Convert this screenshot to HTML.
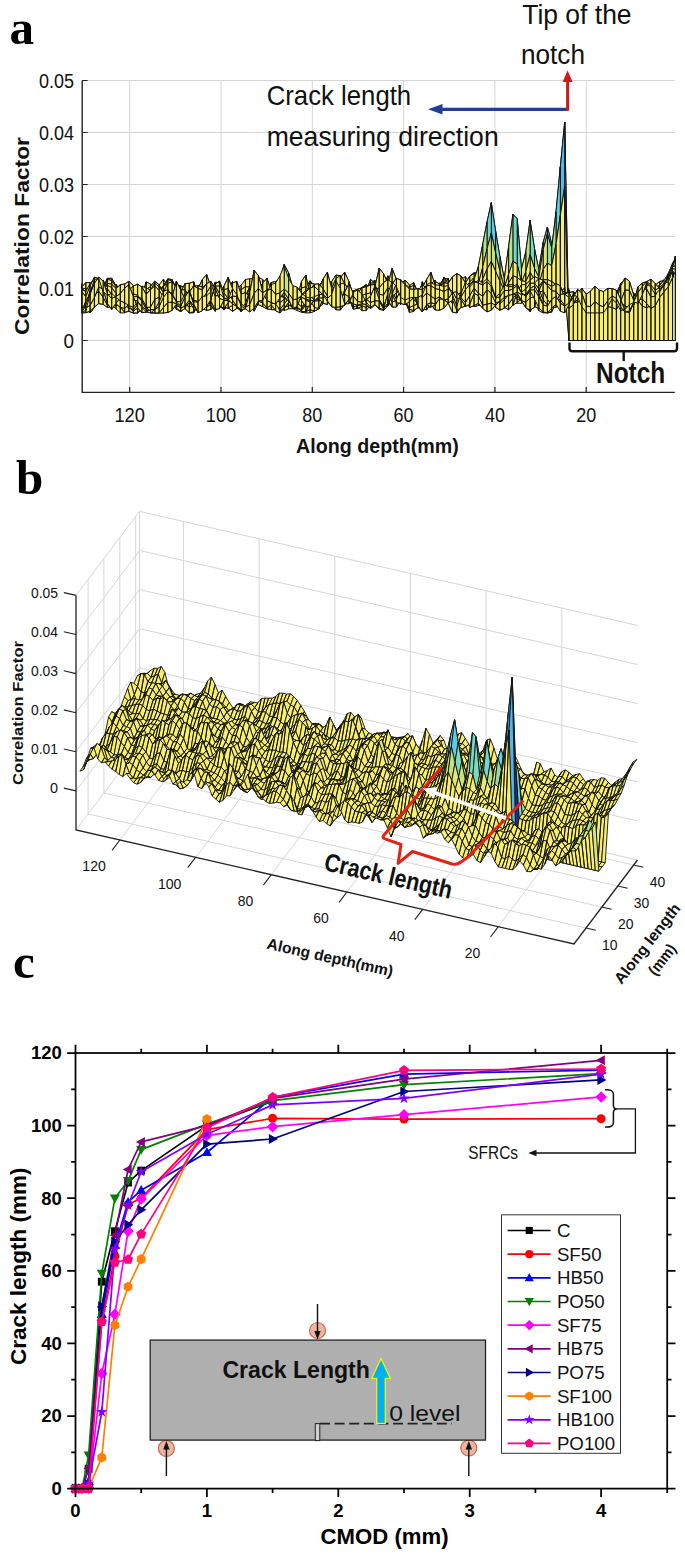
<!DOCTYPE html>
<html><head><meta charset="utf-8"><title>Figure</title>
<style>html,body{margin:0;padding:0;background:#fff}svg{display:block}text{font-family:"Liberation Sans",sans-serif}text.ser{font-family:"Liberation Serif",serif}</style>
</head><body>
<svg width="685" height="1555" viewBox="0 0 685 1555">
<rect width="685" height="1555" fill="#fff"/>
<path d="M586.2,80.5V392.4M494.9,80.5V392.4M403.6,80.5V392.4M312.3,80.5V392.4M221.0,80.5V392.4M129.7,80.5V392.4M82.2,80.5H674.8M82.2,132.5H674.8M82.2,184.5H674.8M82.2,236.5H674.8M82.2,288.5H674.8M82.2,340.5H674.8" stroke="#d4d4d4" stroke-width="1" fill="none"/>
<g stroke="#111" stroke-width="1" stroke-linejoin="round">
<path fill="#b3e286" d="M675.3,258.8l-2.8,5.6 0-1.4 2.8-4.1z"/>
<path fill="#c2e57f" d="M672.5,264.4l-4.3,9.4 0,1.1 4.3-11.9z"/>
<path fill="#e6eb71" d="M668.2,273.8l-4.3,7.5 0,3.9 4.3-10.3z"/>
<path fill="#f6ee6c" d="M663.9,281.3l-4.3,8.2 0-0.8 4.3-3.5zM659.6,289.5l-4.4,3.6 0-2.3 4.4-2.1zM655.2,293.1l-4.3,1.4 0,0.9 4.3-4.6zM650.9,294.5l-4.3,4.3 0,2.3 4.3-5.7zM646.6,298.8l-4.3,0.2 0-0.6 4.3,2.7zM642.3,299l-4.3-1.7 0-3.6 4.3,4.7zM638,297.3l-4.3,2.7 0-5.8 4.3-0.5zM633.7,300l-4.3,2.5 0-3.7 4.3-4.6zM629.4,302.5l-4.4-5.7 0,1.8 4.4,0.2zM625,296.8l-4.3-0.2 0,3.8 4.3-1.8zM620.7,296.6l-4.3,5.5 0,4.6 4.3-6.3zM616.4,302.1l-4.3-2.7 0,1.8 4.3,5.5zM612.1,299.4l-4.3-4.1 0-0.2 4.3,6.1zM607.8,295.3l-4.3-0.1 0,2.3 4.3-2.4zM603.5,295.2l-4.3,3.8 0,0.9 4.3-2.4zM599.2,299l-4.3,3.5 0-5.6 4.3,3zM594.9,302.5l-4.4-4.5 0-3.3 4.4,2.2zM590.5,298l-4.3,0.6 0-0.5 4.3-3.4zM586.2,298.6l-4.3,8.7 0-0.2 4.3-9zM581.9,307.3l-4.3,0.3 0-3 4.3,2.5zM577.6,307.6l-4.3-4.7 0-6.4 4.3,8.1zM573.3,302.9l-4.3-1.4 0-0.7 4.3-4.3zM569,301.5l-4.3,0.1 0,2.3 4.3-3.1zM564.7,301.6l-4.4,1.8 0-9.4 4.4,9.9zM560.3,303.4l-4.3,0.9 0-11.3 4.3,1zM556,304.3l-4.3,6.9 0,1 4.3-19.2zM551.7,311.2l-4.3,1.7 0,0 4.3-0.7zM547.4,312.9l-4.3-1.8 0,1.8 4.3,0zM543.1,311.1l-4.3-5 0,4.6 4.3,2.2zM538.8,306.1l-4.3-12.2 0,6.6 4.3,10.2zM534.5,293.9l-4.4-10.8 0,8.6 4.4,8.8zM530.1,283.1l-4.3,4.7 0,10.5 4.3-6.6zM525.8,287.8l-4.3,10.4 0,5.2 4.3-5.1zM521.5,298.2l-4.3,4.3 0,0.7 4.3,0.2zM517.2,302.5l-4.3,2.7 0-1.6 4.3-0.4zM512.9,305.2l-4.3,0.4 0-4.7 4.3,2.7zM508.6,305.6l-4.3-5.1 0-13.2 4.3,13.6zM504.3,300.5l-4.4-7.8 0-16.5 4.4,11.1zM499.9,292.7l-4.3-2.6 0-11.5 4.3-2.4zM495.6,290.1l-4.3,4.6 0-1.6 4.3-14.5zM491.3,294.7l-4.3,7.2 0-3.5 4.3-5.3zM487,301.9l-4.3,2.2 0-6.5 4.3,0.8zM482.7,304.1l-4.3-6.4 0-1.8 4.3,1.7zM478.4,297.7l-4.3-9.8 0,2.1 4.3,5.9zM474.1,287.9l-4.4-3.7 0-1.1 4.4,6.9zM469.7,284.2l-4.3,1.5 0-9.1 4.3,6.5zM465.4,285.7l-4.3,7.6 0-13.8 4.3-2.9zM461.1,293.3l-4.3,5.5 0-1.3 4.3-18zM456.8,298.8l-4.3,3.9 0,4.1 4.3-9.3zM452.5,302.7l-4.3-1.7 0,3 4.3,2.8zM448.2,301l-4.3-13.3 0,4.3 4.3,12zM443.9,287.7l-4.4,0 0-0.7 4.4,5zM439.5,287.7l-4.3,13.7 0-7.9 4.3-6.5zM435.2,301.4l-4.3,5.5 0-8 4.3-5.4zM430.9,306.9l-4.3,0.6 0-18.4 4.3,9.8zM426.6,307.5l-4.3,2.6 0-28.5 4.3,7.5zM422.3,310.1l-4.3-2.6 0-8.7 4.3-17.2zM418,307.5l-4.3-7.8 0,11.7 4.3-12.6zM413.7,299.7l-4.3,0 0,12.7 4.3-1zM409.4,299.7l-4.4-3 0,3.8 4.4,11.9zM405,296.7l-4.3-4.2 0,1.6 4.3,6.4zM400.7,292.5l-4.3,3.8 0,2.7 4.3-4.9zM396.4,296.3l-4.3-0.2 0,5.1 4.3-2.2zM392.1,296.1l-4.3,0.8 0,9.2 4.3-4.9zM387.8,296.9l-4.3,0.1 0,13.5 4.3-4.4zM383.5,297l-4.3-3.8 0,16.1 4.3,1.2zM379.2,293.2l-4.4,0.8 0,10 4.4,5.3zM374.8,294l-4.3,1.6 0,9.3 4.3-0.9zM370.5,295.6l-4.3,1.4 0,13.6 4.3-5.7zM366.2,297l-4.3,3.1 0,10.6 4.3-0.1zM361.9,300.1l-4.3,6.2 0,0.1 4.3,4.3zM357.6,306.3l-4.3,0.6 0-1.8 4.3,1.3zM353.3,306.9l-4.3-12.3 0,6.7 4.3,3.8z"/>
<path fill="#f0ed6e" d="M349,294.6l-4.4-17.4 0,11.6 4.4,12.5z"/>
<path fill="#f6ee6c" d="M344.6,277.2l-4.3,4.6 0,4.2 4.3,2.8zM340.3,281.8l-4.3,8.7 0-2.7 4.3-1.8zM336,290.5l-4.3,3 0-10 4.3,4.3zM331.7,293.5l-4.3,2.2 0-9.6 4.3-2.6zM327.4,295.7l-4.3,7.9 0-7 4.3-10.5zM323.1,303.6l-4.3,3.7 0-2.6 4.3-8.1zM318.8,307.3l-4.4-9.2 0,13.3 4.4-6.7zM314.4,298.1l-4.3-8.6 0,23.4 4.3-1.5zM310.1,289.5l-4.3,11.8 0,11.6 4.3,0zM305.8,301.3l-4.3,5 0,6 4.3,0.6zM301.5,306.3l-4.3-4.2 0,8.5 4.3,1.7zM297.2,302.1l-4.3,1.5 0,5.1 4.3,1.9zM292.9,303.6l-4.3,2.3 0,3 4.3-0.2zM288.6,305.9l-4.4,1.2 0,3.6 4.4-1.8zM284.2,307.1l-4.3-3 0,0.5 4.3,6.1zM279.9,304.1l-4.3-3.9 0-4 4.3,8.4zM275.6,300.2l-4.3-6.3 0-4.5 4.3,6.8zM271.3,293.9l-4.3-7.1 0-2.8 4.3,5.4zM267,286.8l-4.3-1.2 0-6.2 4.3,4.6zM262.7,285.6l-4.3-4 0-4.3 4.3,2.1zM258.4,281.6l-4.3,2.1 0-4.9 4.3-1.5zM254.1,283.7l-4.4,3.3 0-8.3 4.4,0.1zM249.7,287l-4.3-0.2 0-7.3 4.3-0.8zM245.4,286.8l-4.3,2.8 0-4.4 4.3-5.7zM241.1,289.6l-4.3,2.1 0-3.3 4.3-3.2zM236.8,291.7l-4.3,4.5 0-6.4 4.3-1.4zM232.5,296.2l-4.3,7.5 0-13.2 4.3-0.7zM228.2,303.7l-4.3,0.7 0-12.1 4.3-1.8zM223.9,304.4l-4.4-4.6 0-0.8 4.4-6.7zM219.5,299.8l-4.3-3.5 0,3.3 4.3-0.6zM215.2,296.3l-4.3,1 0,2.6 4.3-0.3zM210.9,297.3l-4.3,4.5 0,7.1 4.3-9zM206.6,301.8l-4.3-1.5 0,5.7 4.3,2.9zM202.3,300.3l-4.3,0.8 0,4.1 4.3,0.8zM198,301.1l-4.3,10.7 0,1.1 4.3-7.7zM193.7,311.8l-4.4,1.1 0,0 4.4,0zM189.3,312.9l-4.3-4.3 0-1.3 4.3,5.6zM185,308.6l-4.3-4.1 0-4.1 4.3,6.9zM180.7,304.5l-4.3-2.3 0-9.3 4.3,7.5zM176.4,302.2l-4.3-0.4 0-4 4.3-4.9zM172.1,301.8l-4.3-1.4 0-12.6 4.3,10zM167.8,300.4l-4.3-4.7 0-16.7 4.3,8.8zM163.5,295.7l-4.4-0.8 0-9.8 4.4-6.1zM159.1,294.9l-4.3,5.4 0-4.4 4.3-10.8zM154.8,300.3l-4.3,2.9 0,0.2 4.3-7.5zM150.5,303.2l-4.3-0.5 0,3.3 4.3-2.6zM146.2,302.7l-4.3,5 0,1.7 4.3-3.4zM141.9,307.7l-4.3,5.2 0,0 4.3-3.5zM137.6,312.9l-4.3,0 0,0 4.3,0zM133.3,312.9l-4.4-1.6 0-1.5 4.4,3.1zM128.9,311.3l-4.3,1 0,0.6 4.3-3.1zM124.6,312.3l-4.3-5.5 0,6.1 4.3,0zM120.3,306.8l-4.3-10.2 0,12.4 4.3,3.9zM116,296.6l-4.3,2.6 0,5.8 4.3,4zM111.7,299.2l-4.3-3.8 0-8.3 4.3,17.9zM107.4,295.4l-4.3-10.6 0-4.8 4.3,7.1zM103.1,284.8l-4.4,3.2 0-4.4 4.4-3.6zM98.7,288l-4.3,3.1 0-6.5 4.3-1zM94.4,291.1l-4.3-4.2 0,1.7 4.3-4zM90.1,286.9l-4.3,2 0,5.2 4.3-5.5zM85.8,288.9l-4.3,4.2 0,1.1 4.3-0.1z"/>
<path fill="#b3e286" d="M675.3,260.4l-2.8,8.5 0-4.5 2.8-5.6z"/>
<path fill="#c7e67d" d="M672.5,268.9l-4.3,9.4 0-4.5 4.3-9.4z"/>
<path fill="#e6eb71" d="M668.2,278.3l-4.3,2.9 0,0.1 4.3-7.5z"/>
<path fill="#f6ee6c" d="M663.9,281.2l-4.3,3.2 0,5.1 4.3-8.2zM659.6,284.4l-4.4,3.9 0,4.8 4.4-3.6zM655.2,288.3l-4.3,10.1 0-3.9 4.3-1.4zM650.9,298.4l-4.3,9.1 0-8.7 4.3-4.3zM646.6,307.5l-4.3-2.6 0-5.9 4.3-0.2zM642.3,304.9l-4.3-4.6 0-3 4.3,1.7zM638,300.3l-4.3,2.8 0-3.1 4.3-2.7zM633.7,303.1l-4.3,4.3 0-4.9 4.3-2.5zM629.4,307.4l-4.4-6 0-4.6 4.4,5.7zM625,301.4l-4.3-2 0-2.8 4.3,0.2zM620.7,299.4l-4.3,4.4 0-1.7 4.3-5.5zM616.4,303.8l-4.3-2.3 0-2.1 4.3,2.7zM612.1,301.5l-4.3-4.7 0-1.5 4.3,4.1zM607.8,296.8l-4.3-2.2 0,0.6 4.3,0.1zM603.5,294.6l-4.3,2.9 0,1.5 4.3-3.8zM599.2,297.5l-4.3,4 0,1 4.3-3.5zM594.9,301.5l-4.4-2.8 0-0.7 4.4,4.5zM590.5,298.7l-4.3,1.8 0-1.9 4.3-0.6zM586.2,300.5l-4.3,5.5 0,1.3 4.3-8.7zM581.9,306l-4.3,0.1 0,1.5 4.3-0.3zM577.6,306.1l-4.3,0.9 0-4.1 4.3,4.7zM573.3,307l-4.3-1.9 0-3.6 4.3,1.4zM569,305.1l-4.3-7.3 0,3.8 4.3-0.1zM564.7,297.8l-4.4,5.7 0-0.1 4.4-1.8zM560.3,303.5l-4.3,3.7 0-2.9 4.3-0.9zM556,307.2l-4.3-0.3 0,4.3 4.3-6.9zM551.7,306.9l-4.3,3.4 0,2.6 4.3-1.7zM547.4,310.3l-4.3-2.5 0,3.3 4.3,1.8zM543.1,307.8l-4.3-4 0,2.3 4.3,5zM538.8,303.8l-4.3-2.9 0-7 4.3,12.2zM534.5,300.9l-4.4-8.8 0-9 4.4,10.8zM530.1,292.1l-4.3-1.8 0-2.5 4.3-4.7zM525.8,290.3l-4.3,6.7 0,1.2 4.3-10.4zM521.5,297l-4.3-0.6 0,6.1 4.3-4.3zM517.2,296.4l-4.3-1.7 0,10.5 4.3-2.7zM512.9,294.7l-4.3,2.7 0,8.2 4.3-0.4zM508.6,297.4l-4.3-0.5 0,3.6 4.3,5.1zM504.3,296.9l-4.4-2.9 0-1.3 4.4,7.8zM499.9,294l-4.3-5.5 0,1.6 4.3,2.6zM495.6,288.5l-4.3-0.1 0,6.3 4.3-4.6zM491.3,288.4l-4.3,6.3 0,7.2 4.3-7.2zM487,294.7l-4.3,0.8 0,8.6 4.3-2.2zM482.7,295.5l-4.3-6.1 0,8.3 4.3,6.4zM478.4,289.4l-4.3-4.3 0,2.8 4.3,9.8zM474.1,285.1l-4.4-1 0,0.1 4.4,3.7zM469.7,284.1l-4.3,2.7 0-1.1 4.3-1.5zM465.4,286.8l-4.3,4 0,2.5 4.3-7.6zM461.1,290.8l-4.3-1.5 0,9.5 4.3-5.5zM456.8,289.3l-4.3,1.1 0,12.3 4.3-3.9zM452.5,290.4l-4.3-3.2 0,13.8 4.3,1.7zM448.2,287.2l-4.3-6.8 0,7.3 4.3,13.3zM443.9,280.4l-4.4,5.9 0,1.4 4.4,0zM439.5,286.3l-4.3,11.1 0,4 4.3-13.7zM435.2,297.4l-4.3,4.5 0,5 4.3-5.5zM430.9,301.9l-4.3,1 0,4.6 4.3-0.6zM426.6,302.9l-4.3-5.1 0,12.3 4.3-2.6zM422.3,297.8l-4.3-5.1 0,14.8 4.3,2.6zM418,292.7l-4.3-9.9 0,16.9 4.3,7.8zM413.7,282.8l-4.3,2.8 0,14.1 4.3,0zM409.4,285.6l-4.4,6 0,5.1 4.4,3zM405,291.6l-4.3-2.9 0,3.8 4.3,4.2zM400.7,288.7l-4.3,2.8 0,4.8 4.3-3.8zM396.4,291.5l-4.3,1.8 0,2.8 4.3,0.2zM392.1,293.3l-4.3,0.3 0,3.3 4.3-0.8zM387.8,293.6l-4.3-1.7 0,5.1 4.3-0.1zM383.5,291.9l-4.3-5.4 0,6.7 4.3,3.8zM379.2,286.5l-4.4,4.2 0,3.3 4.4-0.8zM374.8,290.7l-4.3,4.5 0,0.4 4.3-1.6zM370.5,295.2l-4.3-0.4 0,2.2 4.3-1.4zM366.2,294.8l-4.3,5 0,0.3 4.3-3.1zM361.9,299.8l-4.3,8.5 0-2 4.3-6.2zM357.6,308.3l-4.3,0.8 0-2.2 4.3-0.6zM353.3,309.1l-4.3-10.8 0-3.7 4.3,12.3zM349,298.3l-4.4-6.9 0-14.2 4.4,17.4zM344.6,291.4l-4.3-1.3 0-8.3 4.3-4.6zM340.3,290.1l-4.3-3.3 0,3.7 4.3-8.7zM336,286.8l-4.3,0 0,6.7 4.3-3zM331.7,286.8l-4.3,3 0,5.9 4.3-2.2zM327.4,289.8l-4.3,7.9 0,5.9 4.3-7.9zM323.1,297.7l-4.3,11.2 0-1.6 4.3-3.7zM318.8,308.9l-4.4,2.2 0-13 4.4,9.2zM314.4,311.1l-4.3-1.5 0-20.1 4.3,8.6zM310.1,309.6l-4.3,1.8 0-10.1 4.3-11.8zM305.8,311.4l-4.3-3.8 0-1.3 4.3-5zM301.5,307.6l-4.3-8.7 0,3.2 4.3,4.2zM297.2,298.9l-4.3-1.3 0,6 4.3-1.5zM292.9,297.6l-4.3-4.5 0,12.8 4.3-2.3zM288.6,293.1l-4.4-4.8 0,18.8 4.4-1.2zM284.2,288.3l-4.3,2.8 0,13 4.3,3zM279.9,291.1l-4.3,3.8 0,5.3 4.3,3.9zM275.6,294.9l-4.3,0.2 0-1.2 4.3,6.3zM271.3,295.1l-4.3,1 0-9.3 4.3,7.1zM267,296.1l-4.3-5.2 0-5.3 4.3,1.2z"/>
<path fill="#efed6e" d="M262.7,290.9l-4.3-14 0,4.7 4.3,4z"/>
<path fill="#f6ee6c" d="M258.4,276.9l-4.3,3.1 0,3.7 4.3-2.1zM254.1,280l-4.4,11.2 0-4.2 4.4-3.3zM249.7,291.2l-4.3,8.5 0-12.9 4.3,0.2zM245.4,299.7l-4.3,0.7 0-10.8 4.3-2.8zM241.1,300.4l-4.3-4.5 0-4.2 4.3-2.1zM236.8,295.9l-4.3,0.6 0-0.3 4.3-4.5zM232.5,296.5l-4.3,8.8 0-1.6 4.3-7.5zM228.2,305.3l-4.3,3 0-3.9 4.3-0.7zM223.9,308.3l-4.4-9 0,0.5 4.4,4.6zM219.5,299.3l-4.3-7.2 0,4.2 4.3,3.5zM215.2,292.1l-4.3,4.3 0,0.9 4.3-1zM210.9,296.4l-4.3,5.6 0-0.2 4.3-4.5zM206.6,302l-4.3,1.3 0-3 4.3,1.5zM202.3,303.3l-4.3-2 0-0.2 4.3-0.8zM198,301.3l-4.3,2.5 0,8 4.3-10.7zM193.7,303.8l-4.4,3.8 0,5.3 4.4-1.1zM189.3,307.6l-4.3-4.8 0,5.8 4.3,4.3zM185,302.8l-4.3-3.6 0,5.3 4.3,4.1zM180.7,299.2l-4.3,1.9 0,1.1 4.3,2.3zM176.4,301.1l-4.3-2.2 0,2.9 4.3,0.4zM172.1,298.9l-4.3-0.9 0,2.4 4.3,1.4zM167.8,298l-4.3-1.2 0-1.1 4.3,4.7zM163.5,296.8l-4.4-1.9 0,0 4.4,0.8zM159.1,294.9l-4.3,1.7 0,3.7 4.3-5.4zM154.8,296.6l-4.3-1.2 0,7.8 4.3-2.9zM150.5,295.4l-4.3-1.5 0,8.8 4.3,0.5zM146.2,293.9l-4.3,2.9 0,10.9 4.3-5zM141.9,296.8l-4.3,5.4 0,10.7 4.3-5.2zM137.6,302.2l-4.3,5.6 0,5.1 4.3,0zM133.3,307.8l-4.4,0.7 0,2.8 4.4,1.6zM128.9,308.5l-4.3-4.9 0,8.7 4.3-1zM124.6,303.6l-4.3-11.1 0,14.3 4.3,5.5zM120.3,292.5l-4.3-8.4 0,12.5 4.3,10.2zM116,284.1l-4.3,5.4 0,9.7 4.3-2.6zM111.7,289.5l-4.3,8.7 0-2.8 4.3,3.8zM107.4,298.2l-4.3-4.7 0-8.7 4.3,10.6zM103.1,293.5l-4.4-1.1 0-4.4 4.4-3.2zM98.7,292.4l-4.3-1.2 0-0.1 4.3-3.1zM94.4,291.2l-4.3-8.6 0,4.3 4.3,4.2zM90.1,282.6l-4.3,0.1 0,6.2 4.3-2zM85.8,282.7l-4.3,4.6 0,5.8 4.3-4.2z"/>
<path fill="#b9e383" d="M675.3,263.2l-2.8,7.8 0-2.1 2.8-8.5z"/>
<path fill="#d7e876" d="M672.5,271l-4.3,8 0-0.7 4.3-9.4z"/>
<path fill="#f3ee6d" d="M668.2,279l-4.3,1.7 0,0.5 4.3-2.9z"/>
<path fill="#f6ee6c" d="M663.9,280.7l-4.3,0.8 0,2.9 4.3-3.2zM659.6,281.5l-4.4,3.8 0,3 4.4-3.9zM655.2,285.3l-4.3,10.6 0,2.5 4.3-10.1zM650.9,295.9l-4.3,11.1 0,0.5 4.3-9.1zM646.6,307l-4.3-1.2 0-0.9 4.3,2.6zM642.3,305.8l-4.3-7 0,1.5 4.3,4.6zM638,298.8l-4.3-2 0,6.3 4.3-2.8zM633.7,296.8l-4.3,4.4 0,6.2 4.3-4.3zM629.4,301.2l-4.4,3.1 0-2.9 4.4,6zM625,304.3l-4.3-2.5 0-2.4 4.3,2zM620.7,301.8l-4.3-1.2 0,3.2 4.3-4.4zM616.4,300.6l-4.3,0.9 0,0 4.3,2.3zM612.1,301.5l-4.3-1.4 0-3.3 4.3,4.7zM607.8,300.1l-4.3-3.2 0-2.3 4.3,2.2zM603.5,296.9l-4.3-1.6 0,2.2 4.3-2.9zM599.2,295.3l-4.3-0.6 0,6.8 4.3-4zM594.9,294.7l-4.4,1.8 0,2.2 4.4,2.8zM590.5,296.5l-4.3,5.5 0-1.5 4.3-1.8zM586.2,302l-4.3,1 0,3 4.3-5.5zM581.9,303l-4.3-2.2 0,5.3 4.3-0.1zM577.6,300.8l-4.3,0.3 0,5.9 4.3-0.9zM573.3,301.1l-4.3-3.7 0,7.7 4.3,1.9zM569,297.4l-4.3-6.8 0,7.2 4.3,7.3zM564.7,290.6l-4.4,5 0,7.9 4.4-5.7zM560.3,295.6l-4.3,2.8 0,8.8 4.3-3.7zM556,298.4l-4.3-5.5 0,14 4.3,0.3zM551.7,292.9l-4.3,3.9 0,13.5 4.3-3.4zM547.4,296.8l-4.3,0.2 0,10.8 4.3,2.5zM543.1,297l-4.3-0.4 0,7.2 4.3,4zM538.8,296.6l-4.3,8.9 0-4.6 4.3,2.9zM534.5,305.5l-4.4,0 0-13.4 4.4,8.8zM530.1,305.5l-4.3-5.9 0-9.3 4.3,1.8zM525.8,299.6l-4.3,1.1 0-3.7 4.3-6.7zM521.5,300.7l-4.3-2.1 0-2.2 4.3,0.6zM517.2,298.6l-4.3-5.3 0,1.4 4.3,1.7zM512.9,293.3l-4.3-3.2 0,7.3 4.3-2.7zM508.6,290.1l-4.3-5 0,11.8 4.3,0.5zM504.3,285.1l-4.4-2.2 0,11.1 4.4,2.9zM499.9,282.9l-4.3,0.6 0,5 4.3,5.5zM495.6,283.5l-4.3,3.4 0,1.5 4.3,0.1zM491.3,286.9l-4.3,2.5 0,5.3 4.3-6.3zM487,289.4l-4.3-3.7 0,9.8 4.3-0.8zM482.7,285.7l-4.3-1.4 0,5.1 4.3,6.1zM478.4,284.3l-4.3,4.8 0-4 4.3,4.3zM474.1,289.1l-4.4,2.3 0-7.3 4.4,1zM469.7,291.4l-4.3-1.9 0-2.7 4.3-2.7zM465.4,289.5l-4.3,1.9 0-0.6 4.3-4zM461.1,291.4l-4.3,2 0-4.1 4.3,1.5zM456.8,293.4l-4.3-1.4 0-1.6 4.3-1.1zM452.5,292l-4.3-8.5 0,3.7 4.3,3.2zM448.2,283.5l-4.3-3.8 0,0.7 4.3,6.8zM443.9,279.7l-4.4,9.7 0-3.1 4.4-5.9zM439.5,289.4l-4.3,7.6 0,0.4 4.3-11.1zM435.2,297l-4.3,5.3 0-0.4 4.3-4.5zM430.9,302.3l-4.3,7.7 0-7.1 4.3-1zM426.6,310l-4.3-1.6 0-10.6 4.3,5.1zM422.3,308.4l-4.3-10.3 0-5.4 4.3,5.1zM418,298.1l-4.3-11.7 0-3.6 4.3,9.9zM413.7,286.4l-4.3,1 0-1.8 4.3-2.8zM409.4,287.4l-4.4,7.2 0-3 4.4-6zM405,294.6l-4.3,0.4 0-6.3 4.3,2.9zM400.7,295l-4.3-1.8 0-1.7 4.3-2.8zM396.4,293.2l-4.3-8.4 0,8.5 4.3-1.8z"/>
<path fill="#ecec6f" d="M392.1,284.8l-4.3-8.9 0,17.7 4.3-0.3z"/>
<path fill="#f6ee6c" d="M387.8,275.9l-4.3,10.2 0,5.8 4.3,1.7zM383.5,286.1l-4.3,1 0-0.6 4.3,5.4zM379.2,287.1l-4.4-3.7 0,7.3 4.4-4.2zM374.8,283.4l-4.3,2.6 0,9.2 4.3-4.5zM370.5,286l-4.3,6 0,2.8 4.3,0.4zM366.2,292l-4.3,1.8 0,6 4.3-5zM361.9,293.8l-4.3,2.4 0,12.1 4.3-8.5zM357.6,296.2l-4.3-0.4 0,13.3 4.3-0.8zM353.3,295.8l-4.3-14 0,16.5 4.3,10.8z"/>
<path fill="#e1ea73" d="M349,281.8l-4.4-9.6 0,19.2 4.4,6.9z"/>
<path fill="#f2ed6d" d="M344.6,272.2l-4.3,5.6 0,12.3 4.3,1.3z"/>
<path fill="#efed6e" d="M340.3,277.8l-4.3-1.1 0,10.1 4.3,3.3z"/>
<path fill="#f6ee6c" d="M336,276.7l-4.3,8.1 0,2 4.3,0zM331.7,284.8l-4.3,7.4 0-2.4 4.3-3zM327.4,292.2l-4.3,6.5 0-1 4.3-7.9zM323.1,298.7l-4.3,9.8 0,0.4 4.3-11.2zM318.8,308.5l-4.4-1.1 0,3.7 4.4-2.2zM314.4,307.4l-4.3-7.2 0,9.4 4.3,1.5zM310.1,300.2l-4.3-2.3 0,13.5 4.3-1.8zM305.8,297.9l-4.3-5.4 0,15.1 4.3,3.8zM301.5,292.5l-4.3,3.7 0,2.7 4.3,8.7zM297.2,296.2l-4.3,3.7 0-2.3 4.3,1.3zM292.9,299.9l-4.3-12.5 0,5.7 4.3,4.5zM288.6,287.4l-4.4-7.9 0,8.8 4.4,4.8zM284.2,279.5l-4.3,3.1 0,8.5 4.3-2.8zM279.9,282.6l-4.3,2 0,10.3 4.3-3.8zM275.6,284.6l-4.3,3.3 0,7.2 4.3-0.2zM271.3,287.9l-4.3,8.9 0-0.7 4.3-1zM267,296.8l-4.3,3.2 0-9.1 4.3,5.2zM262.7,300l-4.3-1.8 0-21.3 4.3,14zM258.4,298.2l-4.3-4.5 0-13.7 4.3-3.1zM254.1,293.7l-4.4,0.2 0-2.7 4.4-11.2zM249.7,293.9l-4.3,8.5 0-2.7 4.3-8.5zM245.4,302.4l-4.3,2.7 0-4.7 4.3-0.7zM241.1,305.1l-4.3-1.8 0-7.4 4.3,4.5zM236.8,303.3l-4.3-0.9 0-5.9 4.3-0.6zM232.5,302.4l-4.3,3.5 0-0.6 4.3-8.8zM228.2,305.9l-4.3,3.8 0-1.4 4.3-3zM223.9,309.7l-4.4-3.9 0-6.5 4.4,9zM219.5,305.8l-4.3-4.4 0-9.3 4.3,7.2zM215.2,301.4l-4.3,3.9 0-8.9 4.3-4.3zM210.9,305.3l-4.3,2.9 0-6.2 4.3-5.6zM206.6,308.2l-4.3,0.4 0-5.3 4.3-1.3zM202.3,308.6l-4.3-1.9 0-5.4 4.3,2zM198,306.7l-4.3-5.5 0,2.6 4.3-2.5zM193.7,301.2l-4.4-5.7 0,12.1 4.4-3.8zM189.3,295.5l-4.3-5.6 0,12.9 4.3,4.8zM185,289.9l-4.3-1.9 0,11.2 4.3,3.6zM180.7,288l-4.3,1.5 0,11.6 4.3-1.9zM176.4,289.5l-4.3-1.8 0,11.2 4.3,2.2zM172.1,287.7l-4.3-0.6 0,10.9 4.3,0.9zM167.8,287.1l-4.3,2.3 0,7.4 4.3,1.2zM163.5,289.4l-4.4,3.6 0,1.9 4.4,1.9zM159.1,293l-4.3,2.6 0,1 4.3-1.7zM154.8,295.6l-4.3-1.5 0,1.3 4.3,1.2zM150.5,294.1l-4.3-2.5 0,2.3 4.3,1.5zM146.2,291.6l-4.3-0.9 0,6.1 4.3-2.9zM141.9,290.7l-4.3,2.1 0,9.4 4.3-5.4zM137.6,292.8l-4.3,6.2 0,8.8 4.3-5.6zM133.3,299l-4.4,2.7 0,6.8 4.4-0.7zM128.9,301.7l-4.3-3.4 0,5.3 4.3,4.9zM124.6,298.3l-4.3-5.3 0-0.5 4.3,11.1zM120.3,293l-4.3-6.8 0-2.1 4.3,8.4zM116,286.2l-4.3-2.2 0,5.5 4.3-5.4zM111.7,284l-4.3,8.3 0,5.9 4.3-8.7zM107.4,292.3l-4.3,7.6 0-6.4 4.3,4.7zM103.1,299.9l-4.4-1.8 0-5.7 4.4,1.1zM98.7,298.1l-4.3,2.2 0-9.1 4.3,1.2zM94.4,300.3l-4.3,0.6 0-18.3 4.3,8.6zM90.1,300.9l-4.3-6.6 0-11.6 4.3-0.1zM85.8,294.3l-4.3-3.1 0-3.9 4.3-4.6z"/>
<path fill="#c3e57f" d="M675.3,270.9l-2.8,6.1 0-6 2.8-7.8z"/>
<path fill="#dde974" d="M672.5,277l-4.3,7.2 0-5.2 4.3-8z"/>
<path fill="#f6ee6c" d="M668.2,284.2l-4.3,4 0-7.5 4.3-1.7zM663.9,288.2l-4.3,4.1 0-10.8 4.3-0.8zM659.6,292.3l-4.4,1.3 0-8.3 4.4-3.8zM655.2,293.6l-4.3,2.3 0,0 4.3-10.6zM650.9,295.9l-4.3,10.1 0,1 4.3-11.1zM646.6,306l-4.3,5.4 0-5.6 4.3,1.2zM642.3,311.4l-4.3-4.7 0-7.9 4.3,7zM638,306.7l-4.3-8.4 0-1.5 4.3,2zM633.7,298.3l-4.3-1.1 0,4 4.3-4.4zM629.4,297.2l-4.4,5.9 0,1.2 4.4-3.1zM625,303.1l-4.3-1.7 0,0.4 4.3,2.5zM620.7,301.4l-4.3-5.2 0,4.4 4.3,1.2zM616.4,296.2l-4.3,2.9 0,2.4 4.3-0.9zM612.1,299.1l-4.3,3.9 0-2.9 4.3,1.4zM607.8,303l-4.3-3.5 0-2.6 4.3,3.2zM603.5,299.5l-4.3-4.7 0,0.5 4.3,1.6zM599.2,294.8l-4.3-0.8 0,0.7 4.3,0.6zM594.9,294l-4.4,4.4 0-1.9 4.4-1.8zM590.5,298.4l-4.3,7.7 0-4.1 4.3-5.5zM586.2,306.1l-4.3-1.4 0-1.7 4.3-1zM581.9,304.7l-4.3-3.5 0-0.4 4.3,2.2zM577.6,301.2l-4.3-1.3 0,1.2 4.3-0.3zM573.3,299.9l-4.3-10 0,7.5 4.3,3.7zM569,289.9l-4.3-6.1 0,6.8 4.3,6.8zM564.7,283.8l-4.4,3.5 0,8.3 4.4-5zM560.3,287.3l-4.3-0.1 0,11.2 4.3-2.8zM556,287.2l-4.3-6.4 0,12.1 4.3,5.5zM551.7,280.8l-4.3-0.6 0,16.6 4.3-3.9zM547.4,280.2l-4.3,2.4 0,14.4 4.3-0.2zM543.1,282.6l-4.3,1.1 0,12.9 4.3,0.4zM538.8,283.7l-4.3,8.6 0,13.2 4.3-8.9zM534.5,292.3l-4.4,6 0,7.2 4.4,0zM530.1,298.3l-4.3-3.6 0,4.9 4.3,5.9zM525.8,294.7l-4.3-0.7 0,6.7 4.3-1.1zM521.5,294l-4.3-1 0,5.6 4.3,2.1zM517.2,293l-4.3-1.7 0,2 4.3,5.3zM512.9,291.3l-4.3-6.5 0,5.3 4.3,3.2z"/>
<path fill="#edec6f" d="M508.6,284.8l-4.3-8.5 0,8.8 4.3,5z"/>
<path fill="#eeed6e" d="M504.3,276.3l-4.4,0.3 0,6.3 4.4,2.2z"/>
<path fill="#f6ee6c" d="M499.9,276.6l-4.3,6.2 0,0.7 4.3-0.6zM495.6,282.8l-4.3,3.7 0,0.4 4.3-3.4zM491.3,286.5l-4.3-0.2 0,3.1 4.3-2.5zM487,286.3l-4.3-7.2 0,6.6 4.3,3.7z"/>
<path fill="#efed6e" d="M482.7,279.1l-4.3-2.2 0,7.4 4.3,1.4z"/>
<path fill="#f6ee6c" d="M478.4,276.9l-4.3,7 0,5.2 4.3-4.8zM474.1,283.9l-4.4,4 0,3.5 4.4-2.3zM469.7,287.9l-4.3-4.3 0,5.9 4.3,1.9zM465.4,283.6l-4.3,0.3 0,7.5 4.3-1.9zM461.1,283.9l-4.3,0.8 0,8.7 4.3-2zM456.8,284.7l-4.3-1.8 0,9.1 4.3,1.4zM452.5,282.9l-4.3-3.5 0,4.1 4.3,8.5z"/>
<path fill="#f3ed6d" d="M448.2,279.4l-4.3-1.3 0,1.6 4.3,3.8z"/>
<path fill="#f6ee6c" d="M443.9,278.1l-4.4,7.2 0,4.1 4.4-9.7zM439.5,285.3l-4.3,5 0,6.7 4.3-7.6zM435.2,290.3l-4.3-0.4 0,12.4 4.3-5.3zM430.9,289.9l-4.3,7.7 0,12.4 4.3-7.7zM426.6,297.6l-4.3,5.4 0,5.4 4.3,1.6zM422.3,303l-4.3-4.1 0-0.8 4.3,10.3zM418,298.9l-4.3-8.8 0-3.7 4.3,11.7zM413.7,290.1l-4.3-4.4 0,1.7 4.3-1zM409.4,285.7l-4.4,5 0,3.9 4.4-7.2zM405,290.7l-4.3,9.8 0-5.5 4.3-0.4zM400.7,300.5l-4.3-1.4 0-5.9 4.3,1.8zM396.4,299.1l-4.3-6.1 0-8.2 4.3,8.4zM392.1,293l-4.3-0.5 0-16.6 4.3,8.9zM387.8,292.5l-4.3,0.7 0-7.1 4.3-10.2zM383.5,293.2l-4.3-5 0-1.1 4.3-1zM379.2,288.2l-4.4-6.1 0,1.3 4.4,3.7zM374.8,282.1l-4.3,3.3 0,0.6 4.3-2.6zM370.5,285.4l-4.3,5.3 0,1.3 4.3-6zM366.2,290.7l-4.3-2.6 0,5.7 4.3-1.8zM361.9,288.1l-4.3,2.4 0,5.7 4.3-2.4zM357.6,290.5l-4.3,2.3 0,3 4.3,0.4zM353.3,292.8l-4.3-0.9 0-10.1 4.3,14zM349,291.9l-4.4,2.6 0-22.3 4.4,9.6zM344.6,294.5l-4.3,1.4 0-18.1 4.3-5.6zM340.3,295.9l-4.3,2.6 0-21.8 4.3,1.1zM336,298.5l-4.3,0.5 0-14.2 4.3-8.1zM331.7,299l-4.3-2.8 0-4 4.3-7.4zM327.4,296.2l-4.3,1.3 0,1.2 4.3-6.5zM323.1,297.5l-4.3,3.2 0,7.8 4.3-9.8zM318.8,300.7l-4.4,0.2 0,6.5 4.4,1.1zM314.4,300.9l-4.3,2.2 0-2.9 4.3,7.2zM310.1,303.1l-4.3,8.4 0-13.6 4.3,2.3zM305.8,311.5l-4.3,0.1 0-19.1 4.3,5.4zM301.5,311.6l-4.3-10.3 0-5.1 4.3-3.7zM297.2,301.3l-4.3-11.4 0,10 4.3-3.7zM292.9,289.9l-4.3-4.4 0,1.9 4.3,12.5zM288.6,285.5l-4.4-2.8 0-3.2 4.4,7.9zM284.2,282.7l-4.3,7.2 0-7.3 4.3-3.1zM279.9,289.9l-4.3,6 0-11.3 4.3-2zM275.6,295.9l-4.3,3.9 0-11.9 4.3-3.3zM271.3,299.8l-4.3,5.4 0-8.4 4.3-8.9zM267,305.2l-4.3-1.2 0-4 4.3-3.2zM262.7,304l-4.3-2.4 0-3.4 4.3,1.8zM258.4,301.6l-4.3-1.4 0-6.5 4.3,4.5zM254.1,300.2l-4.4-0.9 0-5.4 4.4-0.2zM249.7,299.3l-4.3,4.3 0-1.2 4.3-8.5zM245.4,303.6l-4.3,2.7 0-1.2 4.3-2.7zM241.1,306.3l-4.3-0.5 0-2.5 4.3,1.8zM236.8,305.8l-4.3-2.4 0-1 4.3,0.9zM232.5,303.4l-4.3-0.5 0,3 4.3-3.5zM228.2,302.9l-4.3,1.4 0,5.4 4.3-3.8zM223.9,304.3l-4.4,0.1 0,1.4 4.4,3.9zM219.5,304.4l-4.3,1.1 0-4.1 4.3,4.4zM215.2,305.5l-4.3,3.9 0-4.1 4.3-3.9zM210.9,309.4l-4.3,1 0-2.2 4.3-2.9zM206.6,310.4l-4.3-2.1 0,0.3 4.3-0.4zM202.3,308.3l-4.3-0.6 0-1 4.3,1.9zM198,307.7l-4.3-5.3 0-1.2 4.3,5.5zM193.7,302.4l-4.4-9 0,2.1 4.4,5.7zM189.3,293.4l-4.3-2.7 0-0.8 4.3,5.6zM185,290.7l-4.3,2 0-4.7 4.3,1.9zM180.7,292.7l-4.3-3.5 0,0.3 4.3-1.5zM176.4,289.2l-4.3-9.6 0,8.1 4.3,1.8z"/>
<path fill="#f5ee6c" d="M172.1,279.6l-4.3-0.7 0,8.2 4.3,0.6z"/>
<path fill="#f6ee6c" d="M167.8,278.9l-4.3,6.9 0,3.6 4.3-2.3zM163.5,285.8l-4.4,7.2 0,0 4.4-3.6zM159.1,293l-4.3,7.9 0-5.3 4.3-2.6zM154.8,300.9l-4.3,1.6 0-8.4 4.3,1.5zM150.5,302.5l-4.3-7.9 0-3 4.3,2.5zM146.2,294.6l-4.3-4.1 0,0.2 4.3,0.9zM141.9,290.5l-4.3,1 0,1.3 4.3-2.1zM137.6,291.5l-4.3,3.8 0,3.7 4.3-6.2zM133.3,295.3l-4.4,4.3 0,2.1 4.4-2.7zM128.9,299.6l-4.3-2.3 0,1 4.3,3.4zM124.6,297.3l-4.3-4.2 0-0.1 4.3,5.3zM120.3,293.1l-4.3-7 0,0.1 4.3,6.8z"/>
<path fill="#f3ed6d" d="M116,286.1l-4.3-7.8 0,5.7 4.3,2.2z"/>
<path fill="#f4ee6d" d="M111.7,278.3l-4.3,0.1 0,13.9 4.3-8.3z"/>
<path fill="#f6ee6c" d="M107.4,278.4l-4.3,9.6 0,11.9 4.3-7.6zM103.1,288l-4.4,8.3 0,1.8 4.4,1.8zM98.7,296.3l-4.3,11.2 0-7.2 4.3-2.2zM94.4,307.5l-4.3,5.4 0-12 4.3-0.6zM90.1,312.9l-4.3-13.1 0-5.5 4.3,6.6zM85.8,299.8l-4.3-15.9 0,7.3 4.3,3.1z"/>
<path fill="#dde974" d="M675.3,276.2l-2.8,3.1 0-2.3 2.8-6.1z"/>
<path fill="#efed6e" d="M672.5,279.3l-4.3,3.5 0,1.4 4.3-7.2z"/>
<path fill="#f6ee6c" d="M668.2,282.8l-4.3,4.2 0,1.2 4.3-4zM663.9,287l-4.3,7.5 0-2.2 4.3-4.1zM659.6,294.5l-4.4,2.8 0-3.7 4.4-1.3zM655.2,297.3l-4.3-0.2 0-1.2 4.3-2.3zM650.9,297.1l-4.3,12 0-3.1 4.3-10.1zM646.6,309.1l-4.3,6.7 0-4.4 4.3-5.4zM642.3,315.8l-4.3-4.5 0-4.6 4.3,4.7zM638,311.3l-4.3-9.7 0-3.3 4.3,8.4zM633.7,301.6l-4.3-3.9 0-0.5 4.3,1.1zM629.4,297.7l-4.4,2.5 0,2.9 4.4-5.9zM625,300.2l-4.3,0.7 0,0.5 4.3,1.7zM620.7,300.9l-4.3-2.8 0-1.9 4.3,5.2zM616.4,298.1l-4.3-0.5 0,1.5 4.3-2.9zM612.1,297.6l-4.3-0.5 0,5.9 4.3-3.9zM607.8,297.1l-4.3-1.3 0,3.7 4.3,3.5zM603.5,295.8l-4.3,1.1 0-2.1 4.3,4.7zM599.2,296.9l-4.3,3 0-5.9 4.3,0.8zM594.9,299.9l-4.4,3 0-4.5 4.4-4.4zM590.5,302.9l-4.3,5.3 0-2.1 4.3-7.7zM586.2,308.2l-4.3-0.5 0-3 4.3,1.4zM581.9,307.7l-4.3-3.2 0-3.3 4.3,3.5zM577.6,304.5l-4.3,0.4 0-5 4.3,1.3zM573.3,304.9l-4.3-11.8 0-3.2 4.3,10zM569,293.1l-4.3-9.5 0,0.2 4.3,6.1zM564.7,283.6l-4.4,2.5 0,1.2 4.4-3.5zM560.3,286.1l-4.3,0.5 0,0.6 4.3,0.1zM556,286.6l-4.3-6.3 0,0.5 4.3,6.4z"/>
<path fill="#f4ee6d" d="M551.7,280.3l-4.3-1.7 0,1.6 4.3,0.6z"/>
<path fill="#f6ee6c" d="M547.4,278.6l-4.3,3.5 0,0.5 4.3-2.4zM543.1,282.1l-4.3,3.2 0-1.6 4.3-1.1zM538.8,285.3l-4.3,2.9 0,4.1 4.3-8.6zM534.5,288.2l-4.4,0.7 0,9.4 4.4-6zM530.1,288.9l-4.3,0.7 0,5.1 4.3,3.6zM525.8,289.6l-4.3,0.5 0,3.9 4.3,0.7zM521.5,290.1l-4.3-7.1 0,10 4.3,1zM517.2,283l-4.3-2.7 0,11 4.3,1.7z"/>
<path fill="#f3ed6d" d="M512.9,280.3l-4.3-2.1 0,6.6 4.3,6.5z"/>
<path fill="#e7eb71" d="M508.6,278.2l-4.3-4 0,2.1 4.3,8.5z"/>
<path fill="#f0ed6e" d="M504.3,274.2l-4.4,3.1 0-0.7 4.4-0.3z"/>
<path fill="#f6ee6c" d="M499.9,277.3l-4.3,14.7 0-9.2 4.3-6.2zM495.6,292l-4.3,2.9 0-8.4 4.3-3.7zM491.3,294.9l-4.3-5.4 0-3.2 4.3,0.2z"/>
<path fill="#efed6e" d="M487,289.5l-4.3-12.5 0,2.1 4.3,7.2z"/>
<path fill="#e4eb72" d="M482.7,277l-4.3-3.7 0,3.6 4.3,2.2z"/>
<path fill="#eaec70" d="M478.4,273.3l-4.3,1.8 0,8.8 4.3-7z"/>
<path fill="#f6ee6c" d="M474.1,275.1l-4.4,5.3 0,7.5 4.4-4zM469.7,280.4l-4.3,3.6 0-0.4 4.3,4.3zM465.4,284l-4.3-1.6 0,1.5 4.3-0.3zM461.1,282.4l-4.3-2.9 0,5.2 4.3-0.8zM456.8,279.5l-4.3,2.1 0,1.3 4.3,1.8zM452.5,281.6l-4.3,3.4 0-5.6 4.3,3.5zM448.2,285l-4.3-0.3 0-6.6 4.3,1.3zM443.9,284.7l-4.4,5.7 0-5.1 4.4-7.2zM439.5,290.4l-4.3,2.5 0-2.6 4.3-5zM435.2,292.9l-4.3-6.1 0,3.1 4.3,0.4zM430.9,286.8l-4.3,2.4 0,8.4 4.3-7.7zM426.6,289.2l-4.3,11.2 0,2.6 4.3-5.4zM422.3,300.4l-4.3,4.3 0-5.8 4.3,4.1zM418,304.7l-4.3-2.6 0-12 4.3,8.8zM413.7,302.1l-4.3-8.6 0-7.8 4.3,4.4zM409.4,293.5l-4.4,0 0-2.8 4.4-5zM405,293.5l-4.3,10.9 0-3.9 4.3-9.8zM400.7,304.4l-4.3-4.1 0-1.2 4.3,1.4zM396.4,300.3l-4.3-9.6 0,2.3 4.3,6.1zM392.1,290.7l-4.3-0.5 0,2.3 4.3,0.5zM387.8,290.2l-4.3-1.4 0,4.4 4.3-0.7zM383.5,288.8l-4.3-4.5 0,3.9 4.3,5zM379.2,284.3l-4.4-3.7 0,1.5 4.4,6.1zM374.8,280.6l-4.3,2 0,2.8 4.3-3.3zM370.5,282.6l-4.3,4.3 0,3.8 4.3-5.3zM366.2,286.9l-4.3,6.7 0-5.5 4.3,2.6zM361.9,293.6l-4.3,7.4 0-10.5 4.3-2.4zM357.6,301l-4.3-4.7 0-3.5 4.3-2.3zM353.3,296.3l-4.3-1.8 0-2.6 4.3,0.9zM349,294.5l-4.4,5.3 0-5.3 4.4-2.6zM344.6,299.8l-4.3,3.4 0-7.3 4.3-1.4zM340.3,303.2l-4.3,3.7 0-8.4 4.3-2.6zM336,306.9l-4.3-1.7 0-6.2 4.3-0.5zM331.7,305.2l-4.3-5.9 0-3.1 4.3,2.8zM327.4,299.3l-4.3,1 0-2.8 4.3-1.3zM323.1,300.3l-4.3,0.4 0,0 4.3-3.2zM318.8,300.7l-4.4-10.8 0,11 4.4-0.2zM314.4,289.9l-4.3-0.8 0,14 4.3-2.2zM310.1,289.1l-4.3,15.5 0,6.9 4.3-8.4zM305.8,304.6l-4.3,5.8 0,1.2 4.3-0.1zM301.5,310.4l-4.3-2.3 0-6.8 4.3,10.3zM297.2,308.1l-4.3,0.2 0-18.4 4.3,11.4zM292.9,308.3l-4.3-4.7 0-18.1 4.3,4.4zM288.6,303.6l-4.4-11.3 0-9.6 4.4,2.8zM284.2,292.3l-4.3,4.3 0-6.7 4.3-7.2zM279.9,296.6l-4.3,6.6 0-7.3 4.3-6zM275.6,303.2l-4.3-2.6 0-0.8 4.3-3.9zM271.3,300.6l-4.3,1.1 0,3.5 4.3-5.4zM267,301.7l-4.3-2.9 0,5.2 4.3,1.2zM262.7,298.8l-4.3-6.6 0,9.4 4.3,2.4zM258.4,292.2l-4.3,3.3 0,4.7 4.3,1.4zM254.1,295.5l-4.4,6.1 0-2.3 4.4,0.9zM249.7,301.6l-4.3,4.4 0-2.4 4.3-4.3zM245.4,306l-4.3,3 0-2.7 4.3-2.7zM241.1,309l-4.3-4.1 0,0.9 4.3,0.5zM236.8,304.9l-4.3-10.1 0,8.6 4.3,2.4zM232.5,294.8l-4.3-0.9 0,9 4.3,0.5zM228.2,293.9l-4.3,3.5 0,6.9 4.3-1.4zM223.9,297.4l-4.4,3.5 0,3.5 4.4-0.1zM219.5,300.9l-4.3,0.6 0,4 4.3-1.1zM215.2,301.5l-4.3,1.5 0,6.4 4.3-3.9zM210.9,303l-4.3,3.2 0,4.2 4.3-1zM206.6,306.2l-4.3-1.3 0,3.4 4.3,2.1zM202.3,304.9l-4.3-0.9 0,3.7 4.3,0.6zM198,304l-4.3-2.7 0,1.1 4.3,5.3zM193.7,301.3l-4.4-1 0-6.9 4.4,9zM189.3,300.3l-4.3,0.4 0-10 4.3,2.7zM185,300.7l-4.3-1.7 0-6.3 4.3-2zM180.7,299l-4.3-5.7 0-4.1 4.3,3.5zM176.4,293.3l-4.3-12.1 0-1.6 4.3,9.6zM172.1,281.2l-4.3-1.7 0-0.6 4.3,0.7zM167.8,279.5l-4.3,9.3 0-3 4.3-6.9zM163.5,288.8l-4.4,7.7 0-3.5 4.4-7.2zM159.1,296.5l-4.3,7.1 0-2.7 4.3-7.9zM154.8,303.6l-4.3,4.1 0-5.2 4.3-1.6zM150.5,307.7l-4.3-5.4 0-7.7 4.3,7.9zM146.2,302.3l-4.3-7.4 0-4.4 4.3,4.1zM141.9,294.9l-4.3-5 0,1.6 4.3-1zM137.6,289.9l-4.3,1.9 0,3.5 4.3-3.8zM133.3,291.8l-4.4,8.6 0-0.8 4.4-4.3zM128.9,300.4l-4.3-5.5 0,2.4 4.3,2.3zM124.6,294.9l-4.3-7.6 0,5.8 4.3,4.2zM120.3,287.3l-4.3-0.5 0-0.7 4.3,7zM116,286.8l-4.3-6.2 0-2.3 4.3,7.8zM111.7,280.6l-4.3-1.2 0-1 4.3-0.1zM107.4,279.4l-4.3,11 0-2.4 4.3-9.6zM103.1,290.4l-4.4,9.8 0-3.9 4.4-8.3zM98.7,300.2l-4.3,6.3 0,1 4.3-11.2zM94.4,306.5l-4.3,4.6 0,1.8 4.3-5.4zM90.1,311.1l-4.3-9.2 0-2.1 4.3,13.1zM85.8,301.9l-4.3-15.2 0-2.8 4.3,15.9z"/>
<path fill="#edec6f" d="M675.3,278.2l-2.8,2.8 0-1.7 2.8-3.1z"/>
<path fill="#f6ee6c" d="M672.5,281l-4.3,1.2 0,0.6 4.3-3.5zM668.2,282.2l-4.3,1.3 0,3.5 4.3-4.2zM663.9,283.5l-4.3,6.5 0,4.5 4.3-7.5zM659.6,290l-4.4,6.9 0,0.4 4.4-2.8zM655.2,296.9l-4.3,1.8 0-1.6 4.3,0.2zM650.9,298.7l-4.3,6.8 0,3.6 4.3-12zM646.6,305.5l-4.3,5.3 0,5 4.3-6.7zM642.3,310.8l-4.3-7.7 0,8.2 4.3,4.5zM638,303.1l-4.3-6.9 0,5.4 4.3,9.7zM633.7,296.2l-4.3,0.1 0,1.4 4.3,3.9zM629.4,296.3l-4.4,0 0,3.9 4.4-2.5zM625,296.3l-4.3,0.8 0,3.8 4.3-0.7zM620.7,297.1l-4.3,2.4 0-1.4 4.3,2.8zM616.4,299.5l-4.3-4.1 0,2.2 4.3,0.5zM612.1,295.4l-4.3-3.5 0,5.2 4.3,0.5zM607.8,291.9l-4.3,0.9 0,3 4.3,1.3zM603.5,292.8l-4.3,5.7 0-1.6 4.3-1.1zM599.2,298.5l-4.3,5.1 0-3.7 4.3-3zM594.9,303.6l-4.4,1.2 0-1.9 4.4-3zM590.5,304.8l-4.3,4.1 0-0.7 4.3-5.3zM586.2,308.9l-4.3,2.4 0-3.6 4.3,0.5zM581.9,311.3l-4.3,0.4 0-7.2 4.3,3.2zM577.6,311.7l-4.3,0.3 0-7.1 4.3-0.4zM573.3,312l-4.3-7.3 0-11.6 4.3,11.8zM569,304.7l-4.3-11.8 0-9.3 4.3,9.5zM564.7,292.9l-4.4,0.4 0-7.2 4.4-2.5zM560.3,293.3l-4.3-0.7 0-6 4.3-0.5zM556,292.6l-4.3-8.3 0-4 4.3,6.3zM551.7,284.3l-4.3-0.3 0-5.4 4.3,1.7zM547.4,284l-4.3,9.3 0-11.2 4.3-3.5zM543.1,293.3l-4.3,9.2 0-17.2 4.3-3.2zM538.8,302.5l-4.3-1.4 0-12.9 4.3-2.9zM534.5,301.1l-4.4-9.4 0-2.8 4.4-0.7zM530.1,291.7l-4.3,0.9 0-3 4.3-0.7zM525.8,292.6l-4.3,0.9 0-3.4 4.3-0.5zM521.5,293.5l-4.3-11.9 0,1.4 4.3,7.1z"/>
<path fill="#efed6e" d="M517.2,281.6l-4.3-4.9 0,3.6 4.3,2.7z"/>
<path fill="#eeec6f" d="M512.9,276.7l-4.3-0.3 0,1.8 4.3,2.1z"/>
<path fill="#efed6e" d="M508.6,276.4l-4.3,0.4 0-2.6 4.3,4z"/>
<path fill="#f6ee6c" d="M504.3,276.8l-4.4,7.2 0-6.7 4.4-3.1zM499.9,284l-4.3,12.9 0-4.9 4.3-14.7zM495.6,296.9l-4.3,1.7 0-3.7 4.3-2.9zM491.3,298.6l-4.3-6 0-3.1 4.3,5.4zM487,292.6l-4.3-13 0-2.6 4.3,12.5z"/>
<path fill="#e4eb72" d="M482.7,279.6l-4.3-6.2 0-0.1 4.3,3.7z"/>
<path fill="#e3ea72" d="M478.4,273.4l-4.3-0.6 0,2.3 4.3-1.8z"/>
<path fill="#edec6f" d="M474.1,272.8l-4.4,3.5 0,4.1 4.4-5.3z"/>
<path fill="#f6ee6c" d="M469.7,276.3l-4.3,9.3 0-1.6 4.3-3.6zM465.4,285.6l-4.3-1.5 0-1.7 4.3,1.6zM461.1,284.1l-4.3-2.3 0-2.3 4.3,2.9zM456.8,281.8l-4.3,5.1 0-5.3 4.3-2.1zM452.5,286.9l-4.3,4.8 0-6.7 4.3-3.4zM448.2,291.7l-4.3-1.4 0-5.6 4.3,0.3zM443.9,290.3l-4.4,0.2 0-0.1 4.4-5.7zM439.5,290.5l-4.3,3.1 0-0.7 4.3-2.5zM435.2,293.6l-4.3-2.5 0-4.3 4.3,6.1zM430.9,291.1l-4.3-1.1 0-0.8 4.3-2.4zM426.6,290l-4.3,5.4 0,5 4.3-11.2zM422.3,295.4l-4.3,5 0,4.3 4.3-4.3zM418,300.4l-4.3,6 0-4.3 4.3,2.6zM413.7,306.4l-4.3-1.3 0-11.6 4.3,8.6zM409.4,305.1l-4.4-3 0-8.6 4.4,0zM405,302.1l-4.3,0.3 0,2 4.3-10.9zM400.7,302.4l-4.3-16.5 0,14.4 4.3,4.1z"/>
<path fill="#dce974" d="M396.4,285.9l-4.3-15.3 0,20.1 4.3,9.6z"/>
<path fill="#f6ee6c" d="M392.1,270.6l-4.3,15.5 0,4.1 4.3,0.5zM387.8,286.1l-4.3,11.7 0-9 4.3,1.4zM383.5,297.8l-4.3-3.5 0-10 4.3,4.5zM379.2,294.3l-4.4-11.1 0-2.6 4.4,3.7zM374.8,283.2l-4.3-1.5 0,0.9 4.3-2zM370.5,281.7l-4.3,11 0-5.8 4.3-4.3zM366.2,292.7l-4.3,13.4 0-12.5 4.3-6.7zM361.9,306.1l-4.3,2.5 0-7.6 4.3-7.4zM357.6,308.6l-4.3-8.3 0-4 4.3,4.7zM353.3,300.3l-4.3-4.6 0-1.2 4.3,1.8zM349,295.7l-4.4,5.7 0-1.6 4.4-5.3zM344.6,301.4l-4.3,3.9 0-2.1 4.3-3.4zM340.3,305.3l-4.3-1 0,2.6 4.3-3.7zM336,304.3l-4.3-3.9 0,4.8 4.3,1.7zM331.7,300.4l-4.3-2.2 0,1.1 4.3,5.9zM327.4,298.2l-4.3,2.4 0-0.3 4.3-1zM323.1,300.6l-4.3-1.9 0,2 4.3-0.4zM318.8,298.7l-4.4-13.2 0,4.4 4.4,10.8zM314.4,285.5l-4.3-4.6 0,8.2 4.3,0.8zM310.1,280.9l-4.3,6.4 0,17.3 4.3-15.5zM305.8,287.3l-4.3-0.1 0,23.2 4.3-5.8zM301.5,287.2l-4.3,4.8 0,16.1 4.3,2.3zM297.2,292l-4.3,11.5 0,4.8 4.3-0.2zM292.9,303.5l-4.3,2.4 0-2.3 4.3,4.7zM288.6,305.9l-4.4-10.7 0-2.9 4.4,11.3zM284.2,295.2l-4.3-1.5 0,2.9 4.3-4.3zM279.9,293.7l-4.3,0.5 0,9 4.3-6.6zM275.6,294.2l-4.3-4.2 0,10.6 4.3,2.6zM271.3,290l-4.3,6.7 0,5 4.3-1.1zM267,296.7l-4.3,3.5 0-1.4 4.3,2.9zM262.7,300.2l-4.3-2.5 0-5.5 4.3,6.6zM258.4,297.7l-4.3,6.6 0-8.8 4.3-3.3zM254.1,304.3l-4.4,3.6 0-6.3 4.4-6.1zM249.7,307.9l-4.3,0.2 0-2.1 4.3-4.4zM245.4,308.1l-4.3,2.9 0-2 4.3-3zM241.1,311l-4.3-3.5 0-2.6 4.3,4.1zM236.8,307.5l-4.3-14.4 0,1.7 4.3,10.1zM232.5,293.1l-4.3-7.1 0,7.9 4.3,0.9zM228.2,286l-4.3,3 0,8.4 4.3-3.5zM223.9,289l-4.4,7.5 0,4.4 4.4-3.5zM219.5,296.5l-4.3-0.9 0,5.9 4.3-0.6zM215.2,295.6l-4.3-3.5 0,10.9 4.3-1.5zM210.9,292.1l-4.3,4.1 0,10 4.3-3.2zM206.6,296.2l-4.3,2.6 0,6.1 4.3,1.3zM202.3,298.8l-4.3,1.3 0,3.9 4.3,0.9zM198,300.1l-4.3-0.8 0,2 4.3,2.7zM193.7,299.3l-4.4-0.3 0,1.3 4.4,1zM189.3,299l-4.3-4.3 0,6 4.3-0.4zM185,294.7l-4.3-8.8 0,13.1 4.3,1.7zM180.7,285.9l-4.3-1 0,8.4 4.3,5.7zM176.4,284.9l-4.3,0.4 0-4.1 4.3,12.1zM172.1,285.3l-4.3-1.6 0-4.2 4.3,1.7zM167.8,283.7l-4.3,2.2 0,2.9 4.3-9.3zM163.5,285.9l-4.4,6.4 0,4.2 4.4-7.7zM159.1,292.3l-4.3,3.5 0,7.8 4.3-7.1zM154.8,295.8l-4.3,0.2 0,11.7 4.3-4.1zM150.5,296l-4.3,1.2 0,5.1 4.3,5.4zM146.2,297.2l-4.3-1.8 0-0.5 4.3,7.4zM141.9,295.4l-4.3-4.8 0-0.7 4.3,5zM137.6,290.6l-4.3-5.3 0,6.5 4.3-1.9zM133.3,285.3l-4.4-3.9 0,19 4.4-8.6zM128.9,281.4l-4.3,2.6 0,10.9 4.3,5.5zM124.6,284l-4.3,0.7 0,2.6 4.3,7.6zM120.3,284.7l-4.3,3.8 0-1.7 4.3,0.5zM116,288.5l-4.3-4.2 0-3.7 4.3,6.2zM111.7,284.3l-4.3-1 0-3.9 4.3,1.2zM107.4,283.3l-4.3,6.5 0,0.6 4.3-11zM103.1,289.8l-4.4,2.8 0,7.6 4.4-9.8zM98.7,292.6l-4.3-1.1 0,15 4.3-6.3zM94.4,291.5l-4.3,2.1 0,17.5 4.3-4.6zM90.1,293.6l-4.3,2.7 0,5.6 4.3,9.2zM85.8,296.3l-4.3-3.8 0-5.8 4.3,15.2z"/>
<path fill="#f3ed6d" d="M675.3,280.2l-2.8,5.6 0-4.8 2.8-2.8z"/>
<path fill="#f6ee6c" d="M672.5,285.8l-4.3,3.2 0-6.8 4.3-1.2zM668.2,289l-4.3,2 0-7.5 4.3-1.3zM663.9,291l-4.3,4.9 0-5.9 4.3-6.5zM659.6,295.9l-4.4,6.2 0-5.2 4.4-6.9zM655.2,302.1l-4.3,2.2 0-5.6 4.3-1.8zM650.9,304.3l-4.3,0.5 0,0.7 4.3-6.8zM646.6,304.8l-4.3,1.3 0,4.7 4.3-5.3zM642.3,306.1l-4.3-3.5 0,0.5 4.3,7.7zM638,302.6l-4.3-3.5 0-2.9 4.3,6.9zM633.7,299.1l-4.3,4 0-6.8 4.3-0.1zM629.4,303.1l-4.4,4.2 0-11 4.4,0zM625,307.3l-4.3,0.8 0-11 4.3-0.8zM620.7,308.1l-4.3,0 0-8.6 4.3-2.4zM616.4,308.1l-4.3-8.4 0-4.3 4.3,4.1zM612.1,299.7l-4.3-5.1 0-2.7 4.3,3.5zM607.8,294.6l-4.3,2.9 0-4.7 4.3-0.9zM603.5,297.5l-4.3,5.9 0-4.9 4.3-5.7zM599.2,303.4l-4.3,2.1 0-1.9 4.3-5.1zM594.9,305.5l-4.4,2 0-2.7 4.4-1.2zM590.5,307.5l-4.3,4.5 0-3.1 4.3-4.1zM586.2,312l-4.3,2.5 0-3.2 4.3-2.4zM581.9,314.5l-4.3,1 0-3.8 4.3-0.4zM577.6,315.5l-4.3-0.6 0-2.9 4.3-0.3zM573.3,314.9l-4.3-2.4 0-7.8 4.3,7.3zM569,312.5l-4.3-7.5 0-12.1 4.3,11.8zM564.7,305l-4.4-5.9 0-5.8 4.4-0.4zM560.3,299.1l-4.3-4.9 0-1.6 4.3,0.7zM556,294.2l-4.3-6.5 0-3.4 4.3,8.3zM551.7,287.7l-4.3,3.8 0-7.5 4.3,0.3zM547.4,291.5l-4.3,11.3 0-9.5 4.3-9.3zM543.1,302.8l-4.3,5.6 0-5.9 4.3-9.2zM538.8,308.4l-4.3-1.9 0-5.4 4.3,1.4zM534.5,306.5l-4.4-7.3 0-7.5 4.4,9.4zM530.1,299.2l-4.3-3.1 0-3.5 4.3-0.9zM525.8,296.1l-4.3-2.5 0-0.1 4.3-0.9zM521.5,293.6l-4.3-8.8 0-3.2 4.3,11.9z"/>
<path fill="#f4ee6d" d="M517.2,284.8l-4.3-6.4 0-1.7 4.3,4.9z"/>
<path fill="#f3ed6d" d="M512.9,278.4l-4.3-0.3 0-1.7 4.3,0.3z"/>
<path fill="#f6ee6c" d="M508.6,278.1l-4.3,6.2 0-7.5 4.3-0.4zM504.3,284.3l-4.4,6.9 0-7.2 4.4-7.2zM499.9,291.2l-4.3-0.4 0,6.1 4.3-12.9zM495.6,290.8l-4.3-3.2 0,11 4.3-1.7zM491.3,287.6l-4.3-2.4 0,7.4 4.3,6zM487,285.2l-4.3-4.6 0-1 4.3,13z"/>
<path fill="#e9ec70" d="M482.7,280.6l-4.3-5.8 0-1.4 4.3,6.2z"/>
<path fill="#e5eb71" d="M478.4,274.8l-4.3-1.3 0-0.7 4.3,0.6z"/>
<path fill="#edec6f" d="M474.1,273.5l-4.4,2.8 0,0 4.4-3.5z"/>
<path fill="#f6ee6c" d="M469.7,276.3l-4.3,6.9 0,2.4 4.3-9.3zM465.4,283.2l-4.3,1.2 0-0.3 4.3,1.5zM461.1,284.4l-4.3,1.3 0-3.9 4.3,2.3zM456.8,285.7l-4.3,3.8 0-2.6 4.3-5.1zM452.5,289.5l-4.3,0.3 0,1.9 4.3-4.8zM448.2,289.8l-4.3-1.5 0,2 4.3,1.4zM443.9,288.3l-4.4-0.4 0,2.6 4.4-0.2zM439.5,287.9l-4.3-2.7 0,8.4 4.3-3.1z"/>
<path fill="#e1ea72" d="M435.2,285.2l-4.3-12.7 0,18.6 4.3,2.5z"/>
<path fill="#f6ee6c" d="M430.9,272.5l-4.3,7 0,10.5 4.3,1.1zM426.6,279.5l-4.3,8.4 0,7.5 4.3-5.4zM422.3,287.9l-4.3,2.3 0,10.2 4.3-5zM418,290.2l-4.3,11.3 0,4.9 4.3-6zM413.7,301.5l-4.3,3.9 0-0.3 4.3,1.3zM409.4,305.4l-4.4-4 0,0.7 4.4,3zM405,301.4l-4.3-6.4 0,7.4 4.3-0.3zM400.7,295l-4.3-15.4 0,6.3 4.3,16.5z"/>
<path fill="#d5e876" d="M396.4,279.6l-4.3-11.1 0,2.1 4.3,15.3z"/>
<path fill="#f6ee6c" d="M392.1,268.5l-4.3,16.3 0,1.3 4.3-15.5zM387.8,284.8l-4.3,14.3 0-1.3 4.3-11.7zM383.5,299.1l-4.3-1.1 0-3.7 4.3,3.5zM379.2,298l-4.4-14.7 0-0.1 4.4,11.1zM374.8,283.3l-4.3-3.9 0,2.3 4.3,1.5zM370.5,279.4l-4.3,12.2 0,1.1 4.3-11zM366.2,291.6l-4.3,9.5 0,5 4.3-13.4zM361.9,301.1l-4.3,1.3 0,6.2 4.3-2.5zM357.6,302.4l-4.3-0.9 0-1.2 4.3,8.3zM353.3,301.5l-4.3-7 0,1.2 4.3,4.6zM349,294.5l-4.4,3.3 0,3.6 4.4-5.7zM344.6,297.8l-4.3,8.2 0-0.7 4.3-3.9zM340.3,306l-4.3-6.6 0,4.9 4.3,1zM336,299.4l-4.3-10.7 0,11.7 4.3,3.9zM331.7,288.7l-4.3,2.6 0,6.9 4.3,2.2zM327.4,291.3l-4.3,2 0,7.3 4.3-2.4zM323.1,293.3l-4.3-5.3 0,10.7 4.3,1.9zM318.8,288l-4.4-3.8 0,1.3 4.4,13.2zM314.4,284.2l-4.3-1.2 0-2.1 4.3,4.6zM310.1,283l-4.3,7.5 0-3.2 4.3-6.4zM305.8,290.5l-4.3,6.1 0-9.4 4.3,0.1zM301.5,296.6l-4.3-5.2 0,0.6 4.3-4.8zM297.2,291.4l-4.3,0.2 0,11.9 4.3-11.5zM292.9,291.6l-4.3-1 0,15.3 4.3-2.4zM288.6,290.6l-4.4-2.7 0,7.3 4.4,10.7zM284.2,287.9l-4.3,0.2 0,5.6 4.3,1.5zM279.9,288.1l-4.3-4.2 0,10.3 4.3-0.5zM275.6,283.9l-4.3-0.3 0,6.4 4.3,4.2zM271.3,283.6l-4.3,12.3 0,0.8 4.3-6.7zM267,295.9l-4.3,9 0-4.7 4.3-3.5zM262.7,304.9l-4.3-2.2 0-5 4.3,2.5zM258.4,302.7l-4.3-6.8 0,8.4 4.3-6.6zM254.1,295.9l-4.4-9.3 0,21.3 4.4-3.6zM249.7,286.6l-4.3,10.1 0,11.4 4.3-0.2zM245.4,296.7l-4.3,9.5 0,4.8 4.3-2.9zM241.1,306.2l-4.3,2.5 0-1.2 4.3,3.5zM236.8,308.7l-4.3-5.8 0-9.8 4.3,14.4zM232.5,302.9l-4.3-12.4 0-4.5 4.3,7.1zM228.2,290.5l-4.3-2 0,0.5 4.3-3zM223.9,288.5l-4.4,7 0,1 4.4-7.5zM219.5,295.5l-4.3-1.4 0,1.5 4.3,0.9zM215.2,294.1l-4.3-6.1 0,4.1 4.3,3.5zM210.9,288l-4.3,6.2 0,2 4.3-4.1zM206.6,294.2l-4.3,7.8 0-3.2 4.3-2.6zM202.3,302l-4.3-1.5 0-0.4 4.3-1.3zM198,300.5l-4.3-5.2 0,4 4.3,0.8zM193.7,295.3l-4.4-3.5 0,7.2 4.4,0.3zM189.3,291.8l-4.3-3.9 0,6.8 4.3,4.3zM185,287.9l-4.3-2 0,0 4.3,8.8zM180.7,285.9l-4.3,3.5 0-4.5 4.3,1zM176.4,289.4l-4.3,3.3 0-7.4 4.3-0.4zM172.1,292.7l-4.3,0.4 0-9.4 4.3,1.6zM167.8,293.1l-4.3-4.7 0-2.5 4.3-2.2zM163.5,288.4l-4.4-0.8 0,4.7 4.4-6.4zM159.1,287.6l-4.3,0.9 0,7.3 4.3-3.5zM154.8,288.5l-4.3-3.6 0,11.1 4.3-0.2zM150.5,284.9l-4.3,3.7 0,8.6 4.3-1.2zM146.2,288.6l-4.3,7.1 0-0.3 4.3,1.8zM141.9,295.7l-4.3,1.8 0-6.9 4.3,4.8zM137.6,297.5l-4.3-0.8 0-11.4 4.3,5.3zM133.3,296.7l-4.4-0.4 0-14.9 4.4,3.9zM128.9,296.3l-4.3-1.3 0-11 4.3-2.6zM124.6,295l-4.3-1.7 0-8.6 4.3-0.7zM120.3,293.3l-4.3,3.5 0-8.3 4.3-3.8zM116,296.8l-4.3-0.7 0-11.8 4.3,4.2zM111.7,296.1l-4.3-4.3 0-8.5 4.3,1zM107.4,291.8l-4.3-0.8 0-1.2 4.3-6.5zM103.1,291l-4.4,1.7 0-0.1 4.4-2.8zM98.7,292.7l-4.3,2.4 0-3.6 4.3,1.1zM94.4,295.1l-4.3,2.2 0-3.7 4.3-2.1zM90.1,297.3l-4.3,2.6 0-3.6 4.3-2.7zM85.8,299.9l-4.3-1.6 0-5.8 4.3,3.8z"/>
<path fill="#f6ee6c" d="M675.3,279l-2.8,7.1 0-0.3 2.8-5.6zM672.5,286.1l-4.3,5.6 0-2.7 4.3-3.2zM668.2,291.7l-4.3,0.9 0-1.6 4.3-2zM663.9,292.6l-4.3,3.7 0-0.4 4.3-4.9zM659.6,296.3l-4.4,6 0-0.2 4.4-6.2zM655.2,302.3l-4.3,2.5 0-0.5 4.3-2.2zM650.9,304.8l-4.3,1.6 0-1.6 4.3-0.5zM646.6,306.4l-4.3-1.6 0,1.3 4.3-1.3zM642.3,304.8l-4.3-0.9 0-1.3 4.3,3.5zM638,303.9l-4.3,2.1 0-6.9 4.3,3.5zM633.7,306l-4.3,1.6 0-4.5 4.3-4zM629.4,307.6l-4.4,4.3 0-4.6 4.4-4.2zM625,311.9l-4.3,3.1 0-6.9 4.3-0.8zM620.7,315l-4.3-1.7 0-5.2 4.3,0zM616.4,313.3l-4.3-7 0-6.6 4.3,8.4zM612.1,306.3l-4.3-5 0-6.7 4.3,5.1zM607.8,301.3l-4.3-0.2 0-3.6 4.3-2.9zM603.5,301.1l-4.3,2.9 0-0.6 4.3-5.9zM599.2,304l-4.3,2.6 0-1.1 4.3-2.1zM594.9,306.6l-4.4,1.3 0-0.4 4.4-2zM590.5,307.9l-4.3,2.9 0,1.2 4.3-4.5zM586.2,310.8l-4.3,2.8 0,0.9 4.3-2.5zM581.9,313.6l-4.3,1.9 0,0 4.3-1zM577.6,315.5l-4.3-0.6 0,0 4.3,0.6zM573.3,314.9l-4.3-1.1 0-1.3 4.3,2.4z"/>
<path fill="#b8e383" d="M569,313.8l-4.3-53.5 0,44.7 4.3,7.5z"/>
<path fill="#f6ee6c" d="M564.7,260.3l-4.4,2 0,36.8 4.4,5.9zM560.3,262.3l-4.3,1.8 0,30.1 4.3,4.9zM556,264.1l-4.3-0.4 0,24 4.3,6.5zM551.7,263.7l-4.3-7 0,34.8 4.3-3.8zM547.4,256.7l-4.3,6.4 0,39.7 4.3-11.3zM543.1,263.1l-4.3,16.2 0,29.1 4.3-5.6zM538.8,279.3l-4.3-12.7 0,39.9 4.3,1.9zM534.5,266.6l-4.4-16.5 0,49.1 4.4,7.3zM530.1,250.1l-4.3,18.5 0,27.5 4.3,3.1zM525.8,268.6l-4.3,10.3 0,14.7 4.3,2.5zM521.5,278.9l-4.3-30.2 0,36.1 4.3,8.8z"/>
<path fill="#f4ee6d" d="M517.2,248.7l-4.3-2.6 0,32.3 4.3,6.4z"/>
<path fill="#f3ed6d" d="M512.9,246.1l-4.3,19.4 0,12.6 4.3,0.3z"/>
<path fill="#f6ee6c" d="M508.6,265.5l-4.3,19.4 0-0.6 4.3-6.2zM504.3,284.9l-4.4-13.4 0,19.7 4.4-6.9zM499.9,271.5l-4.3-15.3 0,34.6 4.3,0.4zM495.6,256.2l-4.3-15.2 0,46.6 4.3,3.2zM491.3,241l-4.3,9.8 0,34.4 4.3,2.4zM487,250.8l-4.3,13.3 0,16.5 4.3,4.6z"/>
<path fill="#e9ec70" d="M482.7,264.1l-4.3,13.3 0-2.6 4.3,5.8z"/>
<path fill="#e5eb71" d="M478.4,277.4l-4.3,0.1 0-4 4.3,1.3z"/>
<path fill="#edec6f" d="M474.1,277.5l-4.4,4.6 0-5.8 4.4-2.8z"/>
<path fill="#f6ee6c" d="M469.7,282.1l-4.3,6.2 0-5.1 4.3-6.9zM465.4,288.3l-4.3,2.1 0-6 4.3-1.2zM461.1,290.4l-4.3,5.4 0-10.1 4.3-1.3zM456.8,295.8l-4.3,3.2 0-9.5 4.3-3.8zM452.5,299l-4.3-5.9 0-3.3 4.3-0.3zM448.2,293.1l-4.3-1.5 0-3.3 4.3,1.5zM443.9,291.6l-4.4,6 0-9.7 4.4,0.4zM439.5,297.6l-4.3,5.5 0-17.9 4.3,2.7zM435.2,303.1l-4.3-4.6 0-26 4.3,12.7zM430.9,298.5l-4.3-6 0-13 4.3-7zM426.6,292.5l-4.3-2.4 0-2.2 4.3-8.4zM422.3,290.1l-4.3,3.7 0-3.6 4.3-2.3zM418,293.8l-4.3,8.1 0-0.4 4.3-11.3zM413.7,301.9l-4.3-3.4 0,6.9 4.3-3.9zM409.4,298.5l-4.4-5.1 0,8 4.4,4zM405,293.4l-4.3,0.9 0,0.7 4.3,6.4zM400.7,294.3l-4.3,0.7 0-15.4 4.3,15.4zM396.4,295l-4.3,1.1 0-27.6 4.3,11.1zM392.1,296.1l-4.3,1.8 0-13.1 4.3-16.3zM387.8,297.9l-4.3,0.4 0,0.8 4.3-14.3zM383.5,298.3l-4.3,0.6 0-0.9 4.3,1.1zM379.2,298.9l-4.4-6.5 0-9.1 4.4,14.7zM374.8,292.4l-4.3-4.5 0-8.5 4.3,3.9zM370.5,287.9l-4.3,10.2 0-6.5 4.3-12.2zM366.2,298.1l-4.3,5 0-2 4.3-9.5zM361.9,303.1l-4.3,2.4 0-3.1 4.3-1.3zM357.6,305.5l-4.3,1.5 0-5.5 4.3,0.9zM353.3,307l-4.3-9.4 0-3.1 4.3,7zM349,297.6l-4.4,0.3 0-0.1 4.4-3.3zM344.6,297.9l-4.3,9.4 0-1.3 4.3-8.2zM340.3,307.3l-4.3-4.8 0-3.1 4.3,6.6zM336,302.5l-4.3-11.9 0-1.9 4.3,10.7zM331.7,290.6l-4.3-2.5 0,3.2 4.3-2.6zM327.4,288.1l-4.3-1.6 0,6.8 4.3-2zM323.1,286.5l-4.3,0.2 0,1.3 4.3,5.3zM318.8,286.7l-4.4,5 0-7.5 4.4,3.8zM314.4,291.7l-4.3,0.3 0-9 4.3,1.2zM310.1,292l-4.3,6.2 0-7.7 4.3-7.5zM305.8,298.2l-4.3,5.4 0-7 4.3-6.1zM301.5,303.6l-4.3-6.4 0-5.8 4.3,5.2zM297.2,297.2l-4.3-9 0,3.4 4.3-0.2z"/>
<path fill="#e3ea72" d="M292.9,288.2l-4.3-15.3 0,17.7 4.3,1z"/>
<path fill="#c7e67d" d="M288.6,272.9l-4.4-8.3 0,23.3 4.4,2.7z"/>
<path fill="#f6ee6c" d="M284.2,264.6l-4.3,14.6 0,8.9 4.3-0.2zM279.9,279.2l-4.3,2.3 0,2.4 4.3,4.2zM275.6,281.5l-4.3,1 0,1.1 4.3,0.3zM271.3,282.5l-4.3,10.2 0,3.2 4.3-12.3zM267,292.7l-4.3,10 0,2.2 4.3-9zM262.7,302.7l-4.3-1.6 0,1.6 4.3,2.2zM258.4,301.1l-4.3-3.7 0-1.5 4.3,6.8zM254.1,297.4l-4.4,4.1 0-14.9 4.4,9.3zM249.7,301.5l-4.3,3.3 0-8.1 4.3-10.1zM245.4,304.8l-4.3-0.9 0,2.3 4.3-9.5zM241.1,303.9l-4.3,3.9 0,0.9 4.3-2.5zM236.8,307.8l-4.3,2 0-6.9 4.3,5.8zM232.5,309.8l-4.3-7.6 0-11.7 4.3,12.4zM228.2,302.2l-4.3-5.9 0-7.8 4.3,2zM223.9,296.3l-4.4,2.1 0-2.9 4.4-7zM219.5,298.4l-4.3-4.9 0,0.6 4.3,1.4zM215.2,293.5l-4.3-7.2 0,1.7 4.3,6.1zM210.9,286.3l-4.3,8.3 0-0.4 4.3-6.2zM206.6,294.6l-4.3,11.5 0-4.1 4.3-7.8zM202.3,306.1l-4.3-2.1 0-3.5 4.3,1.5zM198,304l-4.3-5.6 0-3.1 4.3,5.2zM193.7,298.4l-4.4-5.7 0-0.9 4.4,3.5zM189.3,292.7l-4.3-3.5 0-1.3 4.3,3.9zM185,289.2l-4.3,8.3 0-11.6 4.3,2zM180.7,297.5l-4.3,5.5 0-13.6 4.3-3.5zM176.4,303l-4.3-2.9 0-7.4 4.3-3.3zM172.1,300.1l-4.3,3.1 0-10.1 4.3-0.4zM167.8,303.2l-4.3-2.6 0-12.2 4.3,4.7zM163.5,300.6l-4.4-9.7 0-3.3 4.4,0.8zM159.1,290.9l-4.3-2.5 0,0.1 4.3-0.9zM154.8,288.4l-4.3-4.2 0,0.7 4.3,3.6zM150.5,284.2l-4.3-2.3 0,6.7 4.3-3.7zM146.2,281.9l-4.3,14.7 0-0.9 4.3-7.1zM141.9,296.6l-4.3,8 0-7.1 4.3-1.8zM137.6,304.6l-4.3-2.8 0-5.1 4.3,0.8zM133.3,301.8l-4.4-2.5 0-3 4.4,0.4zM128.9,299.3l-4.3,1.3 0-5.6 4.3,1.3zM124.6,300.6l-4.3,0.5 0-7.8 4.3,1.7zM120.3,301.1l-4.3,3.7 0-8 4.3-3.5zM116,304.8l-4.3-2 0-6.7 4.3,0.7zM111.7,302.8l-4.3-6.4 0-4.6 4.3,4.3zM107.4,296.4l-4.3,1.9 0-7.3 4.3,0.8zM103.1,298.3l-4.4,0.9 0-6.5 4.4-1.7zM98.7,299.2l-4.3-2.4 0-1.7 4.3-2.4zM94.4,296.8l-4.3,3.5 0-3 4.3-2.2zM90.1,300.3l-4.3,2.9 0-3.3 4.3-2.6zM85.8,303.2l-4.3-1.8 0-3.1 4.3,1.6z"/>
<path fill="#f6ee6c" d="M675.3,280.8l-2.8,5.8 0-0.5 2.8-7.1zM672.5,286.6l-4.3,2 0,3.1 4.3-5.6zM668.2,288.6l-4.3-5.2 0,9.2 4.3-0.9zM663.9,283.4l-4.3,4.6 0,8.3 4.3-3.7zM659.6,288l-4.4,12.3 0,2 4.4-6zM655.2,300.3l-4.3,2.2 0,2.3 4.3-2.5zM650.9,302.5l-4.3,1 0,2.9 4.3-1.6zM646.6,303.5l-4.3,0.7 0,0.6 4.3,1.6zM642.3,304.2l-4.3,2.4 0-2.7 4.3,0.9zM638,306.6l-4.3,5.4 0-6 4.3-2.1zM633.7,312l-4.3-1.8 0-2.6 4.3-1.6zM629.4,310.2l-4.4,0.2 0,1.5 4.4-4.3zM625,310.4l-4.3,3.4 0,1.2 4.3-3.1zM620.7,313.8l-4.3-1.1 0,0.6 4.3,1.7zM616.4,312.7l-4.3-3.1 0-3.3 4.3,7zM612.1,309.6l-4.3-5 0-3.3 4.3,5zM607.8,304.6l-4.3-5.2 0,1.7 4.3,0.2zM603.5,299.4l-4.3-0.1 0,4.7 4.3-2.9zM599.2,299.3l-4.3,4.3 0,3 4.3-2.6zM594.9,303.6l-4.4,3.9 0,0.4 4.4-1.3zM590.5,307.5l-4.3,1.6 0,1.7 4.3-2.9zM586.2,309.1l-4.3,4.7 0-0.2 4.3-2.8zM581.9,313.8l-4.3,1.7 0,0 4.3-1.9zM577.6,315.5l-4.3-0.6 0,0 4.3,0.6zM573.3,314.9l-4.3-0.6 0-0.5 4.3,1.1z"/>
<path fill="#70dacb" d="M569,314.3l-4.3-76.3 0,22.3 4.3,53.5z"/>
<path fill="#bfe480" d="M564.7,238l-4.4,3.3 0,21 4.4-2z"/>
<path fill="#c6e57d" d="M560.3,241.3l-4.3,3 0,19.8 4.3-1.8z"/>
<path fill="#c4e57e" d="M556,244.3l-4.3-0.7 0,20.1 4.3,0.4z"/>
<path fill="#ace189" d="M551.7,243.6l-4.3-16.5 0,29.6 4.3,7z"/>
<path fill="#c2e57f" d="M547.4,227.1l-4.3,15.6 0,20.4 4.3-6.4z"/>
<path fill="#f6ee6c" d="M543.1,242.7l-4.3,27.1 0,9.5 4.3-16.2z"/>
<path fill="#cfe779" d="M538.8,269.8l-4.3-21.3 0,18.1 4.3,12.7z"/>
<path fill="#96de9d" d="M534.5,248.5l-4.4-28.1 0,29.7 4.4,16.5z"/>
<path fill="#d5e876" d="M530.1,220.4l-4.3,31.4 0,16.8 4.3-18.5z"/>
<path fill="#f5ee6c" d="M525.8,251.8l-4.3,17.3 0,9.8 4.3-10.3z"/>
<path fill="#92dea2" d="M521.5,269.1l-4.3-50.3 0,29.9 4.3,30.2z"/>
<path fill="#8addac" d="M517.2,218.8l-4.3-4.4 0,31.7 4.3,2.6z"/>
<path fill="#cbe67b" d="M512.9,214.4l-4.3,32.3 0,18.8 4.3-19.4z"/>
<path fill="#f6ee6c" d="M508.6,246.7l-4.3,32.3 0,5.9 4.3-19.4z"/>
<path fill="#deea73" d="M504.3,279l-4.4-22.4 0,14.9 4.4,13.4z"/>
<path fill="#aae18a" d="M499.9,256.6l-4.3-25.4 0,25 4.3,15.3z"/>
<path fill="#7adbc0" d="M495.6,231.2l-4.3-28.5 0,38.3 4.3,15.2z"/>
<path fill="#99df9b" d="M491.3,202.7l-4.3,19.5 0,28.6 4.3-9.8z"/>
<path fill="#c6e57d" d="M487,222.2l-4.3,22.2 0,19.7 4.3-13.3z"/>
<path fill="#f1ed6e" d="M482.7,244.4l-4.3,22.2 0,10.8 4.3-13.3zM478.4,266.6l-4.3,12.7 0-1.8 4.3-0.1z"/>
<path fill="#f6ee6c" d="M474.1,279.3l-4.4,6.2 0-3.4 4.4-4.6zM469.7,285.5l-4.3,6.1 0-3.3 4.3-6.2zM465.4,291.6l-4.3,3.6 0-4.8 4.3-2.1zM461.1,295.2l-4.3,7.8 0-7.2 4.3-5.4zM456.8,303l-4.3-1.8 0-2.2 4.3-3.2zM452.5,301.2l-4.3-16.1 0,8 4.3,5.9z"/>
<path fill="#f0ed6e" d="M448.2,285.1l-4.3-7.8 0,14.3 4.3,1.5z"/>
<path fill="#f6ee6c" d="M443.9,277.3l-4.4,14.3 0,6 4.4-6zM439.5,291.6l-4.3,7.1 0,4.4 4.3-5.5zM435.2,298.7l-4.3-3.4 0,3.2 4.3,4.6zM430.9,295.3l-4.3-7.4 0,4.6 4.3,6zM426.6,287.9l-4.3-2.9 0,5.1 4.3,2.4zM422.3,285l-4.3,5.8 0,3 4.3-3.7zM418,290.8l-4.3,5 0,6.1 4.3-8.1zM413.7,295.8l-4.3-6.2 0,8.9 4.3,3.4zM409.4,289.6l-4.4-2.9 0,6.7 4.4,5.1zM405,286.7l-4.3,10 0-2.4 4.3-0.9zM400.7,296.7l-4.3,4 0-5.7 4.3-0.7zM396.4,300.7l-4.3-5.2 0,0.6 4.3-1.1zM392.1,295.5l-4.3,3.4 0-1 4.3-1.8zM387.8,298.9l-4.3,2.4 0-3 4.3-0.4zM383.5,301.3l-4.3-0.6 0-1.8 4.3-0.6zM379.2,300.7l-4.4,1.4 0-9.7 4.4,6.5zM374.8,302.1l-4.3,2.4 0-16.6 4.3,4.5zM370.5,304.5l-4.3,3 0-9.4 4.3-10.2zM366.2,307.5l-4.3-1.8 0-2.6 4.3-5zM361.9,305.7l-4.3-1.2 0,1 4.3-2.4zM357.6,304.5l-4.3-1.8 0,4.3 4.3-1.5zM353.3,302.7l-4.3-7.4 0,2.3 4.3,9.4zM349,295.3l-4.4-1.1 0,3.7 4.4-0.3zM344.6,294.2l-4.3,0.3 0,12.8 4.3-9.4zM340.3,294.5l-4.3-1 0,9 4.3,4.8zM336,293.5l-4.3,3.5 0-6.4 4.3,11.9zM331.7,297l-4.3,0.5 0-9.4 4.3,2.5zM327.4,297.5l-4.3-6.6 0-4.4 4.3,1.6zM323.1,290.9l-4.3-0.1 0-4.1 4.3-0.2zM318.8,290.8l-4.4,5.4 0-4.5 4.4-5zM314.4,296.2l-4.3-2.5 0-1.7 4.3-0.3zM310.1,293.7l-4.3,6.3 0-1.8 4.3-6.2zM305.8,300l-4.3,9.7 0-6.1 4.3-5.4zM301.5,309.7l-4.3-2.2 0-10.3 4.3,6.4zM297.2,307.5l-4.3-5.3 0-14 4.3,9zM292.9,302.2l-4.3-3.8 0-25.5 4.3,15.3zM288.6,298.4l-4.4-0.4 0-33.4 4.4,8.3zM284.2,298l-4.3,1.1 0-19.9 4.3-14.6zM279.9,299.1l-4.3-1.1 0-16.5 4.3-2.3zM275.6,298l-4.3,0.6 0-16.1 4.3-1zM271.3,298.6l-4.3,1.1 0-7 4.3-10.2zM267,299.7l-4.3,2.7 0,0.3 4.3-10zM262.7,302.4l-4.3-3.1 0,1.8 4.3,1.6zM258.4,299.3l-4.3-10.5 0,8.6 4.3,3.7zM254.1,288.8l-4.4-0.4 0,13.1 4.4-4.1zM249.7,288.4l-4.3,9.4 0,7 4.3-3.3zM245.4,297.8l-4.3,5.8 0,0.3 4.3,0.9zM241.1,303.6l-4.3,4.7 0-0.5 4.3-3.9zM236.8,308.3l-4.3,3 0-1.5 4.3-2zM232.5,311.3l-4.3-3.6 0-5.5 4.3,7.6zM228.2,307.7l-4.3-3.4 0-8 4.3,5.9zM223.9,304.3l-4.4,1.7 0-7.6 4.4-2.1zM219.5,306l-4.3-4.4 0-8.1 4.3,4.9zM215.2,301.6l-4.3-4.9 0-10.4 4.3,7.2zM210.9,296.7l-4.3,6.4 0-8.5 4.3-8.3zM206.6,303.1l-4.3,2.9 0,0.1 4.3-11.5zM202.3,306l-4.3-10.8 0,8.8 4.3,2.1zM198,295.2l-4.3-13.4 0,16.6 4.3,5.6zM193.7,281.8l-4.4,1.5 0,9.4 4.4,5.7zM189.3,283.3l-4.3,0.3 0,5.6 4.3,3.5zM185,283.6l-4.3,8.6 0,5.3 4.3-8.3zM180.7,292.2l-4.3,6.2 0,4.6 4.3-5.5zM176.4,298.4l-4.3-6.7 0,8.4 4.3,2.9zM172.1,291.7l-4.3-1.4 0,12.9 4.3-3.1zM167.8,290.3l-4.3,2.5 0,7.8 4.3,2.6zM163.5,292.8l-4.4-8 0,6.1 4.4,9.7zM159.1,284.8l-4.3-3.6 0,7.2 4.3,2.5zM154.8,281.2l-4.3,5.2 0-2.2 4.3,4.2zM150.5,286.4l-4.3,3.5 0-8 4.3,2.3zM146.2,289.9l-4.3,2.8 0,3.9 4.3-14.7zM141.9,292.7l-4.3,5.8 0,6.1 4.3-8zM137.6,298.5l-4.3,2.3 0,1 4.3,2.8zM133.3,300.8l-4.4-0.3 0-1.2 4.4,2.5zM128.9,300.5l-4.3,0.2 0-0.1 4.3-1.3zM124.6,300.7l-4.3,3 0-2.6 4.3-0.5zM120.3,303.7l-4.3,2 0-0.9 4.3-3.7zM116,305.7l-4.3-6.8 0,3.9 4.3,2zM111.7,298.9l-4.3-1.7 0-0.8 4.3,6.4zM107.4,297.2l-4.3,5 0-3.9 4.3-1.9zM103.1,302.2l-4.4-6.6 0,3.6 4.4-0.9zM98.7,295.6l-4.3-9.1 0,10.3 4.3,2.4zM94.4,286.5l-4.3,2.7 0,11.1 4.3-3.5zM90.1,289.2l-4.3,7.6 0,6.4 4.3-2.9zM85.8,296.8l-4.3,1.3 0,3.3 4.3,1.8z"/>
<path fill="#f6ee6c" d="M675.3,340.5l-2.8,0 0-53.9 2.8-5.8zM672.5,340.5l-4.3,0 0-51.9 4.3-2zM668.2,340.5l-4.3,0 0-57.1 4.3,5.2zM663.9,340.5l-4.3,0 0-52.5 4.3-4.6zM659.6,340.5l-4.4,0 0-40.2 4.4-12.3zM655.2,340.5l-4.3,0 0-38 4.3-2.2zM650.9,340.5l-4.3,0 0-37 4.3-1zM646.6,340.5l-4.3,0 0-36.3 4.3-0.7zM642.3,340.5l-4.3,0 0-33.9 4.3-2.4zM638,340.5l-4.3,0 0-28.5 4.3-5.4zM633.7,340.5l-4.3,0 0-30.3 4.3,1.8zM629.4,340.5l-4.4,0 0-30.1 4.4-0.2zM625,340.5l-4.3,0 0-26.7 4.3-3.4zM620.7,340.5l-4.3,0 0-27.8 4.3,1.1zM616.4,340.5l-4.3,0 0-30.9 4.3,3.1zM612.1,340.5l-4.3,0 0-35.9 4.3,5zM607.8,340.5l-4.3,0 0-41.1 4.3,5.2zM603.5,340.5l-4.3,0 0-41.2 4.3,0.1zM599.2,340.5l-4.3,0 0-36.9 4.3-4.3zM594.9,340.5l-4.4,0 0-33 4.4-3.9zM590.5,340.5l-4.3,0 0-31.4 4.3-1.6zM586.2,340.5l-4.3,0 0-26.7 4.3-4.7zM581.9,340.5l-4.3,0 0-25 4.3-1.7zM577.6,340.5l-4.3,0 0-25.6 4.3,0.6zM573.3,340.5l-4.3,0 0-26.2 4.3,0.6z"/>
<path fill="#1e308c" d="M569,340.5l-4.3-218.4 0,115.9 4.3,76.3z"/>
<path fill="#7bdbbe" d="M564.7,122.1l-4.4,44.9 0,74.3 4.4-3.3z"/>
<path fill="#84dcb3" d="M560.3,167l-4.3,44.9 0,32.4 4.3-3z"/>
<path fill="#82dcb6" d="M556,211.9l-4.3,36 0-4.3 4.3,0.7z"/>
<path fill="#5fd6df" d="M551.7,247.9l-4.3-14 0-6.8 4.3,16.5z"/>
<path fill="#8addac" d="M547.4,233.9l-4.3,15.9 0-7.1 4.3-15.6z"/>
<path fill="#e5eb71" d="M543.1,249.8l-4.3,27.7 0-7.7 4.3-27.1z"/>
<path fill="#b3e286" d="M538.8,277.5l-4.3-8.9 0-20.1 4.3,21.3z"/>
<path fill="#6fdacc" d="M534.5,268.6l-4.4-13.9 0-34.3 4.4,28.1z"/>
<path fill="#bee481" d="M530.1,254.7l-4.3,17 0-19.9 4.3-31.4z"/>
<path fill="#ecec6f" d="M525.8,271.7l-4.3,10.9 0-13.5 4.3-17.3z"/>
<path fill="#7bdbbe" d="M521.5,282.6l-4.3-18.4 0-45.4 4.3,50.3z"/>
<path fill="#70dacb" d="M517.2,264.2l-4.3-3 0-46.8 4.3,4.4z"/>
<path fill="#bae383" d="M512.9,261.2l-4.3,13.3 0-27.8 4.3-32.3z"/>
<path fill="#f6ee6c" d="M508.6,274.5l-4.3,13.3 0-8.8 4.3-32.3z"/>
<path fill="#c5e57d" d="M504.3,287.8l-4.4-16.5 0-14.7 4.4,22.4z"/>
<path fill="#7edbbb" d="M499.9,271.3l-4.3-18.1 0-22 4.3,25.4z"/>
<path fill="#58cde7" d="M495.6,253.2l-4.3-20.3 0-30.2 4.3,28.5z"/>
<path fill="#69d9d4" d="M491.3,232.9l-4.3,16.1 0-26.8 4.3-19.5z"/>
<path fill="#a9e18a" d="M487,249l-4.3,18.3 0-22.9 4.3-22.2z"/>
<path fill="#eaec70" d="M482.7,267.3l-4.3,16.4 0-17.1 4.3-22.2z"/>
<path fill="#f6ee6c" d="M478.4,283.7l-4.3,3.9 0-8.3 4.3-12.7zM474.1,287.6l-4.4,4 0-6.1 4.4-6.2zM469.7,291.6l-4.3,2.2 0-2.2 4.3-6.1zM465.4,293.8l-4.3,3 0-1.6 4.3-3.6zM461.1,296.8l-4.3,6 0,0.2 4.3-7.8zM456.8,302.8l-4.3-3.8 0,2.2 4.3,1.8zM452.5,299l-4.3-1.7 0-12.2 4.3,16.1zM448.2,297.3l-4.3,8.3 0-28.3 4.3,7.8zM443.9,305.6l-4.4-8.3 0-5.7 4.4-14.3zM439.5,297.3l-4.3-16.8 0,18.2 4.3-7.1zM435.2,280.5l-4.3,3.2 0,11.6 4.3,3.4zM430.9,283.7l-4.3,2.3 0,1.9 4.3,7.4zM426.6,286l-4.3,3.9 0-4.9 4.3,2.9zM422.3,289.9l-4.3,6.3 0-5.4 4.3-5.8zM418,296.2l-4.3,3.5 0-3.9 4.3-5zM413.7,299.7l-4.3-2.7 0-7.4 4.3,6.2zM409.4,297l-4.4-4.8 0-5.5 4.4,2.9zM405,292.2l-4.3,8.3 0-3.8 4.3-10zM400.7,300.5l-4.3,4.1 0-3.9 4.3-4zM396.4,304.6l-4.3-11.1 0,2 4.3,5.2zM392.1,293.5l-4.3-1.4 0,6.8 4.3-3.4zM387.8,292.1l-4.3,3.4 0,5.8 4.3-2.4zM383.5,295.5l-4.3-3.8 0,9 4.3,0.6zM379.2,291.7l-4.4,0.2 0,10.2 4.4-1.4zM374.8,291.9l-4.3-0.1 0,12.7 4.3-2.4zM370.5,291.8l-4.3-7.2 0,22.9 4.3-3zM366.2,284.6l-4.3,3.3 0,17.8 4.3,1.8zM361.9,287.9l-4.3,1.4 0,15.2 4.3,1.2zM357.6,289.3l-4.3,1.5 0,11.9 4.3,1.8zM353.3,290.8l-4.3,0.6 0,3.9 4.3,7.4zM349,291.4l-4.4-2.3 0,5.1 4.4,1.1zM344.6,289.1l-4.3-8.3 0,13.7 4.3-0.3zM340.3,280.8l-4.3,0 0,12.7 4.3,1zM336,280.8l-4.3,12.7 0,3.5 4.3-3.5zM331.7,293.5l-4.3,11 0-7 4.3-0.5zM327.4,304.5l-4.3-1.3 0-12.3 4.3,6.6zM323.1,303.2l-4.3-4.3 0-8.1 4.3,0.1zM318.8,298.9l-4.4,1.6 0-4.3 4.4-5.4zM314.4,300.5l-4.3-0.1 0-6.7 4.3,2.5zM310.1,300.4l-4.3,2.4 0-2.8 4.3-6.3zM305.8,302.8l-4.3,3.9 0,3 4.3-9.7zM301.5,306.7l-4.3-3.7 0,4.5 4.3,2.2zM297.2,303l-4.3-3.6 0,2.8 4.3,5.3zM292.9,299.4l-4.3-0.6 0-0.4 4.3,3.8zM288.6,298.8l-4.4-0.8 0,0 4.4,0.4zM284.2,298l-4.3,2.4 0-1.3 4.3-1.1zM279.9,300.4l-4.3,5.5 0-7.9 4.3,1.1zM275.6,305.9l-4.3,3 0-10.3 4.3-0.6zM271.3,308.9l-4.3-1.9 0-7.3 4.3-1.1zM267,307l-4.3-3.5 0-1.1 4.3-2.7zM262.7,303.5l-4.3-6.8 0,2.6 4.3,3.1zM258.4,296.7l-4.3-7.5 0-0.4 4.3,10.5zM254.1,289.2l-4.4,3.2 0-4 4.4,0.4zM249.7,292.4l-4.3,7.9 0-2.5 4.3-9.4zM245.4,300.3l-4.3,2.3 0,1 4.3-5.8zM241.1,302.6l-4.3-0.1 0,5.8 4.3-4.7zM236.8,302.5l-4.3,2.7 0,6.1 4.3-3zM232.5,305.2l-4.3,2.9 0-0.4 4.3,3.6zM228.2,308.1l-4.3-0.6 0-3.2 4.3,3.4zM223.9,307.5l-4.4-1.8 0,0.3 4.4-1.7zM219.5,305.7l-4.3-0.9 0-3.2 4.3,4.4zM215.2,304.8l-4.3-0.2 0-7.9 4.3,4.9zM210.9,304.6l-4.3,2.1 0-3.6 4.3-6.4zM206.6,306.7l-4.3,1.9 0-2.6 4.3-2.9zM202.3,308.6l-4.3-0.7 0-12.7 4.3,10.8zM198,307.9l-4.3-2.3 0-23.8 4.3,13.4zM193.7,305.6l-4.4-8.7 0-13.6 4.4-1.5zM189.3,296.9l-4.3-7.3 0-6 4.3-0.3zM185,289.6l-4.3,0.7 0,1.9 4.3-8.6zM180.7,290.3l-4.3-2.8 0,10.9 4.3-6.2zM176.4,287.5l-4.3-5.4 0,9.6 4.3,6.7zM172.1,282.1l-4.3,1 0,7.2 4.3,1.4zM167.8,283.1l-4.3,9.3 0,0.4 4.3-2.5zM163.5,292.4l-4.4-5.3 0-2.3 4.4,8zM159.1,287.1l-4.3-4.1 0-1.8 4.3,3.6zM154.8,283l-4.3,7.1 0-3.7 4.3-5.2zM150.5,290.1l-4.3-2.1 0,1.9 4.3-3.5zM146.2,288l-4.3-1.9 0,6.6 4.3-2.8zM141.9,286.1l-4.3,9.2 0,3.2 4.3-5.8zM137.6,295.3l-4.3,6.7 0-1.2 4.3-2.3zM133.3,302l-4.4-1.2 0-0.3 4.4,0.3zM128.9,300.8l-4.3-4 0,3.9 4.3-0.2zM124.6,296.8l-4.3,2.9 0,4 4.3-3zM120.3,299.7l-4.3,0.7 0,5.3 4.3-2zM116,300.4l-4.3-8.6 0,7.1 4.3,6.8zM111.7,291.8l-4.3,3.6 0,1.8 4.3,1.7zM107.4,295.4l-4.3,1.1 0,5.7 4.3-5zM103.1,296.5l-4.4-13.8 0,12.9 4.4,6.6z"/>
<path fill="#f5ee6c" d="M98.7,282.7l-4.3-3.9 0,7.7 4.3,9.1z"/>
<path fill="#f6ee6c" d="M94.4,278.8l-4.3,5 0,5.4 4.3-2.7zM90.1,283.8l-4.3,7.4 0,5.6 4.3-7.6zM85.8,291.2l-4.3-1.2 0,8.1 4.3-1.3z"/>
<path fill="#f6ee6c" d="M675.3,340.5l-2.8,0 0,0 2.8,0zM672.5,340.5l-4.3,0 0,0 4.3,0zM668.2,340.5l-4.3,0 0,0 4.3,0zM663.9,340.5l-4.3,0 0,0 4.3,0zM659.6,340.5l-4.4,0 0,0 4.4,0zM655.2,340.5l-4.3,0 0,0 4.3,0zM650.9,340.5l-4.3,0 0,0 4.3,0zM646.6,340.5l-4.3,0 0,0 4.3,0zM642.3,340.5l-4.3,0 0,0 4.3,0zM638,340.5l-4.3,0 0,0 4.3,0zM633.7,340.5l-4.3,0 0,0 4.3,0zM629.4,340.5l-4.4,0 0,0 4.4,0zM625,340.5l-4.3,0 0,0 4.3,0zM620.7,340.5l-4.3,0 0,0 4.3,0zM616.4,340.5l-4.3,0 0,0 4.3,0zM612.1,340.5l-4.3,0 0,0 4.3,0zM607.8,340.5l-4.3,0 0,0 4.3,0zM603.5,340.5l-4.3,0 0,0 4.3,0zM599.2,340.5l-4.3,0 0,0 4.3,0zM594.9,340.5l-4.4,0 0,0 4.4,0zM590.5,340.5l-4.3,0 0,0 4.3,0zM586.2,340.5l-4.3,0 0,0 4.3,0zM581.9,340.5l-4.3,0 0,0 4.3,0zM577.6,340.5l-4.3,0 0,0 4.3,0zM573.3,340.5l-4.3,0 0,0 4.3,0z"/>
<path fill="#50b6ec" d="M569,340.5l-4.3-153.9 0-64.5 4.3,218.4z"/>
<path fill="#51baec" d="M564.7,186.6l-4.4,28.9 0-48.5 4.4-44.9z"/>
<path fill="#5dd5e1" d="M560.3,215.5l-4.3,28.9 0-32.5 4.3-44.9z"/>
<path fill="#ace189" d="M556,244.4l-4.3,21.3 0-17.8 4.3-36z"/>
<path fill="#91dea3" d="M551.7,265.7l-4.3-2.6 0-29.2 4.3,14z"/>
<path fill="#d9e875" d="M547.4,263.1l-4.3,6.5 0-19.8 4.3-15.9z"/>
<path fill="#f6ee6c" d="M543.1,269.6l-4.3,15.2 0-7.3 4.3-27.7zM538.8,284.8l-4.3-4.9 0-11.3 4.3,8.9z"/>
<path fill="#e1ea72" d="M534.5,279.9l-4.4-7.5 0-17.7 4.4,13.9z"/>
<path fill="#f6ee6c" d="M530.1,272.4l-4.3,9.2 0-9.9 4.3-17zM525.8,281.6l-4.3-0.8 0,1.8 4.3-10.9z"/>
<path fill="#f1ed6e" d="M521.5,280.8l-4.3-3.3 0-13.3 4.3,18.4z"/>
<path fill="#ecec6f" d="M517.2,277.5l-4.3-1.7 0-14.6 4.3,3z"/>
<path fill="#f6ee6c" d="M512.9,275.8l-4.3,7.3 0-8.6 4.3-13.3zM508.6,283.1l-4.3,7.4 0-2.7 4.3-13.3zM504.3,290.5l-4.4-9.1 0-10.1 4.4,16.5z"/>
<path fill="#deea73" d="M499.9,281.4l-4.3-10 0-18.2 4.3,18.1z"/>
<path fill="#bde481" d="M495.6,271.4l-4.3-9.9 0-28.6 4.3,20.3z"/>
<path fill="#d7e876" d="M491.3,261.5l-4.3,7.6 0-20.1 4.3-16.1z"/>
<path fill="#f6ee6c" d="M487,269.1l-4.3,10.1 0-11.9 4.3-18.3zM482.7,279.2l-4.3,9 0-4.5 4.3-16.4zM478.4,288.2l-4.3,2.3 0-2.9 4.3-3.9zM474.1,290.5l-4.4,1.7 0-0.6 4.4-4zM469.7,292.2l-4.3-0.4 0,2 4.3-2.2zM465.4,291.8l-4.3,6.2 0-1.2 4.3-3zM461.1,298l-4.3,8.1 0-3.3 4.3-6zM456.8,306.1l-4.3-1.5 0-5.6 4.3,3.8zM452.5,304.6l-4.3-1.9 0-5.4 4.3,1.7zM448.2,302.7l-4.3,5.5 0-2.6 4.3-8.3zM443.9,308.2l-4.4,2 0-12.9 4.4,8.3zM439.5,310.2l-4.3-0.3 0-29.4 4.3,16.8zM435.2,309.9l-4.3-5.4 0-20.8 4.3-3.2zM430.9,304.5l-4.3-6.4 0-12.1 4.3-2.3zM426.6,298.1l-4.3,3.7 0-11.9 4.3-3.9zM422.3,301.8l-4.3,5.8 0-11.4 4.3-6.3zM418,307.6l-4.3,2.9 0-10.8 4.3-3.5zM413.7,310.5l-4.3-1.4 0-12.1 4.3,2.7zM409.4,309.1l-4.4-7.3 0-9.6 4.4,4.8zM405,301.8l-4.3-2.6 0,1.3 4.3-8.3zM400.7,299.2l-4.3,7.8 0-2.4 4.3-4.1zM396.4,307l-4.3,0 0-13.5 4.3,11.1zM392.1,307l-4.3-6.9 0-8 4.3,1.4zM387.8,300.1l-4.3-4.7 0,0.1 4.3-3.4zM383.5,295.4l-4.3-5.8 0,2.1 4.3,3.8zM379.2,289.6l-4.4-6.6 0,8.9 4.4-0.2zM374.8,283l-4.3,0.2 0,8.6 4.3,0.1zM370.5,283.2l-4.3,16 0-14.6 4.3,7.2zM366.2,299.2l-4.3,1 0-12.3 4.3-3.3zM361.9,300.2l-4.3-7.1 0-3.8 4.3-1.4zM357.6,293.1l-4.3,4.3 0-6.6 4.3-1.5zM353.3,297.4l-4.3,4.8 0-10.8 4.3-0.6zM349,302.2l-4.4-5.2 0-7.9 4.4,2.3zM344.6,297l-4.3-15.9 0-0.3 4.3,8.3z"/>
<path fill="#f2ed6d" d="M340.3,281.1l-4.3-3.4 0,3.1 4.3,0z"/>
<path fill="#f6ee6c" d="M336,277.7l-4.3,7.4 0,8.4 4.3-12.7zM331.7,285.1l-4.3,8.2 0,11.2 4.3-11zM327.4,293.3l-4.3,4.5 0,5.4 4.3,1.3zM323.1,297.8l-4.3,0.1 0,1 4.3,4.3zM318.8,297.9l-4.4,1 0,1.6 4.4-1.6zM314.4,298.9l-4.3,7.1 0-5.6 4.3,0.1zM310.1,306l-4.3,0.6 0-3.8 4.3-2.4zM305.8,306.6l-4.3-6.1 0,6.2 4.3-3.9zM301.5,300.5l-4.3-5.6 0,8.1 4.3,3.7zM297.2,294.9l-4.3-3.4 0,7.9 4.3,3.6zM292.9,291.5l-4.3,1.8 0,5.5 4.3,0.6zM288.6,293.3l-4.4,8.4 0-3.7 4.4,0.8zM284.2,301.7l-4.3,6.8 0-8.1 4.3-2.4zM279.9,308.5l-4.3,1.3 0-3.9 4.3-5.5zM275.6,309.8l-4.3-0.2 0-0.7 4.3-3zM271.3,309.6l-4.3-0.7 0-1.9 4.3,1.9zM267,308.9l-4.3-2.3 0-3.1 4.3,3.5zM262.7,306.6l-4.3-1.9 0-8 4.3,6.8zM258.4,304.7l-4.3,1.8 0-17.3 4.3,7.5zM254.1,306.5l-4.4,2.7 0-16.8 4.4-3.2zM249.7,309.2l-4.3-2.6 0-6.3 4.3-7.9zM245.4,306.6l-4.3-8.8 0,4.8 4.3-2.3zM241.1,297.8l-4.3-11.4 0,16.1 4.3,0.1zM236.8,286.4l-4.3-0.3 0,19.1 4.3-2.7zM232.5,286.1l-4.3,16.5 0,5.5 4.3-2.9zM228.2,302.6l-4.3,6 0-1.1 4.3,0.6zM223.9,308.6l-4.4-3.3 0,0.4 4.4,1.8zM219.5,305.3l-4.3,2.7 0-3.2 4.3,0.9zM215.2,308l-4.3-2.2 0-1.2 4.3,0.2zM210.9,305.8l-4.3-7.7 0,8.6 4.3-2.1zM206.6,298.1l-4.3,6.7 0,3.8 4.3-1.9zM202.3,304.8l-4.3,6.7 0-3.6 4.3,0.7zM198,311.5l-4.3-3 0-2.9 4.3,2.3zM193.7,308.5l-4.4-7.2 0-4.4 4.4,8.7zM189.3,301.3l-4.3,2.8 0-14.5 4.3,7.3zM185,304.1l-4.3,6.6 0-20.4 4.3-0.7zM180.7,310.7l-4.3-1.5 0-21.7 4.3,2.8zM176.4,309.2l-4.3-12.4 0-14.7 4.3,5.4zM172.1,296.8l-4.3-4.1 0-9.6 4.3-1zM167.8,292.7l-4.3,6.4 0-6.7 4.3-9.3zM163.5,299.1l-4.4-4.1 0-7.9 4.4,5.3zM159.1,295l-4.3,0.5 0-12.5 4.3,4.1zM154.8,295.5l-4.3,9 0-14.4 4.3-7.1zM150.5,304.5l-4.3-0.7 0-15.8 4.3,2.1zM146.2,303.8l-4.3-1.4 0-16.3 4.3,1.9zM141.9,302.4l-4.3,5.6 0-12.7 4.3-9.2zM137.6,308l-4.3,3 0-9 4.3-6.7zM133.3,311l-4.4-3.8 0-6.4 4.4,1.2zM128.9,307.2l-4.3-9.2 0-1.2 4.3,4zM124.6,298l-4.3,3.3 0-1.6 4.3-2.9zM120.3,301.3l-4.3,1.1 0-2 4.3-0.7zM116,302.4l-4.3-12.6 0,2 4.3,8.6zM111.7,289.8l-4.3,1 0,4.6 4.3-3.6zM107.4,290.8l-4.3-1.5 0,7.2 4.3-1.1z"/>
<path fill="#f4ee6d" d="M103.1,289.3l-4.4-10.7 0,4.1 4.4,13.8z"/>
<path fill="#f0ed6e" d="M98.7,278.6l-4.3-1.3 0,1.5 4.3,3.9z"/>
<path fill="#f6ee6c" d="M94.4,277.3l-4.3,8.7 0-2.2 4.3-5zM90.1,286l-4.3,10.9 0-5.7 4.3-7.4zM85.8,296.9l-4.3-5.7 0-1.2 4.3,1.2z"/>
<path fill="#f6ee6c" d="M675.3,340.5l-2.8,0 0,0 2.8,0zM672.5,340.5l-4.3,0 0,0 4.3,0zM668.2,340.5l-4.3,0 0,0 4.3,0zM663.9,340.5l-4.3,0 0,0 4.3,0zM659.6,340.5l-4.4,0 0,0 4.4,0zM655.2,340.5l-4.3,0 0,0 4.3,0zM650.9,340.5l-4.3,0 0,0 4.3,0zM646.6,340.5l-4.3,0 0,0 4.3,0zM642.3,340.5l-4.3,0 0,0 4.3,0zM638,340.5l-4.3,0 0,0 4.3,0zM633.7,340.5l-4.3,0 0,0 4.3,0zM629.4,340.5l-4.4,0 0,0 4.4,0zM625,340.5l-4.3,0 0,0 4.3,0zM620.7,340.5l-4.3,0 0,0 4.3,0zM616.4,340.5l-4.3,0 0,0 4.3,0zM612.1,340.5l-4.3,0 0,0 4.3,0zM607.8,340.5l-4.3,0 0,0 4.3,0zM603.5,340.5l-4.3,0 0,0 4.3,0zM599.2,340.5l-4.3,0 0,0 4.3,0zM594.9,340.5l-4.4,0 0,0 4.4,0zM590.5,340.5l-4.3,0 0,0 4.3,0zM586.2,340.5l-4.3,0 0,0 4.3,0zM581.9,340.5l-4.3,0 0,0 4.3,0zM577.6,340.5l-4.3,0 0,0 4.3,0zM573.3,340.5l-4.3,0 0,0 4.3,0zM569,340.5l-4.3-53 0-100.9 4.3,153.9zM564.7,287.5l-4.4,5.8 0-77.8 4.4-28.9zM560.3,293.3l-4.3-3.9 0-45 4.3-28.9zM556,289.4l-4.3-7.2 0-16.5 4.3-21.3zM551.7,282.2l-4.3,0.1 0-19.2 4.3,2.6zM547.4,282.3l-4.3,1.9 0-14.6 4.3-6.5z"/>
<path fill="#f5ee6c" d="M543.1,284.2l-4.3-5.3 0,5.9 4.3-15.2z"/>
<path fill="#eeec6f" d="M538.8,278.9l-4.3-2.5 0,3.5 4.3,4.9z"/>
<path fill="#f6ee6c" d="M534.5,276.4l-4.4,4 0-8 4.4,7.5zM530.1,280.4l-4.3,4.2 0-3 4.3-9.2zM525.8,284.6l-4.3,0 0-3.8 4.3,0.8zM521.5,284.6l-4.3,7.3 0-14.4 4.3,3.3zM517.2,291.9l-4.3,13.2 0-29.3 4.3,1.7zM512.9,305.1l-4.3,4.6 0-26.6 4.3-7.3zM508.6,309.7l-4.3-2.6 0-16.6 4.3-7.4zM504.3,307.1l-4.4-2.8 0-22.9 4.4,9.1zM499.9,304.3l-4.3-1.7 0-31.2 4.3,10zM495.6,302.6l-4.3-11.7 0-29.4 4.3,9.9zM491.3,290.9l-4.3-6.3 0-15.5 4.3-7.6zM487,284.6l-4.3,6.5 0-11.9 4.3-10.1zM482.7,291.1l-4.3,3.7 0-6.6 4.3-9zM478.4,294.8l-4.3,0.4 0-4.7 4.3-2.3zM474.1,295.2l-4.4,0.4 0-3.4 4.4-1.7zM469.7,295.6l-4.3,1.3 0-5.1 4.3,0.4zM465.4,296.9l-4.3,8.8 0-7.7 4.3-6.2zM461.1,305.7l-4.3,7.2 0-6.8 4.3-8.1zM456.8,312.9l-4.3-0.8 0-7.5 4.3,1.5zM452.5,312.1l-4.3-8.9 0-0.5 4.3,1.9zM448.2,303.2l-4.3-12.8 0,17.8 4.3-5.5zM443.9,290.4l-4.4-7.5 0,27.3 4.4-2zM439.5,282.9l-4.3,14.3 0,12.7 4.3,0.3zM435.2,297.2l-4.3,6.9 0,0.4 4.3,5.4zM430.9,304.1l-4.3-2.3 0-3.7 4.3,6.4zM426.6,301.8l-4.3,0.5 0-0.5 4.3-3.7zM422.3,302.3l-4.3,1.3 0,4 4.3-5.8zM418,303.6l-4.3,1.9 0,5 4.3-2.9zM413.7,305.5l-4.3,1.9 0,1.7 4.3,1.4zM409.4,307.4l-4.4-6.1 0,0.5 4.4,7.3zM405,301.3l-4.3-8.3 0,6.2 4.3,2.6zM400.7,293l-4.3,7 0,7 4.3-7.8zM396.4,300l-4.3,2.3 0,4.7 4.3,0zM392.1,302.3l-4.3-7.7 0,5.5 4.3,6.9zM387.8,294.6l-4.3-4.6 0,5.4 4.3,4.7zM383.5,290l-4.3-0.4 0,0 4.3,5.8zM379.2,289.6l-4.4,3.1 0-9.7 4.4,6.6zM374.8,292.7l-4.3,1.5 0-11 4.3-0.2zM370.5,294.2l-4.3,3.6 0,1.4 4.3-16zM366.2,297.8l-4.3,2.7 0-0.3 4.3-1zM361.9,300.5l-4.3-2.6 0-4.8 4.3,7.1zM357.6,297.9l-4.3,2 0-2.5 4.3-4.3zM353.3,299.9l-4.3,0.8 0,1.5 4.3-4.8zM349,300.7l-4.4-12.8 0,9.1 4.4,5.2z"/>
<path fill="#ebec6f" d="M344.6,287.9l-4.3-12.2 0,5.4 4.3,15.9z"/>
<path fill="#eaec70" d="M340.3,275.7l-4.3-0.6 0,2.6 4.3,3.4z"/>
<path fill="#f6ee6c" d="M336,275.1l-4.3,6.4 0,3.6 4.3-7.4zM331.7,281.5l-4.3,2.8 0,9 4.3-8.2zM327.4,284.3l-4.3-0.3 0,13.8 4.3-4.5zM323.1,284l-4.3,1.5 0,12.4 4.3-0.1zM318.8,285.5l-4.4,5.9 0,7.5 4.4-1zM314.4,291.4l-4.3,10.5 0,4.1 4.3-7.1zM310.1,301.9l-4.3-1.9 0,6.6 4.3-0.6zM305.8,300l-4.3-4.8 0,5.3 4.3,6.1zM301.5,295.2l-4.3,3 0-3.3 4.3,5.6zM297.2,298.2l-4.3-0.1 0-6.6 4.3,3.4zM292.9,298.1l-4.3,0.9 0-5.7 4.3-1.8zM288.6,299l-4.4,8.9 0-6.2 4.4-8.4zM284.2,307.9l-4.3,5 0-4.4 4.3-6.8zM279.9,312.9l-4.3-2.3 0-0.8 4.3-1.3zM275.6,310.6l-4.3-5.8 0,4.8 4.3,0.2zM271.3,304.8l-4.3-7.9 0,12 4.3,0.7zM267,296.9l-4.3-5.8 0,15.5 4.3,2.3zM262.7,291.1l-4.3,7.2 0,6.4 4.3,1.9zM258.4,298.3l-4.3,9 0-0.8 4.3-1.8zM254.1,307.3l-4.4-1.7 0,3.6 4.4-2.7zM249.7,305.6l-4.3-6.8 0,7.8 4.3,2.6zM245.4,298.8l-4.3-3.6 0,2.6 4.3,8.8zM241.1,295.2l-4.3-9.5 0,0.7 4.3,11.4zM236.8,285.7l-4.3-4.1 0,4.5 4.3,0.3zM232.5,281.6l-4.3,7.7 0,13.3 4.3-16.5zM228.2,289.3l-4.3,4.3 0,15 4.3-6zM223.9,293.6l-4.4,10.1 0,1.6 4.4,3.3zM219.5,303.7l-4.3,7.5 0-3.2 4.3-2.7zM215.2,311.2l-4.3-6.5 0,1.1 4.3,2.2zM210.9,304.7l-4.3-16.7 0,10.1 4.3,7.7zM206.6,288l-4.3-1.3 0,18.1 4.3-6.7zM202.3,286.7l-4.3,4.2 0,20.6 4.3-6.7zM198,290.9l-4.3,1.6 0,16 4.3,3zM193.7,292.5l-4.4,1.8 0,7 4.4,7.2zM189.3,294.3l-4.3,12.1 0-2.3 4.3-2.8zM185,306.4l-4.3,5.3 0-1 4.3-6.6zM180.7,311.7l-4.3-2.9 0,0.4 4.3,1.5zM176.4,308.8l-4.3-7.9 0-4.1 4.3,12.4zM172.1,300.9l-4.3-3.9 0-4.3 4.3,4.1zM167.8,297l-4.3,0.9 0,1.2 4.3-6.4zM163.5,297.9l-4.4-3.4 0,0.5 4.4,4.1zM159.1,294.5l-4.3-2.4 0,3.4 4.3-0.5zM154.8,292.1l-4.3,4.2 0,8.2 4.3-9zM150.5,296.3l-4.3,4.9 0,2.6 4.3,0.7zM146.2,301.2l-4.3,0.4 0,0.8 4.3,1.4zM141.9,301.6l-4.3,2.4 0,4 4.3-5.6zM137.6,304l-4.3,5.9 0,1.1 4.3-3zM133.3,309.9l-4.4-3 0,0.3 4.4,3.8zM128.9,306.9l-4.3-10.1 0,1.2 4.3,9.2zM124.6,296.8l-4.3,6.5 0-2 4.3-3.3zM120.3,303.3l-4.3,2.3 0-3.2 4.3-1.1zM116,305.6l-4.3-11.9 0-3.9 4.3,12.6zM111.7,293.7l-4.3-1.7 0-1.2 4.3-1zM107.4,292l-4.3-0.3 0-2.4 4.3,1.5zM103.1,291.7l-4.4-8.2 0-4.9 4.4,10.7zM98.7,283.5l-4.3-2.5 0-3.7 4.3,1.3zM94.4,281l-4.3,11.6 0-6.6 4.3-8.7zM90.1,292.6l-4.3,15.1 0-10.8 4.3-10.9zM85.8,307.7l-4.3-0.9 0-15.6 4.3,5.7z"/>
<path fill="#d9e875" d="M675.3,269.6l-2.8,9 0,61.9 2.8,0z"/>
<path fill="#f4ee6d" d="M672.5,278.6l-4.3,2 0,59.9 4.3,0z"/>
<path fill="#f6ee6c" d="M668.2,280.6l-4.3,6.4 0,53.5 4.3,0zM663.9,287l-4.3,9.4 0,44.1 4.3,0zM659.6,296.4l-4.4,5.5 0,38.6 4.4,0zM655.2,301.9l-4.3,3.8 0,34.8 4.3,0zM650.9,305.7l-4.3,1.8 0,33 4.3,0zM646.6,307.5l-4.3-1.3 0,34.3 4.3,0zM642.3,306.2l-4.3-6 0,40.3 4.3,0zM638,300.2l-4.3-6.8 0,47.1 4.3,0zM633.7,293.4l-4.3-5.6 0,52.7 4.3,0zM629.4,287.8l-4.4-5 0,57.7 4.4,0zM625,282.8l-4.3,1.1 0,56.6 4.3,0zM620.7,283.9l-4.3,9.7 0,46.9 4.3,0zM616.4,293.6l-4.3,5.7 0,41.2 4.3,0zM612.1,299.3l-4.3-3.4 0,44.6 4.3,0zM607.8,295.9l-4.3,3.4 0,41.2 4.3,0zM603.5,299.3l-4.3,7.9 0,33.3 4.3,0zM599.2,307.2l-4.3-0.6 0,33.9 4.3,0zM594.9,306.6l-4.4-3.3 0,37.2 4.4,0zM590.5,303.3l-4.3-0.4 0,37.6 4.3,0zM586.2,302.9l-4.3-3.7 0,41.3 4.3,0zM581.9,299.2l-4.3-4.9 0,46.2 4.3,0zM577.6,294.3l-4.3-2.6 0,48.8 4.3,0zM573.3,291.7l-4.3,1 0,47.8 4.3,0zM569,292.7l-4.3,0.5 0-5.7 4.3,53zM564.7,293.2l-4.4-5.5 0,5.6 4.4-5.8zM560.3,287.7l-4.3-3.2 0,4.9 4.3,3.9zM556,284.5l-4.3-2.8 0,0.5 4.3,7.2zM551.7,281.7l-4.3-2.2 0,2.8 4.3-0.1zM547.4,279.5l-4.3,0.5 0,4.2 4.3-1.9z"/>
<path fill="#f5ee6c" d="M543.1,280l-4.3-1.2 0,0.1 4.3,5.3z"/>
<path fill="#f6ee6c" d="M538.8,278.8l-4.3,4.3 0-6.7 4.3,2.5zM534.5,283.1l-4.4,12.7 0-15.4 4.4-4zM530.1,295.8l-4.3,1.4 0-12.6 4.3-4.2zM525.8,297.2l-4.3-4.4 0-8.2 4.3,0zM521.5,292.8l-4.3,0.8 0-1.7 4.3-7.3zM517.2,293.6l-4.3,4.3 0,7.2 4.3-13.2zM512.9,297.9l-4.3,6.1 0,5.7 4.3-4.6zM508.6,304l-4.3,4.1 0-1 4.3,2.6zM504.3,308.1l-4.4,2.1 0-5.9 4.4,2.8zM499.9,310.2l-4.3-2.9 0-4.7 4.3,1.7zM495.6,307.3l-4.3-11.4 0-5 4.3,11.7zM491.3,295.9l-4.3-1 0-10.3 4.3,6.3zM487,294.9l-4.3,7.4 0-11.2 4.3-6.5zM482.7,302.3l-4.3-3.3 0-4.2 4.3-3.7zM478.4,299l-4.3-3 0-0.8 4.3-0.4zM474.1,296l-4.4,7.1 0-7.5 4.4-0.4zM469.7,303.1l-4.3,2.9 0-9.1 4.3-1.3zM465.4,306l-4.3,1.6 0-1.9 4.3-8.8zM461.1,307.6l-4.3,2.8 0,2.5 4.3-7.2zM456.8,310.4l-4.3-11.6 0,13.3 4.3,0.8z"/>
<path fill="#f3ed6d" d="M452.5,298.8l-4.3-20.6 0,25 4.3,8.9z"/>
<path fill="#f6ee6c" d="M448.2,278.2l-4.3,7.1 0,5.1 4.3,12.8zM443.9,285.3l-4.4,11.7 0-14.1 4.4,7.5zM439.5,297l-4.3,8.2 0-8 4.3-14.3zM435.2,305.2l-4.3,1.8 0-2.9 4.3-6.9zM430.9,307l-4.3-2.7 0-2.5 4.3,2.3zM426.6,304.3l-4.3-1.1 0-0.9 4.3-0.5zM422.3,303.2l-4.3-2.2 0,2.6 4.3-1.3zM418,301l-4.3-3.3 0,7.8 4.3-1.9zM413.7,297.7l-4.3,4 0,5.7 4.3-1.9zM409.4,301.7l-4.4,3 0-3.4 4.4,6.1zM405,304.7l-4.3-1.4 0-10.3 4.3,8.3zM400.7,303.3l-4.3-0.7 0-2.6 4.3-7zM396.4,302.6l-4.3-8.2 0,7.9 4.3-2.3zM392.1,294.4l-4.3-10.9 0,11.1 4.3,7.7z"/>
<path fill="#e5eb71" d="M387.8,283.5l-4.3-9.8 0,16.3 4.3,4.6z"/>
<path fill="#d4e877" d="M383.5,273.7l-4.3-5.4 0,21.3 4.3,0.4z"/>
<path fill="#f6ee6c" d="M379.2,268.3l-4.4,19.1 0,5.3 4.4-3.1zM374.8,287.4l-4.3,7.1 0-0.3 4.3-1.5zM370.5,294.5l-4.3-2.3 0,5.6 4.3-3.6zM366.2,292.2l-4.3,7.5 0,0.8 4.3-2.7zM361.9,299.7l-4.3,4.6 0-6.4 4.3,2.6zM357.6,304.3l-4.3-1.2 0-3.2 4.3-2zM353.3,303.1l-4.3-3.7 0,1.3 4.3-0.8zM349,299.4l-4.4-15.5 0,4 4.4,12.8z"/>
<path fill="#ebec6f" d="M344.6,283.9l-4.3-8.2 0,0 4.3,12.2z"/>
<path fill="#f4ee6d" d="M340.3,275.7l-4.3,2.9 0-3.5 4.3,0.6z"/>
<path fill="#f6ee6c" d="M336,278.6l-4.3,9.9 0-7 4.3-6.4zM331.7,288.5l-4.3,2.6 0-6.8 4.3-2.8zM327.4,291.1l-4.3-4 0-3.1 4.3,0.3zM323.1,287.1l-4.3,0.1 0-1.7 4.3-1.5zM318.8,287.2l-4.4,10.9 0-6.7 4.4-5.9zM314.4,298.1l-4.3-2.2 0,6 4.3-10.5z"/>
<path fill="#eaec70" d="M310.1,295.9l-4.3-20.7 0,24.8 4.3,1.9z"/>
<path fill="#f6ee6c" d="M305.8,275.2l-4.3,6.2 0,13.8 4.3,4.8zM301.5,281.4l-4.3,17 0-0.2 4.3-3zM297.2,298.4l-4.3,4.7 0-5 4.3,0.1zM292.9,303.1l-4.3-0.8 0-3.3 4.3-0.9zM288.6,302.3l-4.4,5.9 0-0.3 4.4-8.9zM284.2,308.2l-4.3,2.7 0,2 4.3-5zM279.9,310.9l-4.3-11.1 0,10.8 4.3,2.3zM275.6,299.8l-4.3-13.4 0,18.4 4.3,5.8zM271.3,286.4l-4.3,0.9 0,9.6 4.3,7.9zM267,287.3l-4.3-2.3 0,6.1 4.3,5.8zM262.7,285l-4.3,10.4 0,2.9 4.3-7.2zM258.4,295.4l-4.3,9.8 0,2.1 4.3-9zM254.1,305.2l-4.4-8.5 0,8.9 4.4,1.7zM249.7,296.7l-4.3-4 0,6.1 4.3,6.8zM245.4,292.7l-4.3,1.5 0,1 4.3,3.6zM241.1,294.2l-4.3-12.7 0,4.2 4.3,9.5zM236.8,281.5l-4.3,1.5 0-1.4 4.3,4.1zM232.5,283l-4.3,9.3 0-3 4.3-7.7zM228.2,292.3l-4.3,7.8 0-6.5 4.3-4.3zM223.9,300.1l-4.4,8.5 0-4.9 4.4-10.1zM219.5,308.6l-4.3,0.9 0,1.7 4.3-7.5zM215.2,309.5l-4.3-8.5 0,3.7 4.3,6.5zM210.9,301l-4.3-11.1 0-1.9 4.3,16.7zM206.6,289.9l-4.3-1.1 0-2.1 4.3,1.3zM202.3,288.8l-4.3,6.2 0-4.1 4.3-4.2zM198,295l-4.3-1.3 0-1.2 4.3-1.6zM193.7,293.7l-4.4,2.9 0-2.3 4.4-1.8zM189.3,296.6l-4.3,11.9 0-2.1 4.3-12.1zM185,308.5l-4.3,2.8 0,0.4 4.3-5.3zM180.7,311.3l-4.3-3.1 0,0.6 4.3,2.9zM176.4,308.2l-4.3-5.2 0-2.1 4.3,7.9zM172.1,303l-4.3-1.7 0-4.3 4.3,3.9zM167.8,301.3l-4.3,1.8 0-5.2 4.3-0.9zM163.5,303.1l-4.4-3.9 0-4.7 4.4,3.4zM159.1,299.2l-4.3-9.2 0,2.1 4.3,2.4zM154.8,290l-4.3-0.6 0,6.9 4.3-4.2zM150.5,289.4l-4.3,4.6 0,7.2 4.3-4.9zM146.2,294l-4.3-6 0,13.6 4.3-0.4zM141.9,288l-4.3-0.1 0,16.1 4.3-2.4zM137.6,287.9l-4.3,10.6 0,11.4 4.3-5.9zM133.3,298.5l-4.4,0.1 0,8.3 4.4,3zM128.9,298.6l-4.3-2.3 0,0.5 4.3,10.1zM124.6,296.3l-4.3,4.6 0,2.4 4.3-6.5zM120.3,300.9l-4.3-2.1 0,6.8 4.3-2.3zM116,298.8l-4.3-6.7 0,1.6 4.3,11.9zM111.7,292.1l-4.3,0.1 0-0.2 4.3,1.7zM107.4,292.2l-4.3,1.7 0-2.2 4.3,0.3zM103.1,293.9l-4.4-5.3 0-5.1 4.4,8.2zM98.7,288.6l-4.3-4.3 0-3.3 4.3,2.5zM94.4,284.3l-4.3,6.8 0,1.5 4.3-11.6zM90.1,291.1l-4.3,14.1 0,2.5 4.3-15.1zM85.8,305.2l-4.3,7.7 0-6.1 4.3,0.9z"/>
<path fill="#cee77a" d="M675.3,266.5l-2.8,11.1 0,1 2.8-9z"/>
<path fill="#f1ed6d" d="M672.5,277.6l-4.3,9.3 0-6.3 4.3-2z"/>
<path fill="#f6ee6c" d="M668.2,286.9l-4.3,4.8 0-4.7 4.3-6.4zM663.9,291.7l-4.3,5.7 0-1 4.3-9.4zM659.6,297.4l-4.4,8.4 0-3.9 4.4-5.5zM655.2,305.8l-4.3,2.5 0-2.6 4.3-3.8zM650.9,308.3l-4.3-4.9 0,4.1 4.3-1.8zM646.6,303.4l-4.3-4.5 0,7.3 4.3,1.3zM642.3,298.9l-4.3,1.3 0,0 4.3,6zM638,300.2l-4.3-0.6 0-6.2 4.3,6.8zM633.7,299.6l-4.3-11.7 0-0.1 4.3,5.6zM629.4,287.9l-4.4-7.2 0,2.1 4.4,5zM625,280.7l-4.3,2.7 0,0.5 4.3-1.1zM620.7,283.4l-4.3,12.6 0-2.4 4.3-9.7zM616.4,296l-4.3,7.7 0-4.4 4.3-5.7zM612.1,303.7l-4.3-4.5 0-3.3 4.3,3.4zM607.8,299.2l-4.3,2.9 0-2.8 4.3-3.4zM603.5,302.1l-4.3,6.5 0-1.4 4.3-7.9zM599.2,308.6l-4.3-3.8 0,1.8 4.3,0.6zM594.9,304.8l-4.4-7.8 0,6.3 4.4,3.3zM590.5,297l-4.3-3.2 0,9.1 4.3,0.4zM586.2,293.8l-4.3-2.9 0,8.3 4.3,3.7zM581.9,290.9l-4.3,0 0,3.4 4.3,4.9zM577.6,290.9l-4.3,3.7 0-2.9 4.3,2.6zM573.3,294.6l-4.3,6 0-7.9 4.3-1zM569,300.6l-4.3-2.1 0-5.3 4.3-0.5zM564.7,298.5l-4.4-12.6 0,1.8 4.4,5.5zM560.3,285.9l-4.3-2.4 0,1 4.3,3.2zM556,283.5l-4.3,3.3 0-5.1 4.3,2.8zM551.7,286.8l-4.3-3.2 0-4.1 4.3,2.2zM547.4,283.6l-4.3-2.7 0-0.9 4.3-0.5zM543.1,280.9l-4.3,5.6 0-7.7 4.3,1.2zM538.8,286.5l-4.3,17.6 0-21 4.3-4.3zM534.5,304.1l-4.4,7.5 0-15.8 4.4-12.7zM530.1,311.6l-4.3-4.4 0-10 4.3-1.4zM525.8,307.2l-4.3-8.3 0-6.1 4.3,4.4zM521.5,298.9l-4.3-3.9 0-1.4 4.3-0.8zM517.2,295l-4.3-2.1 0,5 4.3-4.3zM512.9,292.9l-4.3,0.9 0,10.2 4.3-6.1zM508.6,293.8l-4.3,5.9 0,8.4 4.3-4.1zM504.3,299.7l-4.4,3.8 0,6.7 4.4-2.1zM499.9,303.5l-4.3-5.7 0,9.5 4.3,2.9zM495.6,297.8l-4.3-7.1 0,5.2 4.3,11.4zM491.3,290.7l-4.3,5.3 0-1.1 4.3,1zM487,296l-4.3,7.3 0-1 4.3-7.4zM482.7,303.3l-4.3-2.3 0-2 4.3,3.3zM478.4,301l-4.3-2 0-3 4.3,3zM474.1,299l-4.4,2.7 0,1.4 4.4-7.1zM469.7,301.7l-4.3-6.5 0,10.8 4.3-2.9zM465.4,295.2l-4.3-8 0,20.4 4.3-1.6zM461.1,287.2l-4.3,3.7 0,19.5 4.3-2.8zM456.8,290.9l-4.3,4.3 0,3.6 4.3,11.6zM452.5,295.2l-4.3-2.2 0-14.8 4.3,20.6zM448.2,293l-4.3-3.2 0-4.5 4.3-7.1zM443.9,289.8l-4.4-5.8 0,13 4.4-11.7zM439.5,284l-4.3-2.5 0,23.7 4.3-8.2zM435.2,281.5l-4.3,14.4 0,11.1 4.3-1.8zM430.9,295.9l-4.3,4.8 0,3.6 4.3,2.7zM426.6,300.7l-4.3-0.9 0,3.4 4.3,1.1zM422.3,299.8l-4.3,1.8 0-0.6 4.3,2.2zM418,301.6l-4.3-3.4 0-0.5 4.3,3.3zM413.7,298.2l-4.3-4.8 0,8.3 4.3-4zM409.4,293.4l-4.4,1 0,10.3 4.4-3zM405,294.4l-4.3,0.5 0,8.4 4.3,1.4zM400.7,294.9l-4.3-6.2 0,13.9 4.3,0.7zM396.4,288.7l-4.3-5.8 0,11.5 4.3,8.2zM392.1,282.9l-4.3-3.4 0,4 4.3,10.9zM387.8,279.5l-4.3,3.2 0-9 4.3,9.8zM383.5,282.7l-4.3,5.1 0-19.5 4.3,5.4zM379.2,287.8l-4.4,2.3 0-2.7 4.4-19.1zM374.8,290.1l-4.3,0.1 0,4.3 4.3-7.1zM370.5,290.2l-4.3-4.6 0,6.6 4.3,2.3zM366.2,285.6l-4.3,1.8 0,12.3 4.3-7.5zM361.9,287.4l-4.3,9.2 0,7.7 4.3-4.6zM357.6,296.6l-4.3,0.2 0,6.3 4.3,1.2zM353.3,296.8l-4.3-6.1 0,8.7 4.3,3.7zM349,290.7l-4.4-7.1 0,0.3 4.4,15.5zM344.6,283.6l-4.3,0 0-7.9 4.3,8.2zM340.3,283.6l-4.3,4.9 0-9.9 4.3-2.9zM336,288.5l-4.3-1.8 0,1.8 4.3-9.9zM331.7,286.7l-4.3-3 0,7.4 4.3-2.6zM327.4,283.7l-4.3-1.5 0,4.9 4.3,4zM323.1,282.2l-4.3,2.9 0,2.1 4.3-0.1zM318.8,285.1l-4.4,11.6 0,1.4 4.4-10.9zM314.4,296.7l-4.3-1 0,0.2 4.3,2.2zM310.1,295.7l-4.3-6.2 0-14.3 4.3,20.7zM305.8,289.5l-4.3-0.8 0-7.3 4.3-6.2zM301.5,288.7l-4.3,4.7 0,5 4.3-17zM297.2,293.4l-4.3,3.5 0,6.2 4.3-4.7zM292.9,296.9l-4.3,1.1 0,4.3 4.3,0.8zM288.6,298l-4.4,6 0,4.2 4.4-5.9zM284.2,304l-4.3,5.6 0,1.3 4.3-2.7zM279.9,309.6l-4.3-5.7 0-4.1 4.3,11.1zM275.6,303.9l-4.3-12.5 0-5 4.3,13.4z"/>
<path fill="#f4ee6d" d="M271.3,291.4l-4.3-12.9 0,8.8 4.3-0.9z"/>
<path fill="#f6ee6c" d="M267,278.5l-4.3,4.5 0,2 4.3,2.3zM262.7,283l-4.3,19.8 0-7.4 4.3-10.4zM258.4,302.8l-4.3,8.3 0-5.9 4.3-9.8zM254.1,311.1l-4.4-7.1 0-7.3 4.4,8.5zM249.7,304l-4.3,1.7 0-13 4.3,4zM245.4,305.7l-4.3,5.9 0-17.4 4.3-1.5zM241.1,311.6l-4.3-6.6 0-23.5 4.3,12.7zM236.8,305l-4.3-16.4 0-5.6 4.3-1.5z"/>
<path fill="#f1ed6e" d="M232.5,288.6l-4.3-11.2 0,14.9 4.3-9.3z"/>
<path fill="#f6ee6c" d="M228.2,277.4l-4.3,8.9 0,13.8 4.3-7.8zM223.9,286.3l-4.4,9.2 0,13.1 4.4-8.5zM219.5,295.5l-4.3,0.3 0,13.7 4.3-0.9zM215.2,295.8l-4.3-9 0,14.2 4.3,8.5z"/>
<path fill="#e8eb70" d="M210.9,286.8l-4.3-12.2 0,15.3 4.3,11.1z"/>
<path fill="#f6ee6c" d="M206.6,274.6l-4.3,5.1 0,9.1 4.3,1.1zM202.3,279.7l-4.3,8.8 0,6.5 4.3-6.2zM198,288.5l-4.3,3.4 0,1.8 4.3,1.3zM193.7,291.9l-4.4,2.3 0,2.4 4.4-2.9zM189.3,294.2l-4.3,7.9 0,6.4 4.3-11.9zM185,302.1l-4.3,5.4 0,3.8 4.3-2.8zM180.7,307.5l-4.3-3.8 0,4.5 4.3,3.1zM176.4,303.7l-4.3-7.7 0,7 4.3,5.2zM172.1,296l-4.3,0.4 0,4.9 4.3,1.7zM167.8,296.4l-4.3,0.4 0,6.3 4.3-1.8zM163.5,296.8l-4.4-6.3 0,8.7 4.4,3.9zM159.1,290.5l-4.3-4.5 0,4 4.3,9.2zM154.8,286l-4.3,3.7 0-0.3 4.3,0.6zM150.5,289.7l-4.3,4.7 0-0.4 4.3-4.6zM146.2,294.4l-4.3-7.3 0,0.9 4.3,6zM141.9,287.1l-4.3-2.9 0,3.7 4.3,0.1zM137.6,284.2l-4.3,1.9 0,12.4 4.3-10.6zM133.3,286.1l-4.4,4.4 0,8.1 4.4-0.1zM128.9,290.5l-4.3,11.2 0-5.4 4.3,2.3zM124.6,301.7l-4.3,0.8 0-1.6 4.3-4.6zM120.3,302.5l-4.3-8.9 0,5.2 4.3,2.1zM116,293.6l-4.3-6 0,4.5 4.3,6.7zM111.7,287.6l-4.3-2.1 0,6.7 4.3-0.1zM107.4,285.5l-4.3,3 0,5.4 4.3-1.7zM103.1,288.5l-4.4,4.3 0-4.2 4.4,5.3zM98.7,292.8l-4.3,1.1 0-9.6 4.3,4.3zM94.4,293.9l-4.3,0.1 0-2.9 4.3-6.8zM90.1,294l-4.3,7.2 0,4 4.3-14.1zM85.8,301.2l-4.3,11.7 0,0 4.3-7.7z"/>
<path fill="#a9e18a" d="M675.3,256l-2.8,13.9 0,7.7 2.8-11.1z"/>
<path fill="#dae975" d="M672.5,269.9l-4.3,12.1 0,4.9 4.3-9.3z"/>
<path fill="#f6ee6c" d="M668.2,282l-4.3,0.2 0,9.5 4.3-4.8zM663.9,282.2l-4.3,2.5 0,12.7 4.3-5.7zM659.6,284.7l-4.4,11.5 0,9.6 4.4-8.4zM655.2,296.2l-4.3,0.6 0,11.5 4.3-2.5zM650.9,296.8l-4.3-8.1 0,14.7 4.3,4.9zM646.6,288.7l-4.3,1.4 0,8.8 4.3,4.5zM642.3,290.1l-4.3,7.7 0,2.4 4.3-1.3zM638,297.8l-4.3-2.7 0,4.5 4.3,0.6zM633.7,295.1l-4.3-13.9 0,6.7 4.3,11.7z"/>
<path fill="#f3ed6d" d="M629.4,281.2l-4.4-3.2 0,2.7 4.4,7.2z"/>
<path fill="#f6ee6c" d="M625,278l-4.3,7.8 0-2.4 4.3-2.7zM620.7,285.8l-4.3,15.3 0-5.1 4.3-12.6zM616.4,301.1l-4.3,5.2 0-2.6 4.3-7.7zM612.1,306.3l-4.3-2.5 0-4.6 4.3,4.5zM607.8,303.8l-4.3,0.8 0-2.5 4.3-2.9zM603.5,304.6l-4.3-1.4 0,5.4 4.3-6.5zM599.2,303.2l-4.3-2.7 0,4.3 4.3,3.8zM594.9,300.5l-4.4,2.8 0-6.3 4.4,7.8zM590.5,303.3l-4.3-2.4 0-7.1 4.3,3.2zM586.2,300.9l-4.3-7 0-3 4.3,2.9zM581.9,293.9l-4.3,2.4 0-5.4 4.3,0zM577.6,296.3l-4.3,2.4 0-4.1 4.3-3.7zM573.3,298.7l-4.3-1.8 0,3.7 4.3-6zM569,296.9l-4.3,1.9 0-0.3 4.3,2.1zM564.7,298.8l-4.4-1.7 0-11.2 4.4,12.6zM560.3,297.1l-4.3-5.7 0-7.9 4.3,2.4zM556,291.4l-4.3-0.6 0-4 4.3-3.3zM551.7,290.8l-4.3-5.1 0-2.1 4.3,3.2zM547.4,285.7l-4.3-4.7 0-0.1 4.3,2.7zM543.1,281l-4.3,10.4 0-4.9 4.3-5.6zM538.8,291.4l-4.3,15.9 0-3.2 4.3-17.6zM534.5,307.3l-4.4,2.8 0,1.5 4.4-7.5zM530.1,310.1l-4.3-2.3 0-0.6 4.3,4.4zM525.8,307.8l-4.3-7 0-1.9 4.3,8.3zM521.5,300.8l-4.3-5.3 0-0.5 4.3,3.9zM517.2,295.5l-4.3-1.9 0-0.7 4.3,2.1zM512.9,293.6l-4.3-3.2 0,3.4 4.3-0.9zM508.6,290.4l-4.3,3.7 0,5.6 4.3-5.9zM504.3,294.1l-4.4,3.1 0,6.3 4.4-3.8zM499.9,297.2l-4.3-1 0,1.6 4.3,5.7zM495.6,296.2l-4.3,3.6 0-9.1 4.3,7.1zM491.3,299.8l-4.3,4 0-7.8 4.3-5.3zM487,303.8l-4.3,0.9 0-1.4 4.3-7.3zM482.7,304.7l-4.3,0.7 0-4.4 4.3,2.3zM478.4,305.4l-4.3,1.1 0-7.5 4.3,2zM474.1,306.5l-4.4-6.6 0,1.8 4.4-2.7zM469.7,299.9l-4.3-16.9 0,12.2 4.3,6.5z"/>
<path fill="#ecec6f" d="M465.4,283l-4.3-7 0,11.2 4.3,8z"/>
<path fill="#e5eb71" d="M461.1,276l-4.3-2.3 0,17.2 4.3-3.7z"/>
<path fill="#eeed6e" d="M456.8,273.7l-4.3,3 0,18.5 4.3-4.3z"/>
<path fill="#f6ee6c" d="M452.5,276.7l-4.3,6.7 0,9.6 4.3,2.2zM448.2,283.4l-4.3-0.7 0,7.1 4.3,3.2zM443.9,282.7l-4.4,4.9 0-3.6 4.4,5.8zM439.5,287.6l-4.3,9.8 0-15.9 4.3,2.5zM435.2,297.4l-4.3,1.8 0-3.3 4.3-14.4zM430.9,299.2l-4.3-0.8 0,2.3 4.3-4.8zM426.6,298.4l-4.3,3.3 0-1.9 4.3,0.9zM422.3,301.7l-4.3,1.2 0-1.3 4.3-1.8zM418,302.9l-4.3-3.5 0-1.2 4.3,3.4zM413.7,299.4l-4.3-10.8 0,4.8 4.3,4.8zM409.4,288.6l-4.4-6.8 0,12.6 4.4-1zM405,281.8l-4.3,8.1 0,5 4.3-0.5zM400.7,289.9l-4.3,9 0-10.2 4.3,6.2zM396.4,298.9l-4.3-7.2 0-8.8 4.3,5.8zM392.1,291.7l-4.3-3.9 0-8.3 4.3,3.4zM387.8,287.8l-4.3,7.5 0-12.6 4.3-3.2zM383.5,295.3l-4.3-1.2 0-6.3 4.3-5.1zM379.2,294.1l-4.4-9.4 0,5.4 4.4-2.3zM374.8,284.7l-4.3,0.2 0,5.3 4.3-0.1zM370.5,284.9l-4.3,1.9 0-1.2 4.3,4.6zM366.2,286.8l-4.3,1 0-0.4 4.3-1.8zM361.9,287.8l-4.3,5.7 0,3.1 4.3-9.2zM357.6,293.5l-4.3,1.4 0,1.9 4.3-0.2zM353.3,294.9l-4.3-4.9 0,0.7 4.3,6.1zM349,290l-4.4,0.1 0-6.5 4.4,7.1zM344.6,290.1l-4.3,12 0-18.5 4.3,0zM340.3,302.1l-4.3,1.9 0-15.5 4.3-4.9zM336,304l-4.3-13.4 0-3.9 4.3,1.8zM331.7,290.6l-4.3-9.6 0,2.7 4.3,3zM327.4,281l-4.3-1.5 0,2.7 4.3,1.5zM323.1,279.5l-4.3,8.3 0-2.7 4.3-2.9zM318.8,287.8l-4.4,12.8 0-3.9 4.4-11.6zM314.4,300.6l-4.3-0.2 0-4.7 4.3,1zM310.1,300.4l-4.3-1.4 0-9.5 4.3,6.2zM305.8,299l-4.3-1.7 0-8.6 4.3,0.8zM301.5,297.3l-4.3-6.5 0,2.6 4.3-4.7zM297.2,290.8l-4.3,2.2 0,3.9 4.3-3.5zM292.9,293l-4.3,4.9 0,0.1 4.3-1.1zM288.6,297.9l-4.4,1.4 0,4.7 4.4-6zM284.2,299.3l-4.3,3.2 0,7.1 4.3-5.6zM279.9,302.5l-4.3-2.9 0,4.3 4.3,5.7zM275.6,299.6l-4.3-4.7 0-3.5 4.3,12.5zM271.3,294.9l-4.3-0.2 0-16.2 4.3,12.9zM267,294.7l-4.3-2.2 0-9.5 4.3-4.5zM262.7,292.5l-4.3,8.4 0,1.9 4.3-19.8zM258.4,300.9l-4.3,7.1 0,3.1 4.3-8.3zM254.1,308l-4.4-4.1 0,0.1 4.4,7.1zM249.7,303.9l-4.3,2.3 0-0.5 4.3-1.7zM245.4,306.2l-4.3,2.4 0,3 4.3-5.9zM241.1,308.6l-4.3-7.4 0,3.8 4.3,6.6zM236.8,301.2l-4.3-3.6 0-9 4.3,16.4zM232.5,297.6l-4.3,1.1 0-21.3 4.3,11.2zM228.2,298.7l-4.3-2.1 0-10.3 4.3-8.9zM223.9,296.6l-4.4-2.8 0,1.7 4.4-9.2zM219.5,293.8l-4.3-4 0,6 4.3-0.3zM215.2,289.8l-4.3-3.7 0,0.7 4.3,9zM210.9,286.1l-4.3-0.8 0-10.7 4.3,12.2zM206.6,285.3l-4.3,1.6 0-7.2 4.3-5.1zM202.3,286.9l-4.3-1.1 0,2.7 4.3-8.8zM198,285.8l-4.3,0.5 0,5.6 4.3-3.4zM193.7,286.3l-4.4,5.8 0,2.1 4.4-2.3zM189.3,292.1l-4.3,9.4 0,0.6 4.3-7.9zM185,301.5l-4.3,5.8 0,0.2 4.3-5.4zM180.7,307.3l-4.3-1.8 0-1.8 4.3,3.8zM176.4,305.5l-4.3-1.7 0-7.8 4.3,7.7zM172.1,303.8l-4.3,4.4 0-11.8 4.3-0.4zM167.8,308.2l-4.3-1.7 0-9.7 4.3-0.4zM163.5,306.5l-4.4-9.3 0-6.7 4.4,6.3zM159.1,297.2l-4.3,2.2 0-13.4 4.3,4.5zM154.8,299.4l-4.3,7.9 0-17.6 4.3-3.7zM150.5,307.3l-4.3,0.1 0-13 4.3-4.7zM146.2,307.4l-4.3-7 0-13.3 4.3,7.3zM141.9,300.4l-4.3-5 0-11.2 4.3,2.9zM137.6,295.4l-4.3-1.4 0-7.9 4.3-1.9zM133.3,294l-4.4,5.4 0-8.9 4.4-4.4zM128.9,299.4l-4.3,8.6 0-6.3 4.3-11.2zM124.6,308l-4.3-1.6 0-3.9 4.3-0.8zM120.3,306.4l-4.3-6.9 0-5.9 4.3,8.9zM116,299.5l-4.3-4.6 0-7.3 4.3,6zM111.7,294.9l-4.3-6.1 0-3.3 4.3,2.1zM107.4,288.8l-4.3,0.7 0-1 4.3-3zM103.1,289.5l-4.4,9.8 0-6.5 4.4-4.3zM98.7,299.3l-4.3,6.1 0-11.5 4.3-1.1zM94.4,305.4l-4.3,0.6 0-12 4.3-0.1zM90.1,306l-4.3,1.3 0-6.1 4.3-7.2zM85.8,307.3l-4.3,5.6 0,0 4.3-11.7z"/>
<path fill="#a9e18a" d="M675.3,259.3l-2.8,7.9 0,2.7 2.8-13.9z"/>
<path fill="#d1e778" d="M672.5,267.2l-4.3,8.3 0,6.5 4.3-12.1z"/>
<path fill="#ebec70" d="M668.2,275.5l-4.3,4.4 0,2.3 4.3-0.2z"/>
<path fill="#f6ee6c" d="M663.9,279.9l-4.3,5.9 0-1.1 4.3-2.5zM659.6,285.8l-4.4,1.5 0,8.9 4.4-11.5zM655.2,287.3l-4.3-3.1 0,12.6 4.3-0.6zM650.9,284.2l-4.3,1.4 0,3.1 4.3,8.1zM646.6,285.6l-4.3,7.3 0-2.8 4.3-1.4zM642.3,292.9l-4.3,9.3 0-4.4 4.3-7.7zM638,302.2l-4.3-1.8 0-5.3 4.3,2.7zM633.7,300.4l-4.3-10.1 0-9.1 4.3,13.9zM629.4,290.3l-4.4-0.2 0-12.1 4.4,3.2zM625,290.1l-4.3,11.4 0-15.7 4.3-7.8zM620.7,301.5l-4.3,7.9 0-8.3 4.3-15.3zM616.4,309.4l-4.3-2.2 0-0.9 4.3-5.2zM612.1,307.2l-4.3-0.5 0-2.9 4.3,2.5zM607.8,306.7l-4.3,1.9 0-4 4.3-0.8zM603.5,308.6l-4.3-5.8 0,0.4 4.3,1.4zM599.2,302.8l-4.3-2.6 0,0.3 4.3,2.7zM594.9,300.2l-4.4,5.4 0-2.3 4.4-2.8zM590.5,305.6l-4.3-1.4 0-3.3 4.3,2.4zM586.2,304.2l-4.3-6.2 0-4.1 4.3,7zM581.9,298l-4.3,4.3 0-6 4.3-2.4zM577.6,302.3l-4.3-0.2 0-3.4 4.3-2.4zM573.3,302.1l-4.3-9.7 0,4.5 4.3,1.8zM569,292.4l-4.3,1.8 0,4.6 4.3-1.9zM564.7,294.2l-4.4,7.7 0-4.8 4.4,1.7zM560.3,301.9l-4.3,2.8 0-13.3 4.3,5.7zM556,304.7l-4.3,0.2 0-14.1 4.3,0.6zM551.7,304.9l-4.3-5.6 0-13.6 4.3,5.1zM547.4,299.3l-4.3-8.5 0-9.8 4.3,4.7zM543.1,290.8l-4.3,2 0-1.4 4.3-10.4zM538.8,292.8l-4.3,4.3 0,10.2 4.3-15.9zM534.5,297.1l-4.4,0.6 0,12.4 4.4-2.8zM530.1,297.7l-4.3,4.6 0,5.5 4.3,2.3zM525.8,302.3l-4.3-1.8 0,0.3 4.3,7zM521.5,300.5l-4.3-7.5 0,2.5 4.3,5.3zM517.2,293l-4.3-4.8 0,5.4 4.3,1.9zM512.9,288.2l-4.3-1.7 0,3.9 4.3,3.2zM508.6,286.5l-4.3,7 0,0.6 4.3-3.7zM504.3,293.5l-4.4,7.4 0-3.7 4.4-3.1zM499.9,300.9l-4.3,3.9 0-8.6 4.3,1zM495.6,304.8l-4.3,5.3 0-10.3 4.3-3.6zM491.3,310.1l-4.3,1.8 0-8.1 4.3-4zM487,311.9l-4.3-3.6 0-3.6 4.3-0.9zM482.7,308.3l-4.3-5.1 0,2.2 4.3-0.7zM478.4,303.2l-4.3,2.3 0,1 4.3-1.1zM474.1,305.5l-4.4,1.9 0-7.5 4.4,6.6zM469.7,307.4l-4.3-8.7 0-15.7 4.3,16.9zM465.4,298.7l-4.3-7.2 0-15.5 4.3,7zM461.1,291.5l-4.3,5.5 0-23.3 4.3,2.3zM456.8,297l-4.3,6.2 0-26.5 4.3-3zM452.5,303.2l-4.3-4.3 0-15.5 4.3-6.7zM448.2,298.9l-4.3-9.4 0-6.8 4.3,0.7zM443.9,289.5l-4.4,3.4 0-5.3 4.4-4.9zM439.5,292.9l-4.3,8.6 0-4.1 4.3-9.8zM435.2,301.5l-4.3-1.5 0-0.8 4.3-1.8zM430.9,300l-4.3,4 0-5.6 4.3,0.8zM426.6,304l-4.3,7.8 0-10.1 4.3-3.3zM422.3,311.8l-4.3-5.1 0-3.8 4.3-1.2zM418,306.7l-4.3-13.5 0,6.2 4.3,3.5zM413.7,293.2l-4.3-8.2 0,3.6 4.3,10.8zM409.4,285l-4.4-5 0,1.8 4.4,6.8zM405,280l-4.3,4.1 0,5.8 4.3-8.1zM400.7,284.1l-4.3,9.3 0,5.5 4.3-9zM396.4,293.4l-4.3-0.7 0-1 4.3,7.2zM392.1,292.7l-4.3,2.4 0-7.3 4.3,3.9zM387.8,295.1l-4.3,11.9 0-11.7 4.3-7.5zM383.5,307l-4.3,0.9 0-13.8 4.3,1.2zM379.2,307.9l-4.4-10.4 0-12.8 4.4,9.4zM374.8,297.5l-4.3-4.6 0-8 4.3-0.2zM370.5,292.9l-4.3,1.1 0-7.2 4.3-1.9zM366.2,294l-4.3,1.4 0-7.6 4.3-1zM361.9,295.4l-4.3,1.6 0-3.5 4.3-5.7zM357.6,297l-4.3-3.5 0,1.4 4.3-1.4zM353.3,293.5l-4.3-9.8 0,6.3 4.3,4.9zM349,283.7l-4.4,8.5 0-2.1 4.4-0.1zM344.6,292.2l-4.3,16.7 0-6.8 4.3-12zM340.3,308.9l-4.3,0.5 0-5.4 4.3-1.9zM336,309.4l-4.3-12.1 0-6.7 4.3,13.4zM331.7,297.3l-4.3-11.9 0-4.4 4.3,9.6zM327.4,285.4l-4.3-0.7 0-5.2 4.3,1.5zM323.1,284.7l-4.3,11.8 0-8.7 4.3-8.3zM318.8,296.5l-4.4,4.5 0-0.4 4.4-12.8zM314.4,301l-4.3-7.9 0,7.3 4.3,0.2zM310.1,293.1l-4.3-0.8 0,6.7 4.3,1.4zM305.8,292.3l-4.3,1.3 0,3.7 4.3,1.7zM301.5,293.6l-4.3-5.5 0,2.7 4.3,6.5zM297.2,288.1l-4.3,3.6 0,1.3 4.3-2.2zM292.9,291.7l-4.3,7.8 0-1.6 4.3-4.9zM288.6,299.5l-4.4-1.7 0,1.5 4.4-1.4zM284.2,297.8l-4.3-2.4 0,7.1 4.3-3.2zM279.9,295.4l-4.3,0 0,4.2 4.3,2.9zM275.6,295.4l-4.3,1.7 0-2.2 4.3,4.7zM271.3,297.1l-4.3,5.7 0-8.1 4.3,0.2zM267,302.8l-4.3,0 0-10.3 4.3,2.2zM262.7,302.8l-4.3-1.7 0-0.2 4.3-8.4zM258.4,301.1l-4.3-0.5 0,7.4 4.3-7.1zM254.1,300.6l-4.4-2.8 0,6.1 4.4,4.1zM249.7,297.8l-4.3,7.1 0,1.3 4.3-2.3zM245.4,304.9l-4.3,4.7 0-1 4.3-2.4zM241.1,309.6l-4.3-4 0-4.4 4.3,7.4zM236.8,305.6l-4.3-3.1 0-4.9 4.3,3.6zM232.5,302.5l-4.3-2 0-1.8 4.3-1.1zM228.2,300.5l-4.3-0.4 0-3.5 4.3,2.1zM223.9,300.1l-4.4-1.7 0-4.6 4.4,2.8zM219.5,298.4l-4.3-10.1 0,1.5 4.3,4zM215.2,288.3l-4.3-6.7 0,4.5 4.3,3.7zM210.9,281.6l-4.3,2 0,1.7 4.3,0.8zM206.6,283.6l-4.3,6.3 0-3 4.3-1.6zM202.3,289.9l-4.3-1.4 0-2.7 4.3,1.1zM198,288.5l-4.3-2.8 0,0.6 4.3-0.5zM193.7,285.7l-4.4,6.9 0-0.5 4.4-5.8zM189.3,292.6l-4.3,6.5 0,2.4 4.3-9.4zM185,299.1l-4.3-8.8 0,17 4.3-5.8zM180.7,290.3l-4.3-9.1 0,24.3 4.3,1.8zM176.4,281.2l-4.3,16.5 0,6.1 4.3,1.7zM172.1,297.7l-4.3,13.3 0-2.8 4.3-4.4zM167.8,311l-4.3,0.7 0-5.2 4.3,1.7zM163.5,311.7l-4.4-5.8 0-8.7 4.4,9.3zM159.1,305.9l-4.3,2.9 0-9.4 4.3-2.2zM154.8,308.8l-4.3,3.5 0-5 4.3-7.9zM150.5,312.3l-4.3-5.4 0,0.5 4.3-0.1zM146.2,306.9l-4.3-8.2 0,1.7 4.3,7zM141.9,298.7l-4.3-1.5 0-1.8 4.3,5zM137.6,297.2l-4.3,2 0-5.2 4.3,1.4zM133.3,299.2l-4.4,5.1 0-4.9 4.4-5.4zM128.9,304.3l-4.3,4.1 0-0.4 4.3-8.6zM124.6,308.4l-4.3-1.1 0-0.9 4.3,1.6zM120.3,307.3l-4.3-3.3 0-4.5 4.3,6.9zM116,304l-4.3,2.3 0-11.4 4.3,4.6zM111.7,306.3l-4.3,1.1 0-18.6 4.3,6.1zM107.4,307.4l-4.3-3.1 0-14.8 4.3-0.7zM103.1,304.3l-4.4-0.7 0-4.3 4.4-9.8zM98.7,303.6l-4.3,3.4 0-1.6 4.3-6.1zM94.4,307l-4.3,4.2 0-5.2 4.3-0.6zM90.1,311.2l-4.3,1.4 0-5.3 4.3-1.3zM85.8,312.6l-4.3,0.3 0,0 4.3-5.6z"/>
<path fill="#b5e385" d="M675.3,265.7l-2.8,1.4 0,0.1 2.8-7.9z"/>
<path fill="#d0e779" d="M672.5,267.1l-4.3,8 0,0.4 4.3-8.3z"/>
<path fill="#eaec70" d="M668.2,275.1l-4.3,10 0-5.2 4.3-4.4z"/>
<path fill="#f6ee6c" d="M663.9,285.1l-4.3,6.4 0-5.7 4.3-5.9zM659.6,291.5l-4.4-6.7 0,2.5 4.4-1.5zM655.2,284.8l-4.3-5.2 0,4.6 4.3,3.1zM650.9,279.6l-4.3,5.5 0,0.5 4.3-1.4zM646.6,285.1l-4.3,3.2 0,4.6 4.3-7.3zM642.3,288.3l-4.3,6.6 0,7.3 4.3-9.3zM638,294.9l-4.3,10 0-4.5 4.3,1.8zM633.7,304.9l-4.3,2.6 0-17.2 4.3,10.1zM629.4,307.5l-4.4-1.5 0-15.9 4.4,0.2zM625,306l-4.3-3 0-1.5 4.3-11.4zM620.7,303l-4.3-0.6 0,7 4.3-7.9zM616.4,302.4l-4.3-3.5 0,8.3 4.3,2.2zM612.1,298.9l-4.3-0.8 0,8.6 4.3,0.5zM607.8,298.1l-4.3,3.5 0,7 4.3-1.9zM603.5,301.6l-4.3-3 0,4.2 4.3,5.8zM599.2,298.6l-4.3-5.4 0,7 4.3,2.6zM594.9,293.2l-4.4,1.8 0,10.6 4.4-5.4zM590.5,295l-4.3,2.1 0,7.1 4.3,1.4zM586.2,297.1l-4.3-2.9 0,3.8 4.3,6.2zM581.9,294.2l-4.3,5.7 0,2.4 4.3-4.3zM577.6,299.9l-4.3,2.9 0-0.7 4.3,0.2zM573.3,302.8l-4.3-5.3 0-5.1 4.3,9.7zM569,297.5l-4.3-3.4 0,0.1 4.3-1.8zM564.7,294.1l-4.4,0.2 0,7.6 4.4-7.7zM560.3,294.3l-4.3,7.5 0,2.9 4.3-2.8zM556,301.8l-4.3,4.2 0-1.1 4.3-0.2zM551.7,306l-4.3-0.8 0-5.9 4.3,5.6zM547.4,305.2l-4.3-5.4 0-9 4.3,8.5zM543.1,299.8l-4.3-10.9 0,3.9 4.3-2zM538.8,288.9l-4.3-5.7 0,13.9 4.3-4.3zM534.5,283.2l-4.4,0.2 0,14.3 4.4-0.6zM530.1,283.4l-4.3,5.8 0,13.1 4.3-4.6zM525.8,289.2l-4.3,2.9 0,8.4 4.3,1.8zM521.5,292.1l-4.3-3.9 0,4.8 4.3,7.5zM517.2,288.2l-4.3-3.7 0,3.7 4.3,4.8zM512.9,284.5l-4.3,0.6 0,1.4 4.3,1.7zM508.6,285.1l-4.3,7.3 0,1.1 4.3-7zM504.3,292.4l-4.4,8.8 0-0.3 4.4-7.4zM499.9,301.2l-4.3,3.8 0-0.2 4.3-3.9zM495.6,305l-4.3-2 0,7.1 4.3-5.3zM491.3,303l-4.3,1.1 0,7.8 4.3-1.8zM487,304.1l-4.3,1 0,3.2 4.3,3.6zM482.7,305.1l-4.3-9.4 0,7.5 4.3,5.1zM478.4,295.7l-4.3-2.6 0,12.4 4.3-2.3zM474.1,293.1l-4.4,11.3 0,3 4.4-1.9zM469.7,304.4l-4.3,1.9 0-7.6 4.3,8.7zM465.4,306.3l-4.3-6.9 0-7.9 4.3,7.2zM461.1,299.4l-4.3-2.2 0-0.2 4.3-5.5zM456.8,297.2l-4.3,3.1 0,2.9 4.3-6.2zM452.5,300.3l-4.3,2.6 0-4 4.3,4.3zM448.2,302.9l-4.3-3.3 0-10.1 4.3,9.4zM443.9,299.6l-4.4-1 0-5.7 4.4-3.4zM439.5,298.6l-4.3,5.4 0-2.5 4.3-8.6zM435.2,304l-4.3-1.4 0-2.6 4.3,1.5zM430.9,302.6l-4.3,2 0-0.6 4.3-4zM426.6,304.6l-4.3,7.3 0-0.1 4.3-7.8zM422.3,311.9l-4.3-6.4 0,1.2 4.3,5.1zM418,305.5l-4.3-16.1 0,3.8 4.3,13.5zM413.7,289.4l-4.3-0.3 0-4.1 4.3,8.2zM409.4,289.1l-4.4-1.2 0-7.9 4.4,5zM405,287.9l-4.3-1.6 0-2.2 4.3-4.1zM400.7,286.3l-4.3,6.8 0,0.3 4.3-9.3zM396.4,293.1l-4.3,2.8 0-3.2 4.3,0.7zM392.1,295.9l-4.3,2.5 0-3.3 4.3-2.4zM387.8,298.4l-4.3,8 0,0.6 4.3-11.9zM383.5,306.4l-4.3-6.7 0,8.2 4.3-0.9zM379.2,299.7l-4.4-13.1 0,10.9 4.4,10.4zM374.8,286.6l-4.3,9.7 0-3.4 4.3,4.6zM370.5,296.3l-4.3,3.6 0-5.9 4.3-1.1zM366.2,299.9l-4.3-2.1 0-2.4 4.3-1.4zM361.9,297.8l-4.3,3.8 0-4.6 4.3-1.6zM357.6,301.6l-4.3,2.4 0-10.5 4.3,3.5zM353.3,304l-4.3-7 0-13.3 4.3,9.8zM349,297l-4.4-2.9 0-1.9 4.4-8.5zM344.6,294.1l-4.3,3.9 0,10.9 4.3-16.7zM340.3,298l-4.3,2.9 0,8.5 4.3-0.5zM336,300.9l-4.3-12.3 0,8.7 4.3,12.1z"/>
<path fill="#e1ea73" d="M331.7,288.6l-4.3-16.2 0,13 4.3,11.9z"/>
<path fill="#f6ee6c" d="M327.4,272.4l-4.3,6.6 0,5.7 4.3,0.7zM323.1,279l-4.3,11.1 0,6.4 4.3-11.8zM318.8,290.1l-4.4,4.9 0,6 4.4-4.5zM314.4,295l-4.3-2.7 0,0.8 4.3,7.9zM310.1,292.3l-4.3-5.6 0,5.6 4.3,0.8zM305.8,286.7l-4.3,1.4 0,5.5 4.3-1.3zM301.5,288.1l-4.3,7.7 0-7.7 4.3,5.5zM297.2,295.8l-4.3,6.1 0-10.2 4.3-3.6zM292.9,301.9l-4.3-0.4 0-2 4.3-7.8zM288.6,301.5l-4.4-5.3 0,1.6 4.4,1.7zM284.2,296.2l-4.3-0.5 0-0.3 4.3,2.4zM279.9,295.7l-4.3,4.5 0-4.8 4.3,0zM275.6,300.2l-4.3,4.4 0-7.5 4.3-1.7zM271.3,304.6l-4.3,3.5 0-5.3 4.3-5.7zM267,308.1l-4.3-5.2 0-0.1 4.3,0zM262.7,302.9l-4.3-10.7 0,8.9 4.3,1.7zM258.4,292.2l-4.3-4.2 0,12.6 4.3,0.5zM254.1,288l-4.4,3.3 0,6.5 4.4,2.8zM249.7,291.3l-4.3,12.3 0,1.3 4.3-7.1zM245.4,303.6l-4.3,5.1 0,0.9 4.3-4.7zM241.1,308.7l-4.3-2.2 0-0.9 4.3,4zM236.8,306.5l-4.3-2.7 0-1.3 4.3,3.1zM232.5,303.8l-4.3-4.2 0,0.9 4.3,2zM228.2,299.6l-4.3-1.8 0,2.3 4.3,0.4zM223.9,297.8l-4.4-4.3 0,4.9 4.4,1.7zM219.5,293.5l-4.3-7.7 0,2.5 4.3,10.1zM215.2,285.8l-4.3,0.3 0-4.5 4.3,6.7zM210.9,286.1l-4.3,6.8 0-9.3 4.3-2zM206.6,292.9l-4.3,6.4 0-9.4 4.3-6.3zM202.3,299.3l-4.3,2.3 0-13.1 4.3,1.4zM198,301.6l-4.3-1.3 0-14.6 4.3,2.8zM193.7,300.3l-4.4,2.5 0-10.2 4.4-6.9zM189.3,302.8l-4.3,4 0-7.7 4.3-6.5zM185,306.8l-4.3-2.8 0-13.7 4.3,8.8zM180.7,304l-4.3,0.1 0-22.9 4.3,9.1zM176.4,304.1l-4.3,6.2 0-12.6 4.3-16.5zM172.1,310.3l-4.3,2.2 0-1.5 4.3-13.3zM167.8,312.5l-4.3,0.4 0-1.2 4.3-0.7zM163.5,312.9l-4.4,0 0-7 4.4,5.8zM159.1,312.9l-4.3,0 0-4.1 4.3-2.9zM154.8,312.9l-4.3,0 0-0.6 4.3-3.5zM150.5,312.9l-4.3-3.7 0-2.3 4.3,5.4zM146.2,309.2l-4.3-8 0-2.5 4.3,8.2zM141.9,301.2l-4.3-4.5 0,0.5 4.3,1.5zM137.6,296.7l-4.3,0 0,2.5 4.3-2zM133.3,296.7l-4.4,5.3 0,2.3 4.4-5.1zM128.9,302l-4.3,1.7 0,4.7 4.3-4.1zM124.6,303.7l-4.3-4.4 0,8 4.3,1.1zM120.3,299.3l-4.3-0.4 0,5.1 4.3,3.3zM116,298.9l-4.3,6 0,1.4 4.3-2.3zM111.7,304.9l-4.3,0.4 0,2.1 4.3-1.1zM107.4,305.3l-4.3-8.2 0,7.2 4.3,3.1zM103.1,297.1l-4.4-6 0,12.5 4.4,0.7zM98.7,291.1l-4.3,4.7 0,11.2 4.3-3.4zM94.4,295.8l-4.3,7.9 0,7.5 4.3-4.2zM90.1,303.7l-4.3,2.4 0,6.5 4.3-1.4zM85.8,306.1l-4.3,0.5 0,6.3 4.3-0.3z"/>
<path fill="#cbe67b" d="M675.3,271.6l-2.8-0.6 0-3.9 2.8-1.4z"/>
<path fill="#d0e779" d="M672.5,271l-4.3,6.8 0-2.7 4.3-8z"/>
<path fill="#eaec70" d="M668.2,277.8l-4.3,8.2 0-0.9 4.3-10z"/>
<path fill="#f6ee6c" d="M663.9,286l-4.3,2.6 0,2.9 4.3-6.4zM659.6,288.6l-4.4-4.9 0,1.1 4.4,6.7zM655.2,283.7l-4.3-4.5 0,0.4 4.3,5.2zM650.9,279.2l-4.3,2.5 0,3.4 4.3-5.5zM646.6,281.7l-4.3,1.5 0,5.1 4.3-3.2zM642.3,283.2l-4.3,3.6 0,8.1 4.3-6.6zM638,286.8l-4.3,16.1 0,2 4.3-10zM633.7,302.9l-4.3,9.7 0-5.1 4.3-2.6zM629.4,312.6l-4.4-1.3 0-5.3 4.4,1.5zM625,311.3l-4.3-11.9 0,3.6 4.3,3zM620.7,299.4l-4.3-9.1 0,12.1 4.3,0.6zM616.4,290.3l-4.3-1.7 0,10.3 4.3,3.5zM612.1,288.6l-4.3-0.2 0,9.7 4.3,0.8zM607.8,288.4l-4.3,3.2 0,10 4.3-3.5zM603.5,291.6l-4.3-1.5 0,8.5 4.3,3zM599.2,290.1l-4.3-3.7 0,6.8 4.3,5.4zM594.9,286.4l-4.4,4.9 0,3.7 4.4-1.8zM590.5,291.3l-4.3,3.1 0,2.7 4.3-2.1zM586.2,294.4l-4.3-6.1 0,5.9 4.3,2.9zM581.9,288.3l-4.3,4.9 0,6.7 4.3-5.7zM577.6,293.2l-4.3,11.7 0-2.1 4.3-2.9zM573.3,304.9l-4.3,3.1 0-10.5 4.3,5.3zM569,308l-4.3-2.4 0-11.5 4.3,3.4zM564.7,305.6l-4.4-5.9 0-5.4 4.4-0.2zM560.3,299.7l-4.3,0.1 0,2 4.3-7.5zM556,299.8l-4.3,4.2 0,2 4.3-4.2zM551.7,304l-4.3,3.4 0-2.2 4.3,0.8zM547.4,307.4l-4.3-1.6 0-6 4.3,5.4zM543.1,305.8l-4.3-12.3 0-4.6 4.3,10.9zM538.8,293.5l-4.3-7.6 0-2.7 4.3,5.7zM534.5,285.9l-4.4,2.7 0-5.2 4.4-0.2zM530.1,288.6l-4.3,6.1 0-5.5 4.3-5.8zM525.8,294.7l-4.3-0.2 0-2.4 4.3-2.9zM521.5,294.5l-4.3-2.4 0-3.9 4.3,3.9zM517.2,292.1l-4.3,2.1 0-9.7 4.3,3.7zM512.9,294.2l-4.3,1.2 0-10.3 4.3-0.6zM508.6,295.4l-4.3,1.7 0-4.7 4.3-7.3zM504.3,297.1l-4.4,4.4 0-0.3 4.4-8.8zM499.9,301.5l-4.3,1.4 0,2.1 4.3-3.8zM495.6,302.9l-4.3-9.5 0,9.6 4.3,2zM491.3,293.4l-4.3-4 0,14.7 4.3-1.1zM487,289.4l-4.3,6.9 0,8.8 4.3-1zM482.7,296.3l-4.3-3.1 0,2.5 4.3,9.4zM478.4,293.2l-4.3-5.2 0,5.1 4.3,2.6zM474.1,288l-4.4,7.6 0,8.8 4.4-11.3zM469.7,295.6l-4.3,6.9 0,3.8 4.3-1.9zM465.4,302.5l-4.3-4.7 0,1.6 4.3,6.9zM461.1,297.8l-4.3-6 0,5.4 4.3,2.2zM456.8,291.8l-4.3,0.8 0,7.7 4.3-3.1zM452.5,292.6l-4.3,6.2 0,4.1 4.3-2.6zM448.2,298.8l-4.3,1.4 0-0.6 4.3,3.3zM443.9,300.2l-4.4-3.5 0,1.9 4.4,1zM439.5,296.7l-4.3,2.4 0,4.9 4.3-5.4zM435.2,299.1l-4.3-3.1 0,6.6 4.3,1.4zM430.9,296l-4.3-3.1 0,11.7 4.3-2zM426.6,292.9l-4.3,4.6 0,14.4 4.3-7.3zM422.3,297.5l-4.3-6.3 0,14.3 4.3,6.4zM418,291.2l-4.3-5.9 0,4.1 4.3,16.1zM413.7,285.3l-4.3,2.5 0,1.3 4.3,0.3zM409.4,287.8l-4.4-3.6 0,3.7 4.4,1.2zM405,284.2l-4.3-4.4 0,6.5 4.3,1.6zM400.7,279.8l-4.3,3.6 0,9.7 4.3-6.8zM396.4,283.4l-4.3,10.8 0,1.7 4.3-2.8zM392.1,294.2l-4.3,11.2 0-7 4.3-2.5zM387.8,305.4l-4.3,2 0-1 4.3-8zM383.5,307.4l-4.3-5 0-2.7 4.3,6.7zM379.2,302.4l-4.4,2.8 0-18.6 4.4,13.1zM374.8,305.2l-4.3,3.3 0-12.2 4.3-9.7zM370.5,308.5l-4.3-3.8 0-4.8 4.3-3.6zM366.2,304.7l-4.3-1.2 0-5.7 4.3,2.1zM361.9,303.5l-4.3,1.7 0-3.6 4.3-3.8zM357.6,305.2l-4.3-1.3 0,0.1 4.3-2.4zM353.3,303.9l-4.3-3.3 0-3.6 4.3,7zM349,300.6l-4.4,3.3 0-9.8 4.4,2.9zM344.6,303.9l-4.3,6.1 0-12 4.3-3.9zM340.3,310l-4.3-0.4 0-8.7 4.3-2.9zM336,309.6l-4.3-5.6 0-15.4 4.3,12.3zM331.7,304l-4.3-7.8 0-23.8 4.3,16.2zM327.4,296.2l-4.3-7.2 0-10 4.3-6.6zM323.1,289l-4.3-5.1 0,6.2 4.3-11.1zM318.8,283.9l-4.4,0.4 0,10.7 4.4-4.9zM314.4,284.3l-4.3,5 0,3 4.3,2.7zM310.1,289.3l-4.3,1.4 0-4 4.3,5.6zM305.8,290.7l-4.3,4 0-6.6 4.3-1.4zM301.5,294.7l-4.3,11.6 0-10.5 4.3-7.7zM297.2,306.3l-4.3,2.3 0-6.7 4.3-6.1zM292.9,308.6l-4.3-9.5 0,2.4 4.3,0.4zM288.6,299.1l-4.4-7 0,4.1 4.4,5.3zM284.2,292.1l-4.3,5.9 0-2.3 4.3,0.5zM279.9,298l-4.3,6 0-3.8 4.3-4.5zM275.6,304l-4.3-1.4 0,2 4.3-4.4zM271.3,302.6l-4.3-2.1 0,7.6 4.3-3.5zM267,300.5l-4.3-8.7 0,11.1 4.3,5.2z"/>
<path fill="#ebec6f" d="M262.7,291.8l-4.3-16.2 0,16.6 4.3,10.7z"/>
<path fill="#dbe974" d="M258.4,275.6l-4.3-5.1 0,17.5 4.3,4.2z"/>
<path fill="#f6ee6c" d="M254.1,270.5l-4.4,22.6 0-1.8 4.4-3.3zM249.7,293.1l-4.3,15.8 0-5.3 4.3-12.3zM245.4,308.9l-4.3,0.7 0-0.9 4.3-5.1zM241.1,309.6l-4.3-3.2 0,0.1 4.3,2.2zM236.8,306.4l-4.3-6.5 0,3.9 4.3,2.7zM232.5,299.9l-4.3-11.3 0,11 4.3,4.2zM228.2,288.6l-4.3,1.2 0,8 4.3,1.8zM223.9,289.8l-4.4-4 0,7.7 4.4,4.3zM219.5,285.8l-4.3,0.2 0-0.2 4.3,7.7zM215.2,286l-4.3,11.7 0-11.6 4.3-0.3zM210.9,297.7l-4.3,8.6 0-13.4 4.3-6.8zM206.6,306.3l-4.3,3.5 0-10.5 4.3-6.4zM202.3,309.8l-4.3,1.3 0-9.5 4.3-2.3zM198,311.1l-4.3-5.3 0-5.5 4.3,1.3zM193.7,305.8l-4.4-5.8 0,2.8 4.4-2.5zM189.3,300l-4.3,5.9 0,0.9 4.3-4zM185,305.9l-4.3,2.2 0-4.1 4.3,2.8zM180.7,308.1l-4.3-4.5 0,0.5 4.3-0.1zM176.4,303.6l-4.3-1.4 0,8.1 4.3-6.2zM172.1,302.2l-4.3,0.1 0,10.2 4.3-2.2zM167.8,302.3l-4.3,5 0,5.6 4.3-0.4zM163.5,307.3l-4.4,5.6 0,0 4.4,0zM159.1,312.9l-4.3,0 0,0 4.3,0zM154.8,312.9l-4.3-0.6 0,0.6 4.3,0zM150.5,312.3l-4.3-2.8 0-0.3 4.3,3.7zM146.2,309.5l-4.3-2.6 0-5.7 4.3,8zM141.9,306.9l-4.3-5.6 0-4.6 4.3,4.5zM137.6,301.3l-4.3-1.6 0-3 4.3,0zM133.3,299.7l-4.4,4.2 0-1.9 4.4-5.3zM128.9,303.9l-4.3-1.6 0,1.4 4.3-1.7zM124.6,302.3l-4.3-4.5 0,1.5 4.3,4.4zM120.3,297.8l-4.3,5.4 0-4.3 4.3,0.4zM116,303.2l-4.3,6.1 0-4.4 4.3-6zM111.7,309.3l-4.3-5.7 0,1.7 4.3-0.4zM107.4,303.6l-4.3-14.6 0,8.1 4.3,8.2zM103.1,289l-4.4-2 0,4.1 4.4,6zM98.7,287l-4.3,10.4 0-1.6 4.3-4.7zM94.4,297.4l-4.3,7.9 0-1.6 4.3-7.9zM90.1,305.3l-4.3,2.5 0-1.7 4.3-2.4zM85.8,307.8l-4.3-0.6 0-0.6 4.3-0.5z"/>
<path fill="#dde974" d="M675.3,273.5l-2.8-2.6 0,0.1 2.8,0.6zM672.5,270.9l-4.3,5.7 0,1.2 4.3-6.8z"/>
<path fill="#eeed6e" d="M668.2,276.6l-4.3,7.3 0,2.1 4.3-8.2z"/>
<path fill="#f6ee6c" d="M663.9,283.9l-4.3,3.7 0,1 4.3-2.6zM659.6,287.6l-4.4,2.6 0-6.5 4.4,4.9zM655.2,290.2l-4.3-5.2 0-5.8 4.3,4.5zM650.9,285l-4.3-3.4 0,0.1 4.3-2.5zM646.6,281.6l-4.3,5.1 0-3.5 4.3-1.5zM642.3,286.7l-4.3,5.8 0-5.7 4.3-3.6zM638,292.5l-4.3,9.6 0,0.8 4.3-16.1zM633.7,302.1l-4.3,8.8 0,1.7 4.3-9.7zM629.4,310.9l-4.4,1.2 0-0.8 4.4,1.3zM625,312.1l-4.3-4.9 0-7.8 4.3,11.9zM620.7,307.2l-4.3-8.6 0-8.3 4.3,9.1zM616.4,298.6l-4.3-2.8 0-7.2 4.3,1.7zM612.1,295.8l-4.3,5 0-12.4 4.3,0.2zM607.8,300.8l-4.3,6.1 0-15.3 4.3-3.2zM603.5,306.9l-4.3-1.7 0-15.1 4.3,1.5zM599.2,305.2l-4.3-3.5 0-15.3 4.3,3.7zM594.9,301.7l-4.4,5 0-15.4 4.4-4.9zM590.5,306.7l-4.3-0.6 0-11.7 4.3-3.1zM586.2,306.1l-4.3-12.7 0-5.1 4.3,6.1zM581.9,293.4l-4.3-4.1 0,3.9 4.3-4.9zM577.6,289.3l-4.3,8.1 0,7.5 4.3-11.7zM573.3,297.4l-4.3,5.7 0,4.9 4.3-3.1zM569,303.1l-4.3,3.1 0-0.6 4.3,2.4zM564.7,306.2l-4.4-2.9 0-3.6 4.4,5.9zM560.3,303.3l-4.3-7 0,3.5 4.3-0.1zM556,296.3l-4.3,3.2 0,4.5 4.3-4.2zM551.7,299.5l-4.3,6.7 0,1.2 4.3-3.4zM547.4,306.2l-4.3-1.2 0,0.8 4.3,1.6zM543.1,305l-4.3-8.3 0-3.2 4.3,12.3zM538.8,296.7l-4.3-6.9 0-3.9 4.3,7.6zM534.5,289.8l-4.4,0.3 0-1.5 4.4-2.7zM530.1,290.1l-4.3,6.5 0-1.9 4.3-6.1zM525.8,296.6l-4.3-3.9 0,1.8 4.3,0.2zM521.5,292.7l-4.3-7.3 0,6.7 4.3,2.4zM517.2,285.4l-4.3,3.5 0,5.3 4.3-2.1zM512.9,288.9l-4.3,1.6 0,4.9 4.3-1.2zM508.6,290.5l-4.3,0 0,6.6 4.3-1.7zM504.3,290.5l-4.4,6.3 0,4.7 4.4-4.4zM499.9,296.8l-4.3,1.2 0,4.9 4.3-1.4zM495.6,298l-4.3-11.5 0,6.9 4.3,9.5zM491.3,286.5l-4.3-5 0,7.9 4.3,4zM487,281.5l-4.3,3.3 0,11.5 4.3-6.9zM482.7,284.8l-4.3-1.8 0,10.2 4.3,3.1zM478.4,283l-4.3-1.8 0,6.8 4.3,5.2zM474.1,281.2l-4.4,3.5 0,10.9 4.4-7.6zM469.7,284.7l-4.3,4.7 0,13.1 4.3-6.9zM465.4,289.4l-4.3,7.3 0,1.1 4.3,4.7zM461.1,296.7l-4.3,2.9 0-7.8 4.3,6zM456.8,299.6l-4.3-8.1 0,1.1 4.3-0.8zM452.5,291.5l-4.3-2.7 0,10 4.3-6.2zM448.2,288.8l-4.3,2.8 0,8.6 4.3-1.4zM443.9,291.6l-4.4-2.2 0,7.3 4.4,3.5zM439.5,289.4l-4.3-0.8 0,10.5 4.3-2.4zM435.2,288.6l-4.3-3 0,10.4 4.3,3.1zM430.9,285.6l-4.3-0.1 0,7.4 4.3,3.1zM426.6,285.5l-4.3,4.5 0,7.5 4.3-4.6zM422.3,290l-4.3-1.3 0,2.5 4.3,6.3zM418,288.7l-4.3,0.7 0-4.1 4.3,5.9zM413.7,289.4l-4.3-0.5 0-1.1 4.3-2.5zM409.4,288.9l-4.4-4.3 0-0.4 4.4,3.6zM405,284.6l-4.3-4.3 0-0.5 4.3,4.4z"/>
<path fill="#f3ed6d" d="M400.7,280.3l-4.3-2.1 0,5.2 4.3-3.6z"/>
<path fill="#f6ee6c" d="M396.4,278.2l-4.3,5.8 0,10.2 4.3-10.8zM392.1,284l-4.3,19.1 0,2.3 4.3-11.2zM387.8,303.1l-4.3,5.8 0-1.5 4.3-2zM383.5,308.9l-4.3-7.8 0,1.3 4.3,5zM379.2,301.1l-4.4-0.2 0,4.3 4.4-2.8zM374.8,300.9l-4.3,1.7 0,5.9 4.3-3.3zM370.5,302.6l-4.3-3.3 0,5.4 4.3,3.8zM366.2,299.3l-4.3,2.9 0,1.3 4.3,1.2zM361.9,302.2l-4.3-0.9 0,3.9 4.3-1.7zM357.6,301.3l-4.3-5.3 0,7.9 4.3,1.3zM353.3,296l-4.3,3.4 0,1.2 4.3,3.3zM349,299.4l-4.4,5.9 0-1.4 4.4-3.3zM344.6,305.3l-4.3,1.3 0,3.4 4.3-6.1zM340.3,306.6l-4.3,0.8 0,2.2 4.3,0.4zM336,307.4l-4.3-0.5 0-2.9 4.3,5.6zM331.7,306.9l-4.3-6.2 0-4.5 4.3,7.8zM327.4,300.7l-4.3-5.6 0-6.1 4.3,7.2zM323.1,295.1l-4.3-4.4 0-6.8 4.3,5.1zM318.8,290.7l-4.4-4.3 0-2.1 4.4-0.4zM314.4,286.4l-4.3,1.8 0,1.1 4.3-5zM310.1,288.2l-4.3,3.9 0-1.4 4.3-1.4zM305.8,292.1l-4.3,3.4 0-0.8 4.3-4zM301.5,295.5l-4.3,3.6 0,7.2 4.3-11.6zM297.2,299.1l-4.3,0.4 0,9.1 4.3-2.3zM292.9,299.5l-4.3-6.5 0,6.1 4.3,9.5zM288.6,293l-4.4-4.1 0,3.2 4.4,7zM284.2,288.9l-4.3,3.9 0,5.2 4.3-5.9zM279.9,292.8l-4.3,1.4 0,9.8 4.3-6zM275.6,294.2l-4.3-5 0,13.4 4.3,1.4zM271.3,289.2l-4.3,0.8 0,10.5 4.3,2.1zM267,290l-4.3,3 0-1.2 4.3,8.7zM262.7,293l-4.3-4.5 0-12.9 4.3,16.2zM258.4,288.5l-4.3,5 0-23 4.3,5.1zM254.1,293.5l-4.4,11.3 0-11.7 4.4-22.6zM249.7,304.8l-4.3,2.8 0,1.3 4.3-15.8zM245.4,307.6l-4.3-4.1 0,6.1 4.3-0.7zM241.1,303.5l-4.3-7 0,9.9 4.3,3.2zM236.8,296.5l-4.3-0.5 0,3.9 4.3,6.5zM232.5,296l-4.3,3 0-10.4 4.3,11.3zM228.2,299l-4.3-6.4 0-2.8 4.3-1.2zM223.9,292.6l-4.4-11.5 0,4.7 4.4,4zM219.5,281.1l-4.3,2.9 0,2 4.3-0.2zM215.2,284l-4.3,15.6 0-1.9 4.3-11.7zM210.9,299.6l-4.3,6.8 0-0.1 4.3-8.6zM206.6,306.4l-4.3,4.3 0-0.9 4.3-3.5zM202.3,310.7l-4.3,2 0-1.6 4.3-1.3zM198,312.7l-4.3-8.9 0,2 4.3,5.3zM193.7,303.8l-4.4-13.7 0,9.9 4.4,5.8zM189.3,290.1l-4.3,6.7 0,9.1 4.3-5.9zM185,296.8l-4.3,9.3 0,2 4.3-2.2zM180.7,306.1l-4.3-4.4 0,1.9 4.3,4.5zM176.4,301.7l-4.3-8.1 0,8.6 4.3,1.4zM172.1,293.6l-4.3-2 0,10.7 4.3-0.1zM167.8,291.6l-4.3,5.4 0,10.3 4.3-5zM163.5,297l-4.4,9.6 0,6.3 4.4-5.6zM159.1,306.6l-4.3,3 0,3.3 4.3,0zM154.8,309.6l-4.3,0 0,2.7 4.3,0.6zM150.5,309.6l-4.3,2.5 0-2.6 4.3,2.8zM146.2,312.1l-4.3,0.5 0-5.7 4.3,2.6zM141.9,312.6l-4.3-4.9 0-6.4 4.3,5.6zM137.6,307.7l-4.3-11.1 0,3.1 4.3,1.6zM133.3,296.6l-4.4-11.9 0,19.2 4.4-4.2zM128.9,284.7l-4.3,3.6 0,14 4.3,1.6zM124.6,288.3l-4.3,5.4 0,4.1 4.3,4.5zM120.3,293.7l-4.3,2.8 0,6.7 4.3-5.4zM116,296.5l-4.3,1.9 0,10.9 4.3-6.1zM111.7,298.4l-4.3-4.5 0,9.7 4.3,5.7zM107.4,293.9l-4.3-12.9 0,8 4.3,14.6z"/>
<path fill="#f0ed6e" d="M103.1,281l-4.4-3.7 0,9.7 4.4,2z"/>
<path fill="#f6ee6c" d="M98.7,277.3l-4.3,5.8 0,14.3 4.3-10.4zM94.4,283.1l-4.3,10.5 0,11.7 4.3-7.9zM90.1,293.6l-4.3,11.7 0,2.5 4.3-2.5zM85.8,305.3l-4.3,7.5 0-5.6 4.3,0.6z"/>
<path fill="#d6e876" d="M675.3,269l-2.8-0.1 0,2 2.8,2.6zM672.5,268.9l-4.3,7.5 0,0.2 4.3-5.7z"/>
<path fill="#eeec6f" d="M668.2,276.4l-4.3,8.2 0-0.7 4.3-7.3z"/>
<path fill="#f6ee6c" d="M663.9,284.6l-4.3,5.2 0-2.2 4.3-3.7zM659.6,289.8l-4.4,4.5 0-4.1 4.4-2.6zM655.2,294.3l-4.3-7 0-2.3 4.3,5.2zM650.9,287.3l-4.3-4.6 0-1.1 4.3,3.4zM646.6,282.7l-4.3,12.2 0-8.2 4.3-5.1zM642.3,294.9l-4.3,8.2 0-10.6 4.3-5.8zM638,303.1l-4.3-0.8 0-0.2 4.3-9.6zM633.7,302.3l-4.3,2.5 0,6.1 4.3-8.8zM629.4,304.8l-4.4,4.6 0,2.7 4.4-1.2zM625,309.4l-4.3,1.2 0-3.4 4.3,4.9zM620.7,310.6l-4.3-7.7 0-4.3 4.3,8.6zM616.4,302.9l-4.3-4.2 0-2.9 4.3,2.8zM612.1,298.7l-4.3,8.1 0-6 4.3-5zM607.8,306.8l-4.3,5.8 0-5.7 4.3-6.1zM603.5,312.6l-4.3,0.3 0-7.7 4.3,1.7zM599.2,312.9l-4.3,0 0-11.2 4.3,3.5zM594.9,312.9l-4.4,0 0-6.2 4.4-5zM590.5,312.9l-4.3,0 0-6.8 4.3,0.6zM586.2,312.9l-4.3-6.2 0-13.3 4.3,12.7zM581.9,306.7l-4.3-9.7 0-7.7 4.3,4.1zM577.6,297l-4.3-2.5 0,2.9 4.3-8.1zM573.3,294.5l-4.3,9.9 0-1.3 4.3-5.7zM569,304.4l-4.3,8.5 0-6.7 4.3-3.1zM564.7,312.9l-4.4-1.7 0-7.9 4.4,2.9zM560.3,311.2l-4.3-7 0-7.9 4.3,7zM556,304.2l-4.3,3.9 0-8.6 4.3-3.2zM551.7,308.1l-4.3,4.8 0-6.7 4.3-6.7zM547.4,312.9l-4.3-1 0-6.9 4.3,1.2zM543.1,311.9l-4.3-4 0-11.2 4.3,8.3zM538.8,307.9l-4.3-8.8 0-9.3 4.3,6.9zM534.5,299.1l-4.4-8.5 0-0.5 4.4-0.3zM530.1,290.6l-4.3,5.6 0,0.4 4.3-6.5zM525.8,296.2l-4.3-3.6 0,0.1 4.3,3.9zM521.5,292.6l-4.3-8.5 0,1.3 4.3,7.3zM517.2,284.1l-4.3,2.6 0,2.2 4.3-3.5zM512.9,286.7l-4.3-0.1 0,3.9 4.3-1.6zM508.6,286.6l-4.3-1.5 0,5.4 4.3,0zM504.3,285.1l-4.4,7.9 0,3.8 4.4-6.3zM499.9,293l-4.3,4.7 0,0.3 4.3-1.2zM495.6,297.7l-4.3-13.7 0,2.5 4.3,11.5z"/>
<path fill="#f5ee6c" d="M491.3,284l-4.3-5.3 0,2.8 4.3,5z"/>
<path fill="#f6ee6c" d="M487,278.7l-4.3,4 0,2.1 4.3-3.3zM482.7,282.7l-4.3-2.1 0,2.4 4.3,1.8zM478.4,280.6l-4.3,2.1 0-1.5 4.3,1.8zM474.1,282.7l-4.4,3.9 0-1.9 4.4-3.5zM469.7,286.6l-4.3-4 0,6.8 4.3-4.7zM465.4,282.6l-4.3,10.7 0,3.4 4.3-7.3zM461.1,293.3l-4.3,12.6 0-6.3 4.3-2.9zM456.8,305.9l-4.3-10.9 0-3.5 4.3,8.1zM452.5,295l-4.3-9.4 0,3.2 4.3,2.7zM448.2,285.6l-4.3,0.8 0,5.2 4.3-2.8zM443.9,286.4l-4.4-1.2 0,4.2 4.4,2.2zM439.5,285.2l-4.3-0.2 0,3.6 4.3,0.8zM435.2,285l-4.3-2.6 0,3.2 4.3,3zM430.9,282.4l-4.3,2.4 0,0.7 4.3,0.1zM426.6,284.8l-4.3,10 0-4.8 4.3-4.5zM422.3,294.8l-4.3,2.8 0-8.9 4.3,1.3zM418,297.6l-4.3-0.2 0-8 4.3-0.7zM413.7,297.4l-4.3,0.5 0-9 4.3,0.5zM409.4,297.9l-4.4,2.3 0-15.6 4.4,4.3zM405,300.2l-4.3-3 0-16.9 4.3,4.3zM400.7,297.2l-4.3-10.6 0-8.4 4.3,2.1zM396.4,286.6l-4.3-4.8 0,2.2 4.3-5.8zM392.1,281.8l-4.3,11.2 0,10.1 4.3-19.1zM387.8,293l-4.3,16.7 0-0.8 4.3-5.8zM383.5,309.7l-4.3-1.7 0-6.9 4.3,7.8zM379.2,308l-4.4-3.5 0-3.6 4.4,0.2zM374.8,304.5l-4.3,2.7 0-4.6 4.3-1.7zM370.5,307.2l-4.3-5.2 0-2.7 4.3,3.3zM366.2,302l-4.3-7.6 0,7.8 4.3-2.9zM361.9,294.4l-4.3-4.7 0,11.6 4.3,0.9zM357.6,289.7l-4.3,2.9 0,3.4 4.3,5.3zM353.3,292.6l-4.3,11.2 0-4.4 4.3-3.4zM349,303.8l-4.4,0 0,1.5 4.4-5.9zM344.6,303.8l-4.3-15.2 0,18 4.3-1.3zM340.3,288.6l-4.3-7.6 0,26.4 4.3-0.8zM336,281l-4.3,13.6 0,12.3 4.3,0.5zM331.7,294.6l-4.3,3.8 0,2.3 4.3,6.2zM327.4,298.4l-4.3-4.2 0,0.9 4.3,5.6zM323.1,294.2l-4.3,0.5 0-4 4.3,4.4zM318.8,294.7l-4.4,2 0-10.3 4.4,4.3zM314.4,296.7l-4.3,1.5 0-10 4.3-1.8zM310.1,298.2l-4.3-1.4 0-4.7 4.3-3.9zM305.8,296.8l-4.3-3.6 0,2.3 4.3-3.4zM301.5,293.2l-4.3-6.1 0,12 4.3-3.6zM297.2,287.1l-4.3-1.3 0,13.7 4.3-0.4z"/>
<path fill="#f4ee6d" d="M292.9,285.8l-4.3-7.4 0,14.6 4.3,6.5z"/>
<path fill="#cbe67b" d="M288.6,278.4l-4.4-12.7 0,23.2 4.4,4.1z"/>
<path fill="#ecec6f" d="M284.2,265.7l-4.3,10.2 0,16.9 4.3-3.9z"/>
<path fill="#f6ee6c" d="M279.9,275.9l-4.3,7.1 0,11.2 4.3-1.4zM275.6,283l-4.3,1.6 0,4.6 4.3,5zM271.3,284.6l-4.3,7.2 0-1.8 4.3-0.8zM267,291.8l-4.3,8.4 0-7.2 4.3-3zM262.7,300.2l-4.3,0.8 0-12.5 4.3,4.5zM258.4,301l-4.3,7.2 0-14.7 4.3-5zM254.1,308.2l-4.4,3.8 0-7.2 4.4-11.3zM249.7,312l-4.3-3.2 0-1.2 4.3-2.8zM245.4,308.8l-4.3-3 0-2.3 4.3,4.1zM241.1,305.8l-4.3-11.1 0,1.8 4.3,7zM236.8,294.7l-4.3-6.1 0,7.4 4.3,0.5zM232.5,288.6l-4.3,10.9 0-0.5 4.3-3zM228.2,299.5l-4.3-1.8 0-5.1 4.3,6.4zM223.9,297.7l-4.4-14.8 0-1.8 4.4,11.5zM219.5,282.9l-4.3-0.8 0,1.9 4.3-2.9zM215.2,282.1l-4.3,9.6 0,7.9 4.3-15.6zM210.9,291.7l-4.3,4.2 0,10.5 4.3-6.8zM206.6,295.9l-4.3,0.5 0,14.3 4.3-4.3zM202.3,296.4l-4.3,5.7 0,10.6 4.3-2zM198,302.1l-4.3-0.2 0,1.9 4.3,8.9zM193.7,301.9l-4.4-9.9 0-1.9 4.4,13.7zM189.3,292l-4.3,1.5 0,3.3 4.3-6.7zM185,293.5l-4.3,8.4 0,4.2 4.3-9.3zM180.7,301.9l-4.3-0.6 0,0.4 4.3,4.4zM176.4,301.3l-4.3-5.9 0-1.8 4.3,8.1zM172.1,295.4l-4.3-6 0,2.2 4.3,2zM167.8,289.4l-4.3,2.2 0,5.4 4.3-5.4zM163.5,291.6l-4.4,10.4 0,4.6 4.4-9.6zM159.1,302l-4.3,7.5 0,0.1 4.3-3zM154.8,309.5l-4.3,3.4 0-3.3 4.3,0zM150.5,312.9l-4.3-0.9 0,0.1 4.3-2.5zM146.2,312l-4.3-4.6 0,5.2 4.3-0.5zM141.9,307.4l-4.3-5.6 0,5.9 4.3,4.9zM137.6,301.8l-4.3,5.4 0-10.6 4.3,11.1zM133.3,307.2l-4.4-1.6 0-20.9 4.4,11.9zM128.9,305.6l-4.3-2.9 0-14.4 4.3-3.6zM124.6,302.7l-4.3-1.9 0-7.1 4.3-5.4zM120.3,300.8l-4.3-3.4 0-0.9 4.3-2.8zM116,297.4l-4.3-4.1 0,5.1 4.3-1.9zM111.7,293.3l-4.3,2.2 0-1.6 4.3,4.5zM107.4,295.5l-4.3-4 0-10.5 4.3,12.9z"/>
<path fill="#f5ee6c" d="M103.1,291.5l-4.4-12.8 0-1.4 4.4,3.7z"/>
<path fill="#f6ee6c" d="M98.7,278.7l-4.3,0.6 0,3.8 4.3-5.8zM94.4,279.3l-4.3,15.5 0-1.2 4.3-10.5zM90.1,294.8l-4.3,15.5 0-5 4.3-11.7zM85.8,310.3l-4.3,2.6 0-0.1 4.3-7.5z"/>
</g>
<path d="M82.2,80.5V392.4H674.8" stroke="#222" stroke-width="1.4" fill="none"/>
<path d="M82.2,80.5h5.5M82.2,132.5h5.5M82.2,184.5h5.5M82.2,236.5h5.5M82.2,288.5h5.5M82.2,340.5h5.5M586.2,392.4v-5.5M494.9,392.4v-5.5M403.6,392.4v-5.5M312.3,392.4v-5.5M221.0,392.4v-5.5M129.7,392.4v-5.5" stroke="#222" stroke-width="1.2" fill="none"/>
<text x="74.0" y="87.7" font-size="20" text-anchor="end" textLength="35.0" lengthAdjust="spacingAndGlyphs" fill="#111" >0.05</text>
<text x="74.0" y="139.7" font-size="20" text-anchor="end" textLength="35.0" lengthAdjust="spacingAndGlyphs" fill="#111" >0.04</text>
<text x="74.0" y="191.7" font-size="20" text-anchor="end" textLength="35.0" lengthAdjust="spacingAndGlyphs" fill="#111" >0.03</text>
<text x="74.0" y="243.7" font-size="20" text-anchor="end" textLength="35.0" lengthAdjust="spacingAndGlyphs" fill="#111" >0.02</text>
<text x="74.0" y="295.7" font-size="20" text-anchor="end" textLength="35.0" lengthAdjust="spacingAndGlyphs" fill="#111" >0.01</text>
<text x="74.0" y="347.7" font-size="20" text-anchor="end" textLength="10.5" lengthAdjust="spacingAndGlyphs" fill="#111" >0</text>
<text x="586.2" y="422.4" font-size="20" text-anchor="middle" textLength="20.0" lengthAdjust="spacingAndGlyphs" fill="#111" >20</text>
<text x="494.9" y="422.4" font-size="20" text-anchor="middle" textLength="20.0" lengthAdjust="spacingAndGlyphs" fill="#111" >40</text>
<text x="403.6" y="422.4" font-size="20" text-anchor="middle" textLength="20.0" lengthAdjust="spacingAndGlyphs" fill="#111" >60</text>
<text x="312.3" y="422.4" font-size="20" text-anchor="middle" textLength="20.0" lengthAdjust="spacingAndGlyphs" fill="#111" >80</text>
<text x="221.0" y="422.4" font-size="20" text-anchor="middle" textLength="30.5" lengthAdjust="spacingAndGlyphs" fill="#111" >100</text>
<text x="129.7" y="422.4" font-size="20" text-anchor="middle" textLength="30.5" lengthAdjust="spacingAndGlyphs" fill="#111" >120</text>
<text x="377.4" y="453.0" font-size="20.4" text-anchor="middle" font-weight="bold" textLength="162.7" lengthAdjust="spacingAndGlyphs" fill="#111" >Along depth(mm)</text>
<text x="28.6" y="236.0" font-size="20.5" text-anchor="middle" font-weight="bold" textLength="198.0" lengthAdjust="spacingAndGlyphs" transform="rotate(-90 28.6 236.0)" fill="#111" >Correlation Factor</text>
<text x="522.2" y="23.8" font-size="27.5" text-anchor="start" textLength="109.4" lengthAdjust="spacingAndGlyphs" fill="#111" >Tip of the</text>
<text x="521.0" y="64.3" font-size="27.5" text-anchor="start" textLength="64.0" lengthAdjust="spacingAndGlyphs" fill="#111" >notch</text>
<text x="266.7" y="105.3" font-size="27.5" text-anchor="start" textLength="144.5" lengthAdjust="spacingAndGlyphs" fill="#111" >Crack length</text>
<text x="266.7" y="145.5" font-size="27.5" text-anchor="start" textLength="232.0" lengthAdjust="spacingAndGlyphs" fill="#111" >measuring direction</text>
<path d="M567.5,109.3H440" stroke="#1f3f95" stroke-width="3.2" fill="none"/>
<polygon points="428,109.3 442.5,104 442.5,114.6" fill="#1f3f95"/>
<path d="M567.6,110.8V80" stroke="#d01818" stroke-width="3" fill="none"/>
<polygon points="567.6,70.5 562.6,82 572.6,82" fill="#d01818"/>
<path d="M569.5,342.5V348.5Q569.5,351.3 572.5,351.3H674Q677,351.3 677,348.5V342.5M623.7,351.3V361" stroke="#111" stroke-width="2.4" fill="none"/>
<text x="596.0" y="382.5" font-size="29.5" text-anchor="start" font-weight="bold" textLength="69.3" lengthAdjust="spacingAndGlyphs" fill="#111" >Notch</text>
<path d="M139.5,746.0L637.5,860.0M139.5,706.9L637.5,820.9M139.5,667.8L637.5,781.8M139.5,628.7L637.5,742.7M139.5,589.6L637.5,703.6M139.5,550.5L637.5,664.5M139.5,511.4L637.5,625.4M561.8,842.7L561.8,608.1M486.1,825.3L486.1,590.7M410.4,808.0L410.4,573.4M334.8,790.7L334.8,556.1M259.1,773.4L259.1,538.8M183.4,756.0L183.4,521.4M139.5,746.0L139.5,511.4M76.0,830.0L139.5,746.0M76.0,790.9L139.5,706.9M76.0,751.8L139.5,667.8M76.0,712.7L139.5,628.7M76.0,673.6L139.5,589.6M76.0,634.5L139.5,550.5M76.0,595.4L139.5,511.4M88.1,814.0L88.1,579.4M103.9,793.0L103.9,558.4M119.8,772.0L119.8,537.4M135.7,751.0L135.7,516.4M498.3,926.7L561.8,842.7M422.6,909.3L486.1,825.3M346.9,892.0L410.4,808.0M271.3,874.7L334.8,790.7M195.6,857.4L259.1,773.4M119.9,840.0L183.4,756.0M88.1,814.0L586.1,928.0M103.9,793.0L601.9,907.0M119.8,772.0L617.8,886.0M135.7,751.0L633.7,865.0" stroke="#d6d6d6" stroke-width="1" fill="none"/>
<g stroke="#111" stroke-width="0.9" stroke-linejoin="round">
<path fill="#f6ee6c" d="M143.8,674l-3.5,2.4 3.1-3.4 3.6,0.7zM147.4,673.3l-3.6,0.7 3.2-0.3 3.6-3.3zM151,677.3l-3.6-4 3.2-2.9 3.6-2.2zM154.6,675.8l-3.6,1.5 3.2-9.1 3.5,0.1zM158.1,674.2l-3.5,1.6 3.1-7.5 3.6-1.9zM161.7,683l-3.6-8.8 3.2-7.8 3.6,6.2z"/>
<path fill="#f6ee6c" d="M165.3,686.7l-3.6-3.7 3.2-10.4 3.6,14.2zM168.9,685.6l-3.6,1.1 3.2,0.1 3.5,3.9zM172.4,694l-3.5-8.4 3.1,5.1 3.6,3.7zM176,699l-3.6-5 3.2,0.4 3.6,0.9zM179.6,699l-3.6,0 3.2-3.7 3.6-1.6zM183.2,701.1l-3.6-2.1 3.2-5.3 3.5,3.2z"/>
<path fill="#f6ee6c" d="M186.7,701.9l-3.5-0.8 3.1-4.2 3.6,0.8zM190.3,698.8l-3.6,3.1 3.2-4.2 3.6-1.8zM193.9,695.9l-3.6,2.9 3.2-2.9 3.6-1.8zM197.5,697.1l-3.6-1.2 3.2-1.8 3.6-1.1zM201.1,695.7l-3.6,1.4 3.2-4.1 3.5-4.8zM204.6,692.5l-3.5,3.2 3.1-7.5 3.6-7.3z"/>
<path fill="#f6ee6c" d="M208.2,693.9l-3.6-1.4 3.2-11.6 3.6-3.8zM211.8,698.2l-3.6-4.3 3.2-16.8 3.6,7.5zM215.4,700.1l-3.6-1.9 3.2-13.6 3.5,8.3zM218.9,701.2l-3.5-1.1 3.1-7.2 3.6-2.8zM222.5,703.8l-3.6-2.6 3.2-11.1 3.6,6.4zM226.1,707.7l-3.6-3.9 3.2-7.3 3.6,6z"/>
<path fill="#f6ee6c" d="M229.7,711.7l-3.6-4 3.2-5.2 3.5,5zM233.2,711.7l-3.5,0 3.1-4.2 3.6,0.9zM236.8,704.5l-3.6,7.2 3.2-3.3 3.6-5.1zM240.4,704.7l-3.6-0.2 3.2-1.2 3.6,1.5zM244,706.7l-3.6-2 3.2,0.1 3.5,3zM247.5,704.1l-3.5,2.6 3.1,1.1 3.6-5.9z"/>
<path fill="#f6ee6c" d="M251.1,704.1l-3.6,0 3.2-2.2 3.6,0.5zM254.7,707.6l-3.6-3.5 3.2-1.7 3.6,0.4zM258.3,711.8l-3.6-4.2 3.2-4.8 3.5-4.2zM261.8,712.1l-3.5-0.3 3.1-13.2 3.6-0.5zM265.4,707.4l-3.6,4.7 3.2-14 3.6,0.2zM269,704.7l-3.6,2.7 3.2-9.1 3.6-0.2z"/>
<path fill="#f6ee6c" d="M272.6,704l-3.6,0.7 3.2-6.6 3.5-1.6zM276.2,702.8l-3.6,1.2 3.1-7.5 3.6-3.4zM279.7,703.7l-3.5-0.9 3.1-9.7 3.6,0.1zM283.3,702l-3.6,1.7 3.2-10.5 3.6,0.9zM286.9,701.3l-3.6,0.7 3.2-7.9 3.6-0.3zM290.5,705.1l-3.6-3.8 3.2-7.5 3.5,2.5z"/>
<path fill="#f6ee6c" d="M294,706.8l-3.5-1.7 3.1-8.8 3.6,4.2zM297.6,713l-3.6-6.2 3.2-6.3 3.6,4.9zM301.2,718.5l-3.6-5.5 3.2-7.6 3.6,5.9zM304.8,722.3l-3.6-3.8 3.2-7.2 3.5,7.2zM308.3,725.3l-3.5-3 3.1-3.8 3.6,5.4zM311.9,725.3l-3.6,0 3.2-1.4 3.6-0.6z"/>
<path fill="#f6ee6c" d="M315.5,724.3l-3.6,1 3.2-2 3.6,0.7zM319.1,724.1l-3.6,0.2 3.2-0.3 3.5,2.3zM322.6,728.1l-3.5-4 3.1,2.2 3.6,2.1zM326.2,725.1l-3.6,3 3.2,0.3 3.6,1.2zM329.8,717l-3.6,8.1 3.2,4.5 3.6,0.9zM333.4,724.3l-3.6-7.3 3.2,13.5 3.5-0.4z"/>
<path fill="#f6ee6c" d="M336.9,732l-3.5-7.7 3.1,5.8 3.6-4.2zM340.5,730.1l-3.6,1.9 3.2-6.1 3.6-5.3zM344.1,725l-3.6,5.1 3.2-9.5 3.6-7.1zM347.7,724.1l-3.6,0.9 3.2-11.5 3.5-1.1zM351.2,722.7l-3.5,1.4 3.1-11.7 3.6,4.1zM354.8,717l-3.6,5.7 3.2-6.2 3.6-0.5z"/>
<path fill="#f6ee6c" d="M358.4,714.3l-3.6,2.7 3.2-1 3.6,2.9z"/>
<path fill="#f0ed6e" d="M362,728.2l-3.6-13.9 3.2,4.6 3.6,10.2z"/>
<path fill="#f6ee6c" d="M365.6,738.3l-3.6-10.1 3.2,0.9 3.5,3.6zM369.1,738.7l-3.5-0.4 3.1-5.6 3.6,1.9zM372.7,734.8l-3.6,3.9 3.2-4.1 3.6,4zM376.3,733.3l-3.6,1.5 3.2,3.8 3.6,0.8zM379.9,733.1l-3.6,0.2 3.2,6.1 3.5-3.5zM383.4,732.7l-3.5,0.4 3.1,2.8 3.6,0.1z"/>
<path fill="#f6ee6c" d="M387,732.9l-3.6-0.2 3.2,3.3 3.6,4.8zM390.6,736.6l-3.6-3.7 3.2,7.9 3.6,1.8zM394.2,737.4l-3.6-0.8 3.2,6 3.5-2.5zM397.7,737.6l-3.5-0.2 3.1,2.7 3.6-2.9zM401.3,738.5l-3.6-0.9 3.2-0.4 3.6-0.9zM404.9,736.5l-3.6,2 3.2-2.2 3.6-2.8z"/>
<path fill="#f6ee6c" d="M408.5,740.5l-3.6-4 3.2-3 3.5,5.6zM412,743.5l-3.5-3 3.1-1.4 3.6,9.8zM415.6,744.4l-3.6-0.9 3.2,5.4 3.6,0.1zM419.2,751l-3.6-6.6 3.2,4.6 3.6-8.7zM422.8,753.8l-3.6-2.8 3.2-10.7 3.5-12.1zM426.3,752.7l-3.5,1.1 3.1-25.6 3.6,6.5z"/>
<path fill="#f6ee6c" d="M429.9,753l-3.6-0.3 3.2-18 3.6,8.1zM433.5,749.7l-3.6,3.3 3.2-10.2 3.6-3.2zM437.1,740.2l-3.6,9.5 3.2-10.1 3.5-4.1zM440.6,741.1l-3.5-0.9 3.1-4.7 3.6,4.6zM444.2,751.8l-3.6-10.7 3.2-1 3.6,9.9zM447.8,754l-3.6-2.2 3.2-1.8 3.6,2.9z"/>
<path fill="#f6ee6c" d="M451.4,751.9l-3.6,2.1 3.2-1.1 3.6-6.2zM455,748.6l-3.6,3.3 3.2-5.2 3.5-12.7zM458.5,743.7l-3.5,4.9 3.1-14.6 3.6-1.4zM462.1,743.3l-3.6,0.4 3.2-11.1 3.6,5.7zM465.7,747l-3.6-3.7 3.2-5 3.6,6zM469.3,755.1l-3.6-8.1 3.2-2.7 3.5,5.3z"/>
<path fill="#f6ee6c" d="M472.8,760.8l-3.5-5.7 3.1-5.5 3.6,2.1zM476.4,760l-3.6,0.8 3.2-9.1 3.6,1.4zM480,755.3l-3.6,4.7 3.2-6.9 3.6-3.2zM483.6,752.7l-3.6,2.6 3.2-5.4 3.5-10zM487.1,755.5l-3.5-2.8 3.1-12.8 3.6-1zM490.7,762.1l-3.6-6.6 3.2-16.6 3.6,9.1z"/>
<path fill="#f6ee6c" d="M494.3,766.8l-3.6-4.7 3.2-14.1 3.6,11.1zM497.9,767.3l-3.6-0.5 3.2-7.7 3.5,2.8zM501.4,766.1l-3.5,1.2 3.1-5.4 3.6,0.5zM505,763.7l-3.6,2.4 3.2-3.7 3.6,1zM508.6,756.7l-3.6,7 3.2-0.3 3.6-3zM512.2,753.9l-3.6,2.8 3.2,3.7 3.5-4.2z"/>
<path fill="#f6ee6c" d="M515.7,762.9l-3.5-9 3.1,2.3 3.6,7.5zM519.3,772.9l-3.6-10 3.2,0.8 3.6,8.5zM522.9,777.5l-3.6-4.6 3.2-0.7 3.6,2.5zM526.5,779.7l-3.6-2.2 3.2-2.8 3.6,0.8zM530.1,779.2l-3.6,0.5 3.2-4.2 3.5,0.2zM533.6,774.9l-3.5,4.3 3.1-3.5 3.6-13.6z"/>
<path fill="#f6ee6c" d="M537.2,775l-3.6-0.1 3.2-12.8 3.6,1.6zM540.8,774.4l-3.6,0.6 3.2-11.3 3.6,8.2zM544.4,775.2l-3.6-0.8 3.2-2.5 3.5-1.5zM547.9,777l-3.5-1.8 3.1-4.8 3.6-2.4zM551.5,781.4l-3.6-4.4 3.2-9 3.6,6.9zM555.1,782l-3.6-0.6 3.2-6.5 3.6,2.7z"/>
<path fill="#f6ee6c" d="M558.7,776.3l-3.6,5.7 3.2-4.4 3.5-5.9zM562.2,776.7l-3.5-0.4 3.1-4.6 3.6-1.8zM565.8,780.9l-3.6-4.2 3.2-6.8 3.6,2.5zM569.4,779.1l-3.6,1.8 3.2-8.5 3.6,3.1zM573,777l-3.6,2.1 3.2-3.6 3.5-1zM576.5,777.9l-3.5-0.9 3.1-2.5 3.6-0.9z"/>
<path fill="#f6ee6c" d="M580.1,781.8l-3.6-3.9 3.2-4.3 3.6,5.3zM583.7,784.6l-3.6-2.8 3.2-2.9 3.6,5zM587.3,781.3l-3.6,3.3 3.2-0.7 3.5-3.9zM590.8,782.3l-3.5-1 3.1-1.3 3.6-0.6zM594.4,787.4l-3.6-5.1 3.2-2.9 3.6,1zM598,786.3l-3.6,1.1 3.2-7 3.6-2.6z"/>
<path fill="#f6ee6c" d="M601.6,785.1l-3.6,1.2 3.2-8.5 3.5,0.4zM605.1,787.2l-3.5-2.1 3.1-6.9 3.6,4.3zM608.7,787.9l-3.6-0.7 3.2-4.7 3.6,2.9zM612.3,785.5l-3.6,2.4 3.2-2.5 3.6-3.5zM615.9,785.2l-3.6,0.3 3.2-3.6 3.6-2.6zM619.5,783.3l-3.6,1.9 3.2-5.9 3.5-0.8z"/>
<path fill="#f6ee6c" d="M623,778l-3.5,5.3 3.1-4.8 3.6-1.8z"/>
<path fill="#e6eb71" d="M626.6,773.2l-3.6,4.8 3.2-1.3 3.6-6.9z"/>
<path fill="#c2e57f" d="M630.2,766.9l-3.6,6.3 3.2-3.4 3.6-8.1z"/>
<path fill="#b3e286" d="M633.8,763.5l-3.6,3.4 3.2-5.2 3.5-2.3z"/>
<path fill="#f6ee6c" d="M140.7,673.6l-3.6,2.6 3.2,0.2 3.5-2.4zM144.2,674.3l-3.5-0.7 3.1,0.4 3.6-0.7zM147.8,681.6l-3.6-7.3 3.2-1 3.6,4zM151.4,683.3l-3.6-1.7 3.2-4.3 3.6-1.5zM155,684.9l-3.6-1.6 3.2-7.5 3.5-1.6zM158.5,689.3l-3.5-4.4 3.1-10.7 3.6,8.8z"/>
<path fill="#f6ee6c" d="M162.1,683.6l-3.6,5.7 3.2-6.3 3.6,3.7zM165.7,680.3l-3.6,3.3 3.2,3.1 3.6-1.1zM169.3,687.5l-3.6-7.2 3.2,5.3 3.5,8.4zM172.8,696.6l-3.5-9.1 3.1,6.5 3.6,5zM176.4,701.1l-3.6-4.5 3.2,2.4 3.6,0zM180,701.4l-3.6-0.3 3.2-2.1 3.6,2.1z"/>
<path fill="#f6ee6c" d="M183.6,698.1l-3.6,3.3 3.2-0.3 3.5,0.8zM187.2,694.8l-3.6,3.3 3.1,3.8 3.6-3.1zM190.7,693.4l-3.5,1.4 3.1,4 3.6-2.9zM194.3,695.4l-3.6-2 3.2,2.5 3.6,1.2zM197.9,697.1l-3.6-1.7 3.2,1.7 3.6-1.4zM201.5,696.6l-3.6,0.5 3.2-1.4 3.5-3.2z"/>
<path fill="#f6ee6c" d="M205,698.9l-3.5-2.3 3.1-4.1 3.6,1.4zM208.6,700.6l-3.6-1.7 3.2-5 3.6,4.3zM212.2,702.1l-3.6-1.5 3.2-2.4 3.6,1.9zM215.8,704.6l-3.6-2.5 3.2-2 3.5,1.1zM219.3,704l-3.5,0.6 3.1-3.4 3.6,2.6zM222.9,707.5l-3.6-3.5 3.2-0.2 3.6,3.9z"/>
<path fill="#f6ee6c" d="M226.5,711.9l-3.6-4.4 3.2,0.2 3.6,4zM230.1,709.9l-3.6,2 3.2-0.2 3.5,0zM233.6,708.8l-3.5,1.1 3.1,1.8 3.6-7.2zM237.2,711.2l-3.6-2.4 3.2-4.3 3.6,0.2zM240.8,711l-3.6,0.2 3.2-6.5 3.6,2zM244.4,707.6l-3.6,3.4 3.2-4.3 3.5-2.6z"/>
<path fill="#f6ee6c" d="M247.9,705.2l-3.5,2.4 3.1-3.5 3.6,0zM251.5,711.4l-3.6-6.2 3.2-1.1 3.6,3.5zM255.1,719l-3.6-7.6 3.2-3.8 3.6,4.2zM258.7,717.6l-3.6,1.4 3.2-7.2 3.5,0.3zM262.2,711.7l-3.5,5.9 3.1-5.5 3.6-4.7zM265.8,712.2l-3.6-0.5 3.2-4.3 3.6-2.7z"/>
<path fill="#f6ee6c" d="M269.4,716.3l-3.6-4.1 3.2-7.5 3.6-0.7zM273,716.7l-3.6-0.4 3.2-12.3 3.6-1.2zM276.6,711l-3.6,5.7 3.2-13.9 3.5,0.9zM280.1,703.5l-3.5,7.5 3.1-7.3 3.6-1.7zM283.7,702l-3.6,1.5 3.2-1.5 3.6-0.7z"/>
<path fill="#efed6e" d="M287.3,713.3l-3.6-11.3 3.2-0.7 3.6,3.8z"/>
<path fill="#f6ee6c" d="M290.9,718l-3.6-4.7 3.2-8.2 3.5,1.7zM294.4,718.1l-3.5-0.1 3.1-11.2 3.6,6.2zM298,718.7l-3.6-0.6 3.2-5.1 3.6,5.5zM301.6,716.7l-3.6,2 3.2-0.2 3.6,3.8zM305.2,715.4l-3.6,1.3 3.2,5.6 3.5,3zM308.7,719.8l-3.5-4.4 3.1,9.9 3.6,0z"/>
<path fill="#f6ee6c" d="M312.3,724l-3.6-4.2 3.2,5.5 3.6-1zM315.9,725.8l-3.6-1.8 3.2,0.3 3.6-0.2zM319.5,733.2l-3.6-7.4 3.2-1.7 3.5,4zM323,736.9l-3.5-3.7 3.1-5.1 3.6-3zM326.6,736.3l-3.6,0.6 3.2-11.8 3.6-8.1zM330.2,738.3l-3.6-2 3.2-19.3 3.6,7.3z"/>
<path fill="#f6ee6c" d="M333.8,737.5l-3.6,0.8 3.2-14 3.5,7.7zM337.3,729.9l-3.5,7.6 3.1-5.5 3.6-1.9zM340.9,724.7l-3.6,5.2 3.2,0.2 3.6-5.1zM344.5,723.3l-3.6,1.4 3.2,0.3 3.6-0.9zM348.1,724.1l-3.6-0.8 3.2,0.8 3.5-1.4zM351.6,727.4l-3.5-3.3 3.1-1.4 3.6-5.7z"/>
<path fill="#f6ee6c" d="M355.2,729.2l-3.6-1.8 3.2-10.4 3.6-2.7zM358.8,735.3l-3.6-6.1 3.2-14.9 3.6,13.9zM362.4,744.2l-3.6-8.9 3.2-7.1 3.6,10.1zM366,744.4l-3.6-0.2 3.2-5.9 3.5,0.4zM369.5,738.8l-3.5,5.6 3.1-5.7 3.6-3.9zM373.1,735.9l-3.6,2.9 3.2-4 3.6-1.5z"/>
<path fill="#f6ee6c" d="M376.7,737l-3.6-1.1 3.2-2.6 3.6-0.2zM380.3,734.4l-3.6,2.6 3.2-3.9 3.5-0.4zM383.8,732l-3.5,2.4 3.1-1.7 3.6,0.2zM387.4,736.9l-3.6-4.9 3.2,0.9 3.6,3.7zM391,739.1l-3.6-2.2 3.2-0.3 3.6,0.8zM394.6,739.7l-3.6-0.6 3.2-1.7 3.5,0.2z"/>
<path fill="#f6ee6c" d="M398.1,739.1l-3.5,0.6 3.1-2.1 3.6,0.9zM401.7,737.8l-3.6,1.3 3.2-0.6 3.6-2zM405.3,740.8l-3.6-3 3.2-1.3 3.6,4zM408.9,737.2l-3.6,3.6 3.2-0.3 3.5,3zM412.4,735.8l-3.5,1.4 3.1,6.3 3.6,0.9zM416,744.1l-3.6-8.3 3.2,8.6 3.6,6.6z"/>
<path fill="#f6ee6c" d="M419.6,748.8l-3.6-4.7 3.2,6.9 3.6,2.8zM423.2,753.4l-3.6-4.6 3.2,5 3.5-1.1zM426.7,753.5l-3.5-0.1 3.1-0.7 3.6,0.3zM430.3,750.9l-3.6,2.6 3.2-0.5 3.6-3.3zM433.9,743.4l-3.6,7.5 3.2-1.2 3.6-9.5zM437.5,739.8l-3.6,3.6 3.2-3.2 3.5,0.9z"/>
<path fill="#f6ee6c" d="M441.1,745.7l-3.6-5.9 3.1,1.3 3.6,10.7zM444.6,748.9l-3.5-3.2 3.1,6.1 3.6,2.2zM448.2,748.9l-3.6,0 3.2,5.1 3.6-2.1zM451.8,750.8l-3.6-1.9 3.2,3 3.6-3.3zM455.4,748.7l-3.6,2.1 3.2-2.2 3.5-4.9zM458.9,747.5l-3.5,1.2 3.1-5 3.6-0.4z"/>
<path fill="#f6ee6c" d="M462.5,749l-3.6-1.5 3.2-4.2 3.6,3.7zM466.1,753.1l-3.6-4.1 3.2-2 3.6,8.1zM469.7,758.5l-3.6-5.4 3.2,2 3.5,5.7zM473.2,758.7l-3.5-0.2 3.1,2.3 3.6-0.8zM476.8,754.8l-3.6,3.9 3.2,1.3 3.6-4.7zM480.4,755.7l-3.6-0.9 3.2,0.5 3.6-2.6z"/>
<path fill="#f6ee6c" d="M484,760.6l-3.6-4.9 3.2-3 3.5,2.8zM487.5,763.7l-3.5-3.1 3.1-5.1 3.6,6.6zM491.1,764.8l-3.6-1.1 3.2-1.6 3.6,4.7zM494.7,763.6l-3.6,1.2 3.2,2 3.6,0.5zM498.3,765.7l-3.6-2.1 3.2,3.7 3.5-1.2zM501.8,767l-3.5-1.3 3.1,0.4 3.6-2.4z"/>
<path fill="#f6ee6c" d="M505.4,762.7l-3.6,4.3 3.2-3.3 3.6-7zM509,764.9l-3.6-2.2 3.2-6 3.6-2.8zM512.6,772.4l-3.6-7.5 3.2-11 3.5,9zM516.1,775.4l-3.5-3 3.1-9.5 3.6,10zM519.7,779.2l-3.6-3.8 3.2-2.5 3.6,4.6zM523.3,781.9l-3.6-2.7 3.2-1.7 3.6,2.2z"/>
<path fill="#f6ee6c" d="M526.9,780.2l-3.6,1.7 3.2-2.2 3.6-0.5zM530.5,781.2l-3.6-1 3.2-1 3.5-4.3zM534,779.2l-3.5,2 3.1-6.3 3.6,0.1zM537.6,775.8l-3.6,3.4 3.2-4.2 3.6-0.6zM541.2,782.1l-3.6-6.3 3.2-1.4 3.6,0.8zM544.8,784.4l-3.6-2.3 3.2-6.9 3.5,1.8z"/>
<path fill="#f6ee6c" d="M548.3,784.5l-3.5-0.1 3.1-7.4 3.6,4.4zM551.9,785.2l-3.6-0.7 3.2-3.1 3.6,0.6zM555.5,781.9l-3.6,3.3 3.2-3.2 3.6-5.7zM559.1,781.4l-3.6,0.5 3.2-5.6 3.5,0.4zM562.6,784.3l-3.5-2.9 3.1-4.7 3.6,4.2zM566.2,782.1l-3.6,2.2 3.2-3.4 3.6-1.8z"/>
<path fill="#f6ee6c" d="M569.8,780.8l-3.6,1.3 3.2-3 3.6-2.1zM573.4,783.2l-3.6-2.4 3.2-3.8 3.5,0.9zM576.9,787.6l-3.5-4.4 3.1-5.3 3.6,3.9zM580.5,790.1l-3.6-2.5 3.2-5.8 3.6,2.8zM584.1,787.6l-3.6,2.5 3.2-5.5 3.6-3.3zM587.7,789.9l-3.6-2.3 3.2-6.3 3.5,1z"/>
<path fill="#f6ee6c" d="M591.2,795.2l-3.5-5.3 3.1-7.6 3.6,5.1zM594.8,792.9l-3.6,2.3 3.2-7.8 3.6-1.1zM598.4,791.6l-3.6,1.3 3.2-6.6 3.6-1.2zM602,795.9l-3.6-4.3 3.2-6.5 3.5,2.1zM605.5,798.6l-3.5-2.7 3.1-8.7 3.6,0.7zM609.1,792.6l-3.6,6 3.2-10.7 3.6-2.4z"/>
<path fill="#f6ee6c" d="M612.7,785.9l-3.6,6.7 3.2-7.1 3.6-0.3zM616.3,783.7l-3.6,2.2 3.2-0.7 3.6-1.9zM619.9,782.1l-3.6,1.6 3.2-0.4 3.5-5.3z"/>
<path fill="#e6eb71" d="M623.4,780.8l-3.5,1.3 3.1-4.1 3.6-4.8z"/>
<path fill="#c7e67d" d="M627,774.5l-3.6,6.3 3.2-7.6 3.6-6.3z"/>
<path fill="#b3e286" d="M630.6,769l-3.6,5.5 3.2-7.6 3.6-3.4z"/>
<path fill="#f6ee6c" d="M137.5,686.5l-3.6-3.2 3.2-7.1 3.6-2.6zM141.1,692.2l-3.6-5.7 3.2-12.9 3.5,0.7zM144.6,692.6l-3.5-0.4 3.1-17.9 3.6,7.3zM148.2,691.8l-3.6,0.8 3.2-11 3.6,1.7zM151.8,693.9l-3.6-2.1 3.2-8.5 3.6,1.6zM155.4,689.1l-3.6,4.8 3.2-9 3.5,4.4z"/>
<path fill="#f6ee6c" d="M158.9,683.7l-3.5,5.4 3.1,0.2 3.6-5.7zM162.5,686.1l-3.6-2.4 3.2-0.1 3.6-3.3zM166.1,692l-3.6-5.9 3.2-5.8 3.6,7.2zM169.7,696.8l-3.6-4.8 3.2-4.5 3.5,9.1zM173.2,700.2l-3.5-3.4 3.1-0.2 3.6,4.5zM176.8,699l-3.6,1.2 3.2,0.9 3.6,0.3z"/>
<path fill="#f6ee6c" d="M180.4,695.2l-3.6,3.8 3.2,2.4 3.6-3.3zM184,694.4l-3.6,0.8 3.2,2.9 3.6-3.3zM187.6,695.9l-3.6-1.5 3.2,0.4 3.5-1.4zM191.1,698.6l-3.5-2.7 3.1-2.5 3.6,2zM194.7,700.6l-3.6-2 3.2-3.2 3.6,1.7zM198.3,699.4l-3.6,1.2 3.2-3.5 3.6-0.5z"/>
<path fill="#f6ee6c" d="M201.9,697.5l-3.6,1.9 3.2-2.8 3.5,2.3zM205.4,696.6l-3.5,0.9 3.1,1.4 3.6,1.7zM209,697.9l-3.6-1.3 3.2,4 3.6,1.5zM212.6,700l-3.6-2.1 3.2,4.2 3.6,2.5zM216.2,699.7l-3.6,0.3 3.2,4.6 3.5-0.6zM219.7,702l-3.5-2.3 3.1,4.3 3.6,3.5z"/>
<path fill="#f6ee6c" d="M223.3,707l-3.6-5 3.2,5.5 3.6,4.4zM226.9,712.1l-3.6-5.1 3.2,4.9 3.6-2zM230.5,717.1l-3.6-5 3.2-2.2 3.5-1.1zM234,719.3l-3.5-2.2 3.1-8.3 3.6,2.4zM237.6,719.9l-3.6-0.6 3.2-8.1 3.6-0.2zM241.2,718.5l-3.6,1.4 3.2-8.9 3.6-3.4z"/>
<path fill="#f6ee6c" d="M244.8,716.4l-3.6,2.1 3.2-10.9 3.5-2.4zM248.3,720.5l-3.5-4.1 3.1-11.2 3.6,6.2zM251.9,724.3l-3.6-3.8 3.2-9.1 3.6,7.6zM255.5,722.2l-3.6,2.1 3.2-5.3 3.6-1.4zM259.1,720.4l-3.6,1.8 3.2-4.6 3.5-5.9zM262.6,721.9l-3.5-1.5 3.1-8.7 3.6,0.5z"/>
<path fill="#f6ee6c" d="M266.2,724.1l-3.6-2.2 3.2-9.7 3.6,4.1zM269.8,722.9l-3.6,1.2 3.2-7.8 3.6,0.4zM273.4,717.3l-3.6,5.6 3.2-6.2 3.6-5.7zM277,718l-3.6-0.7 3.2-6.3 3.5-7.5zM280.5,722.1l-3.5-4.1 3.1-14.5 3.6-1.5zM284.1,724.3l-3.6-2.2 3.2-20.1 3.6,11.3z"/>
<path fill="#f6ee6c" d="M287.7,722.7l-3.6,1.6 3.2-11 3.6,4.7zM291.3,716.9l-3.6,5.8 3.2-4.7 3.5,0.1zM294.8,715.2l-3.5,1.7 3.1,1.2 3.6,0.6zM298.4,714.5l-3.6,0.7 3.2,3.5 3.6-2zM302,713l-3.6,1.5 3.2,2.2 3.6-1.3zM305.6,719.8l-3.6-6.8 3.2,2.4 3.5,4.4z"/>
<path fill="#f6ee6c" d="M309.1,730l-3.5-10.2 3.1,0 3.6,4.2zM312.7,728l-3.6,2 3.2-6 3.6,1.8zM316.3,726l-3.6,2 3.2-2.2 3.6,7.4zM319.9,731l-3.6-5 3.2,7.2 3.5,3.7zM323.4,733.5l-3.5-2.5 3.1,5.9 3.6-0.6zM327,739.7l-3.6-6.2 3.2,2.8 3.6,2z"/>
<path fill="#f6ee6c" d="M330.6,741.3l-3.6-1.6 3.2-1.4 3.6-0.8zM334.2,734.8l-3.6,6.5 3.2-3.8 3.5-7.6zM337.7,730.7l-3.5,4.1 3.1-4.9 3.6-5.2zM341.3,726l-3.6,4.7 3.2-6 3.6-1.4zM344.9,720.7l-3.6,5.3 3.2-2.7 3.6,0.8z"/>
<path fill="#efed6e" d="M348.5,722.4l-3.6-1.7 3.2,3.4 3.5,3.3z"/>
<path fill="#f2ed6d" d="M352.1,719l-3.6,3.4 3.1,5 3.6,1.8z"/>
<path fill="#e1ea73" d="M355.6,727l-3.5-8 3.1,10.2 3.6,6.1z"/>
<path fill="#f6ee6c" d="M359.2,738.3l-3.6-11.3 3.2,8.3 3.6,8.9zM362.8,739.5l-3.6-1.2 3.2,5.9 3.6,0.2zM366.4,738.5l-3.6,1 3.2,4.9 3.5-5.6zM369.9,737.9l-3.5,0.6 3.1,0.3 3.6-2.9zM373.5,734.3l-3.6,3.6 3.2-2 3.6,1.1zM377.1,733.2l-3.6,1.1 3.2,2.7 3.6-2.6z"/>
<path fill="#f6ee6c" d="M380.7,736.8l-3.6-3.6 3.2,1.2 3.5-2.4zM384.2,736.8l-3.5,0 3.1-4.8 3.6,4.9zM387.8,729.9l-3.6,6.9 3.2,0.1 3.6,2.2z"/>
<path fill="#ecec6f" d="M391.4,737.5l-3.6-7.6 3.2,9.2 3.6,0.6z"/>
<path fill="#f6ee6c" d="M395,744.6l-3.6-7.1 3.2,2.2 3.5-0.6zM398.5,746.8l-3.5-2.2 3.1-5.5 3.6-1.3zM402.1,747.2l-3.6-0.4 3.2-9 3.6,3zM405.7,742.7l-3.6,4.5 3.2-6.4 3.6-3.6zM409.3,742.8l-3.6-0.1 3.2-5.5 3.5-1.4zM412.8,752.3l-3.5-9.5 3.1-7 3.6,8.3z"/>
<path fill="#f6ee6c" d="M416.4,761l-3.6-8.7 3.2-8.2 3.6,4.7zM420,762.9l-3.6-1.9 3.2-12.2 3.6,4.6zM423.6,758l-3.6,4.9 3.2-9.5 3.5,0.1zM427.1,754.8l-3.5,3.2 3.1-4.5 3.6-2.6zM430.7,749.9l-3.6,4.9 3.2-3.9 3.6-7.5zM434.3,743.5l-3.6,6.4 3.2-6.5 3.6-3.6z"/>
<path fill="#f6ee6c" d="M437.9,747.1l-3.6-3.6 3.2-3.7 3.6,5.9zM441.5,754.4l-3.6-7.3 3.2-1.4 3.5,3.2zM445,756.2l-3.5-1.8 3.1-5.5 3.6,0zM448.6,755.5l-3.6,0.7 3.2-7.3 3.6,1.9zM452.2,754.9l-3.6,0.6 3.2-4.7 3.6-2.1zM455.8,757.1l-3.6-2.2 3.2-6.2 3.5-1.2z"/>
<path fill="#f6ee6c" d="M459.3,756.3l-3.5,0.8 3.1-9.6 3.6,1.5zM462.9,753.4l-3.6,2.9 3.2-7.3 3.6,4.1zM466.5,755.3l-3.6-1.9 3.2-0.3 3.6,5.4zM470.1,758.9l-3.6-3.6 3.2,3.2 3.5,0.2zM473.6,757.8l-3.5,1.1 3.1-0.2 3.6-3.9zM477.2,756.2l-3.6,1.6 3.2-3 3.6,0.9z"/>
<path fill="#f6ee6c" d="M480.8,756.5l-3.6-0.3 3.2-0.5 3.6,4.9zM484.4,759l-3.6-2.5 3.2,4.1 3.5,3.1zM487.9,763.5l-3.5-4.5 3.1,4.7 3.6,1.1zM491.5,766.8l-3.6-3.3 3.2,1.3 3.6-1.2zM495.1,771.6l-3.6-4.8 3.2-3.2 3.6,2.1zM498.7,774l-3.6-2.4 3.2-5.9 3.5,1.3z"/>
<path fill="#f6ee6c" d="M502.2,773.9l-3.5,0.1 3.1-7 3.6-4.3zM505.8,779.2l-3.6-5.3 3.2-11.2 3.6,2.2zM509.4,780l-3.6-0.8 3.2-14.3 3.6,7.5zM513,774.2l-3.6,5.8 3.2-7.6 3.5,3zM516.5,775.3l-3.5-1.1 3.1,1.2 3.6,3.8zM520.1,775.9l-3.6-0.6 3.2,3.9 3.6,2.7z"/>
<path fill="#f6ee6c" d="M523.7,773.8l-3.6,2.1 3.2,6 3.6-1.7zM527.3,778.8l-3.6-5 3.2,6.4 3.6,1zM530.9,777.5l-3.6,1.3 3.2,2.4 3.5-2zM534.4,774.5l-3.5,3 3.1,1.7 3.6-3.4zM538,780.5l-3.6-6 3.2,1.3 3.6,6.3zM541.6,784.1l-3.6-3.6 3.2,1.6 3.6,2.3z"/>
<path fill="#f6ee6c" d="M545.2,784.7l-3.6-0.6 3.2,0.3 3.5,0.1zM548.7,787.2l-3.5-2.5 3.1-0.2 3.6,0.7zM552.3,787.2l-3.6,0 3.2-2 3.6-3.3zM555.9,783.9l-3.6,3.3 3.2-5.3 3.6-0.5zM559.5,783.4l-3.6,0.5 3.2-2.5 3.5,2.9zM563,784.7l-3.5-1.3 3.1,0.9 3.6-2.2z"/>
<path fill="#f6ee6c" d="M566.6,786.7l-3.6-2 3.2-2.6 3.6-1.3zM570.2,789.9l-3.6-3.2 3.2-5.9 3.6,2.4zM573.8,791.8l-3.6-1.9 3.2-6.7 3.5,4.4zM577.3,791.9l-3.5-0.1 3.1-4.2 3.6,2.5zM580.9,793.6l-3.6-1.7 3.2-1.8 3.6-2.5zM584.5,796.3l-3.6-2.7 3.2-6 3.6,2.3z"/>
<path fill="#f6ee6c" d="M588.1,794.8l-3.6,1.5 3.2-6.4 3.5,5.3zM591.6,792.3l-3.5,2.5 3.1,0.4 3.6-2.3zM595.2,794.7l-3.6-2.4 3.2,0.6 3.6-1.3zM598.8,800.7l-3.6-6 3.2-3.1 3.6,4.3zM602.4,802.4l-3.6-1.7 3.2-4.8 3.5,2.7zM606,794.9l-3.6,7.5 3.1-3.8 3.6-6z"/>
<path fill="#f6ee6c" d="M609.5,787.7l-3.5,7.2 3.1-2.3 3.6-6.7zM613.1,785.8l-3.6,1.9 3.2-1.8 3.6-2.2zM616.7,786l-3.6-0.2 3.2-2.1 3.6-1.6z"/>
<path fill="#f3ee6d" d="M620.3,785.5l-3.6,0.5 3.2-3.9 3.5-1.3z"/>
<path fill="#d7e876" d="M623.8,780.3l-3.5,5.2 3.1-4.7 3.6-6.3z"/>
<path fill="#b9e383" d="M627.4,775.3l-3.6,5 3.2-5.8 3.6-5.5z"/>
<path fill="#f6ee6c" d="M134.3,694.8l-3.6-12.7 3.2,1.2 3.6,3.2zM137.9,705.5l-3.6-10.7 3.2-8.3 3.6,5.7zM141.5,702.3l-3.6,3.2 3.2-13.3 3.5,0.4zM145,694.6l-3.5,7.7 3.1-9.7 3.6-0.8zM148.6,689.2l-3.6,5.4 3.2-2.8 3.6,2.1zM152.2,682.8l-3.6,6.4 3.2,4.7 3.6-4.8z"/>
<path fill="#f4ee6d" d="M155.8,683.5l-3.6-0.7 3.2,6.3 3.5-5.4z"/>
<path fill="#f3ed6d" d="M159.3,690.2l-3.5-6.7 3.1,0.2 3.6,2.4z"/>
<path fill="#f6ee6c" d="M162.9,696.3l-3.6-6.1 3.2-4.1 3.6,5.9zM166.5,700.3l-3.6-4 3.2-4.3 3.6,4.8zM170.1,702.9l-3.6-2.6 3.2-3.5 3.5,3.4zM173.6,700.4l-3.5,2.5 3.1-2.7 3.6-1.2zM177.2,698.4l-3.6,2 3.2-1.4 3.6-3.8zM180.8,698.4l-3.6,0 3.2-3.2 3.6-0.8z"/>
<path fill="#f6ee6c" d="M184.4,702.3l-3.6-3.9 3.2-4 3.6,1.5zM188,709.1l-3.6-6.8 3.2-6.4 3.5,2.7zM191.5,708.7l-3.5,0.4 3.1-10.5 3.6,2zM195.1,703.6l-3.6,5.1 3.2-8.1 3.6-1.2zM198.7,699l-3.6,4.6 3.2-4.2 3.6-1.9zM202.3,694.7l-3.6,4.3 3.2-1.5 3.5-0.9z"/>
<path fill="#f5ee6c" d="M205.8,696l-3.5-1.3 3.1,1.9 3.6,1.3z"/>
<path fill="#f6ee6c" d="M209.4,704l-3.6-8 3.2,1.9 3.6,2.1zM213,707.5l-3.6-3.5 3.2-4 3.6-0.3zM216.6,706.8l-3.6,0.7 3.2-7.8 3.5,2.3zM220.1,709.6l-3.5-2.8 3.1-4.8 3.6,5zM223.7,717.2l-3.6-7.6 3.2-2.6 3.6,5.1zM227.3,722.1l-3.6-4.9 3.2-5.1 3.6,5z"/>
<path fill="#f6ee6c" d="M230.9,723.3l-3.6-1.2 3.2-5 3.5,2.2zM234.4,725.7l-3.5-2.4 3.1-4 3.6,0.6zM238,725.7l-3.6,0 3.2-5.8 3.6-1.4zM241.6,723.7l-3.6,2 3.2-7.2 3.6-2.1zM245.2,723.7l-3.6,0 3.2-7.3 3.5,4.1zM248.7,724.4l-3.5-0.7 3.1-3.2 3.6,3.8z"/>
<path fill="#f6ee6c" d="M252.3,724.2l-3.6,0.2 3.2-0.1 3.6-2.1zM255.9,725.4l-3.6-1.2 3.2-2 3.6-1.8zM259.5,728l-3.6-2.6 3.2-5 3.5,1.5zM263,729.2l-3.5-1.2 3.1-6.1 3.6,2.2zM266.6,728l-3.6,1.2 3.2-5.1 3.6-1.2zM270.2,725.5l-3.6,2.5 3.2-5.1 3.6-5.6z"/>
<path fill="#f6ee6c" d="M273.8,727.1l-3.6-1.6 3.2-8.2 3.6,0.7zM277.4,728.9l-3.6-1.8 3.2-9.1 3.5,4.1zM280.9,731.6l-3.5-2.7 3.1-6.8 3.6,2.2zM284.5,733.3l-3.6-1.7 3.2-7.3 3.6-1.6zM288.1,730l-3.6,3.3 3.2-10.6 3.6-5.8zM291.7,727.9l-3.6,2.1 3.2-13.1 3.5-1.7z"/>
<path fill="#f6ee6c" d="M295.2,724.2l-3.5,3.7 3.1-12.7 3.6-0.7zM298.8,719.6l-3.6,4.6 3.2-9.7 3.6-1.5zM302.4,722.5l-3.6-2.9 3.2-6.6 3.6,6.8zM306,726.7l-3.6-4.2 3.2-2.7 3.5,10.2zM309.5,736.1l-3.5-9.4 3.1,3.3 3.6-2zM313.1,744.6l-3.6-8.5 3.2-8.1 3.6-2z"/>
<path fill="#f6ee6c" d="M316.7,745.3l-3.6-0.7 3.2-18.6 3.6,5zM320.3,739.9l-3.6,5.4 3.2-14.3 3.5,2.5zM323.8,739l-3.5,0.9 3.1-6.4 3.6,6.2zM327.4,739.7l-3.6-0.7 3.2,0.7 3.6,1.6zM331,738.1l-3.6,1.6 3.2,1.6 3.6-6.5zM334.6,738l-3.6,0.1 3.2-3.3 3.5-4.1z"/>
<path fill="#f6ee6c" d="M338.1,740.9l-3.5-2.9 3.1-7.3 3.6-4.7zM341.7,741.3l-3.6-0.4 3.2-14.9 3.6-5.3zM345.3,740.1l-3.6,1.2 3.2-20.6 3.6,1.7zM348.9,739.9l-3.6,0.2 3.2-17.7 3.6-3.4zM352.5,738.8l-3.6,1.1 3.2-20.9 3.5,8zM356,740.3l-3.5-1.5 3.1-11.8 3.6,11.3z"/>
<path fill="#f6ee6c" d="M359.6,739.4l-3.6,0.9 3.2-2 3.6,1.2zM363.2,738.4l-3.6,1 3.2,0.1 3.6-1zM366.8,741.2l-3.6-2.8 3.2,0.1 3.5-0.6zM370.3,738l-3.5,3.2 3.1-3.3 3.6-3.6zM373.9,736.3l-3.6,1.7 3.2-3.7 3.6-1.1zM377.5,741.7l-3.6-5.4 3.2-3.1 3.6,3.6z"/>
<path fill="#f6ee6c" d="M381.1,746.4l-3.6-4.7 3.2-4.9 3.5,0zM384.6,746.6l-3.5-0.2 3.1-9.6 3.6-6.9zM388.2,747.8l-3.6-1.2 3.2-16.7 3.6,7.6zM391.8,753.3l-3.6-5.5 3.2-10.3 3.6,7.1zM395.4,755.1l-3.6-1.8 3.2-8.7 3.5,2.2zM398.9,748.5l-3.5,6.6 3.1-8.3 3.6,0.4z"/>
<path fill="#f6ee6c" d="M402.5,745.6l-3.6,2.9 3.2-1.3 3.6-4.5zM406.1,749.7l-3.6-4.1 3.2-2.9 3.6,0.1zM409.7,757.2l-3.6-7.5 3.2-6.9 3.5,9.5zM413.2,761.1l-3.5-3.9 3.1-4.9 3.6,8.7zM416.8,757.8l-3.6,3.3 3.2-0.1 3.6,1.9zM420.4,752.8l-3.6,5 3.2,5.1 3.6-4.9z"/>
<path fill="#f6ee6c" d="M424,754l-3.6-1.2 3.2,5.2 3.5-3.2zM427.5,751l-3.5,3 3.1,0.8 3.6-4.9zM431.1,746.4l-3.6,4.6 3.2-1.1 3.6-6.4z"/>
<path fill="#f3ed6d" d="M434.7,748.2l-3.6-1.8 3.2-2.9 3.6,3.6z"/>
<path fill="#f6ee6c" d="M438.3,751.7l-3.6-3.5 3.2-1.1 3.6,7.3zM441.9,753.9l-3.6-2.2 3.2,2.7 3.5,1.8zM445.4,754.1l-3.5-0.2 3.1,2.3 3.6-0.7zM449,754.7l-3.6-0.6 3.2,1.4 3.6-0.6zM452.6,758.7l-3.6-4 3.2,0.2 3.6,2.2zM456.2,756.5l-3.6,2.2 3.2-1.6 3.5-0.8z"/>
<path fill="#f6ee6c" d="M459.7,752.1l-3.5,4.4 3.1-0.2 3.6-2.9z"/>
<path fill="#efed6e" d="M463.3,754.6l-3.6-2.5 3.2,1.3 3.6,1.9z"/>
<path fill="#f6ee6c" d="M466.9,760.8l-3.6-6.2 3.2,0.7 3.6,3.6zM470.5,761.8l-3.6-1 3.2-1.9 3.5-1.1zM474,759.8l-3.5,2 3.1-4 3.6-1.6zM477.6,755.9l-3.6,3.9 3.2-3.6 3.6,0.3z"/>
<path fill="#eeed6e" d="M481.2,756.6l-3.6-0.7 3.2,0.6 3.6,2.5z"/>
<path fill="#edec6f" d="M484.8,763.8l-3.6-7.2 3.2,2.4 3.5,4.5z"/>
<path fill="#f6ee6c" d="M488.3,769.5l-3.5-5.7 3.1-0.3 3.6,3.3zM491.9,771.6l-3.6-2.1 3.2-2.7 3.6,4.8zM495.5,773.1l-3.6-1.5 3.2,0 3.6,2.4zM499.1,774.5l-3.6-1.4 3.2,0.9 3.5-0.1zM502.6,778l-3.5-3.5 3.1-0.6 3.6,5.3zM506.2,774.3l-3.6,3.7 3.2,1.2 3.6,0.8z"/>
<path fill="#f6ee6c" d="M509.8,768.7l-3.6,5.6 3.2,5.7 3.6-5.8zM513.4,768.6l-3.6,0.1 3.2,5.5 3.5,1.1zM517,767.7l-3.6,0.9 3.1,6.7 3.6,0.6zM520.5,768.9l-3.5-1.2 3.1,8.2 3.6-2.1zM524.1,774.6l-3.6-5.7 3.2,4.9 3.6,5zM527.7,775.5l-3.6-0.9 3.2,4.2 3.6-1.3z"/>
<path fill="#f6ee6c" d="M531.3,773.7l-3.6,1.8 3.2,2 3.5-3zM534.8,779l-3.5-5.3 3.1,0.8 3.6,6zM538.4,787.4l-3.6-8.4 3.2,1.5 3.6,3.6zM542,789.2l-3.6-1.8 3.2-3.3 3.6,0.6zM545.6,792.6l-3.6-3.4 3.2-4.5 3.5,2.5zM549.1,794.5l-3.5-1.9 3.1-5.4 3.6,0z"/>
<path fill="#f6ee6c" d="M552.7,789.6l-3.6,4.9 3.2-7.3 3.6-3.3zM556.3,787l-3.6,2.6 3.2-5.7 3.6-0.5zM559.9,788.5l-3.6-1.5 3.2-3.6 3.5,1.3zM563.4,792.8l-3.5-4.3 3.1-3.8 3.6,2zM567,796.3l-3.6-3.5 3.2-6.1 3.6,3.2zM570.6,794.2l-3.6,2.1 3.2-6.4 3.6,1.9z"/>
<path fill="#f6ee6c" d="M574.2,792.8l-3.6,1.4 3.2-2.4 3.5,0.1zM577.7,797.5l-3.5-4.7 3.1-0.9 3.6,1.7zM581.3,799.7l-3.6-2.2 3.2-3.9 3.6,2.7zM584.9,796l-3.6,3.7 3.2-3.4 3.6-1.5zM588.5,797.6l-3.6-1.6 3.2-1.2 3.5-2.5zM592,804.8l-3.5-7.2 3.1-5.3 3.6,2.4z"/>
<path fill="#f6ee6c" d="M595.6,809.2l-3.6-4.4 3.2-10.1 3.6,6zM599.2,805.9l-3.6,3.3 3.2-8.5 3.6,1.7zM602.8,799.2l-3.6,6.7 3.2-3.5 3.6-7.5zM606.4,798.2l-3.6,1 3.2-4.3 3.5-7.2zM609.9,798l-3.5,0.2 3.1-10.5 3.6-1.9zM613.5,795.8l-3.6,2.2 3.2-12.2 3.6,0.2z"/>
<path fill="#f6ee6c" d="M617.1,793.6l-3.6,2.2 3.2-9.8 3.6-0.5z"/>
<path fill="#dde974" d="M620.7,789l-3.6,4.6 3.2-8.1 3.5-5.2z"/>
<path fill="#c3e57f" d="M624.2,785.2l-3.5,3.8 3.1-8.7 3.6-5z"/>
<path fill="#f6ee6c" d="M131.1,700.6l-3.5-12.3 3.1-6.2 3.6,12.7zM134.7,708.3l-3.6-7.7 3.2-5.8 3.6,10.7zM138.3,705.7l-3.6,2.6 3.2-2.8 3.6-3.2zM141.9,701.8l-3.6,3.9 3.2-3.4 3.5-7.7zM145.4,695.3l-3.5,6.5 3.1-7.2 3.6-5.4zM149,687.8l-3.6,7.5 3.2-6.1 3.6-6.4z"/>
<path fill="#f6ee6c" d="M152.6,689.5l-3.6-1.7 3.2-5 3.6,0.7zM156.2,695l-3.6-5.5 3.2-6 3.5,6.7zM159.7,696.1l-3.5-1.1 3.1-4.8 3.6,6.1zM163.3,702.7l-3.6-6.6 3.2,0.2 3.6,4zM166.9,707.7l-3.6-5 3.2-2.4 3.6,2.6zM170.5,702l-3.6,5.7 3.2-4.8 3.5-2.5z"/>
<path fill="#f6ee6c" d="M174,701.4l-3.5,0.6 3.1-1.6 3.6-2zM177.6,706l-3.6-4.6 3.2-3 3.6,0zM181.2,712.3l-3.6-6.3 3.2-7.6 3.6,3.9zM184.8,717.2l-3.6-4.9 3.2-10 3.6,6.8zM188.4,715l-3.6,2.2 3.2-8.1 3.5-0.4zM191.9,710.5l-3.5,4.5 3.1-6.3 3.6-5.1z"/>
<path fill="#f6ee6c" d="M195.5,705.5l-3.6,5 3.2-6.9 3.6-4.6zM199.1,699.3l-3.6,6.2 3.2-6.5 3.6-4.3zM202.7,701.4l-3.6-2.1 3.2-4.6 3.5,1.3zM206.2,711.3l-3.5-9.9 3.1-5.4 3.6,8zM209.8,716.4l-3.6-5.1 3.2-7.3 3.6,3.5zM213.4,718.5l-3.6-2.1 3.2-8.9 3.6-0.7z"/>
<path fill="#f6ee6c" d="M217,719.1l-3.6-0.6 3.2-11.7 3.5,2.8zM220.5,720.6l-3.5-1.5 3.1-9.5 3.6,7.6zM224.1,723.4l-3.6-2.8 3.2-3.4 3.6,4.9zM227.7,725l-3.6-1.6 3.2-1.3 3.6,1.2zM231.3,726.7l-3.6-1.7 3.2-1.7 3.5,2.4zM234.8,725.2l-3.5,1.5 3.1-1 3.6,0z"/>
<path fill="#f6ee6c" d="M238.4,724.9l-3.6,0.3 3.2,0.5 3.6-2zM242,725.2l-3.6-0.3 3.2-1.2 3.6,0zM245.6,723.4l-3.6,1.8 3.2-1.5 3.5,0.7zM249.1,721.6l-3.5,1.8 3.1,1 3.6-0.2zM252.7,723.1l-3.6-1.5 3.2,2.6 3.6,1.2zM256.3,731.5l-3.6-8.4 3.2,2.3 3.6,2.6z"/>
<path fill="#f6ee6c" d="M259.9,735.4l-3.6-3.9 3.2-3.5 3.5,1.2zM263.5,733.9l-3.6,1.5 3.1-6.2 3.6-1.2zM267,731.5l-3.5,2.4 3.1-5.9 3.6-2.5zM270.6,727.7l-3.6,3.8 3.2-6 3.6,1.6zM274.2,726l-3.6,1.7 3.2-0.6 3.6,1.8zM277.8,731.8l-3.6-5.8 3.2,2.9 3.5,2.7z"/>
<path fill="#f6ee6c" d="M281.3,734.8l-3.5-3 3.1-0.2 3.6,1.7zM284.9,734.8l-3.6,0 3.2-1.5 3.6-3.3zM288.5,737.6l-3.6-2.8 3.2-4.8 3.6-2.1zM292.1,733.5l-3.6,4.1 3.2-9.7 3.5-3.7zM295.6,731l-3.5,2.5 3.1-9.3 3.6-4.6zM299.2,740.3l-3.6-9.3 3.2-11.4 3.6,2.9z"/>
<path fill="#f6ee6c" d="M302.8,744.7l-3.6-4.4 3.2-17.8 3.6,4.2zM306.4,745.3l-3.6-0.6 3.2-18 3.5,9.4zM309.9,747.9l-3.5-2.6 3.1-9.2 3.6,8.5zM313.5,744.4l-3.6,3.5 3.2-3.3 3.6,0.7zM317.1,733.6l-3.6,10.8 3.2,0.9 3.6-5.4zM320.7,735l-3.6-1.4 3.2,6.3 3.5-0.9z"/>
<path fill="#f6ee6c" d="M324.2,743.9l-3.5-8.9 3.1,4 3.6,0.7zM327.8,744.5l-3.6-0.6 3.2-4.2 3.6-1.6zM331.4,744.5l-3.6,0 3.2-6.4 3.6-0.1zM335,749.7l-3.6-5.2 3.2-6.5 3.5,2.9zM338.5,751.9l-3.5-2.2 3.1-8.8 3.6,0.4zM342.1,749.9l-3.6,2 3.2-10.6 3.6-1.2z"/>
<path fill="#f6ee6c" d="M345.7,748.2l-3.6,1.7 3.2-9.8 3.6-0.2zM349.3,745l-3.6,3.2 3.2-8.3 3.6-1.1zM352.9,747.1l-3.6-2.1 3.2-6.2 3.5,1.5zM356.4,751.5l-3.5-4.4 3.1-6.8 3.6-0.9zM360,746.7l-3.6,4.8 3.2-12.1 3.6-1zM363.6,742.5l-3.6,4.2 3.2-8.3 3.6,2.8z"/>
<path fill="#f6ee6c" d="M367.2,740.1l-3.6,2.4 3.2-1.3 3.5-3.2zM370.7,739.5l-3.5,0.6 3.1-2.1 3.6-1.7zM374.3,743l-3.6-3.5 3.2-3.2 3.6,5.4zM377.9,747.2l-3.6-4.2 3.2-1.3 3.6,4.7zM381.5,749.1l-3.6-1.9 3.2-0.8 3.5,0.2zM385,750.3l-3.5-1.2 3.1-2.5 3.6,1.2z"/>
<path fill="#f6ee6c" d="M388.6,758.3l-3.6-8 3.2-2.5 3.6,5.5zM392.2,762.2l-3.6-3.9 3.2-5 3.6,1.8zM395.8,754.8l-3.6,7.4 3.2-7.1 3.5-6.6zM399.3,755.7l-3.5-0.9 3.1-6.3 3.6-2.9zM402.9,763l-3.6-7.3 3.2-10.1 3.6,4.1zM406.5,765.8l-3.6-2.8 3.2-13.3 3.6,7.5z"/>
<path fill="#f6ee6c" d="M410.1,763.3l-3.6,2.5 3.2-8.6 3.5,3.9zM413.6,755.7l-3.5,7.6 3.1-2.2 3.6-3.3zM417.2,754.7l-3.6,1 3.2,2.1 3.6-5zM420.8,760.1l-3.6-5.4 3.2-1.9 3.6,1.2zM424.4,759.1l-3.6,1 3.2-6.1 3.5-3zM427.9,755.6l-3.5,3.5 3.1-8.1 3.6-4.6z"/>
<path fill="#f6ee6c" d="M431.5,756.7l-3.6-1.1 3.2-9.2 3.6,1.8zM435.1,754.9l-3.6,1.8 3.2-8.5 3.6,3.5zM438.7,754.2l-3.6,0.7 3.2-3.2 3.6,2.2zM442.3,757.2l-3.6-3 3.2-0.3 3.5,0.2zM445.8,759.2l-3.5-2 3.1-3.1 3.6,0.6zM449.4,757.3l-3.6,1.9 3.2-4.5 3.6,4z"/>
<path fill="#f6ee6c" d="M453,754.1l-3.6,3.2 3.2,1.4 3.6-2.2z"/>
<path fill="#eaec70" d="M456.6,753.6l-3.6,0.5 3.2,2.4 3.5-4.4z"/>
<path fill="#e4eb72" d="M460.1,757.2l-3.5-3.6 3.1-1.5 3.6,2.5z"/>
<path fill="#efed6e" d="M463.7,767.4l-3.6-10.2 3.2-2.6 3.6,6.2z"/>
<path fill="#f6ee6c" d="M467.3,772.3l-3.6-4.9 3.2-6.6 3.6,1zM470.9,770.9l-3.6,1.4 3.2-10.5 3.5-2zM474.4,760.7l-3.5,10.2 3.1-11.1 3.6-3.9z"/>
<path fill="#f0ed6e" d="M478,759.2l-3.6,1.5 3.2-4.8 3.6,0.7z"/>
<path fill="#e7eb71" d="M481.6,763l-3.6-3.8 3.2-2.6 3.6,7.2z"/>
<path fill="#f3ed6d" d="M485.2,765.4l-3.6-2.4 3.2,0.8 3.5,5.7z"/>
<path fill="#f6ee6c" d="M488.7,768.2l-3.5-2.8 3.1,4.1 3.6,2.1zM492.3,774.4l-3.6-6.2 3.2,3.4 3.6,1.5zM495.9,774.9l-3.6-0.5 3.2-1.3 3.6,1.4zM499.5,775.2l-3.6-0.3 3.2-0.4 3.5,3.5zM503,775.4l-3.5-0.2 3.1,2.8 3.6-3.7zM506.6,774.1l-3.6,1.3 3.2-1.1 3.6-5.6z"/>
<path fill="#f6ee6c" d="M510.2,772.5l-3.6,1.6 3.2-5.4 3.6-0.1zM513.8,770.7l-3.6,1.8 3.2-3.9 3.6-0.9z"/>
<path fill="#f4ee6d" d="M517.4,772.8l-3.6-2.1 3.2-3 3.5,1.2z"/>
<path fill="#f6ee6c" d="M520.9,778.3l-3.5-5.5 3.1-3.9 3.6,5.7zM524.5,778.8l-3.6-0.5 3.2-3.7 3.6,0.9zM528.1,777.7l-3.6,1.1 3.2-3.3 3.6-1.8zM531.7,785.6l-3.6-7.9 3.2-4 3.5,5.3zM535.2,795.3l-3.5-9.7 3.1-6.6 3.6,8.4zM538.8,795.9l-3.6-0.6 3.2-7.9 3.6,1.8z"/>
<path fill="#f6ee6c" d="M542.4,799.1l-3.6-3.2 3.2-6.7 3.6,3.4zM546,800.3l-3.6-1.2 3.2-6.5 3.5,1.9zM549.5,797.2l-3.5,3.1 3.1-5.8 3.6-4.9zM553.1,795.7l-3.6,1.5 3.2-7.6 3.6-2.6zM556.7,794.2l-3.6,1.5 3.2-8.7 3.6,1.5zM560.3,794.2l-3.6,0 3.2-5.7 3.5,4.3z"/>
<path fill="#f6ee6c" d="M563.8,796l-3.5-1.8 3.1-1.4 3.6,3.5zM567.4,797.2l-3.6-1.2 3.2,0.3 3.6-2.1zM571,798.4l-3.6-1.2 3.2-3 3.6-1.4zM574.6,801.4l-3.6-3 3.2-5.6 3.5,4.7zM578.1,801.7l-3.5-0.3 3.1-3.9 3.6,2.2zM581.7,800.6l-3.6,1.1 3.2-2 3.6-3.7z"/>
<path fill="#f6ee6c" d="M585.3,804.3l-3.6-3.7 3.2-4.6 3.6,1.6zM588.9,812.4l-3.6-8.1 3.2-6.7 3.5,7.2zM592.4,816.7l-3.5-4.3 3.1-7.6 3.6,4.4zM596,812.4l-3.6,4.3 3.2-7.5 3.6-3.3zM599.6,804.2l-3.6,8.2 3.2-6.5 3.6-6.7zM603.2,805.2l-3.6-1 3.2-5 3.6-1z"/>
<path fill="#f6ee6c" d="M606.8,803.9l-3.6,1.3 3.2-7 3.5-0.2zM610.3,799.1l-3.5,4.8 3.1-5.9 3.6-2.2zM613.9,796.7l-3.6,2.4 3.2-3.3 3.6-2.2z"/>
<path fill="#efed6e" d="M617.5,794.9l-3.6,1.8 3.2-3.1 3.6-4.6z"/>
<path fill="#dde974" d="M621.1,793.4l-3.6,1.5 3.2-5.9 3.5-3.8z"/>
<path fill="#f6ee6c" d="M128,700.6l-3.6-3.7 3.2-8.6 3.5,12.3zM131.5,699.3l-3.5,1.3 3.1,0 3.6,7.7zM135.1,698.6l-3.6,0.7 3.2,9 3.6-2.6zM138.7,700.3l-3.6-1.7 3.2,7.1 3.6-3.9zM142.3,699l-3.6,1.3 3.2,1.5 3.5-6.5zM145.8,694.9l-3.5,4.1 3.1-3.7 3.6-7.5z"/>
<path fill="#f6ee6c" d="M149.4,696.5l-3.6-1.6 3.2-7.1 3.6,1.7zM153,700.5l-3.6-4 3.2-7 3.6,5.5zM156.6,698.4l-3.6,2.1 3.2-5.5 3.5,1.1zM160.1,698.7l-3.5-0.3 3.1-2.3 3.6,6.6zM163.7,697.5l-3.6,1.2 3.2,4 3.6,5zM167.3,701.3l-3.6-3.8 3.2,10.2 3.6-5.7z"/>
<path fill="#f6ee6c" d="M170.9,706.1l-3.6-4.8 3.2,0.7 3.5-0.6zM174.5,710.5l-3.6-4.4 3.1-4.7 3.6,4.6zM178,712.7l-3.5-2.2 3.1-4.5 3.6,6.3zM181.6,712.7l-3.6,0 3.2-0.4 3.6,4.9zM185.2,713.3l-3.6-0.6 3.2,4.5 3.6-2.2zM188.8,711.5l-3.6,1.8 3.2,1.7 3.5-4.5z"/>
<path fill="#f6ee6c" d="M192.3,707.5l-3.5,4 3.1-1 3.6-5zM195.9,706.6l-3.6,0.9 3.2-2 3.6-6.2zM199.5,708.7l-3.6-2.1 3.2-7.3 3.6,2.1zM203.1,709.2l-3.6-0.5 3.2-7.3 3.5,9.9zM206.6,710.8l-3.5-1.6 3.1,2.1 3.6,5.1zM210.2,718.2l-3.6-7.4 3.2,5.6 3.6,2.1z"/>
<path fill="#f6ee6c" d="M213.8,722.3l-3.6-4.1 3.2,0.3 3.6,0.6zM217.4,723.3l-3.6-1 3.2-3.2 3.5,1.5zM220.9,724.7l-3.5-1.4 3.1-2.7 3.6,2.8zM224.5,724.6l-3.6,0.1 3.2-1.3 3.6,1.6zM228.1,723.4l-3.6,1.2 3.2,0.4 3.6,1.7zM231.7,721.2l-3.6,2.2 3.2,3.3 3.5-1.5z"/>
<path fill="#f6ee6c" d="M235.2,724.6l-3.5-3.4 3.1,4 3.6-0.3zM238.8,726.1l-3.6-1.5 3.2,0.3 3.6,0.3zM242.4,721.3l-3.6,4.8 3.2-0.9 3.6-1.8zM246,719.9l-3.6,1.4 3.2,2.1 3.5-1.8zM249.5,726l-3.5-6.1 3.1,1.7 3.6,1.5zM253.1,737.7l-3.6-11.7 3.2-2.9 3.6,8.4z"/>
<path fill="#f6ee6c" d="M256.7,741.1l-3.6-3.4 3.2-6.2 3.6,3.9zM260.3,739.7l-3.6,1.4 3.2-5.7 3.6-1.5zM263.9,740.4l-3.6-0.7 3.2-5.8 3.5-2.4zM267.4,738.5l-3.5,1.9 3.1-8.9 3.6-3.8zM271,734.4l-3.6,4.1 3.2-10.8 3.6-1.7zM274.6,737.1l-3.6-2.7 3.2-8.4 3.6,5.8z"/>
<path fill="#f6ee6c" d="M278.2,735.3l-3.6,1.8 3.2-5.3 3.5,3zM281.7,731l-3.5,4.3 3.1-0.5 3.6,0zM285.3,735l-3.6-4 3.2,3.8 3.6,2.8zM288.9,735.4l-3.6-0.4 3.2,2.6 3.6-4.1zM292.5,737.4l-3.6-2 3.2-1.9 3.5-2.5zM296,746.3l-3.5-8.9 3.1-6.4 3.6,9.3z"/>
<path fill="#f6ee6c" d="M299.6,745.3l-3.6,1 3.2-6 3.6,4.4zM303.2,737.4l-3.6,7.9 3.2-0.6 3.6,0.6zM306.8,734.7l-3.6,2.7 3.2,7.9 3.5,2.6zM310.3,735.6l-3.5-0.9 3.1,13.2 3.6-3.5zM313.9,731.6l-3.6,4 3.2,8.8 3.6-10.8zM317.5,735.8l-3.6-4.2 3.2,2 3.6,1.4z"/>
<path fill="#f6ee6c" d="M321.1,746.6l-3.6-10.8 3.2-0.8 3.5,8.9zM324.6,748.8l-3.5-2.2 3.1-2.7 3.6,0.6zM328.2,747.8l-3.6,1 3.2-4.3 3.6,0zM331.8,750.3l-3.6-2.5 3.2-3.3 3.6,5.2zM335.4,754.1l-3.6-3.8 3.2-0.6 3.5,2.2zM338.9,755.6l-3.5-1.5 3.1-2.2 3.6-2z"/>
<path fill="#f6ee6c" d="M342.5,753.5l-3.6,2.1 3.2-5.7 3.6-1.7zM346.1,750.1l-3.6,3.4 3.2-5.3 3.6-3.2zM349.7,754.4l-3.6-4.3 3.2-5.1 3.6,2.1zM353.3,761.4l-3.6-7 3.2-7.3 3.5,4.4zM356.8,760.3l-3.5,1.1 3.1-9.9 3.6-4.8zM360.4,751.1l-3.6,9.2 3.2-13.6 3.6-4.2z"/>
<path fill="#f6ee6c" d="M364,743.7l-3.6,7.4 3.2-8.6 3.6-2.4zM367.6,745.6l-3.6-1.9 3.2-3.6 3.5-0.6zM371.1,754.8l-3.5-9.2 3.1-6.1 3.6,3.5zM374.7,758.2l-3.6-3.4 3.2-11.8 3.6,4.2zM378.3,750.2l-3.6,8 3.2-11 3.6,1.9zM381.9,739.4l-3.6,10.8 3.2-1.1 3.5,1.2z"/>
<path fill="#dce974" d="M385.4,751.7l-3.5-12.3 3.1,10.9 3.6,8z"/>
<path fill="#f6ee6c" d="M389,764.9l-3.6-13.2 3.2,6.6 3.6,3.9zM392.6,765.5l-3.6-0.6 3.2-2.7 3.6-7.4zM396.2,768.6l-3.6-3.1 3.2-10.7 3.5,0.9zM399.7,770.4l-3.5-1.8 3.1-12.9 3.6,7.3zM403.3,766.7l-3.6,3.7 3.2-7.4 3.6,2.8zM406.9,763.7l-3.6,3 3.2-0.9 3.6-2.5z"/>
<path fill="#f6ee6c" d="M410.5,760.5l-3.6,3.2 3.2-0.4 3.5-7.6zM414,762.2l-3.5-1.7 3.1-4.8 3.6-1zM417.6,764.9l-3.6-2.7 3.2-7.5 3.6,5.4zM421.2,763.4l-3.6,1.5 3.2-4.8 3.6-1zM424.8,764l-3.6-0.6 3.2-4.3 3.5-3.5zM428.4,765.9l-3.6-1.9 3.1-8.4 3.6,1.1z"/>
<path fill="#f6ee6c" d="M431.9,763.1l-3.5,2.8 3.1-9.2 3.6-1.8zM435.5,760.1l-3.6,3 3.2-8.2 3.6-0.7zM439.1,762.7l-3.6-2.6 3.2-5.9 3.6,3zM442.7,764.6l-3.6-1.9 3.2-5.5 3.5,2zM446.2,758.4l-3.5,6.2 3.1-5.4 3.6-1.9z"/>
<path fill="#edec6f" d="M449.8,756.6l-3.6,1.8 3.2-1.1 3.6-3.2z"/>
<path fill="#e3ea72" d="M453.4,757.9l-3.6-1.3 3.2-2.5 3.6-0.5z"/>
<path fill="#e4eb72" d="M457,763.4l-3.6-5.5 3.2-4.3 3.5,3.6z"/>
<path fill="#f6ee6c" d="M460.5,773.9l-3.5-10.5 3.1-6.2 3.6,10.2zM464.1,779.3l-3.6-5.4 3.2-6.5 3.6,4.9zM467.7,778.8l-3.6,0.5 3.2-7 3.6-1.4zM471.3,769.9l-3.6,8.9 3.2-7.9 3.5-10.2zM474.8,765.3l-3.5,4.6 3.1-9.2 3.6-1.5z"/>
<path fill="#efed6e" d="M478.4,765.9l-3.6-0.6 3.2-6.1 3.6,3.8z"/>
<path fill="#eeec6f" d="M482,766.9l-3.6-1 3.2-2.9 3.6,2.4z"/>
<path fill="#efed6e" d="M485.6,771.4l-3.6-4.5 3.2-1.5 3.5,2.8z"/>
<path fill="#f6ee6c" d="M489.1,781.2l-3.5-9.8 3.1-3.2 3.6,6.2zM492.7,781.3l-3.6-0.1 3.2-6.8 3.6,0.5zM496.3,781.4l-3.6-0.1 3.2-6.4 3.6,0.3zM499.9,789.3l-3.6-7.9 3.2-6.2 3.5,0.2zM503.4,791.2l-3.5-1.9 3.1-13.9 3.6-1.3zM507,785.1l-3.6,6.1 3.2-17.1 3.6-1.6z"/>
<path fill="#f6ee6c" d="M510.6,778.9l-3.6,6.2 3.2-12.6 3.6-1.8zM514.2,779.9l-3.6-1 3.2-8.2 3.6,2.1zM517.8,787l-3.6-7.1 3.2-7.1 3.5,5.5zM521.3,788.4l-3.5-1.4 3.1-8.7 3.6,0.5zM524.9,788.9l-3.6-0.5 3.2-9.6 3.6-1.1zM528.5,798.6l-3.6-9.7 3.2-11.2 3.6,7.9z"/>
<path fill="#f6ee6c" d="M532.1,804.9l-3.6-6.3 3.2-13 3.5,9.7zM535.6,805.5l-3.5-0.6 3.1-9.6 3.6,0.6zM539.2,806l-3.6-0.5 3.2-9.6 3.6,3.2zM542.8,805l-3.6,1 3.2-6.9 3.6,1.2zM546.4,802.8l-3.6,2.2 3.2-4.7 3.5-3.1zM549.9,802.7l-3.5,0.1 3.1-5.6 3.6-1.5z"/>
<path fill="#f6ee6c" d="M553.5,799.7l-3.6,3 3.2-7 3.6-1.5zM557.1,796.2l-3.6,3.5 3.2-5.5 3.6,0zM560.7,796.3l-3.6-0.1 3.2-2 3.5,1.8zM564.2,799.8l-3.5-3.5 3.1-0.3 3.6,1.2zM567.8,803.7l-3.6-3.9 3.2-2.6 3.6,1.2zM571.4,802.7l-3.6,1 3.2-5.3 3.6,3z"/>
<path fill="#f6ee6c" d="M575,802.9l-3.6-0.2 3.2-1.3 3.5,0.3zM578.5,803.7l-3.5-0.8 3.1-1.2 3.6-1.1zM582.1,804.5l-3.6-0.8 3.2-3.1 3.6,3.7zM585.7,810.5l-3.6-6 3.2-0.2 3.6,8.1zM589.3,817.1l-3.6-6.6 3.2,1.9 3.5,4.3zM592.8,813.9l-3.5,3.2 3.1-0.4 3.6-4.3z"/>
<path fill="#f6ee6c" d="M596.4,809.6l-3.6,4.3 3.2-1.5 3.6-8.2zM600,809.1l-3.6,0.5 3.2-5.4 3.6,1zM603.6,804.7l-3.6,4.4 3.2-3.9 3.6-1.3zM607.2,800.6l-3.6,4.1 3.2-0.8 3.5-4.8zM610.7,800.5l-3.5,0.1 3.1-1.5 3.6-2.4zM614.3,800.4l-3.6,0.1 3.2-3.8 3.6-1.8z"/>
<path fill="#edec6f" d="M617.9,799.1l-3.6,1.3 3.2-5.5 3.6-1.5z"/>
<path fill="#f6ee6c" d="M124.8,707.5l-3.6-2 3.2-8.6 3.6,3.7zM128.4,706.3l-3.6,1.2 3.2-6.9 3.5-1.3zM131.9,705.5l-3.5,0.8 3.1-7 3.6-0.7zM135.5,704.5l-3.6,1 3.2-6.9 3.6,1.7zM139.1,704.1l-3.6,0.4 3.2-4.2 3.6-1.3zM142.7,705.5l-3.6-1.4 3.2-5.1 3.5-4.1z"/>
<path fill="#f6ee6c" d="M146.2,709.5l-3.5-4 3.1-10.6 3.6,1.6zM149.8,710.9l-3.6-1.4 3.2-13 3.6,4zM153.4,709.1l-3.6,1.8 3.2-10.4 3.6-2.1zM157,711.2l-3.6-2.1 3.2-10.7 3.5,0.3zM160.5,712.9l-3.5-1.7 3.1-12.5 3.6-1.2zM164.1,714.1l-3.6-1.2 3.2-15.4 3.6,3.8z"/>
<path fill="#f6ee6c" d="M167.7,715.5l-3.6-1.4 3.2-12.8 3.6,4.8zM171.3,715l-3.6,0.5 3.2-9.4 3.6,4.4zM174.9,710.5l-3.6,4.5 3.2-4.5 3.5,2.2zM178.4,708.5l-3.5,2 3.1,2.2 3.6,0zM182,712l-3.6-3.5 3.2,4.2 3.6,0.6zM185.6,712.2l-3.6-0.2 3.2,1.3 3.6-1.8z"/>
<path fill="#f6ee6c" d="M189.2,713.6l-3.6-1.4 3.2-0.7 3.5-4zM192.7,718l-3.5-4.4 3.1-6.1 3.6-0.9zM196.3,718.5l-3.6-0.5 3.2-11.4 3.6,2.1zM199.9,716.8l-3.6,1.7 3.2-9.8 3.6,0.5zM203.5,715l-3.6,1.8 3.2-7.6 3.5,1.6zM207,717.3l-3.5-2.3 3.1-4.2 3.6,7.4z"/>
<path fill="#f6ee6c" d="M210.6,721.1l-3.6-3.8 3.2,0.9 3.6,4.1zM214.2,724.5l-3.6-3.4 3.2,1.2 3.6,1zM217.8,729.2l-3.6-4.7 3.2-1.2 3.5,1.4zM221.3,731.2l-3.5-2 3.1-4.5 3.6-0.1zM224.9,726.1l-3.6,5.1 3.2-6.6 3.6-1.2zM228.5,722.3l-3.6,3.8 3.2-2.7 3.6-2.2z"/>
<path fill="#f6ee6c" d="M232.1,727.7l-3.6-5.4 3.2-1.1 3.5,3.4zM235.6,729.5l-3.5-1.8 3.1-3.1 3.6,1.5zM239.2,725.1l-3.6,4.4 3.2-3.4 3.6-4.8zM242.8,727.4l-3.6-2.3 3.2-3.8 3.6-1.4zM246.4,737.6l-3.6-10.2 3.2-7.5 3.5,6.1zM249.9,742.7l-3.5-5.1 3.1-11.6 3.6,11.7z"/>
<path fill="#f6ee6c" d="M253.5,741.7l-3.6,1 3.2-5 3.6,3.4zM257.1,735.3l-3.6,6.4 3.2-0.6 3.6-1.4zM260.7,728.6l-3.6,6.7 3.2,4.4 3.6,0.7zM264.3,736.4l-3.6-7.8 3.2,11.8 3.5-1.9zM267.8,742.4l-3.5-6 3.1,2.1 3.6-4.1zM271.4,744.8l-3.6-2.4 3.2-8 3.6,2.7z"/>
<path fill="#f6ee6c" d="M275,738.8l-3.6,6 3.2-7.7 3.6-1.8zM278.6,730.5l-3.6,8.3 3.2-3.5 3.5-4.3zM282.1,731.5l-3.5-1 3.1,0.5 3.6,4zM285.7,735.4l-3.6-3.9 3.2,3.5 3.6,0.4zM289.3,736.1l-3.6-0.7 3.2,0 3.6,2zM292.9,739l-3.6-2.9 3.2,1.3 3.5,8.9z"/>
<path fill="#f6ee6c" d="M296.4,740.5l-3.5-1.5 3.1,7.3 3.6-1zM300,741.2l-3.6-0.7 3.2,4.8 3.6-7.9zM303.6,745.9l-3.6-4.7 3.2-3.8 3.6-2.7zM307.2,742.2l-3.6,3.7 3.2-11.2 3.5,0.9zM310.7,737.4l-3.5,4.8 3.1-6.6 3.6-4zM314.3,739.1l-3.6-1.7 3.2-5.8 3.6,4.2z"/>
<path fill="#f6ee6c" d="M317.9,742.7l-3.6-3.6 3.2-3.3 3.6,10.8zM321.5,747.5l-3.6-4.8 3.2,3.9 3.5,2.2zM325,746.9l-3.5,0.6 3.1,1.3 3.6-1zM328.6,745.8l-3.6,1.1 3.2,0.9 3.6,2.5zM332.2,754.6l-3.6-8.8 3.2,4.5 3.6,3.8zM335.8,760.4l-3.6-5.8 3.2-0.5 3.5,1.5z"/>
<path fill="#f6ee6c" d="M339.4,755.1l-3.6,5.3 3.1-4.8 3.6-2.1zM342.9,753.3l-3.5,1.8 3.1-1.6 3.6-3.4zM346.5,759.5l-3.6-6.2 3.2-3.2 3.6,4.3zM350.1,761l-3.6-1.5 3.2-5.1 3.6,7zM353.7,760.8l-3.6,0.2 3.2,0.4 3.5-1.1zM357.2,754.5l-3.5,6.3 3.1-0.5 3.6-9.2z"/>
<path fill="#f6ee6c" d="M360.8,746.1l-3.6,8.4 3.2-3.4 3.6-7.4zM364.4,749.9l-3.6-3.8 3.2-2.4 3.6,1.9zM368,761.7l-3.6-11.8 3.2-4.3 3.5,9.2zM371.5,763.4l-3.5-1.7 3.1-6.9 3.6,3.4zM375.1,753.4l-3.6,10 3.2-5.2 3.6-8zM378.7,742l-3.6,11.4 3.2-3.2 3.6-10.8z"/>
<path fill="#d5e876" d="M382.3,751.2l-3.6-9.2 3.2-2.6 3.5,12.3z"/>
<path fill="#f6ee6c" d="M385.8,763.5l-3.5-12.3 3.1,0.5 3.6,13.2zM389.4,769.2l-3.6-5.7 3.2,1.4 3.6,0.6zM393,773.1l-3.6-3.9 3.2-3.7 3.6,3.1zM396.6,770.9l-3.6,2.2 3.2-4.5 3.5,1.8zM400.1,763.2l-3.5,7.7 3.1-0.5 3.6-3.7zM403.7,762.3l-3.6,0.9 3.2,3.5 3.6-3z"/>
<path fill="#f6ee6c" d="M407.3,756.8l-3.6,5.5 3.2,1.4 3.6-3.2zM410.9,752.3l-3.6,4.5 3.2,3.7 3.5,1.7z"/>
<path fill="#e1ea72" d="M414.4,762.8l-3.5-10.5 3.1,9.9 3.6,2.7z"/>
<path fill="#f6ee6c" d="M418,765.6l-3.6-2.8 3.2,2.1 3.6-1.5zM421.6,766.8l-3.6-1.2 3.2-2.2 3.6,0.6zM425.2,768.7l-3.6-1.9 3.2-2.8 3.6,1.9zM428.8,769.3l-3.6-0.6 3.2-2.8 3.5-2.8zM432.3,767.2l-3.5,2.1 3.1-6.2 3.6-3zM435.9,767.1l-3.6,0.1 3.2-7.1 3.6,2.6z"/>
<path fill="#f6ee6c" d="M439.5,766.9l-3.6,0.2 3.2-4.4 3.6,1.9zM443.1,762.6l-3.6,4.3 3.2-2.3 3.5-6.2z"/>
<path fill="#edec6f" d="M446.6,761.3l-3.5,1.3 3.1-4.2 3.6-1.8z"/>
<path fill="#e5eb71" d="M450.2,763.1l-3.6-1.8 3.2-4.7 3.6,1.3z"/>
<path fill="#e9ec70" d="M453.8,768.3l-3.6-5.2 3.2-5.2 3.6,5.5z"/>
<path fill="#f6ee6c" d="M457.4,772.6l-3.6-4.3 3.2-4.9 3.5,10.5zM460.9,775.2l-3.5-2.6 3.1,1.3 3.6,5.4zM464.5,778.5l-3.6-3.3 3.2,4.1 3.6-0.5zM468.1,779.5l-3.6-1 3.2,0.3 3.6-8.9zM471.7,775.1l-3.6,4.4 3.2-9.6 3.5-4.6zM475.2,771.3l-3.5,3.8 3.1-9.8 3.6,0.6z"/>
<path fill="#f3ed6d" d="M478.8,772.4l-3.6-1.1 3.2-5.4 3.6,1z"/>
<path fill="#f4ee6d" d="M482.4,778l-3.6-5.6 3.2-5.5 3.6,4.5z"/>
<path fill="#f6ee6c" d="M486,785.4l-3.6-7.4 3.2-6.6 3.5,9.8zM489.5,788.1l-3.5-2.7 3.1-4.2 3.6,0.1zM493.1,791.3l-3.6-3.2 3.2-6.8 3.6,0.1zM496.7,797.6l-3.6-6.3 3.2-9.9 3.6,7.9zM500.3,799.8l-3.6-2.2 3.2-8.3 3.5,1.9zM503.8,796.4l-3.5,3.4 3.1-8.6 3.6-6.1z"/>
<path fill="#f6ee6c" d="M507.4,788.8l-3.6,7.6 3.2-11.3 3.6-6.2zM511,786.7l-3.6,2.1 3.2-9.9 3.6,1zM514.6,792.5l-3.6-5.8 3.2-6.8 3.6,7.1zM518.2,796.9l-3.6-4.4 3.2-5.5 3.5,1.4zM521.7,802.2l-3.5-5.3 3.1-8.5 3.6,0.5zM525.3,808.6l-3.6-6.4 3.2-13.3 3.6,9.7z"/>
<path fill="#f6ee6c" d="M528.9,811.3l-3.6-2.7 3.2-10 3.6,6.3zM532.5,812.5l-3.6-1.2 3.2-6.4 3.5,0.6zM536,812.6l-3.5-0.1 3.1-7 3.6,0.5zM539.6,811.6l-3.6,1 3.2-6.6 3.6-1zM543.2,809l-3.6,2.6 3.2-6.6 3.6-2.2zM546.8,808.3l-3.6,0.7 3.2-6.2 3.5-0.1z"/>
<path fill="#f6ee6c" d="M550.3,807.5l-3.5,0.8 3.1-5.6 3.6-3zM553.9,803.9l-3.6,3.6 3.2-7.8 3.6-3.5zM557.5,802.5l-3.6,1.4 3.2-7.7 3.6,0.1zM561.1,807.2l-3.6-4.7 3.2-6.2 3.5,3.5zM564.6,814.4l-3.5-7.2 3.1-7.4 3.6,3.9zM568.2,815.2l-3.6-0.8 3.2-10.7 3.6-1z"/>
<path fill="#f6ee6c" d="M571.8,815.4l-3.6-0.2 3.2-12.5 3.6,0.2zM575.4,813l-3.6,2.4 3.2-12.5 3.5,0.8zM578.9,810.8l-3.5,2.2 3.1-9.3 3.6,0.8zM582.5,814.3l-3.6-3.5 3.2-6.3 3.6,6zM586.1,817.7l-3.6-3.4 3.2-3.8 3.6,6.6zM589.7,817.6l-3.6,0.1 3.2-0.6 3.5-3.2z"/>
<path fill="#f6ee6c" d="M593.3,818.1l-3.6-0.5 3.1-3.7 3.6-4.3zM596.8,817.2l-3.5,0.9 3.1-8.5 3.6-0.5zM600.4,813.4l-3.6,3.8 3.2-8.1 3.6-4.4zM604,810.5l-3.6,2.9 3.2-8.7 3.6-4.1zM607.6,809.8l-3.6,0.7 3.2-9.9 3.5-0.1zM611.1,808.2l-3.5,1.6 3.1-9.3 3.6-0.1z"/>
<path fill="#f3ed6d" d="M614.7,804.8l-3.6,3.4 3.2-7.8 3.6-1.3z"/>
<path fill="#f6ee6c" d="M121.6,714.1l-3.6-2.1 3.2-6.5 3.6,2zM125.2,712.8l-3.6,1.3 3.2-6.6 3.6-1.2zM128.8,711l-3.6,1.8 3.2-6.5 3.5-0.8zM132.3,713.6l-3.5-2.6 3.1-5.5 3.6-1zM135.9,713.8l-3.6-0.2 3.2-9.1 3.6-0.4zM139.5,713.2l-3.6,0.6 3.2-9.7 3.6,1.4z"/>
<path fill="#f6ee6c" d="M143.1,718.8l-3.6-5.6 3.2-7.7 3.5,4zM146.6,721.1l-3.5-2.3 3.1-9.3 3.6,1.4zM150.2,719.1l-3.6,2 3.2-10.2 3.6-1.8zM153.8,719.6l-3.6-0.5 3.2-10 3.6,2.1zM157.4,719.5l-3.6,0.1 3.2-8.4 3.5,1.7zM160.9,722.2l-3.5-2.7 3.1-6.6 3.6,1.2z"/>
<path fill="#f6ee6c" d="M164.5,725l-3.6-2.8 3.2-8.1 3.6,1.4zM168.1,719.8l-3.6,5.2 3.2-9.5 3.6-0.5zM171.7,709.6l-3.6,10.2 3.2-4.8 3.6-4.5zM175.3,712.1l-3.6-2.5 3.2,0.9 3.5-2zM178.8,716.1l-3.5-4 3.1-3.6 3.6,3.5zM182.4,718.8l-3.6-2.7 3.2-4.1 3.6,0.2z"/>
<path fill="#f6ee6c" d="M186,727l-3.6-8.2 3.2-6.6 3.6,1.4zM189.6,729.7l-3.6-2.7 3.2-13.4 3.5,4.4zM193.1,728.2l-3.5,1.5 3.1-11.7 3.6,0.5zM196.7,731.2l-3.6-3 3.2-9.7 3.6-1.7zM200.3,727.9l-3.6,3.3 3.2-14.4 3.6-1.8zM203.9,722.5l-3.6,5.4 3.2-12.9 3.5,2.3z"/>
<path fill="#f6ee6c" d="M207.4,726l-3.5-3.5 3.1-5.2 3.6,3.8zM211,731.1l-3.6-5.1 3.2-4.9 3.6,3.4zM214.6,736.1l-3.6-5 3.2-6.6 3.6,4.7zM218.2,738.4l-3.6-2.3 3.2-6.9 3.5,2zM221.7,730.7l-3.5,7.7 3.1-7.2 3.6-5.1zM225.3,725.2l-3.6,5.5 3.2-4.6 3.6-3.8z"/>
<path fill="#f6ee6c" d="M228.9,731.5l-3.6-6.3 3.2-2.9 3.6,5.4zM232.5,735.9l-3.6-4.4 3.2-3.8 3.5,1.8zM236,735.2l-3.5,0.7 3.1-6.4 3.6-4.4zM239.6,740.4l-3.6-5.2 3.2-10.1 3.6,2.3zM243.2,747l-3.6-6.6 3.2-13 3.6,10.2zM246.8,746.3l-3.6,0.7 3.2-9.4 3.5,5.1z"/>
<path fill="#f6ee6c" d="M250.3,744.2l-3.5,2.1 3.1-3.6 3.6-1zM253.9,745.7l-3.6-1.5 3.2-2.5 3.6-6.4zM257.5,744l-3.6,1.7 3.2-10.4 3.6-6.7zM261.1,741.7l-3.6,2.3 3.2-15.4 3.6,7.8zM264.7,745.3l-3.6-3.6 3.2-5.3 3.5,6zM268.2,747.4l-3.5-2.1 3.1-2.9 3.6,2.4z"/>
<path fill="#f6ee6c" d="M271.8,740.6l-3.6,6.8 3.2-2.6 3.6-6zM275.4,733.8l-3.6,6.8 3.2-1.8 3.6-8.3zM279,733.9l-3.6-0.1 3.2-3.3 3.5,1zM282.5,733l-3.5,0.9 3.1-2.4 3.6,3.9zM286.1,722.8l-3.6,10.2 3.2,2.4 3.6,0.7z"/>
<path fill="#c7e67d" d="M289.7,729.9l-3.6-7.1 3.2,13.3 3.6,2.9z"/>
<path fill="#e3ea72" d="M293.3,742.2l-3.6-12.3 3.2,9.1 3.5,1.5z"/>
<path fill="#f6ee6c" d="M296.8,749.8l-3.5-7.6 3.1-1.7 3.6,0.7zM300.4,755.4l-3.6-5.6 3.2-8.6 3.6,4.7zM304,752.1l-3.6,3.3 3.2-9.5 3.6-3.7zM307.6,748.3l-3.6,3.8 3.2-9.9 3.5-4.8zM311.1,748.9l-3.5-0.6 3.1-10.9 3.6,1.7zM314.7,746l-3.6,2.9 3.2-9.8 3.6,3.6z"/>
<path fill="#f6ee6c" d="M318.3,746.6l-3.6-0.6 3.2-3.3 3.6,4.8zM321.9,748.7l-3.6-2.1 3.2,0.9 3.5-0.6zM325.4,751.4l-3.5-2.7 3.1-1.8 3.6-1.1zM329,761.2l-3.6-9.8 3.2-5.6 3.6,8.8zM332.6,765.5l-3.6-4.3 3.2-6.6 3.6,5.8zM336.2,759.3l-3.6,6.2 3.2-5.1 3.6-5.3z"/>
<path fill="#f6ee6c" d="M339.8,759.9l-3.6-0.6 3.2-4.2 3.5-1.8zM343.3,767.8l-3.5-7.9 3.1-6.6 3.6,6.2zM346.9,767.5l-3.6,0.3 3.2-8.3 3.6,1.5zM350.5,766.5l-3.6,1 3.2-6.5 3.6-0.2zM354.1,763.5l-3.6,3 3.2-5.7 3.5-6.3zM357.6,756.7l-3.5,6.8 3.1-9 3.6-8.4z"/>
<path fill="#f6ee6c" d="M361.2,760.9l-3.6-4.2 3.2-10.6 3.6,3.8zM364.8,766.6l-3.6-5.7 3.2-11 3.6,11.8zM368.4,767l-3.6-0.4 3.2-4.9 3.5,1.7zM371.9,767.5l-3.5-0.5 3.1-3.6 3.6-10zM375.5,766.9l-3.6,0.6 3.2-14.1 3.6-11.4zM379.1,767l-3.6-0.1 3.2-24.9 3.6,9.2z"/>
<path fill="#f6ee6c" d="M382.7,767.2l-3.6-0.2 3.2-15.8 3.5,12.3zM386.2,767.4l-3.5-0.2 3.1-3.7 3.6,5.7zM389.8,772l-3.6-4.6 3.2,1.8 3.6,3.9zM393.4,775.4l-3.6-3.4 3.2,1.1 3.6-2.2zM397,770.2l-3.6,5.2 3.2-4.5 3.5-7.7zM400.5,768.2l-3.5,2 3.1-7 3.6-0.9z"/>
<path fill="#f6ee6c" d="M404.1,770.8l-3.6-2.6 3.2-5.9 3.6-5.5zM407.7,776.1l-3.6-5.3 3.2-14 3.6-4.5zM411.3,780.4l-3.6-4.3 3.2-23.8 3.5,10.5zM414.8,777.1l-3.5,3.3 3.1-17.6 3.6,2.8zM418.4,773.4l-3.6,3.7 3.2-11.5 3.6,1.2zM422,775.4l-3.6-2 3.2-6.6 3.6,1.9z"/>
<path fill="#f6ee6c" d="M425.6,780.6l-3.6-5.2 3.2-6.7 3.6,0.6zM429.2,779l-3.6,1.6 3.2-11.3 3.5-2.1zM432.7,775.8l-3.5,3.2 3.1-11.8 3.6-0.1zM436.3,775l-3.6,0.8 3.2-8.7 3.6-0.2zM439.9,771.2l-3.6,3.8 3.2-8.1 3.6-4.3z"/>
<path fill="#edec6f" d="M443.5,768.6l-3.6,2.6 3.2-8.6 3.5-1.3z"/>
<path fill="#e5eb71" d="M447,769.3l-3.5-0.7 3.1-7.3 3.6,1.8z"/>
<path fill="#e9ec70" d="M450.6,760.1l-3.6,9.2 3.2-6.2 3.6,5.2z"/>
<path fill="#f6ee6c" d="M454.2,750.9l-3.6,9.2 3.2,8.2 3.6,4.3zM457.8,744.3l-3.6,6.6 3.2,21.7 3.5,2.6zM461.3,756.6l-3.5-12.3 3.1,30.9 3.6,3.3zM464.9,768.9l-3.6-12.3 3.2,21.9 3.6,1zM468.5,779.8l-3.6-10.9 3.2,10.6 3.6-4.4zM472.1,766l-3.6,13.8 3.2-4.7 3.5-3.8z"/>
<path fill="#f3ed6d" d="M475.6,752.3l-3.5,13.7 3.1,5.3 3.6,1.1z"/>
<path fill="#f4ee6d" d="M479.2,755.1l-3.6-2.8 3.2,20.1 3.6,5.6z"/>
<path fill="#f6ee6c" d="M482.8,778.6l-3.6-23.5 3.2,22.9 3.6,7.4zM486.4,771.6l-3.6,7 3.2,6.8 3.5,2.7zM489.9,758.5l-3.5,13.1 3.1,16.5 3.6,3.2zM493.5,771.8l-3.6-13.3 3.2,32.8 3.6,6.3zM497.1,782.2l-3.6-10.4 3.2,25.8 3.6,2.2zM500.7,770.8l-3.6,11.4 3.2,17.6 3.5-3.4z"/>
<path fill="#f6ee6c" d="M504.3,766.8l-3.6,4 3.1,25.6 3.6-7.6zM507.8,772.8l-3.5-6 3.1,22 3.6-2.1zM511.4,774l-3.6-1.2 3.2,13.9 3.6,5.8zM515,773.5l-3.6,0.5 3.2,18.5 3.6,4.4zM518.6,772.8l-3.6,0.7 3.2,23.4 3.5,5.3z"/>
<path fill="#b8e383" d="M522.1,813.8l-3.5-41 3.1,29.4 3.6,6.4z"/>
<path fill="#f6ee6c" d="M525.7,815.5l-3.6-1.7 3.2-5.2 3.6,2.7zM529.3,816.7l-3.6-1.2 3.2-4.2 3.6,1.2zM532.9,816.1l-3.6,0.6 3.2-4.2 3.5,0.1zM536.4,814.9l-3.5,1.2 3.1-3.5 3.6-1zM540,813.5l-3.6,1.4 3.2-3.3 3.6-2.6zM543.6,813.3l-3.6,0.2 3.2-4.5 3.6-0.7z"/>
<path fill="#f6ee6c" d="M547.2,812.2l-3.6,1.1 3.2-5 3.5-0.8zM550.7,810.8l-3.5,1.4 3.1-4.7 3.6-3.6zM554.3,811.8l-3.6-1 3.2-6.9 3.6-1.4zM557.9,816.4l-3.6-4.6 3.2-9.3 3.6,4.7zM561.5,822.4l-3.6-6 3.2-9.2 3.5,7.2zM565,824.5l-3.5-2.1 3.1-8 3.6,0.8z"/>
<path fill="#f6ee6c" d="M568.6,823l-3.6,1.5 3.2-9.3 3.6,0.2zM572.2,820.6l-3.6,2.4 3.2-7.6 3.6-2.4zM575.8,820.2l-3.6,0.4 3.2-7.6 3.5-2.2zM579.3,819.5l-3.5,0.7 3.1-9.4 3.6,3.5zM582.9,821l-3.6-1.5 3.2-5.2 3.6,3.4zM586.5,823l-3.6-2 3.2-3.3 3.6-0.1z"/>
<path fill="#f6ee6c" d="M590.1,822.6l-3.6,0.4 3.2-5.4 3.6,0.5zM593.7,821.6l-3.6,1 3.2-4.5 3.5-0.9zM597.2,817.8l-3.5,3.8 3.1-4.4 3.6-3.8zM600.8,815.9l-3.6,1.9 3.2-4.4 3.6-2.9zM604.4,816l-3.6-0.1 3.2-5.4 3.6-0.7zM608,812.6l-3.6,3.4 3.2-6.2 3.5-1.6z"/>
<path fill="#f6ee6c" d="M611.5,808.1l-3.5,4.5 3.1-4.4 3.6-3.4z"/>
<path fill="#f6ee6c" d="M118.4,713.6l-3.5,0.2 3.1-1.8 3.6,2.1zM122,708.6l-3.6,5 3.2,0.5 3.6-1.3zM125.6,707.5l-3.6,1.1 3.2,4.2 3.6-1.8zM129.2,715.1l-3.6-7.6 3.2,3.5 3.5,2.6zM132.7,720.9l-3.5-5.8 3.1-1.5 3.6,0.2zM136.3,718l-3.6,2.9 3.2-7.1 3.6-0.6z"/>
<path fill="#f6ee6c" d="M139.9,720.1l-3.6-2.1 3.2-4.8 3.6,5.6zM143.5,726l-3.6-5.9 3.2-1.3 3.5,2.3zM147,725.3l-3.5,0.7 3.1-4.9 3.6-2zM150.6,723.9l-3.6,1.4 3.2-6.2 3.6,0.5zM154.2,724.5l-3.6-0.6 3.2-4.3 3.6-0.1zM157.8,725.5l-3.6-1 3.2-5 3.5,2.7z"/>
<path fill="#f6ee6c" d="M161.3,724.6l-3.5,0.9 3.1-3.3 3.6,2.8zM164.9,721.1l-3.6,3.5 3.2,0.4 3.6-5.2zM168.5,719.8l-3.6,1.3 3.2-1.3 3.6-10.2zM172.1,718l-3.6,1.8 3.2-10.2 3.6,2.5zM175.7,714.9l-3.6,3.1 3.2-5.9 3.5,4zM179.2,718.4l-3.5-3.5 3.1,1.2 3.6,2.7z"/>
<path fill="#f6ee6c" d="M182.8,725.3l-3.6-6.9 3.2,0.4 3.6,8.2zM186.4,724.2l-3.6,1.1 3.2,1.7 3.6,2.7zM190,726.1l-3.6-1.9 3.2,5.5 3.5-1.5zM193.5,732l-3.5-5.9 3.1,2.1 3.6,3zM197.1,728.1l-3.6,3.9 3.2-0.8 3.6-3.3zM200.7,722.5l-3.6,5.6 3.2-0.2 3.6-5.4z"/>
<path fill="#f6ee6c" d="M204.3,723l-3.6-0.5 3.2,0 3.5,3.5zM207.8,722.7l-3.5,0.3 3.1,3 3.6,5.1zM211.4,733.7l-3.6-11 3.2,8.4 3.6,5zM215,742.6l-3.6-8.9 3.2,2.4 3.6,2.3zM218.6,741.2l-3.6,1.4 3.2-4.2 3.5-7.7zM222.1,737.2l-3.5,4 3.1-10.5 3.6-5.5z"/>
<path fill="#f6ee6c" d="M225.7,741.7l-3.6-4.5 3.2-12 3.6,6.3zM229.3,745.8l-3.6-4.1 3.2-10.2 3.6,4.4zM232.9,745.4l-3.6,0.4 3.2-9.9 3.5-0.7zM236.4,748.8l-3.5-3.4 3.1-10.2 3.6,5.2zM240,752.3l-3.6-3.5 3.2-8.4 3.6,6.6zM243.6,750.9l-3.6,1.4 3.2-5.3 3.6-0.7z"/>
<path fill="#f6ee6c" d="M247.2,748.1l-3.6,2.8 3.2-4.6 3.5-2.1zM250.8,744.6l-3.6,3.5 3.1-3.9 3.6,1.5zM254.3,738.4l-3.5,6.2 3.1,1.1 3.6-1.7zM257.9,739.5l-3.6-1.1 3.2,5.6 3.6-2.3zM261.5,748.2l-3.6-8.7 3.2,2.2 3.6,3.6zM265.1,751.3l-3.6-3.1 3.2-2.9 3.5,2.1z"/>
<path fill="#f6ee6c" d="M268.6,750.1l-3.5,1.2 3.1-3.9 3.6-6.8zM272.2,750.1l-3.6,0 3.2-9.5 3.6-6.8zM275.8,750.5l-3.6-0.4 3.2-16.3 3.6,0.1zM279.4,752.2l-3.6-1.7 3.2-16.6 3.5-0.9zM282.9,752.1l-3.5,0.1 3.1-19.2 3.6-10.2zM286.5,753.2l-3.6-1.1 3.2-29.3 3.6,7.1z"/>
<path fill="#f6ee6c" d="M290.1,756.9l-3.6-3.7 3.2-23.3 3.6,12.3zM293.7,761.7l-3.6-4.8 3.2-14.7 3.5,7.6zM297.2,764.2l-3.5-2.5 3.1-11.9 3.6,5.6zM300.8,757.7l-3.6,6.5 3.2-8.8 3.6-3.3zM304.4,753.8l-3.6,3.9 3.2-5.6 3.6-3.8zM308,756.5l-3.6-2.7 3.2-5.5 3.5,0.6z"/>
<path fill="#f6ee6c" d="M311.5,753.3l-3.5,3.2 3.1-7.6 3.6-2.9zM315.1,754.1l-3.6-0.8 3.2-7.3 3.6,0.6zM318.7,759.9l-3.6-5.8 3.2-7.5 3.6,2.1zM322.3,760.4l-3.6-0.5 3.2-11.2 3.5,2.7zM325.8,758.6l-3.5,1.8 3.1-9 3.6,9.8zM329.4,760.1l-3.6-1.5 3.2,2.6 3.6,4.3z"/>
<path fill="#f6ee6c" d="M333,760.7l-3.6-0.6 3.2,5.4 3.6-6.2zM336.6,762.4l-3.6-1.7 3.2-1.4 3.6,0.6zM340.2,768.7l-3.6-6.3 3.2-2.5 3.5,7.9zM343.7,770.9l-3.5-2.2 3.1-0.9 3.6-0.3zM347.3,772.7l-3.6-1.8 3.2-3.4 3.6-1zM350.9,774.8l-3.6-2.1 3.2-6.2 3.6-3z"/>
<path fill="#f6ee6c" d="M354.5,773.4l-3.6,1.4 3.2-11.3 3.5-6.8zM358,772.4l-3.5,1 3.1-16.7 3.6,4.2zM361.6,772.2l-3.6,0.2 3.2-11.5 3.6,5.7zM365.2,773.4l-3.6-1.2 3.2-5.6 3.6,0.4zM368.8,772.4l-3.6,1 3.2-6.4 3.5,0.5zM372.3,770.7l-3.5,1.7 3.1-4.9 3.6-0.6z"/>
<path fill="#f6ee6c" d="M375.9,775.4l-3.6-4.7 3.2-3.8 3.6,0.1zM379.5,773.2l-3.6,2.2 3.2-8.4 3.6,0.2zM383.1,766.5l-3.6,6.7 3.2-6 3.5,0.2zM386.6,769.5l-3.5-3 3.1,0.9 3.6,4.6zM390.2,775l-3.6-5.5 3.2,2.5 3.6,3.4zM393.8,772.1l-3.6,2.9 3.2,0.4 3.6-5.2z"/>
<path fill="#f6ee6c" d="M397.4,768.5l-3.6,3.6 3.2-1.9 3.5-2zM400.9,771.6l-3.5-3.1 3.1-0.3 3.6,2.6zM404.5,777.9l-3.6-6.3 3.2-0.8 3.6,5.3zM408.1,781.3l-3.6-3.4 3.2-1.8 3.6,4.3zM411.7,776.8l-3.6,4.5 3.2-0.9 3.5-3.3zM415.2,766.9l-3.5,9.9 3.1,0.3 3.6-3.7z"/>
<path fill="#f0ed6e" d="M418.8,773.5l-3.6-6.6 3.2,6.5 3.6,2z"/>
<path fill="#f6ee6c" d="M422.4,786.4l-3.6-12.9 3.2,1.9 3.6,5.2zM426,788.6l-3.6-2.2 3.2-5.8 3.6-1.6zM429.6,783.5l-3.6,5.1 3.2-9.6 3.5-3.2zM433.1,781.7l-3.5,1.8 3.1-7.7 3.6-0.8zM436.7,778l-3.6,3.7 3.2-6.7 3.6-3.8zM440.3,774.1l-3.6,3.9 3.2-6.8 3.6-2.6z"/>
<path fill="#f1ed6e" d="M443.9,765.3l-3.6,8.8 3.2-5.5 3.5,0.7zM447.4,749.5l-3.5,15.8 3.1,4 3.6-9.2z"/>
<path fill="#c6e57d" d="M451,733.6l-3.6,15.9 3.2,10.6 3.6-9.2z"/>
<path fill="#99df9b" d="M454.6,719.8l-3.6,13.8 3.2,17.3 3.6-6.6z"/>
<path fill="#7adbc0" d="M458.2,742l-3.6-22.2 3.2,24.5 3.5,12.3z"/>
<path fill="#aae18a" d="M461.7,761.9l-3.5-19.9 3.1,14.6 3.6,12.3z"/>
<path fill="#deea73" d="M465.3,779.6l-3.6-17.7 3.2,7 3.6,10.9z"/>
<path fill="#f6ee6c" d="M468.9,756.1l-3.6,23.5 3.2,0.2 3.6-13.8z"/>
<path fill="#cbe67b" d="M472.5,732.7l-3.6,23.4 3.2,9.9 3.5-13.7z"/>
<path fill="#8addac" d="M476,736.8l-3.5-4.1 3.1,19.6 3.6,2.8z"/>
<path fill="#92dea2" d="M479.6,775.4l-3.6-38.6 3.2,18.3 3.6,23.5z"/>
<path fill="#f5ee6c" d="M483.2,763.2l-3.6,12.2 3.2,3.2 3.6-7z"/>
<path fill="#d5e876" d="M486.8,740.4l-3.6,22.8 3.2,8.4 3.5-13.1z"/>
<path fill="#96de9d" d="M490.3,762.4l-3.5-22 3.1,18.1 3.6,13.3z"/>
<path fill="#cfe779" d="M493.9,779.2l-3.6-16.8 3.2,9.4 3.6,10.4z"/>
<path fill="#f6ee6c" d="M497.5,759.7l-3.6,19.5 3.2,3 3.6-11.4z"/>
<path fill="#c2e57f" d="M501.1,748.8l-3.6,10.9 3.2,11.1 3.6-4z"/>
<path fill="#ace189" d="M504.7,762l-3.6-13.2 3.2,18 3.5,6z"/>
<path fill="#c4e57e" d="M508.2,763.3l-3.5-1.3 3.1,10.8 3.6,1.2z"/>
<path fill="#c6e57d" d="M511.8,761.9l-3.6,1.4 3.2,10.7 3.6-0.5z"/>
<path fill="#bfe480" d="M515.4,760.2l-3.6,1.7 3.2,11.6 3.6-0.7z"/>
<path fill="#70dacb" d="M519,818.4l-3.6-58.2 3.2,12.6 3.5,41z"/>
<path fill="#f6ee6c" d="M522.5,819.7l-3.5-1.3 3.1-4.6 3.6,1.7zM526.1,820.9l-3.6-1.2 3.2-4.2 3.6,1.2zM529.7,820.5l-3.6,0.4 3.2-4.2 3.6-0.6zM533.3,817.8l-3.6,2.7 3.2-4.4 3.5-1.2zM536.8,817.4l-3.5,0.4 3.1-2.9 3.6-1.4zM540.4,815.2l-3.6,2.2 3.2-3.9 3.6-0.2z"/>
<path fill="#f6ee6c" d="M544,812.8l-3.6,2.4 3.2-1.9 3.6-1.1zM547.6,813.7l-3.6-0.9 3.2-0.6 3.5-1.4zM551.1,818.5l-3.5-4.8 3.1-2.9 3.6,1zM554.7,823.1l-3.6-4.6 3.2-6.7 3.6,4.6zM558.3,826.2l-3.6-3.1 3.2-6.7 3.6,6zM561.9,827.9l-3.6-1.7 3.2-3.8 3.5,2.1z"/>
<path fill="#f6ee6c" d="M565.4,826.1l-3.5,1.8 3.1-3.4 3.6-1.5zM569,826.8l-3.6-0.7 3.2-3.1 3.6-2.4zM572.6,829l-3.6-2.2 3.2-6.2 3.6-0.4zM576.2,825.7l-3.6,3.3 3.2-8.8 3.5-0.7zM579.7,824.7l-3.5,1 3.1-6.2 3.6,1.5zM583.3,825l-3.6-0.3 3.2-3.7 3.6,2z"/>
<path fill="#f6ee6c" d="M586.9,825.1l-3.6-0.1 3.2-2 3.6-0.4zM590.5,824.2l-3.6,0.9 3.2-2.5 3.6-1zM594.1,815.8l-3.6,8.4 3.2-2.6 3.5-3.8zM597.6,813.2l-3.5,2.6 3.1,2 3.6-1.9zM601.2,817.9l-3.6-4.7 3.2,2.7 3.6,0.1zM604.8,817.3l-3.6,0.6 3.2-1.9 3.6-3.4z"/>
<path fill="#f6ee6c" d="M608.4,813.7l-3.6,3.6 3.2-4.7 3.5-4.5z"/>
<path fill="#f6ee6c" d="M115.3,713.5l-3.6-1.7 3.2,2 3.5-0.2zM118.8,708.8l-3.5,4.7 3.1,0.1 3.6-5zM122.4,705.8l-3.6,3 3.2-0.2 3.6-1.1z"/>
<path fill="#f5ee6c" d="M126,709.6l-3.6-3.8 3.2,1.7 3.6,7.6z"/>
<path fill="#f6ee6c" d="M129.6,720.8l-3.6-11.2 3.2,5.5 3.5,5.8zM133.1,720.8l-3.5,0 3.1,0.1 3.6-2.9zM136.7,718.9l-3.6,1.9 3.2-2.8 3.6,2.1zM140.3,726.2l-3.6-7.3 3.2,1.2 3.6,5.9zM143.9,726.5l-3.6-0.3 3.2-0.2 3.5-0.7zM147.4,725.1l-3.5,1.4 3.1-1.2 3.6-1.4z"/>
<path fill="#f6ee6c" d="M151,728.9l-3.6-3.8 3.2-1.2 3.6,0.6zM154.6,730.7l-3.6-1.8 3.2-4.4 3.6,1zM158.2,726.5l-3.6,4.2 3.2-5.2 3.5-0.9zM161.8,720.3l-3.6,6.2 3.1-1.9 3.6-3.5zM165.3,722.6l-3.5-2.3 3.1,0.8 3.6-1.3zM168.9,725l-3.6-2.4 3.2-2.8 3.6-1.8z"/>
<path fill="#f6ee6c" d="M172.5,720.5l-3.6,4.5 3.2-7 3.6-3.1zM176.1,724.4l-3.6-3.9 3.2-5.6 3.5,3.5zM179.6,729.2l-3.5-4.8 3.1-6 3.6,6.9zM183.2,723l-3.6,6.2 3.2-3.9 3.6-1.1zM186.8,723.1l-3.6-0.1 3.2,1.2 3.6,1.9zM190.4,728l-3.6-4.9 3.2,3 3.5,5.9z"/>
<path fill="#f6ee6c" d="M193.9,730.9l-3.5-2.9 3.1,4 3.6-3.9zM197.5,731.2l-3.6-0.3 3.2-2.8 3.6-5.6zM201.1,737.5l-3.6-6.3 3.2-8.7 3.6,0.5zM204.7,744.8l-3.6-7.3 3.2-14.5 3.5-0.3zM208.2,747.4l-3.5-2.6 3.1-22.1 3.6,11zM211.8,748.7l-3.6-1.3 3.2-13.7 3.6,8.9z"/>
<path fill="#f6ee6c" d="M215.4,748.1l-3.6,0.6 3.2-6.1 3.6-1.4zM219,747.3l-3.6,0.8 3.2-6.9 3.5-4zM222.5,748.3l-3.5-1 3.1-10.1 3.6,4.5zM226.1,749.8l-3.6-1.5 3.2-6.6 3.6,4.1zM229.7,752l-3.6-2.2 3.2-4 3.6-0.4zM233.3,753.3l-3.6-1.3 3.2-6.6 3.5,3.4z"/>
<path fill="#f6ee6c" d="M236.8,751.9l-3.5,1.4 3.1-4.5 3.6,3.5zM240.4,750.7l-3.6,1.2 3.2,0.4 3.6-1.4zM244,751.6l-3.6-0.9 3.2,0.2 3.6-2.8zM247.6,750.7l-3.6,0.9 3.2-3.5 3.6-3.5zM251.2,745.5l-3.6,5.2 3.2-6.1 3.5-6.2zM254.7,744l-3.5,1.5 3.1-7.1 3.6,1.1z"/>
<path fill="#f6ee6c" d="M258.3,750.4l-3.6-6.4 3.2-4.5 3.6,8.7zM261.9,756.4l-3.6-6 3.2-2.2 3.6,3.1zM265.5,759.8l-3.6-3.4 3.2-5.1 3.5-1.2zM269,762.1l-3.5-2.3 3.1-9.7 3.6,0zM272.6,760.6l-3.6,1.5 3.2-12 3.6,0.4zM276.2,757.3l-3.6,3.3 3.2-10.1 3.6,1.7z"/>
<path fill="#f6ee6c" d="M279.8,756.3l-3.6,1 3.2-5.1 3.5-0.1zM283.3,757.8l-3.5-1.5 3.1-4.2 3.6,1.1zM286.9,759l-3.6-1.2 3.2-4.6 3.6,3.7zM290.5,762.5l-3.6-3.5 3.2-2.1 3.6,4.8zM294.1,766.1l-3.6-3.6 3.2-0.8 3.5,2.5zM297.6,764l-3.5,2.1 3.1-1.9 3.6-6.5z"/>
<path fill="#f6ee6c" d="M301.2,763l-3.6,1 3.2-6.3 3.6-3.9zM304.8,763.9l-3.6-0.9 3.2-9.2 3.6,2.7zM308.4,763.5l-3.6,0.4 3.2-7.4 3.5-3.2zM311.9,767.6l-3.5-4.1 3.1-10.2 3.6,0.8zM315.5,769.4l-3.6-1.8 3.2-13.5 3.6,5.8zM319.1,762l-3.6,7.4 3.2-9.5 3.6,0.5z"/>
<path fill="#f6ee6c" d="M322.7,753.2l-3.6,8.8 3.2-1.6 3.5-1.8zM326.2,754l-3.5-0.8 3.1,5.4 3.6,1.5zM329.8,761.1l-3.6-7.1 3.2,6.1 3.6,0.6zM333.4,763.6l-3.6-2.5 3.2-0.4 3.6,1.7zM337,764l-3.6-0.4 3.2-1.2 3.6,6.3zM340.6,763.7l-3.6,0.3 3.2,4.7 3.5,2.2z"/>
<path fill="#f6ee6c" d="M344.1,763.4l-3.5,0.3 3.1,7.2 3.6,1.8zM347.7,761.8l-3.6,1.6 3.2,9.3 3.6,2.1zM351.3,768l-3.6-6.2 3.2,13 3.6-1.4zM354.9,768.9l-3.6-0.9 3.2,5.4 3.5-1zM358.4,769.6l-3.5-0.7 3.1,3.5 3.6-0.2zM362,773.3l-3.6-3.7 3.2,2.6 3.6,1.2z"/>
<path fill="#f6ee6c" d="M365.6,771.5l-3.6,1.8 3.2,0.1 3.6-1zM369.2,773.4l-3.6-1.9 3.2,0.9 3.5-1.7zM372.7,782.5l-3.5-9.1 3.1-2.7 3.6,4.7zM376.3,780.3l-3.6,2.2 3.2-7.1 3.6-2.2zM379.9,774.9l-3.6,5.4 3.2-7.1 3.6-6.7zM383.5,779.3l-3.6-4.4 3.2-8.4 3.5,3z"/>
<path fill="#f6ee6c" d="M387,782.2l-3.5-2.9 3.1-9.8 3.6,5.5zM390.6,780.3l-3.6,1.9 3.2-7.2 3.6-2.9zM394.2,776.4l-3.6,3.9 3.2-8.2 3.6-3.6zM397.8,774.3l-3.6,2.1 3.2-7.9 3.5,3.1zM401.3,773.4l-3.5,0.9 3.1-2.7 3.6,6.3zM404.9,771.8l-3.6,1.6 3.2,4.5 3.6,3.4z"/>
<path fill="#f6ee6c" d="M408.5,785.3l-3.6-13.5 3.2,9.5 3.6-4.5zM412.1,792.4l-3.6-7.1 3.2-8.5 3.5-9.9zM415.7,786.9l-3.6,5.5 3.1-25.5 3.6,6.6zM419.2,789l-3.5-2.1 3.1-13.4 3.6,12.9zM422.8,792.7l-3.6-3.7 3.2-2.6 3.6,2.2zM426.4,789l-3.6,3.7 3.2-4.1 3.6-5.1z"/>
<path fill="#f6ee6c" d="M430,787.6l-3.6,1.4 3.2-5.5 3.5-1.8zM433.5,786.7l-3.5,0.9 3.1-5.9 3.6-3.7zM437.1,784.5l-3.6,2.2 3.2-8.7 3.6-3.9zM440.7,782.4l-3.6,2.1 3.2-10.4 3.6-8.8z"/>
<path fill="#eaec70" d="M444.3,770.9l-3.6,11.5 3.2-17.1 3.5-15.8z"/>
<path fill="#a9e18a" d="M447.8,757.9l-3.5,13 3.1-21.4 3.6-15.9z"/>
<path fill="#69d9d4" d="M451.4,746.6l-3.6,11.3 3.2-24.3 3.6-13.8z"/>
<path fill="#58cde7" d="M455,762.7l-3.6-16.1 3.2-26.8 3.6,22.2z"/>
<path fill="#7edbbb" d="M458.6,777.2l-3.6-14.5 3.2-20.7 3.5,19.9z"/>
<path fill="#c5e57d" d="M462.1,790.4l-3.5-13.2 3.1-15.3 3.6,17.7z"/>
<path fill="#f6ee6c" d="M465.7,781.2l-3.6,9.2 3.2-10.8 3.6-23.5z"/>
<path fill="#bae383" d="M469.3,772l-3.6,9.2 3.2-25.1 3.6-23.4z"/>
<path fill="#70dacb" d="M472.9,775.1l-3.6-3.1 3.2-39.3 3.5,4.1z"/>
<path fill="#7bdbbe" d="M476.4,789.8l-3.5-14.7 3.1-38.3 3.6,38.6z"/>
<path fill="#ecec6f" d="M480,782.4l-3.6,7.4 3.2-14.4 3.6-12.2z"/>
<path fill="#bee481" d="M483.6,770.4l-3.6,12 3.2-19.2 3.6-22.8z"/>
<path fill="#6fdacc" d="M487.2,781.7l-3.6-11.3 3.2-30 3.5,22z"/>
<path fill="#b3e286" d="M490.7,789.2l-3.5-7.5 3.1-19.3 3.6,16.8z"/>
<path fill="#e5eb71" d="M494.3,769.2l-3.6,20 3.2-10 3.6-19.5z"/>
<path fill="#8addac" d="M497.9,758.1l-3.6,11.1 3.2-9.5 3.6-10.9z"/>
<path fill="#5fd6df" d="M501.5,769.4l-3.6-11.3 3.2-9.3 3.6,13.2z"/>
<path fill="#82dcb6" d="M505.1,743.2l-3.6,26.2 3.2-7.4 3.5,1.3z"/>
<path fill="#84dcb3" d="M508.6,710.2l-3.5,33 3.1,20.1 3.6-1.4z"/>
<path fill="#7bdbbe" d="M512.2,677.3l-3.6,32.9 3.2,51.7 3.6-1.7z"/>
<path fill="#1e308c" d="M515.8,842.3l-3.6-165 3.2,82.9 3.6,58.2z"/>
<path fill="#f6ee6c" d="M519.4,843.1l-3.6-0.8 3.2-23.9 3.5,1.3zM522.9,843.9l-3.5-0.8 3.1-23.4 3.6,1.2zM526.5,844.8l-3.6-0.9 3.2-23 3.6-0.4zM530.1,845.6l-3.6-0.8 3.2-24.3 3.6-2.7zM533.7,846.4l-3.6-0.8 3.2-27.8 3.5-0.4zM537.2,847.2l-3.5-0.8 3.1-29 3.6-2.2z"/>
<path fill="#f6ee6c" d="M540.8,848l-3.6-0.8 3.2-32 3.6-2.4zM544.4,848.9l-3.6-0.9 3.2-35.2 3.6,0.9zM548,849.7l-3.6-0.8 3.2-35.2 3.5,4.8zM551.5,850.5l-3.5-0.8 3.1-31.2 3.6,4.6zM555.1,851.3l-3.6-0.8 3.2-27.4 3.6,3.1zM558.7,852.1l-3.6-0.8 3.2-25.1 3.6,1.7z"/>
<path fill="#f6ee6c" d="M562.3,852.9l-3.6-0.8 3.2-24.2 3.5-1.8zM565.8,853.8l-3.5-0.9 3.1-26.8 3.6,0.7zM569.4,854.6l-3.6-0.8 3.2-27 3.6,2.2zM573,855.4l-3.6-0.8 3.2-25.6 3.6-3.3zM576.6,856.2l-3.6-0.8 3.2-29.7 3.5-1zM580.1,857l-3.5-0.8 3.1-31.5 3.6,0.3z"/>
<path fill="#f6ee6c" d="M583.7,857.9l-3.6-0.9 3.2-32 3.6,0.1zM587.3,858.7l-3.6-0.8 3.2-32.8 3.6-0.9zM590.9,859.5l-3.6-0.8 3.2-34.5 3.6-8.4zM594.5,860.3l-3.6-0.8 3.2-43.7 3.5-2.6zM598,861.1l-3.5-0.8 3.1-47.1 3.6,4.7zM601.6,862l-3.6-0.9 3.2-43.2 3.6-0.6z"/>
<path fill="#f6ee6c" d="M605.2,862.8l-3.6-0.8 3.2-44.7 3.6-3.6z"/>
<path fill="#f6ee6c" d="M112.1,722.1l-3.6-5.2 3.2-5.1 3.6,1.7zM115.7,714.7l-3.6,7.4 3.2-8.6 3.5-4.7zM119.2,708.9l-3.5,5.8 3.1-5.9 3.6-3z"/>
<path fill="#f0ed6e" d="M122.8,710.7l-3.6-1.8 3.2-3.1 3.6,3.8z"/>
<path fill="#f4ee6d" d="M126.4,719.6l-3.6-8.9 3.2-1.1 3.6,11.2z"/>
<path fill="#f6ee6c" d="M130,721.6l-3.6-2 3.2,1.2 3.5,0zM133.5,721.6l-3.5,0 3.1-0.8 3.6-1.9zM137.1,731.9l-3.6-10.3 3.2-2.7 3.6,7.3zM140.7,731.9l-3.6,0 3.2-5.7 3.6,0.3zM144.3,730.2l-3.6,1.7 3.2-5.4 3.5-1.4zM147.8,738l-3.5-7.8 3.1-5.1 3.6,3.8z"/>
<path fill="#f6ee6c" d="M151.4,741.6l-3.6-3.6 3.2-9.1 3.6,1.8zM155,740.2l-3.6,1.4 3.2-10.9 3.6-4.2zM158.6,736.8l-3.6,3.4 3.2-13.7 3.6-6.2zM162.2,738.7l-3.6-1.9 3.2-16.5 3.5,2.3zM165.7,740.1l-3.5-1.4 3.1-16.1 3.6,2.4zM169.3,734l-3.6,6.1 3.2-15.1 3.6-4.5z"/>
<path fill="#f6ee6c" d="M172.9,734.5l-3.6-0.5 3.2-13.5 3.6,3.9zM176.5,738.4l-3.6-3.9 3.2-10.1 3.5,4.8zM180,734.4l-3.5,4 3.1-9.2 3.6-6.2zM183.6,738.4l-3.6-4 3.2-11.4 3.6,0.1zM187.2,748.5l-3.6-10.1 3.2-15.3 3.6,4.9zM190.8,750.5l-3.6-2 3.2-20.5 3.5,2.9z"/>
<path fill="#f6ee6c" d="M194.3,746.3l-3.5,4.2 3.1-19.6 3.6,0.3zM197.9,745l-3.6,1.3 3.2-15.1 3.6,6.3zM201.5,751.2l-3.6-6.2 3.2-7.5 3.6,7.3zM205.1,754.3l-3.6-3.1 3.2-6.4 3.5,2.6zM208.6,750.1l-3.5,4.2 3.1-6.9 3.6,1.3zM212.2,745.9l-3.6,4.2 3.2-1.4 3.6-0.6z"/>
<path fill="#f6ee6c" d="M215.8,752.4l-3.6-6.5 3.2,2.2 3.6-0.8zM219.4,754.9l-3.6-2.5 3.2-5.1 3.5,1zM222.9,753.7l-3.5,1.2 3.1-6.6 3.6,1.5zM226.5,757.1l-3.6-3.4 3.2-3.9 3.6,2.2zM230.1,753.3l-3.6,3.8 3.2-5.1 3.6,1.3zM233.7,741.7l-3.6,11.6 3.2,0 3.5-1.4z"/>
<path fill="#f6ee6c" d="M237.2,742.8l-3.5-1.1 3.1,10.2 3.6-1.2zM240.8,752.2l-3.6-9.4 3.2,7.9 3.6,0.9zM244.4,759.7l-3.6-7.5 3.2-0.6 3.6-0.9zM248,762.4l-3.6-2.7 3.2-9 3.6-5.2zM251.6,761.2l-3.6,1.2 3.2-16.9 3.5-1.5zM255.1,760.6l-3.5,0.6 3.1-17.2 3.6,6.4z"/>
<path fill="#f6ee6c" d="M258.7,762.9l-3.6-2.3 3.2-10.2 3.6,6zM262.3,765.4l-3.6-2.5 3.2-6.5 3.6,3.4zM265.9,766.8l-3.6-1.4 3.2-5.6 3.5,2.3zM269.4,767.7l-3.5-0.9 3.1-4.7 3.6-1.5zM273,767.6l-3.6,0.1 3.2-7.1 3.6-3.3zM276.6,763.3l-3.6,4.3 3.2-10.3 3.6-1z"/>
<path fill="#f6ee6c" d="M280.2,757.8l-3.6,5.5 3.2-7 3.5,1.5zM283.7,757.3l-3.5,0.5 3.1,0 3.6,1.2zM287.3,760.7l-3.6-3.4 3.2,1.7 3.6,3.5zM290.9,765.7l-3.6-5 3.2,1.8 3.6,3.6zM294.5,771.1l-3.6-5.4 3.2,0.4 3.5-2.1zM298,771.5l-3.5-0.4 3.1-7.1 3.6-1z"/>
<path fill="#f6ee6c" d="M301.6,766.9l-3.6,4.6 3.2-8.5 3.6,0.9zM305.2,767l-3.6-0.1 3.2-3 3.6-0.4zM308.8,767.8l-3.6-0.8 3.2-3.5 3.5,4.1zM312.3,765.2l-3.5,2.6 3.1-0.2 3.6,1.8zM315.9,759.9l-3.6,5.3 3.2,4.2 3.6-7.4zM319.5,755.1l-3.6,4.8 3.2,2.1 3.6-8.8z"/>
<path fill="#f2ed6d" d="M323.1,758.5l-3.6-3.4 3.2-1.9 3.5,0.8z"/>
<path fill="#f6ee6c" d="M326.7,771.2l-3.6-12.7 3.1-4.5 3.6,7.1zM330.2,776l-3.5-4.8 3.1-10.1 3.6,2.5zM333.8,773.2l-3.6,2.8 3.2-12.4 3.6,0.4zM337.4,770.7l-3.6,2.5 3.2-9.2 3.6-0.3zM341,776.9l-3.6-6.2 3.2-7 3.5-0.3zM344.5,777l-3.5-0.1 3.1-13.5 3.6-1.6z"/>
<path fill="#f6ee6c" d="M348.1,765.8l-3.6,11.2 3.2-15.2 3.6,6.2zM351.7,766.4l-3.6-0.6 3.2,2.2 3.6,0.9zM355.3,772.2l-3.6-5.8 3.2,2.5 3.5,0.7zM358.8,777.4l-3.5-5.2 3.1-2.6 3.6,3.7zM362.4,781.8l-3.6-4.4 3.2-4.1 3.6-1.8zM366,787.7l-3.6-5.9 3.2-10.3 3.6,1.9z"/>
<path fill="#f6ee6c" d="M369.6,788.6l-3.6-0.9 3.2-14.3 3.5,9.1zM373.1,783.5l-3.5,5.1 3.1-6.1 3.6-2.2zM376.7,786.3l-3.6-2.8 3.2-3.2 3.6-5.4zM380.3,792.6l-3.6-6.3 3.2-11.4 3.6,4.4zM383.9,794.4l-3.6-1.8 3.2-13.3 3.5,2.9zM387.4,793.1l-3.5,1.3 3.1-12.2 3.6-1.9z"/>
<path fill="#f6ee6c" d="M391,789.6l-3.6,3.5 3.2-12.8 3.6-3.9zM394.6,787.6l-3.6,2 3.2-13.2 3.6-2.1zM398.2,793.3l-3.6-5.7 3.2-13.3 3.5-0.9zM401.7,798.1l-3.5-4.8 3.1-19.9 3.6-1.6zM405.3,799.1l-3.6-1 3.2-26.3 3.6,13.5zM408.9,798.5l-3.6,0.6 3.2-13.8 3.6,7.1z"/>
<path fill="#f6ee6c" d="M412.5,795.2l-3.6,3.3 3.2-6.1 3.6-5.5zM416.1,797.4l-3.6-2.2 3.2-8.3 3.5,2.1zM419.6,799.4l-3.5-2 3.1-8.4 3.6,3.7zM423.2,794.1l-3.6,5.3 3.2-6.7 3.6-3.7zM426.8,790.2l-3.6,3.9 3.2-5.1 3.6-1.4zM430.4,791.4l-3.6-1.2 3.2-2.6 3.5-0.9z"/>
<path fill="#f6ee6c" d="M433.9,790.9l-3.5,0.5 3.1-4.7 3.6-2.2zM437.5,790l-3.6,0.9 3.2-6.4 3.6-2.1zM441.1,784l-3.6,6 3.2-7.6 3.6-11.5zM444.7,777.3l-3.6,6.7 3.2-13.1 3.5-13z"/>
<path fill="#d7e876" d="M448.2,772.3l-3.5,5 3.1-19.4 3.6-11.3z"/>
<path fill="#bde481" d="M451.8,780.6l-3.6-8.3 3.2-25.7 3.6,16.1z"/>
<path fill="#deea73" d="M455.4,789l-3.6-8.4 3.2-17.9 3.6,14.5z"/>
<path fill="#f6ee6c" d="M459,796.6l-3.6-7.6 3.2-11.8 3.5,13.2zM462.5,791.9l-3.5,4.7 3.1-6.2 3.6-9.2zM466.1,787.2l-3.6,4.7 3.2-10.7 3.6-9.2z"/>
<path fill="#ecec6f" d="M469.7,789.3l-3.6-2.1 3.2-15.2 3.6,3.1z"/>
<path fill="#f1ed6e" d="M473.3,792.6l-3.6-3.3 3.2-14.2 3.5,14.7z"/>
<path fill="#f6ee6c" d="M476.8,794l-3.5-1.4 3.1-2.8 3.6-7.4zM480.4,787.9l-3.6,6.1 3.2-11.6 3.6-12z"/>
<path fill="#e1ea72" d="M484,794.4l-3.6-6.5 3.2-17.5 3.6,11.3z"/>
<path fill="#f6ee6c" d="M487.6,798.9l-3.6-4.5 3.2-12.7 3.5,7.5zM491.1,788.3l-3.5,10.6 3.1-9.7 3.6-20z"/>
<path fill="#d9e875" d="M494.7,784.2l-3.6,4.1 3.2-19.1 3.6-11.1z"/>
<path fill="#91dea3" d="M498.3,787l-3.6-2.8 3.2-26.1 3.6,11.3z"/>
<path fill="#ace189" d="M501.9,771.8l-3.6,15.2 3.2-17.6 3.6-26.2z"/>
<path fill="#5dd5e1" d="M505.5,750.9l-3.6,20.9 3.2-28.6 3.5-33z"/>
<path fill="#51baec" d="M509,730l-3.5,20.9 3.1-40.7 3.6-32.9z"/>
<path fill="#50b6ec" d="M512.6,846.5l-3.6-116.5 3.2-52.7 3.6,165z"/>
<path fill="#f6ee6c" d="M516.2,847.3l-3.6-0.8 3.2-4.2 3.6,0.8zM519.8,848.1l-3.6-0.8 3.2-4.2 3.5,0.8zM523.3,849l-3.5-0.9 3.1-4.2 3.6,0.9zM526.9,849.8l-3.6-0.8 3.2-4.2 3.6,0.8zM530.5,850.6l-3.6-0.8 3.2-4.2 3.6,0.8zM534.1,851.4l-3.6-0.8 3.2-4.2 3.5,0.8z"/>
<path fill="#f6ee6c" d="M537.6,852.2l-3.5-0.8 3.1-4.2 3.6,0.8zM541.2,853.1l-3.6-0.9 3.2-4.2 3.6,0.9zM544.8,853.9l-3.6-0.8 3.2-4.2 3.6,0.8zM548.4,854.7l-3.6-0.8 3.2-4.2 3.5,0.8zM551.9,855.5l-3.5-0.8 3.1-4.2 3.6,0.8zM555.5,856.3l-3.6-0.8 3.2-4.2 3.6,0.8z"/>
<path fill="#f6ee6c" d="M559.1,857.1l-3.6-0.8 3.2-4.2 3.6,0.8zM562.7,858l-3.6-0.9 3.2-4.2 3.5,0.9zM566.2,858.8l-3.5-0.8 3.1-4.2 3.6,0.8zM569.8,859.6l-3.6-0.8 3.2-4.2 3.6,0.8zM573.4,860.4l-3.6-0.8 3.2-4.2 3.6,0.8zM577,861.2l-3.6-0.8 3.2-4.2 3.5,0.8z"/>
<path fill="#f6ee6c" d="M580.6,862.1l-3.6-0.9 3.1-4.2 3.6,0.9zM584.1,862.9l-3.5-0.8 3.1-4.2 3.6,0.8zM587.7,863.7l-3.6-0.8 3.2-4.2 3.6,0.8zM591.3,864.5l-3.6-0.8 3.2-4.2 3.6,0.8zM594.9,865.3l-3.6-0.8 3.2-4.2 3.5,0.8zM598.4,866.2l-3.5-0.9 3.1-4.2 3.6,0.9z"/>
<path fill="#f6ee6c" d="M602,867l-3.6-0.8 3.2-4.2 3.6,0.8z"/>
<path fill="#f6ee6c" d="M108.9,734.3l-3.6-1.5 3.2-15.9 3.6,5.2zM112.5,723.8l-3.6,10.5 3.2-12.2 3.6-7.4zM116.1,715.9l-3.6,7.9 3.2-9.1 3.5-5.8zM119.6,718.6l-3.5-2.7 3.1-7 3.6,1.8zM123.2,725.6l-3.6-7 3.2-7.9 3.6,8.9zM126.8,726.6l-3.6-1 3.2-6 3.6,2z"/>
<path fill="#f6ee6c" d="M130.4,728.7l-3.6-2.1 3.2-5 3.5,0zM133.9,738.5l-3.5-9.8 3.1-7.1 3.6,10.3zM137.5,737.6l-3.6,0.9 3.2-6.6 3.6,0zM141.1,733.5l-3.6,4.1 3.2-5.7 3.6-1.7zM144.7,742l-3.6-8.5 3.2-3.3 3.5,7.8zM148.2,745.1l-3.5-3.1 3.1-4 3.6,3.6z"/>
<path fill="#f6ee6c" d="M151.8,741.4l-3.6,3.7 3.2-3.5 3.6-1.4zM155.4,740.4l-3.6,1 3.2-1.2 3.6-3.4zM159,740.9l-3.6-0.5 3.2-3.6 3.6,1.9zM162.6,738l-3.6,2.9 3.2-2.2 3.5,1.4zM166.1,735.7l-3.5,2.3 3.1,2.1 3.6-6.1zM169.7,738.4l-3.6-2.7 3.2-1.7 3.6,0.5z"/>
<path fill="#f6ee6c" d="M173.3,741.7l-3.6-3.3 3.2-3.9 3.6,3.9zM176.9,741.9l-3.6-0.2 3.2-3.3 3.5-4zM180.4,745.6l-3.5-3.7 3.1-7.5 3.6,4zM184,752.3l-3.6-6.7 3.2-7.2 3.6,10.1zM187.6,755.3l-3.6-3 3.2-3.8 3.6,2zM191.2,752.2l-3.6,3.1 3.2-4.8 3.5-4.2z"/>
<path fill="#f6ee6c" d="M194.7,743.9l-3.5,8.3 3.1-5.9 3.6-1.3zM198.3,743.4l-3.6,0.5 3.2,1.1 3.6,6.2zM201.9,743l-3.6,0.4 3.2,7.8 3.6,3.1zM205.5,740.7l-3.6,2.3 3.2,11.3 3.5-4.2zM209,742.5l-3.5-1.8 3.1,9.4 3.6-4.2zM212.6,755.8l-3.6-13.3 3.2,3.4 3.6,6.5z"/>
<path fill="#f6ee6c" d="M216.2,761.5l-3.6-5.7 3.2-3.4 3.6,2.5zM219.8,756.8l-3.6,4.7 3.2-6.6 3.5-1.2zM223.3,750l-3.5,6.8 3.1-3.1 3.6,3.4zM226.9,747.6l-3.6,2.4 3.2,7.1 3.6-3.8zM230.5,742.5l-3.6,5.1 3.2,5.7 3.6-11.6zM234.1,746.5l-3.6-4 3.2-0.8 3.5,1.1z"/>
<path fill="#f6ee6c" d="M237.6,754.4l-3.5-7.9 3.1-3.7 3.6,9.4zM241.2,758l-3.6-3.6 3.2-2.2 3.6,7.5zM244.8,763.9l-3.6-5.9 3.2,1.7 3.6,2.7zM248.4,766l-3.6-2.1 3.2-1.5 3.6-1.2zM252,760l-3.6,6 3.2-4.8 3.5-0.6zM255.5,755.5l-3.5,4.5 3.1,0.6 3.6,2.3z"/>
<path fill="#f6ee6c" d="M259.1,760.6l-3.6-5.1 3.2,7.4 3.6,2.5zM262.7,767.4l-3.6-6.8 3.2,4.8 3.6,1.4zM266.3,772.6l-3.6-5.2 3.2-0.6 3.5,0.9zM269.8,775.1l-3.5-2.5 3.1-4.9 3.6-0.1zM273.4,772.2l-3.6,2.9 3.2-7.5 3.6-4.3zM277,766.3l-3.6,5.9 3.2-8.9 3.6-5.5z"/>
<path fill="#f6ee6c" d="M280.6,766.4l-3.6-0.1 3.2-8.5 3.5-0.5zM284.1,767.3l-3.5-0.9 3.1-9.1 3.6,3.4zM287.7,765.9l-3.6,1.4 3.2-6.6 3.6,5zM291.3,770.3l-3.6-4.4 3.2-0.2 3.6,5.4zM294.9,772.6l-3.6-2.3 3.2,0.8 3.5,0.4zM298.4,765.5l-3.5,7.1 3.1-1.1 3.6-4.6z"/>
<path fill="#f6ee6c" d="M302,761.9l-3.6,3.6 3.2,1.4 3.6,0.1zM305.6,761.5l-3.6,0.4 3.2,5.1 3.6,0.8zM309.2,762.6l-3.6-1.1 3.2,6.3 3.5-2.6zM312.7,761.3l-3.5,1.3 3.1,2.6 3.6-5.3zM316.3,757.3l-3.6,4 3.2-1.4 3.6-4.8z"/>
<path fill="#eaec70" d="M319.9,758.6l-3.6-1.3 3.2-2.2 3.6,3.4z"/>
<path fill="#ebec6f" d="M323.5,768.6l-3.6-10 3.2-0.1 3.6,12.7z"/>
<path fill="#f6ee6c" d="M327.1,779l-3.6-10.4 3.2,2.6 3.5,4.8zM330.6,779.3l-3.5-0.3 3.1-3 3.6-2.8zM334.2,778.6l-3.6,0.7 3.2-6.1 3.6-2.5zM337.8,781.3l-3.6-2.7 3.2-7.9 3.6,6.2zM341.4,780.1l-3.6,1.2 3.2-4.4 3.5,0.1zM344.9,778.2l-3.5,1.9 3.1-3.1 3.6-11.2z"/>
<path fill="#f6ee6c" d="M348.5,777.9l-3.6,0.3 3.2-12.4 3.6,0.6zM352.1,776.4l-3.6,1.5 3.2-11.5 3.6,5.8zM355.7,777.5l-3.6-1.1 3.2-4.2 3.5,5.2zM359.2,781.8l-3.5-4.3 3.1-0.1 3.6,4.4zM362.8,788.5l-3.6-6.7 3.2,0 3.6,5.9zM366.4,787.5l-3.6,1 3.2-0.8 3.6,0.9z"/>
<path fill="#f6ee6c" d="M370,783.1l-3.6,4.4 3.2,1.1 3.5-5.1zM373.5,790.2l-3.5-7.1 3.1,0.4 3.6,2.8zM377.1,795.5l-3.6-5.3 3.2-3.9 3.6,6.3zM380.7,794.9l-3.6,0.6 3.2-2.9 3.6,1.8zM384.3,794.3l-3.6,0.6 3.2-0.5 3.5-1.3zM387.8,794.2l-3.5,0.1 3.1-1.2 3.6-3.5z"/>
<path fill="#f6ee6c" d="M391.4,794.6l-3.6-0.4 3.2-4.6 3.6-2zM395,797.1l-3.6-2.5 3.2-7 3.6,5.7zM398.6,792.8l-3.6,4.3 3.2-3.8 3.5,4.8zM402.1,782.8l-3.5,10 3.1,5.3 3.6,1zM405.7,789.3l-3.6-6.5 3.2,16.3 3.6-0.6zM409.3,799.7l-3.6-10.4 3.2,9.2 3.6-3.3z"/>
<path fill="#f6ee6c" d="M412.9,807.2l-3.6-7.5 3.2-4.5 3.6,2.2zM416.5,808.7l-3.6-1.5 3.2-9.8 3.5,2zM420,804.1l-3.5,4.6 3.1-9.3 3.6-5.3zM423.6,798.3l-3.6,5.8 3.2-10 3.6-3.9zM427.2,798.1l-3.6,0.2 3.2-8.1 3.6,1.2zM430.8,798.6l-3.6-0.5 3.2-6.7 3.5-0.5z"/>
<path fill="#f6ee6c" d="M434.3,799.2l-3.5-0.6 3.1-7.7 3.6-0.9zM437.9,797.2l-3.6,2 3.2-9.2 3.6-6zM441.5,793.1l-3.6,4.1 3.2-13.2 3.6-6.7zM445.1,798.6l-3.6-5.5 3.2-15.8 3.5-5zM448.6,808.3l-3.5-9.7 3.1-26.3 3.6,8.3zM452.2,810.4l-3.6-2.1 3.2-27.7 3.6,8.4z"/>
<path fill="#f6ee6c" d="M455.8,813.3l-3.6-2.9 3.2-21.4 3.6,7.6zM459.4,816.1l-3.6-2.8 3.2-16.7 3.5-4.7zM462.9,813.4l-3.5,2.7 3.1-24.2 3.6-4.7zM466.5,804.4l-3.6,9 3.2-26.2 3.6,2.1zM470.1,799.7l-3.6,4.7 3.2-15.1 3.6,3.3zM473.7,800.5l-3.6-0.8 3.2-7.1 3.5,1.4z"/>
<path fill="#f6ee6c" d="M477.2,798.1l-3.5,2.4 3.1-6.5 3.6-6.1zM480.8,796l-3.6,2.1 3.2-10.2 3.6,6.5z"/>
<path fill="#eeec6f" d="M484.4,798.6l-3.6-2.6 3.2-1.6 3.6,4.5z"/>
<path fill="#f5ee6c" d="M488,803.5l-3.6-4.9 3.2,0.3 3.5-10.6z"/>
<path fill="#f6ee6c" d="M491.6,802.9l-3.6,0.6 3.1-15.2 3.6-4.1zM495.1,803.6l-3.5-0.7 3.1-18.7 3.6,2.8zM498.7,809.8l-3.6-6.2 3.2-16.6 3.6-15.2zM502.3,813.6l-3.6-3.8 3.2-38 3.6-20.9zM505.9,810.1l-3.6,3.5 3.2-62.7 3.5-20.9zM509.4,850.7l-3.5-40.6 3.1-80.1 3.6,116.5z"/>
<path fill="#f6ee6c" d="M513,851.5l-3.6-0.8 3.2-4.2 3.6,0.8zM516.6,852.3l-3.6-0.8 3.2-4.2 3.6,0.8zM520.2,853.2l-3.6-0.9 3.2-4.2 3.5,0.9zM523.7,854l-3.5-0.8 3.1-4.2 3.6,0.8zM527.3,854.8l-3.6-0.8 3.2-4.2 3.6,0.8zM530.9,855.6l-3.6-0.8 3.2-4.2 3.6,0.8z"/>
<path fill="#f6ee6c" d="M534.5,856.4l-3.6-0.8 3.2-4.2 3.5,0.8zM538,857.3l-3.5-0.9 3.1-4.2 3.6,0.9zM541.6,858.1l-3.6-0.8 3.2-4.2 3.6,0.8zM545.2,858.9l-3.6-0.8 3.2-4.2 3.6,0.8zM548.8,859.7l-3.6-0.8 3.2-4.2 3.5,0.8zM552.3,860.5l-3.5-0.8 3.1-4.2 3.6,0.8z"/>
<path fill="#f6ee6c" d="M555.9,861.3l-3.6-0.8 3.2-4.2 3.6,0.8zM559.5,862.2l-3.6-0.9 3.2-4.2 3.6,0.9zM563.1,863l-3.6-0.8 3.2-4.2 3.5,0.8zM566.6,863.8l-3.5-0.8 3.1-4.2 3.6,0.8zM570.2,864.6l-3.6-0.8 3.2-4.2 3.6,0.8zM573.8,865.4l-3.6-0.8 3.2-4.2 3.6,0.8z"/>
<path fill="#f6ee6c" d="M577.4,866.3l-3.6-0.9 3.2-4.2 3.6,0.9zM581,867.1l-3.6-0.8 3.2-4.2 3.5,0.8zM584.5,867.9l-3.5-0.8 3.1-4.2 3.6,0.8zM588.1,868.7l-3.6-0.8 3.2-4.2 3.6,0.8zM591.7,869.5l-3.6-0.8 3.2-4.2 3.6,0.8zM595.3,870.4l-3.6-0.9 3.2-4.2 3.5,0.9z"/>
<path fill="#f6ee6c" d="M598.8,871.2l-3.5-0.8 3.1-4.2 3.6,0.8z"/>
<path fill="#f6ee6c" d="M105.7,736.7l-3.5,4.9 3.1-8.8 3.6,1.5zM109.3,726.9l-3.6,9.8 3.2-2.4 3.6-10.5zM112.9,722.6l-3.6,4.3 3.2-3.1 3.6-7.9zM116.5,726.6l-3.6-4 3.2-6.7 3.5,2.7zM120,731.5l-3.5-4.9 3.1-8 3.6,7zM123.6,731l-3.6,0.5 3.2-5.9 3.6,1z"/>
<path fill="#f6ee6c" d="M127.2,731.8l-3.6-0.8 3.2-4.4 3.6,2.1zM130.8,737.6l-3.6-5.8 3.2-3.1 3.5,9.8zM134.3,740l-3.5-2.4 3.1,0.9 3.6-0.9zM137.9,737.3l-3.6,2.7 3.2-2.4 3.6-4.1zM141.5,739.9l-3.6-2.6 3.2-3.8 3.6,8.5zM145.1,740.7l-3.6-0.8 3.2,2.1 3.5,3.1z"/>
<path fill="#f6ee6c" d="M148.6,733.5l-3.5,7.2 3.1,4.4 3.6-3.7zM152.2,734.4l-3.6-0.9 3.2,7.9 3.6-1zM155.8,739.7l-3.6-5.3 3.2,6 3.6,0.5zM159.4,737.1l-3.6,2.6 3.2,1.2 3.6-2.9zM163,738.3l-3.6-1.2 3.2,0.9 3.5-2.3zM166.5,746.1l-3.5-7.8 3.1-2.6 3.6,2.7z"/>
<path fill="#f6ee6c" d="M170.1,749.9l-3.6-3.8 3.2-7.7 3.6,3.3zM173.7,749.3l-3.6,0.6 3.2-8.2 3.6,0.2zM177.3,751.4l-3.6-2.1 3.2-7.4 3.5,3.7zM180.8,756.1l-3.5-4.7 3.1-5.8 3.6,6.7zM184.4,759.3l-3.6-3.2 3.2-3.8 3.6,3zM188,758l-3.6,1.3 3.2-4 3.6-3.1z"/>
<path fill="#f6ee6c" d="M191.6,749.8l-3.6,8.2 3.2-5.8 3.5-8.3zM195.1,748.5l-3.5,1.3 3.1-5.9 3.6-0.5zM198.7,750.3l-3.6-1.8 3.2-5.1 3.6-0.4zM202.3,746.5l-3.6,3.8 3.2-7.3 3.6-2.3zM205.9,748.1l-3.6-1.6 3.2-5.8 3.5,1.8zM209.4,757.3l-3.5-9.2 3.1-5.6 3.6,13.3z"/>
<path fill="#f6ee6c" d="M213,764.5l-3.6-7.2 3.2-1.5 3.6,5.7zM216.6,764.6l-3.6-0.1 3.2-3 3.6-4.7zM220.2,759l-3.6,5.6 3.2-7.8 3.5-6.8zM223.7,754l-3.5,5 3.1-9 3.6-2.4zM227.3,747.8l-3.6,6.2 3.2-6.4 3.6-5.1zM230.9,747.5l-3.6,0.3 3.2-5.3 3.6,4z"/>
<path fill="#f6ee6c" d="M234.5,757.9l-3.6-10.4 3.2-1 3.5,7.9zM238.1,757.5l-3.6,0.4 3.1-3.5 3.6,3.6zM241.6,761.4l-3.5-3.9 3.1,0.5 3.6,5.9zM245.2,768.6l-3.6-7.2 3.2,2.5 3.6,2.1zM248.8,762l-3.6,6.6 3.2-2.6 3.6-6zM252.4,755l-3.6,7 3.2-2 3.5-4.5z"/>
<path fill="#f6ee6c" d="M255.9,757.6l-3.5-2.6 3.1,0.5 3.6,5.1zM259.5,757.7l-3.6-0.1 3.2,3 3.6,6.8zM263.1,768.7l-3.6-11 3.2,9.7 3.6,5.2zM266.7,777.8l-3.6-9.1 3.2,3.9 3.5,2.5zM270.2,776.6l-3.5,1.2 3.1-2.7 3.6-2.9zM273.8,773l-3.6,3.6 3.2-4.4 3.6-5.9z"/>
<path fill="#f6ee6c" d="M277.4,774.4l-3.6-1.4 3.2-6.7 3.6,0.1zM281,771.7l-3.6,2.7 3.2-8 3.5,0.9zM284.5,759.7l-3.5,12 3.1-4.4 3.6-1.4zM288.1,755.9l-3.6,3.8 3.2,6.2 3.6,4.4z"/>
<path fill="#eaec70" d="M291.7,772.2l-3.6-16.3 3.2,14.4 3.6,2.3z"/>
<path fill="#f6ee6c" d="M295.3,774.7l-3.6-2.5 3.2,0.4 3.5-7.1zM298.8,767.3l-3.5,7.4 3.1-9.2 3.6-3.6zM302.4,768.1l-3.6-0.8 3.2-5.4 3.6-0.4zM306,771.9l-3.6-3.8 3.2-6.6 3.6,1.1zM309.6,770.8l-3.6,1.1 3.2-9.3 3.5-1.3zM313.1,764.2l-3.5,6.6 3.1-9.5 3.6-4z"/>
<path fill="#f4ee6d" d="M316.7,762.8l-3.6,1.4 3.2-6.9 3.6,1.3z"/>
<path fill="#ebec6f" d="M320.3,769.8l-3.6-7 3.2-4.2 3.6,10z"/>
<path fill="#f6ee6c" d="M323.9,782.3l-3.6-12.5 3.2-1.2 3.6,10.4zM327.5,785.9l-3.6-3.6 3.2-3.3 3.5,0.3zM331,787.5l-3.5-1.6 3.1-6.6 3.6-0.7zM334.6,784.9l-3.6,2.6 3.2-8.9 3.6,2.7zM338.2,780.1l-3.6,4.8 3.2-3.6 3.6-1.2zM341.8,782.6l-3.6-2.5 3.2,0 3.5-1.9z"/>
<path fill="#f6ee6c" d="M345.3,778.2l-3.5,4.4 3.1-4.4 3.6-0.3zM348.9,764.6l-3.6,13.6 3.2-0.3 3.6-1.5z"/>
<path fill="#d4e877" d="M352.5,769.5l-3.6-4.9 3.2,11.8 3.6,1.1z"/>
<path fill="#e5eb71" d="M356.1,777.7l-3.6-8.2 3.2,8 3.5,4.3z"/>
<path fill="#f6ee6c" d="M359.6,786.7l-3.5-9 3.1,4.1 3.6,6.7zM363.2,793.7l-3.6-7 3.2,1.8 3.6-1zM366.8,795l-3.6-1.3 3.2-6.2 3.6-4.4zM370.4,796.9l-3.6-1.9 3.2-11.9 3.5,7.1zM373.9,795.4l-3.5,1.5 3.1-6.7 3.6,5.3zM377.5,793.3l-3.6,2.1 3.2,0.1 3.6-0.6z"/>
<path fill="#f6ee6c" d="M381.1,796.5l-3.6-3.2 3.2,1.6 3.6-0.6zM384.7,799l-3.6-2.5 3.2-2.2 3.5-0.1zM388.2,800.6l-3.5-1.6 3.1-4.8 3.6,0.4zM391.8,803.5l-3.6-2.9 3.2-6 3.6,2.5zM395.4,803l-3.6,0.5 3.2-6.4 3.6-4.3zM399,797.7l-3.6,5.3 3.2-10.2 3.5-10z"/>
<path fill="#f6ee6c" d="M402.5,789.7l-3.5,8 3.1-14.9 3.6,6.5zM406.1,785.1l-3.6,4.6 3.2-0.4 3.6,10.4z"/>
<path fill="#f3ed6d" d="M409.7,801.5l-3.6-16.4 3.2,14.6 3.6,7.5z"/>
<path fill="#f6ee6c" d="M413.3,811l-3.6-9.5 3.2,5.7 3.6,1.5zM416.9,809.7l-3.6,1.3 3.2-2.3 3.5-4.6zM420.4,809.3l-3.5,0.4 3.1-5.6 3.6-5.8zM424,807.9l-3.6,1.4 3.2-11 3.6-0.2zM427.6,803.4l-3.6,4.5 3.2-9.8 3.6,0.5zM431.2,806.5l-3.6-3.1 3.2-4.8 3.5,0.6z"/>
<path fill="#f6ee6c" d="M434.7,809.8l-3.5-3.3 3.1-7.3 3.6-2zM438.3,805l-3.6,4.8 3.2-12.6 3.6-4.1zM441.9,806.7l-3.6-1.7 3.2-11.9 3.6,5.5zM445.5,816l-3.6-9.3 3.2-8.1 3.5,9.7zM449,819l-3.5-3 3.1-7.7 3.6,2.1zM452.6,818.3l-3.6,0.7 3.2-8.6 3.6,2.9z"/>
<path fill="#f6ee6c" d="M456.2,816l-3.6,2.3 3.2-5 3.6,2.8zM459.8,812.2l-3.6,3.8 3.2,0.1 3.5-2.7zM463.3,809.8l-3.5,2.4 3.1,1.2 3.6-9zM466.9,810l-3.6-0.2 3.2-5.4 3.6-4.7zM470.5,814.2l-3.6-4.2 3.2-10.3 3.6,0.8zM474.1,813.9l-3.6,0.3 3.2-13.7 3.5-2.4z"/>
<path fill="#f6ee6c" d="M477.6,805.2l-3.5,8.7 3.1-15.8 3.6-2.1zM481.2,802.8l-3.6,2.4 3.2-9.2 3.6,2.6z"/>
<path fill="#f5ee6c" d="M484.8,804.5l-3.6-1.7 3.2-4.2 3.6,4.9z"/>
<path fill="#f6ee6c" d="M488.4,804.9l-3.6-0.4 3.2-1 3.6-0.6zM492,807.4l-3.6-2.5 3.2-2 3.5,0.7zM495.5,810.4l-3.5-3 3.1-3.8 3.6,6.2zM499.1,813.6l-3.6-3.2 3.2-0.6 3.6,3.8zM502.7,818.5l-3.6-4.9 3.2,0 3.6-3.5zM506.3,819l-3.6-0.5 3.2-8.4 3.5,40.6z"/>
<path fill="#f6ee6c" d="M509.8,819l-3.5,0 3.1,31.7 3.6,0.8zM513.4,821.8l-3.6-2.8 3.2,32.5 3.6,0.8zM517,826.3l-3.6-4.5 3.2,30.5 3.6,0.9zM520.6,829.9l-3.6-3.6 3.2,26.9 3.5,0.8zM524.1,831l-3.5-1.1 3.1,24.1 3.6,0.8zM527.7,834.3l-3.6-3.3 3.2,23.8 3.6,0.8z"/>
<path fill="#f6ee6c" d="M531.3,835.6l-3.6-1.3 3.2,21.3 3.6,0.8zM534.9,830.4l-3.6,5.2 3.2,20.8 3.5,0.9zM538.4,828.7l-3.5,1.7 3.1,26.9 3.6,0.8zM542,832.1l-3.6-3.4 3.2,29.4 3.6,0.8zM545.6,828.7l-3.6,3.4 3.2,26.8 3.6,0.8zM549.2,822.2l-3.6,6.5 3.2,31 3.5,0.8z"/>
<path fill="#f6ee6c" d="M552.7,822.2l-3.5,0 3.1,38.3 3.6,0.8zM556.3,826.8l-3.6-4.6 3.2,39.1 3.6,0.9zM559.9,831.7l-3.6-4.9 3.2,35.4 3.6,0.8zM563.5,837.7l-3.6-6 3.2,31.3 3.5,0.8zM567,843l-3.5-5.3 3.1,26.1 3.6,0.8zM570.6,844.8l-3.6-1.8 3.2,21.6 3.6,0.8z"/>
<path fill="#f6ee6c" d="M574.2,844.3l-3.6,0.5 3.2,20.6 3.6,0.9zM577.8,842.2l-3.6,2.1 3.2,22 3.6,0.8zM581.4,839l-3.6,3.2 3.2,24.9 3.5,0.8zM584.9,832.7l-3.5,6.3 3.1,28.9 3.6,0.8zM588.5,828.7l-3.6,4 3.2,36 3.6,0.8z"/>
<path fill="#f4ee6d" d="M592.1,828l-3.6,0.7 3.2,40.8 3.6,0.9z"/>
<path fill="#d9e875" d="M595.7,822l-3.6,6 3.2,42.4 3.5,0.8z"/>
<path fill="#f6ee6c" d="M102.6,737.8l-3.6,8.1 3.2-4.3 3.5-4.9zM106.1,733.3l-3.5,4.5 3.1-1.1 3.6-9.8zM109.7,734l-3.6-0.7 3.2-6.4 3.6-4.3zM113.3,734l-3.6,0 3.2-11.4 3.6,4zM116.9,731.6l-3.6,2.4 3.2-7.4 3.5,4.9zM120.4,730.1l-3.5,1.5 3.1-0.1 3.6-0.5z"/>
<path fill="#f6ee6c" d="M124,732.5l-3.6-2.4 3.2,0.9 3.6,0.8zM127.6,737.9l-3.6-5.4 3.2-0.7 3.6,5.8zM131.2,745.4l-3.6-7.5 3.2-0.3 3.5,2.4zM134.7,745.6l-3.5-0.2 3.1-5.4 3.6-2.7zM138.3,738l-3.6,7.6 3.2-8.3 3.6,2.6zM141.9,735.5l-3.6,2.5 3.2,1.9 3.6,0.8z"/>
<path fill="#f6ee6c" d="M145.5,734.9l-3.6,0.6 3.2,5.2 3.5-7.2zM149.1,737.9l-3.6-3 3.1-1.4 3.6,0.9zM152.6,744.2l-3.5-6.3 3.1-3.5 3.6,5.3zM156.2,741.5l-3.6,2.7 3.2-4.5 3.6-2.6zM159.8,739.5l-3.6,2 3.2-4.4 3.6,1.2zM163.4,743.7l-3.6-4.2 3.2-1.2 3.5,7.8z"/>
<path fill="#f6ee6c" d="M166.9,749.3l-3.5-5.6 3.1,2.4 3.6,3.8zM170.5,749.8l-3.6-0.5 3.2,0.6 3.6-0.6zM174.1,750.3l-3.6-0.5 3.2-0.5 3.6,2.1zM177.7,757l-3.6-6.7 3.2,1.1 3.5,4.7zM181.2,760.6l-3.5-3.6 3.1-0.9 3.6,3.2zM184.8,757.4l-3.6,3.2 3.2-1.3 3.6-1.3z"/>
<path fill="#f6ee6c" d="M188.4,752.3l-3.6,5.1 3.2,0.6 3.6-8.2zM192,751.4l-3.6,0.9 3.2-2.5 3.5-1.3zM195.5,749.6l-3.5,1.8 3.1-2.9 3.6,1.8zM199.1,743.8l-3.6,5.8 3.2,0.7 3.6-3.8zM202.7,740.8l-3.6,3 3.2,2.7 3.6,1.6z"/>
<path fill="#e8eb70" d="M206.3,750.8l-3.6-10 3.2,7.3 3.5,9.2z"/>
<path fill="#f6ee6c" d="M209.8,758.4l-3.5-7.6 3.1,6.5 3.6,7.2zM213.4,759l-3.6-0.6 3.2,6.1 3.6,0.1zM217,752.9l-3.6,6.1 3.2,5.6 3.6-5.6zM220.6,747l-3.6,5.9 3.2,6.1 3.5-5z"/>
<path fill="#f1ed6e" d="M224.1,756.2l-3.5-9.2 3.1,7 3.6-6.2z"/>
<path fill="#f6ee6c" d="M227.7,769.4l-3.6-13.2 3.2-8.4 3.6-0.3zM231.3,775.2l-3.6-5.8 3.2-21.9 3.6,10.4zM234.9,771.5l-3.6,3.7 3.2-17.3 3.6-0.4zM238.5,771.1l-3.6,0.4 3.2-14 3.5,3.9zM242,777.3l-3.5-6.2 3.1-9.7 3.6,7.2zM245.6,771.8l-3.6,5.5 3.2-8.7 3.6-6.6z"/>
<path fill="#f6ee6c" d="M249.2,757.8l-3.6,14 3.2-9.8 3.6-7zM252.8,755.2l-3.6,2.6 3.2-2.8 3.5,2.6z"/>
<path fill="#f4ee6d" d="M256.3,765.7l-3.5-10.5 3.1,2.4 3.6,0.1z"/>
<path fill="#f6ee6c" d="M259.9,775.9l-3.6-10.2 3.2-8 3.6,11zM263.5,781l-3.6-5.1 3.2-7.2 3.6,9.1zM267.1,777.6l-3.6,3.4 3.2-3.2 3.5-1.2zM270.6,773.9l-3.5,3.7 3.1-1 3.6-3.6zM274.2,773.9l-3.6,0 3.2-0.9 3.6,1.4zM277.8,772.1l-3.6,1.8 3.2,0.5 3.6-2.7z"/>
<path fill="#f6ee6c" d="M281.4,769.4l-3.6,2.7 3.2-0.4 3.5-12zM284.9,770.8l-3.5-1.4 3.1-9.7 3.6-3.8zM288.5,776.3l-3.6-5.5 3.2-14.9 3.6,16.3zM292.1,777.9l-3.6-1.6 3.2-4.1 3.6,2.5zM295.7,770l-3.6,7.9 3.2-3.2 3.5-7.4zM299.2,768.6l-3.5,1.4 3.1-2.7 3.6,0.8z"/>
<path fill="#f6ee6c" d="M302.8,770.5l-3.6-1.9 3.2-0.5 3.6,3.8zM306.4,773.7l-3.6-3.2 3.2,1.4 3.6-1.1zM310,775.8l-3.6-2.1 3.2-2.9 3.5-6.6zM313.5,773l-3.5,2.8 3.1-11.6 3.6-1.4zM317.1,773.7l-3.6-0.7 3.2-10.2 3.6,7zM320.7,779.9l-3.6-6.2 3.2-3.9 3.6,12.5z"/>
<path fill="#f6ee6c" d="M324.3,785.3l-3.6-5.4 3.2,2.4 3.6,3.6zM327.9,786l-3.6-0.7 3.2,0.6 3.5,1.6zM331.4,779.9l-3.5,6.1 3.1,1.5 3.6-2.6zM335,779.3l-3.6,0.6 3.2,5 3.6-4.8zM338.6,783.6l-3.6-4.3 3.2,0.8 3.6,2.5zM342.2,784.4l-3.6-0.8 3.2-1 3.5-4.4z"/>
<path fill="#f6ee6c" d="M345.7,783.5l-3.5,0.9 3.1-6.2 3.6-13.6zM349.3,780.4l-3.6,3.1 3.2-18.9 3.6,4.9zM352.9,778.9l-3.6,1.5 3.2-10.9 3.6,8.2zM356.5,782.2l-3.6-3.3 3.2-1.2 3.5,9zM360,787.4l-3.5-5.2 3.1,4.5 3.6,7zM363.6,792.9l-3.6-5.5 3.2,6.3 3.6,1.3z"/>
<path fill="#f6ee6c" d="M367.2,793.3l-3.6-0.4 3.2,2.1 3.6,1.9zM370.8,793.4l-3.6-0.1 3.2,3.6 3.5-1.5zM374.3,797.8l-3.5-4.4 3.1,2 3.6-2.1zM377.9,801.2l-3.6-3.4 3.2-4.5 3.6,3.2zM381.5,800.7l-3.6,0.5 3.2-4.7 3.6,2.5zM385.1,802.1l-3.6-1.4 3.2-1.7 3.5,1.6z"/>
<path fill="#f6ee6c" d="M388.6,799.3l-3.5,2.8 3.1-1.5 3.6,2.9zM392.2,789.4l-3.6,9.9 3.2,4.2 3.6-0.5zM395.8,792.1l-3.6-2.7 3.2,13.6 3.6-5.3zM399.4,797.3l-3.6-5.2 3.2,5.6 3.5-8zM403,800.4l-3.6-3.1 3.1-7.6 3.6-4.6zM406.5,802.9l-3.5-2.5 3.1-15.3 3.6,16.4z"/>
<path fill="#f6ee6c" d="M410.1,800.5l-3.6,2.4 3.2-1.4 3.6,9.5zM413.7,798.6l-3.6,1.9 3.2,10.5 3.6-1.3zM417.3,805.4l-3.6-6.8 3.2,11.1 3.5-0.4zM420.8,811.1l-3.5-5.7 3.1,3.9 3.6-1.4zM424.4,809.9l-3.6,1.2 3.2-3.2 3.6-4.5zM428,812.2l-3.6-2.3 3.2-6.5 3.6,3.1z"/>
<path fill="#f6ee6c" d="M431.6,814.8l-3.6-2.6 3.2-5.7 3.5,3.3zM435.1,810.1l-3.5,4.7 3.1-5 3.6-4.8zM438.7,807l-3.6,3.1 3.2-5.1 3.6,1.7zM442.3,813.1l-3.6-6.1 3.2-0.3 3.6,9.3zM445.9,818.2l-3.6-5.1 3.2,2.9 3.5,3zM449.4,816.2l-3.5,2 3.1,0.8 3.6-0.7z"/>
<path fill="#f6ee6c" d="M453,812.5l-3.6,3.7 3.2,2.1 3.6-2.3zM456.6,812.7l-3.6-0.2 3.2,3.5 3.6-3.8zM460.2,815.1l-3.6-2.4 3.2-0.5 3.5-2.4zM463.7,818.8l-3.5-3.7 3.1-5.3 3.6,0.2zM467.3,825.8l-3.6-7 3.2-8.8 3.6,4.2zM470.9,830l-3.6-4.2 3.2-11.6 3.6-0.3z"/>
<path fill="#f6ee6c" d="M474.5,825.2l-3.6,4.8 3.2-16.1 3.5-8.7zM478,812.7l-3.5,12.5 3.1-20 3.6-2.4zM481.6,809.3l-3.6,3.4 3.2-9.9 3.6,1.7zM485.2,812.2l-3.6-2.9 3.2-4.8 3.6,0.4zM488.8,815.5l-3.6-3.3 3.2-7.3 3.6,2.5zM492.4,813.8l-3.6,1.7 3.2-8.1 3.5,3z"/>
<path fill="#f6ee6c" d="M495.9,816.4l-3.5-2.6 3.1-3.4 3.6,3.2zM499.5,826.7l-3.6-10.3 3.2-2.8 3.6,4.9zM503.1,829.1l-3.6-2.4 3.2-8.2 3.6,0.5zM506.7,825.4l-3.6,3.7 3.2-10.1 3.5,0zM510.2,823.5l-3.5,1.9 3.1-6.4 3.6,2.8zM513.8,824.3l-3.6-0.8 3.2-1.7 3.6,4.5z"/>
<path fill="#f6ee6c" d="M517.4,827.2l-3.6-2.9 3.2,2 3.6,3.6zM521,830.5l-3.6-3.3 3.2,2.7 3.5,1.1zM524.5,837.2l-3.5-6.7 3.1,0.5 3.6,3.3zM528.1,840.9l-3.6-3.7 3.2-2.9 3.6,1.3zM531.7,836.8l-3.6,4.1 3.2-5.3 3.6-5.2zM535.3,835.4l-3.6,1.4 3.2-6.4 3.5-1.7z"/>
<path fill="#f6ee6c" d="M538.8,839.6l-3.5-4.2 3.1-6.7 3.6,3.4zM542.4,834.7l-3.6,4.9 3.2-7.5 3.6-3.4zM546,826l-3.6,8.7 3.2-6 3.6-6.5zM549.6,824.8l-3.6,1.2 3.2-3.8 3.5,0zM553.1,831l-3.5-6.2 3.1-2.6 3.6,4.6zM556.7,840.6l-3.6-9.6 3.2-4.2 3.6,4.9z"/>
<path fill="#f6ee6c" d="M560.3,841.9l-3.6-1.3 3.2-8.9 3.6,6zM563.9,841.7l-3.6,0.2 3.2-4.2 3.5,5.3zM567.4,845.9l-3.5-4.2 3.1,1.3 3.6,1.8zM571,850.4l-3.6-4.5 3.2-1.1 3.6-0.5zM574.6,849.4l-3.6,1 3.2-6.1 3.6-2.1zM578.2,843.9l-3.6,5.5 3.2-7.2 3.6-3.2z"/>
<path fill="#f6ee6c" d="M581.8,840.4l-3.6,3.5 3.2-4.9 3.5-6.3zM585.3,837.6l-3.5,2.8 3.1-7.7 3.6-4z"/>
<path fill="#f1ed6d" d="M588.9,831.4l-3.6,6.2 3.2-8.9 3.6-0.7z"/>
<path fill="#cee77a" d="M592.5,823.9l-3.6,7.5 3.2-3.4 3.6-6z"/>
<path fill="#f6ee6c" d="M99.4,746.7l-3.6,3.4 3.2-4.2 3.6-8.1zM103,746.5l-3.6,0.2 3.2-8.9 3.5-4.5zM106.5,746.8l-3.5-0.3 3.1-13.2 3.6,0.7zM110.1,743.1l-3.6,3.7 3.2-12.8 3.6,0zM113.7,736.6l-3.6,6.5 3.2-9.1 3.6-2.4zM117.3,736.9l-3.6-0.3 3.2-5 3.5-1.5z"/>
<path fill="#f6ee6c" d="M120.8,742.3l-3.5-5.4 3.1-6.8 3.6,2.4zM124.4,746.5l-3.6-4.2 3.2-9.8 3.6,5.4zM128,752.5l-3.6-6 3.2-8.6 3.6,7.5zM131.6,754.5l-3.6-2 3.2-7.1 3.5,0.2zM135.1,748.9l-3.5,5.6 3.1-8.9 3.6-7.6zM138.7,745.6l-3.6,3.3 3.2-10.9 3.6-2.5z"/>
<path fill="#f6ee6c" d="M142.3,747.6l-3.6-2 3.2-10.1 3.6-0.6zM145.9,752.1l-3.6-4.5 3.2-12.7 3.6,3zM149.5,758.2l-3.6-6.1 3.2-14.2 3.5,6.3zM153,759l-3.5-0.8 3.1-14 3.6-2.7zM156.6,753.8l-3.6,5.2 3.2-17.5 3.6-2zM160.2,752.9l-3.6,0.9 3.2-14.3 3.6,4.2z"/>
<path fill="#f6ee6c" d="M163.8,760.8l-3.6-7.9 3.2-9.2 3.5,5.6zM167.3,762.9l-3.5-2.1 3.1-11.5 3.6,0.5zM170.9,760.4l-3.6,2.5 3.2-13.1 3.6,0.5zM174.5,762.5l-3.6-2.1 3.2-10.1 3.6,6.7zM178.1,764.7l-3.6-2.2 3.2-5.5 3.5,3.6zM181.6,761.1l-3.5,3.6 3.1-4.1 3.6-3.2z"/>
<path fill="#f6ee6c" d="M185.2,754.9l-3.6,6.2 3.2-3.7 3.6-5.1zM188.8,751.3l-3.6,3.6 3.2-2.6 3.6-0.9zM192.4,751.8l-3.6-0.5 3.2,0.1 3.5-1.8zM195.9,753.4l-3.5-1.6 3.1-2.2 3.6-5.8zM199.5,753.1l-3.6,0.3 3.2-9.6 3.6-3zM203.1,754.5l-3.6-1.4 3.2-12.3 3.6,10z"/>
<path fill="#f6ee6c" d="M206.7,758.1l-3.6-3.6 3.2-3.7 3.5,7.6zM210.2,761.8l-3.5-3.7 3.1,0.3 3.6,0.6zM213.8,764.8l-3.6-3 3.2-2.8 3.6-6.1zM217.4,767.2l-3.6-2.4 3.2-11.9 3.6-5.9zM221,767.2l-3.6,0 3.2-20.2 3.5,9.2zM224.5,770.7l-3.5-3.5 3.1-11 3.6,13.2z"/>
<path fill="#f6ee6c" d="M228.1,777.1l-3.6-6.4 3.2-1.3 3.6,5.8zM231.7,776.1l-3.6,1 3.2-1.9 3.6-3.7zM235.3,775.2l-3.6,0.9 3.2-4.6 3.6-0.4zM238.9,779.1l-3.6-3.9 3.2-4.1 3.5,6.2zM242.4,774.6l-3.5,4.5 3.1-1.8 3.6-5.5zM246,769.1l-3.6,5.5 3.2-2.8 3.6-14z"/>
<path fill="#f6ee6c" d="M249.6,771.5l-3.6-2.4 3.2-11.3 3.6-2.6zM253.2,772.5l-3.6-1 3.2-16.3 3.5,10.5zM256.7,776.9l-3.5-4.4 3.1-6.8 3.6,10.2zM260.3,779.9l-3.6-3 3.2-1 3.6,5.1zM263.9,778.3l-3.6,1.6 3.2,1.1 3.6-3.4zM267.5,778.1l-3.6,0.2 3.2-0.7 3.5-3.7z"/>
<path fill="#f6ee6c" d="M271,775.2l-3.5,2.9 3.1-4.2 3.6,0zM274.6,774.3l-3.6,0.9 3.2-1.3 3.6-1.8zM278.2,780.1l-3.6-5.8 3.2-2.2 3.6-2.7zM281.8,782.1l-3.6-2 3.2-10.7 3.5,1.4zM285.3,784l-3.5-1.9 3.1-11.3 3.6,5.5zM288.9,785l-3.6-1 3.2-7.7 3.6,1.6z"/>
<path fill="#f6ee6c" d="M292.5,776.2l-3.6,8.8 3.2-7.1 3.6-7.9zM296.1,770.8l-3.6,5.4 3.2-6.2 3.5-1.4zM299.6,772.7l-3.5-1.9 3.1-2.2 3.6,1.9zM303.2,780.8l-3.6-8.1 3.2-2.2 3.6,3.2zM306.8,791.6l-3.6-10.8 3.2-7.1 3.6,2.1zM310.4,791.1l-3.6,0.5 3.2-15.8 3.5-2.8z"/>
<path fill="#f6ee6c" d="M314,782.9l-3.6,8.2 3.1-18.1 3.6,0.7zM317.5,783.6l-3.5-0.7 3.1-9.2 3.6,6.2zM321.1,788.1l-3.6-4.5 3.2-3.7 3.6,5.4zM324.7,787.9l-3.6,0.2 3.2-2.8 3.6,0.7zM328.3,784.4l-3.6,3.5 3.2-1.9 3.5-6.1zM331.8,784.5l-3.5-0.1 3.1-4.5 3.6-0.6z"/>
<path fill="#f6ee6c" d="M335.4,783.9l-3.6,0.6 3.2-5.2 3.6,4.3zM339,784.5l-3.6-0.6 3.2-0.3 3.6,0.8zM342.6,792.4l-3.6-7.9 3.2-0.1 3.5-0.9zM346.1,794.1l-3.5-1.7 3.1-8.9 3.6-3.1zM349.7,789.3l-3.6,4.8 3.2-13.7 3.6-1.5zM353.3,793l-3.6-3.7 3.2-10.4 3.6,3.3z"/>
<path fill="#f6ee6c" d="M356.9,799.3l-3.6-6.3 3.2-10.8 3.5,5.2zM360.4,793.3l-3.5,6 3.1-11.9 3.6,5.5zM364,788.1l-3.6,5.2 3.2-0.4 3.6,0.4zM367.6,794l-3.6-5.9 3.2,5.2 3.6,0.1zM371.2,803l-3.6-9 3.2-0.6 3.5,4.4zM374.7,806.4l-3.5-3.4 3.1-5.2 3.6,3.4z"/>
<path fill="#f6ee6c" d="M378.3,806.3l-3.6,0.1 3.2-5.2 3.6-0.5zM381.9,804.6l-3.6,1.7 3.2-5.6 3.6,1.4zM385.5,806.1l-3.6-1.5 3.2-2.5 3.5-2.8zM389,805.5l-3.5,0.6 3.1-6.8 3.6-9.9zM392.6,799l-3.6,6.5 3.2-16.1 3.6,2.7zM396.2,796.1l-3.6,2.9 3.2-6.9 3.6,5.2z"/>
<path fill="#f6ee6c" d="M399.8,797.5l-3.6-1.4 3.2,1.2 3.6,3.1zM403.4,793.2l-3.6,4.3 3.2,2.9 3.5,2.5z"/>
<path fill="#eeed6e" d="M406.9,791.8l-3.5,1.4 3.1,9.7 3.6-2.4z"/>
<path fill="#e5eb71" d="M410.5,794.3l-3.6-2.5 3.2,8.7 3.6-1.9z"/>
<path fill="#ecec6f" d="M414.1,800.4l-3.6-6.1 3.2,4.3 3.6,6.8z"/>
<path fill="#f6ee6c" d="M417.7,814l-3.6-13.6 3.2,5 3.5,5.7zM421.2,819.7l-3.5-5.7 3.1-2.9 3.6-1.2zM424.8,819.7l-3.6,0 3.2-9.8 3.6,2.3zM428.4,820l-3.6-0.3 3.2-7.5 3.6,2.6zM432,820.2l-3.6-0.2 3.2-5.2 3.5-4.7zM435.5,818l-3.5,2.2 3.1-10.1 3.6-3.1z"/>
<path fill="#f6ee6c" d="M439.1,816.1l-3.6,1.9 3.2-11 3.6,6.1zM442.7,817.7l-3.6-1.6 3.2-3 3.6,5.1zM446.3,816.1l-3.6,1.6 3.2,0.5 3.5-2zM449.8,814.2l-3.5,1.9 3.1,0.1 3.6-3.7zM453.4,817.4l-3.6-3.2 3.2-1.7 3.6,0.2zM457,819.7l-3.6-2.3 3.2-4.7 3.6,2.4z"/>
<path fill="#f6ee6c" d="M460.6,824.5l-3.6-4.8 3.2-4.6 3.5,3.7zM464.1,830.5l-3.5-6 3.1-5.7 3.6,7zM467.7,833.1l-3.6-2.6 3.2-4.7 3.6,4.2zM471.3,831.8l-3.6,1.3 3.2-3.1 3.6-4.8zM474.9,820.6l-3.6,11.2 3.2-6.6 3.5-12.5zM478.4,813.7l-3.5,6.9 3.1-7.9 3.6-3.4z"/>
<path fill="#f6ee6c" d="M482,818l-3.6-4.3 3.2-4.4 3.6,2.9zM485.6,822.7l-3.6-4.7 3.2-5.8 3.6,3.3zM489.2,824l-3.6-1.3 3.2-7.2 3.6-1.7zM492.8,829l-3.6-5 3.2-10.2 3.5,2.6zM496.3,831.1l-3.5-2.1 3.1-12.6 3.6,10.3zM499.9,830.5l-3.6,0.6 3.2-4.4 3.6,2.4z"/>
<path fill="#f6ee6c" d="M503.5,832.7l-3.6-2.2 3.2-1.4 3.6-3.7zM507.1,831.7l-3.6,1 3.2-7.3 3.5-1.9zM510.6,830.7l-3.5,1 3.1-8.2 3.6,0.8zM514.2,836.8l-3.6-6.1 3.2-6.4 3.6,2.9zM517.8,839.4l-3.6-2.6 3.2-9.6 3.6,3.3zM521.4,838.1l-3.6,1.3 3.2-8.9 3.5,6.7z"/>
<path fill="#f6ee6c" d="M524.9,841l-3.5-2.9 3.1-0.9 3.6,3.7zM528.5,842.8l-3.6-1.8 3.2-0.1 3.6-4.1zM532.1,843.1l-3.6-0.3 3.2-6 3.6-1.4zM535.7,845.8l-3.6-2.7 3.2-7.7 3.5,4.2zM539.2,842.7l-3.5,3.1 3.1-6.2 3.6-4.9zM542.8,832l-3.6,10.7 3.2-8 3.6-8.7z"/>
<path fill="#f6ee6c" d="M546.4,827l-3.6,5 3.2-6 3.6-1.2z"/>
<path fill="#f3ed6d" d="M550,830.1l-3.6-3.1 3.2-2.2 3.5,6.2z"/>
<path fill="#f6ee6c" d="M553.5,841.5l-3.5-11.4 3.1,0.9 3.6,9.6zM557.1,844.3l-3.6-2.8 3.2-0.9 3.6,1.3zM560.7,839.3l-3.6,5 3.2-2.4 3.6-0.2zM564.3,839.1l-3.6,0.2 3.2,2.4 3.5,4.2zM567.9,846l-3.6-6.9 3.1,6.8 3.6,4.5zM571.4,846.4l-3.5-0.4 3.1,4.4 3.6-1z"/>
<path fill="#f6ee6c" d="M575,838.5l-3.6,7.9 3.2,3 3.6-5.5zM578.6,837.5l-3.6,1 3.2,5.4 3.6-3.5zM582.2,838.1l-3.6-0.6 3.2,2.9 3.5-2.8z"/>
<path fill="#dae975" d="M585.7,829.9l-3.5,8.2 3.1-0.5 3.6-6.2z"/>
<path fill="#a9e18a" d="M589.3,820.2l-3.6,9.7 3.2,1.5 3.6-7.5z"/>
<path fill="#f6ee6c" d="M96.2,754.8l-3.6-0.5 3.2-4.2 3.6-3.4zM99.8,754.6l-3.6,0.2 3.2-8.1 3.6-0.2zM103.4,752.3l-3.6,2.3 3.2-8.1 3.5,0.3zM106.9,750.5l-3.5,1.8 3.1-5.5 3.6-3.7zM110.5,751.9l-3.6-1.4 3.2-7.4 3.6-6.5zM114.1,755l-3.6-3.1 3.2-15.3 3.6,0.3z"/>
<path fill="#f6ee6c" d="M117.7,755l-3.6,0 3.2-18.1 3.5,5.4zM121.2,754.1l-3.5,0.9 3.1-12.7 3.6,4.2zM124.8,757.4l-3.6-3.3 3.2-7.6 3.6,6zM128.4,759.1l-3.6-1.7 3.2-4.9 3.6,2zM132,756.8l-3.6,2.3 3.2-4.6 3.5-5.6zM135.5,753.8l-3.5,3 3.1-7.9 3.6-3.3z"/>
<path fill="#f6ee6c" d="M139.1,753.1l-3.6,0.7 3.2-8.2 3.6,2zM142.7,755.1l-3.6-2 3.2-5.5 3.6,4.5zM146.3,762l-3.6-6.9 3.2-3 3.6,6.1zM149.9,766.9l-3.6-4.9 3.2-3.8 3.5,0.8zM153.4,765.1l-3.5,1.8 3.1-7.9 3.6-5.2zM157,763.7l-3.6,1.4 3.2-11.3 3.6-0.9z"/>
<path fill="#f6ee6c" d="M160.6,768.9l-3.6-5.2 3.2-10.8 3.6,7.9zM164.2,769.2l-3.6-0.3 3.2-8.1 3.5,2.1zM167.7,760l-3.5,9.2 3.1-6.3 3.6-2.5zM171.3,748.4l-3.6,11.6 3.2,0.4 3.6,2.1zM174.9,756.1l-3.6-7.7 3.2,14.1 3.6,2.2zM178.5,763.5l-3.6-7.4 3.2,8.6 3.5-3.6z"/>
<path fill="#f6ee6c" d="M182,759.4l-3.5,4.1 3.1-2.4 3.6-6.2zM185.6,755.1l-3.6,4.3 3.2-4.5 3.6-3.6zM189.2,758l-3.6-2.9 3.2-3.8 3.6,0.5zM192.8,759.9l-3.6-1.9 3.2-6.2 3.5,1.6zM196.3,755.9l-3.5,4 3.1-6.5 3.6-0.3zM199.9,755.3l-3.6,0.6 3.2-2.8 3.6,1.4z"/>
<path fill="#f6ee6c" d="M203.5,761.1l-3.6-5.8 3.2-0.8 3.6,3.6zM207.1,769.5l-3.6-8.4 3.2-3 3.5,3.7zM210.6,771.6l-3.5-2.1 3.1-7.7 3.6,3zM214.2,772.8l-3.6-1.2 3.2-6.8 3.6,2.4zM217.8,775.1l-3.6-2.3 3.2-5.6 3.6,0zM221.4,778.2l-3.6-3.1 3.2-7.9 3.5,3.5z"/>
<path fill="#f6ee6c" d="M224.9,782.1l-3.5-3.9 3.1-7.5 3.6,6.4zM228.5,779.3l-3.6,2.8 3.2-5 3.6-1zM232.1,774.8l-3.6,4.5 3.2-3.2 3.6-0.9zM235.7,777.7l-3.6-2.9 3.2,0.4 3.6,3.9zM239.3,778.9l-3.6-1.2 3.2,1.4 3.5-4.5zM242.8,781l-3.5-2.1 3.1-4.3 3.6-5.5z"/>
<path fill="#f6ee6c" d="M246.4,781.9l-3.6-0.9 3.2-11.9 3.6,2.4zM250,778.4l-3.6,3.5 3.2-10.4 3.6,1zM253.6,777.9l-3.6,0.5 3.2-5.9 3.5,4.4zM257.1,778.7l-3.5-0.8 3.1-1 3.6,3zM260.7,781.4l-3.6-2.7 3.2,1.2 3.6-1.6zM264.3,783.5l-3.6-2.1 3.2-3.1 3.6-0.2z"/>
<path fill="#f6ee6c" d="M267.9,778.4l-3.6,5.1 3.2-5.4 3.5-2.9zM271.4,776.6l-3.5,1.8 3.1-3.2 3.6-0.9zM275,781.5l-3.6-4.9 3.2-2.3 3.6,5.8zM278.6,781.4l-3.6,0.1 3.2-1.4 3.6,2zM282.2,782.8l-3.6-1.4 3.2,0.7 3.5,1.9zM285.7,789.5l-3.5-6.7 3.1,1.2 3.6,1z"/>
<path fill="#f6ee6c" d="M289.3,787l-3.6,2.5 3.2-4.5 3.6-8.8zM292.9,778.9l-3.6,8.1 3.2-10.8 3.6-5.4zM296.5,780.2l-3.6-1.3 3.2-8.1 3.5,1.9zM300,790l-3.5-9.8 3.1-7.5 3.6,8.1zM303.6,799.9l-3.6-9.9 3.2-9.2 3.6,10.8zM307.2,800.4l-3.6-0.5 3.2-8.3 3.6-0.5z"/>
<path fill="#f6ee6c" d="M310.8,788.6l-3.6,11.8 3.2-9.3 3.6-8.2zM314.4,783.1l-3.6,5.5 3.2-5.7 3.5,0.7zM317.9,791.3l-3.5-8.2 3.1,0.5 3.6,4.5zM321.5,794.7l-3.6-3.4 3.2-3.2 3.6-0.2zM325.1,794.3l-3.6,0.4 3.2-6.8 3.6-3.5zM328.7,794.1l-3.6,0.2 3.2-9.9 3.5,0.1z"/>
<path fill="#f6ee6c" d="M332.2,794.1l-3.5,0 3.1-9.6 3.6-0.6zM335.8,798.3l-3.6-4.2 3.2-10.2 3.6,0.6zM339.4,807l-3.6-8.7 3.2-13.8 3.6,7.9zM343,807.1l-3.6-0.1 3.2-14.6 3.5,1.7zM346.5,799l-3.5,8.1 3.1-13 3.6-4.8zM350.1,798l-3.6,1 3.2-9.7 3.6,3.7z"/>
<path fill="#f6ee6c" d="M353.7,799.3l-3.6-1.3 3.2-5 3.6,6.3zM357.3,793.1l-3.6,6.2 3.2,0 3.5-6zM360.8,790.9l-3.5,2.2 3.1,0.2 3.6-5.2zM364.4,795.5l-3.6-4.6 3.2-2.8 3.6,5.9zM368,802.5l-3.6-7 3.2-1.5 3.6,9zM371.6,813.5l-3.6-11 3.2,0.5 3.5,3.4z"/>
<path fill="#f6ee6c" d="M375.1,818.1l-3.5-4.6 3.1-7.1 3.6-0.1zM378.7,813.1l-3.6,5 3.2-11.8 3.6-1.7zM382.3,810.9l-3.6,2.2 3.2-8.5 3.6,1.5zM385.9,812.8l-3.6-1.9 3.2-4.8 3.5-0.6zM389.4,807.2l-3.5,5.6 3.1-7.3 3.6-6.5zM393,805.4l-3.6,1.8 3.2-8.2 3.6-2.9z"/>
<path fill="#f6ee6c" d="M396.6,813.3l-3.6-7.9 3.2-9.3 3.6,1.4zM400.2,817.3l-3.6-4 3.2-15.8 3.6-4.3zM403.8,813.5l-3.6,3.8 3.2-24.1 3.5-1.4zM407.3,810.2l-3.5,3.3 3.1-21.7 3.6,2.5zM410.9,816.4l-3.6-6.2 3.2-15.9 3.6,6.1zM414.5,823.8l-3.6-7.4 3.2-16 3.6,13.6z"/>
<path fill="#f6ee6c" d="M418.1,823.2l-3.6,0.6 3.2-9.8 3.5,5.7zM421.6,822.2l-3.5,1 3.1-3.5 3.6,0zM425.2,826.9l-3.6-4.7 3.2-2.5 3.6,0.3zM428.8,830.5l-3.6-3.6 3.2-6.9 3.6,0.2zM432.4,829.9l-3.6,0.6 3.2-10.3 3.5-2.2zM435.9,826.7l-3.5,3.2 3.1-11.9 3.6-1.9z"/>
<path fill="#f6ee6c" d="M439.5,824.6l-3.6,2.1 3.2-10.6 3.6,1.6zM443.1,819.9l-3.6,4.7 3.2-6.9 3.6-1.6zM446.7,815.4l-3.6,4.5 3.2-3.8 3.5-1.9zM450.2,817.5l-3.5-2.1 3.1-1.2 3.6,3.2zM453.8,822l-3.6-4.5 3.2-0.1 3.6,2.3zM457.4,828.4l-3.6-6.4 3.2-2.3 3.6,4.8z"/>
<path fill="#f6ee6c" d="M461,830.6l-3.6-2.2 3.2-3.9 3.5,6zM464.5,828l-3.5,2.6 3.1-0.1 3.6,2.6zM468.1,828.4l-3.6-0.4 3.2,5.1 3.6-1.3zM471.7,825.9l-3.6,2.5 3.2,3.4 3.6-11.2zM475.3,825.3l-3.6,0.6 3.2-5.3 3.5-6.9zM478.9,832.4l-3.6-7.1 3.1-11.6 3.6,4.3z"/>
<path fill="#f6ee6c" d="M482.4,837.4l-3.5-5 3.1-14.4 3.6,4.7zM486,838.1l-3.6-0.7 3.2-14.7 3.6,1.3zM489.6,836.9l-3.6,1.2 3.2-14.1 3.6,5zM493.2,831.8l-3.6,5.1 3.2-7.9 3.5,2.1zM496.7,831.4l-3.5,0.4 3.1-0.7 3.6-0.6zM500.3,839.5l-3.6-8.1 3.2-0.9 3.6,2.2z"/>
<path fill="#f6ee6c" d="M503.9,840.4l-3.6-0.9 3.2-6.8 3.6-1zM507.5,838l-3.6,2.4 3.2-8.7 3.5-1zM511,843.5l-3.5-5.5 3.1-7.3 3.6,6.1zM514.6,845.4l-3.6-1.9 3.2-6.7 3.6,2.6zM518.2,842.1l-3.6,3.3 3.2-6 3.6-1.3zM521.8,844.9l-3.6-2.8 3.2-4 3.5,2.9z"/>
<path fill="#f6ee6c" d="M525.3,850.1l-3.5-5.2 3.1-3.9 3.6,1.8zM528.9,849.5l-3.6,0.6 3.2-7.3 3.6,0.3zM532.5,850.7l-3.6-1.2 3.2-6.4 3.6,2.7zM536.1,853.1l-3.6-2.4 3.2-4.9 3.5-3.1zM539.6,848l-3.5,5.1 3.1-10.4 3.6-10.7zM543.2,840.3l-3.6,7.7 3.2-16 3.6-5z"/>
<path fill="#f6ee6c" d="M546.8,841.2l-3.6-0.9 3.2-13.3 3.6,3.1zM550.4,849.6l-3.6-8.4 3.2-11.1 3.5,11.4zM553.9,851.8l-3.5-2.2 3.1-8.1 3.6,2.8zM557.5,845.6l-3.6,6.2 3.2-7.5 3.6-5zM561.1,841l-3.6,4.6 3.2-6.3 3.6-0.2zM564.7,840.7l-3.6,0.3 3.2-1.9 3.6,6.9z"/>
<path fill="#f6ee6c" d="M568.3,843.9l-3.6-3.2 3.2,5.3 3.5,0.4zM571.8,843.6l-3.5,0.3 3.1,2.5 3.6-7.9zM575.4,840l-3.6,3.6 3.2-5.1 3.6-1z"/>
<path fill="#ebec70" d="M579,837.4l-3.6,2.6 3.2-2.5 3.6,0.6z"/>
<path fill="#d1e778" d="M582.6,832l-3.6,5.4 3.2,0.7 3.5-8.2z"/>
<path fill="#a9e18a" d="M586.1,826.9l-3.5,5.1 3.1-2.1 3.6-9.7z"/>
<path fill="#f6ee6c" d="M93,754.2l-3.5-0.5 3.1,0.6 3.6,0.5zM96.6,753.2l-3.6,1 3.2,0.6 3.6-0.2zM100.2,748l-3.6,5.2 3.2,1.4 3.6-2.3zM103.8,745.3l-3.6,2.7 3.2,4.3 3.5-1.8zM107.3,750.7l-3.5-5.4 3.1,5.2 3.6,1.4zM110.9,757.6l-3.6-6.9 3.2,1.2 3.6,3.1z"/>
<path fill="#f6ee6c" d="M114.5,758.1l-3.6-0.5 3.2-2.6 3.6,0zM118.1,754.5l-3.6,3.6 3.2-3.1 3.5-0.9zM121.6,755.6l-3.5-1.1 3.1-0.4 3.6,3.3zM125.2,759.7l-3.6-4.1 3.2,1.8 3.6,1.7zM128.8,759.3l-3.6,0.4 3.2-0.6 3.6-2.3zM132.4,756.1l-3.6,3.2 3.2-2.5 3.5-3z"/>
<path fill="#f6ee6c" d="M135.9,756.9l-3.5-0.8 3.1-2.3 3.6-0.7zM139.5,761.1l-3.6-4.2 3.2-3.8 3.6,2zM143.1,768l-3.6-6.9 3.2-6 3.6,6.9zM146.7,771.6l-3.6-3.6 3.2-6 3.6,4.9zM150.3,772.4l-3.6-0.8 3.2-4.7 3.5-1.8zM153.8,773.2l-3.5-0.8 3.1-7.3 3.6-1.4z"/>
<path fill="#f6ee6c" d="M157.4,774l-3.6-0.8 3.2-9.5 3.6,5.2zM161,774.5l-3.6-0.5 3.2-5.1 3.6,0.3zM164.6,773.7l-3.6,0.8 3.2-5.3 3.5-9.2zM168.1,769.9l-3.5,3.8 3.1-13.7 3.6-11.6zM171.7,770.6l-3.6-0.7 3.2-21.5 3.6,7.7zM175.3,773.5l-3.6-2.9 3.2-14.5 3.6,7.4z"/>
<path fill="#f6ee6c" d="M178.9,771.3l-3.6,2.2 3.2-10 3.5-4.1zM182.4,770.2l-3.5,1.1 3.1-11.9 3.6-4.3zM186,772.1l-3.6-1.9 3.2-15.1 3.6,2.9zM189.6,771.2l-3.6,0.9 3.2-14.1 3.6,1.9zM193.2,767.2l-3.6,4 3.2-11.3 3.5-4zM196.7,762.9l-3.5,4.3 3.1-11.3 3.6-0.6z"/>
<path fill="#f6ee6c" d="M200.3,763.4l-3.6-0.5 3.2-7.6 3.6,5.8zM203.9,770.1l-3.6-6.7 3.2-2.3 3.6,8.4zM207.5,774.1l-3.6-4 3.2-0.6 3.5,2.1zM211,776.2l-3.5-2.1 3.1-2.5 3.6,1.2zM214.6,780.3l-3.6-4.1 3.2-3.4 3.6,2.3zM218.2,783.1l-3.6-2.8 3.2-5.2 3.6,3.1z"/>
<path fill="#f6ee6c" d="M221.8,785.6l-3.6-2.5 3.2-4.9 3.5,3.9zM225.4,782.6l-3.6,3 3.1-3.5 3.6-2.8zM228.9,774.1l-3.5,8.5 3.1-3.3 3.6-4.5zM232.5,772.5l-3.6,1.6 3.2,0.7 3.6,2.9zM236.1,776.4l-3.6-3.9 3.2,5.2 3.6,1.2zM239.7,785.3l-3.6-8.9 3.2,2.5 3.5,2.1z"/>
<path fill="#f6ee6c" d="M243.2,790.1l-3.5-4.8 3.1-4.3 3.6,0.9zM246.8,788.2l-3.6,1.9 3.2-8.2 3.6-3.5zM250.4,785.8l-3.6,2.4 3.2-9.8 3.6-0.5zM254,783.2l-3.6,2.6 3.2-7.9 3.5,0.8zM257.5,784.4l-3.5-1.2 3.1-4.5 3.6,2.7zM261.1,789.2l-3.6-4.8 3.2-3 3.6,2.1z"/>
<path fill="#f6ee6c" d="M264.7,790.3l-3.6-1.1 3.2-5.7 3.6-5.1zM268.3,786.5l-3.6,3.8 3.2-11.9 3.5-1.8zM271.8,781.5l-3.5,5 3.1-9.9 3.6,4.9zM275.4,781.3l-3.6,0.2 3.2,0 3.6-0.1zM279,786.4l-3.6-5.1 3.2,0.1 3.6,1.4zM282.6,789.2l-3.6-2.8 3.2-3.6 3.5,6.7z"/>
<path fill="#f6ee6c" d="M286.1,786.3l-3.5,2.9 3.1,0.3 3.6-2.5zM289.7,778.8l-3.6,7.5 3.2,0.7 3.6-8.1zM293.3,774.6l-3.6,4.2 3.2,0.1 3.6,1.3z"/>
<path fill="#e1ea73" d="M296.9,787.6l-3.6-13 3.2,5.6 3.5,9.8z"/>
<path fill="#f6ee6c" d="M300.4,797.7l-3.5-10.1 3.1,2.4 3.6,9.9zM304,796.4l-3.6,1.3 3.2,2.2 3.6,0.5zM307.6,794.3l-3.6,2.1 3.2,4 3.6-11.8zM311.2,797.2l-3.6-2.9 3.2-5.7 3.6-5.5zM314.8,803.3l-3.6-6.1 3.2-14.1 3.5,8.2zM318.3,802.3l-3.5,1 3.1-12 3.6,3.4z"/>
<path fill="#f6ee6c" d="M321.9,800.3l-3.6,2 3.2-7.6 3.6-0.4zM325.5,802.7l-3.6-2.4 3.2-6 3.6-0.2zM329.1,800.8l-3.6,1.9 3.2-8.6 3.5,0zM332.6,794.4l-3.5,6.4 3.1-6.7 3.6,4.2zM336.2,805l-3.6-10.6 3.2,3.9 3.6,8.7zM339.8,810.9l-3.6-5.9 3.2,2 3.6,0.1z"/>
<path fill="#f6ee6c" d="M343.4,805.6l-3.6,5.3 3.2-3.8 3.5-8.1zM346.9,804.6l-3.5,1 3.1-6.6 3.6-1zM350.5,803.3l-3.6,1.3 3.2-6.6 3.6,1.3zM354.1,799l-3.6,4.3 3.2-4 3.6-6.2zM357.7,801l-3.6-2 3.2-5.9 3.5-2.2zM361.2,802.8l-3.5-1.8 3.1-10.1 3.6,4.6z"/>
<path fill="#f6ee6c" d="M364.8,803.8l-3.6-1 3.2-7.3 3.6,7zM368.4,816.8l-3.6-13 3.2-1.3 3.6,11zM372,822.4l-3.6-5.6 3.2-3.3 3.5,4.6zM375.5,817.7l-3.5,4.7 3.1-4.3 3.6-5zM379.1,817l-3.6,0.7 3.2-4.6 3.6-2.2zM382.7,818.9l-3.6-1.9 3.2-6.1 3.6,1.9z"/>
<path fill="#f6ee6c" d="M386.3,815.6l-3.6,3.3 3.2-6.1 3.5-5.6zM389.8,817.2l-3.5-1.6 3.1-8.4 3.6-1.8zM393.4,820.5l-3.6-3.3 3.2-11.8 3.6,7.9zM397,819.4l-3.6,1.1 3.2-7.2 3.6,4zM400.6,817.9l-3.6,1.5 3.2-2.1 3.6-3.8zM404.2,820.3l-3.6-2.4 3.2-4.4 3.5-3.3z"/>
<path fill="#f6ee6c" d="M407.7,826.4l-3.5-6.1 3.1-10.1 3.6,6.2zM411.3,825.7l-3.6,0.7 3.2-10 3.6,7.4zM414.9,818l-3.6,7.7 3.2-1.9 3.6-0.6zM418.5,820.8l-3.6-2.8 3.2,5.2 3.5-1zM422,828.8l-3.5-8 3.1,1.4 3.6,4.7zM425.6,828.8l-3.6,0 3.2-1.9 3.6,3.6z"/>
<path fill="#f6ee6c" d="M429.2,828.8l-3.6,0 3.2,1.7 3.6-0.6zM432.8,831.1l-3.6-2.3 3.2,1.1 3.5-3.2zM436.3,829.1l-3.5,2 3.1-4.4 3.6-2.1zM439.9,823.3l-3.6,5.8 3.2-4.5 3.6-4.7zM443.5,818.6l-3.6,4.7 3.2-3.4 3.6-4.5zM447.1,819l-3.6-0.4 3.2-3.2 3.5,2.1z"/>
<path fill="#f6ee6c" d="M450.6,822.6l-3.5-3.6 3.1-1.5 3.6,4.5zM454.2,826.3l-3.6-3.7 3.2-0.6 3.6,6.4zM457.8,824.9l-3.6,1.4 3.2,2.1 3.6,2.2zM461.4,821.4l-3.6,3.5 3.2,5.7 3.5-2.6zM464.9,822.1l-3.5-0.7 3.1,6.6 3.6,0.4zM468.5,827.1l-3.6-5 3.2,6.3 3.6-2.5z"/>
<path fill="#f6ee6c" d="M472.1,836.2l-3.6-9.1 3.2-1.2 3.6-0.6zM475.7,841.1l-3.6-4.9 3.2-10.9 3.6,7.1zM479.3,842.5l-3.6-1.4 3.2-8.7 3.5,5zM482.8,840.2l-3.5,2.3 3.1-5.1 3.6,0.7zM486.4,835.3l-3.6,4.9 3.2-2.1 3.6-1.2zM490,836l-3.6-0.7 3.2,1.6 3.6-5.1z"/>
<path fill="#f6ee6c" d="M493.6,839.3l-3.6-3.3 3.2-4.2 3.5-0.4zM497.1,844.2l-3.5-4.9 3.1-7.9 3.6,8.1zM500.7,842.8l-3.6,1.4 3.2-4.7 3.6,0.9zM504.3,839.3l-3.6,3.5 3.2-2.4 3.6-2.4zM507.9,842.3l-3.6-3 3.2-1.3 3.5,5.5zM511.4,841.6l-3.5,0.7 3.1,1.2 3.6,1.9z"/>
<path fill="#f6ee6c" d="M515,841l-3.6,0.6 3.2,3.8 3.6-3.3zM518.6,845.9l-3.6-4.9 3.2,1.1 3.6,2.8zM522.2,849l-3.6-3.1 3.2-1 3.5,5.2zM525.7,847.2l-3.5,1.8 3.1,1.1 3.6-0.6zM529.3,848.6l-3.6-1.4 3.2,2.3 3.6,1.2zM532.9,852l-3.6-3.4 3.2,2.1 3.6,2.4z"/>
<path fill="#f6ee6c" d="M536.5,853.3l-3.6-1.3 3.2,1.1 3.5-5.1zM540,856.4l-3.5-3.1 3.1-5.3 3.6-7.7zM543.6,858.4l-3.6-2 3.2-16.1 3.6,0.9zM547.2,857.2l-3.6,1.2 3.2-17.2 3.6,8.4zM550.8,850.5l-3.6,6.7 3.2-7.6 3.5,2.2zM554.3,846.4l-3.5,4.1 3.1,1.3 3.6-6.2z"/>
<path fill="#f6ee6c" d="M557.9,844.8l-3.6,1.6 3.2-0.8 3.6-4.6zM561.5,841.5l-3.6,3.3 3.2-3.8 3.6-0.3zM565.1,846.2l-3.6-4.7 3.2-0.8 3.6,3.2zM568.7,852l-3.6-5.8 3.2-2.3 3.5-0.3zM572.2,848l-3.5,4 3.1-8.4 3.6-3.6z"/>
<path fill="#eaec70" d="M575.8,841.4l-3.6,6.6 3.2-8 3.6-2.6z"/>
<path fill="#d0e779" d="M579.4,836.2l-3.6,5.2 3.2-4 3.6-5.4z"/>
<path fill="#b5e385" d="M583,835.9l-3.6,0.3 3.2-4.2 3.5-5.1z"/>
<path fill="#f6ee6c" d="M89.9,759.6l-3.6-1.2 3.2-4.7 3.5,0.5zM93.4,758.6l-3.5,1 3.1-5.4 3.6-1zM97,753.5l-3.6,5.1 3.2-5.4 3.6-5.2zM100.6,746.5l-3.6,7 3.2-5.5 3.6-2.7zM104.2,748.8l-3.6-2.3 3.2-1.2 3.5,5.4zM107.7,760.6l-3.5-11.8 3.1,1.9 3.6,6.9z"/>
<path fill="#f6ee6c" d="M111.3,765.6l-3.6-5 3.2-3 3.6,0.5zM114.9,761.9l-3.6,3.7 3.2-7.5 3.6-3.6zM118.5,758.7l-3.6,3.2 3.2-7.4 3.5,1.1zM122,762.8l-3.5-4.1 3.1-3.1 3.6,4.1zM125.6,764.9l-3.6-2.1 3.2-3.1 3.6-0.4zM129.2,762.5l-3.6,2.4 3.2-5.6 3.6-3.2z"/>
<path fill="#f6ee6c" d="M132.8,764.6l-3.6-2.1 3.2-6.4 3.5,0.8zM136.4,769.6l-3.6-5 3.1-7.7 3.6,4.2zM139.9,772.4l-3.5-2.8 3.1-8.5 3.6,6.9zM143.5,775.3l-3.6-2.9 3.2-4.4 3.6,3.6zM147.1,776.6l-3.6-1.3 3.2-3.7 3.6,0.8zM150.7,777.4l-3.6-0.8 3.2-4.2 3.5,0.8z"/>
<path fill="#f6ee6c" d="M154.2,774l-3.5,3.4 3.1-4.2 3.6,0.8zM157.8,771l-3.6,3 3.2,0 3.6,0.5zM161.4,771.8l-3.6-0.8 3.2,3.5 3.6-0.8zM165,773.7l-3.6-1.9 3.2,1.9 3.5-3.8zM168.5,777.9l-3.5-4.2 3.1-3.8 3.6,0.7zM172.1,777l-3.6,0.9 3.2-7.3 3.6,2.9z"/>
<path fill="#f6ee6c" d="M175.7,773.4l-3.6,3.6 3.2-3.5 3.6-2.2zM179.3,778.6l-3.6-5.2 3.2-2.1 3.5-1.1zM182.8,783.4l-3.5-4.8 3.1-8.4 3.6,1.9zM186.4,783.2l-3.6,0.2 3.2-11.3 3.6-0.9zM190,781.4l-3.6,1.8 3.2-12 3.6-4zM193.6,775.8l-3.6,5.6 3.2-14.2 3.5-4.3z"/>
<path fill="#f6ee6c" d="M197.1,767.8l-3.5,8 3.1-12.9 3.6,0.5zM200.7,768.5l-3.6-0.7 3.2-4.4 3.6,6.7zM204.3,772.3l-3.6-3.8 3.2,1.6 3.6,4zM207.9,772.2l-3.6,0.1 3.2,1.8 3.5,2.1zM211.4,781.6l-3.5-9.4 3.1,4 3.6,4.1zM215,787.3l-3.6-5.7 3.2-1.3 3.6,2.8z"/>
<path fill="#f6ee6c" d="M218.6,790.4l-3.6-3.1 3.2-4.2 3.6,2.5zM222.2,790.7l-3.6-0.3 3.2-4.8 3.6-3zM225.8,779.7l-3.6,11 3.2-8.1 3.5-8.5zM229.3,763.5l-3.5,16.2 3.1-5.6 3.6-1.6z"/>
<path fill="#dbe974" d="M232.9,768.2l-3.6-4.7 3.2,9 3.6,3.9z"/>
<path fill="#ebec6f" d="M236.5,781.1l-3.6-12.9 3.2,8.2 3.6,8.9z"/>
<path fill="#f6ee6c" d="M240.1,788.6l-3.6-7.5 3.2,4.2 3.5,4.8zM243.6,790.9l-3.5-2.3 3.1,1.5 3.6-1.9zM247.2,792.8l-3.6-1.9 3.2-2.7 3.6-2.4zM250.8,789.1l-3.6,3.7 3.2-7 3.6-2.6zM254.4,785.5l-3.6,3.6 3.2-5.9 3.5,1.2zM257.9,791.5l-3.5-6 3.1-1.1 3.6,4.8z"/>
<path fill="#f6ee6c" d="M261.5,799.5l-3.6-8 3.2-2.3 3.6,1.1zM265.1,798.6l-3.6,0.9 3.2-9.2 3.6-3.8zM268.7,790.7l-3.6,7.9 3.2-12.1 3.5-5zM272.2,788.5l-3.5,2.2 3.1-9.2 3.6-0.2zM275.8,788.3l-3.6,0.2 3.2-7.2 3.6,5.1zM279.4,785.3l-3.6,3 3.2-1.9 3.6,2.8z"/>
<path fill="#f6ee6c" d="M283,785.9l-3.6-0.6 3.2,3.9 3.5-2.9zM286.5,790.5l-3.5-4.6 3.1,0.4 3.6-7.5zM290.1,796.8l-3.6-6.3 3.2-11.7 3.6-4.2zM293.7,803.4l-3.6-6.6 3.2-22.2 3.6,13zM297.3,808.4l-3.6-5 3.2-15.8 3.5,10.1zM300.8,809.6l-3.5-1.2 3.1-10.7 3.6-1.3z"/>
<path fill="#f6ee6c" d="M304.4,805.8l-3.6,3.8 3.2-13.2 3.6-2.1zM308,804.1l-3.6,1.7 3.2-11.5 3.6,2.9zM311.6,807.4l-3.6-3.3 3.2-6.9 3.6,6.1zM315.2,809.2l-3.6-1.8 3.2-4.1 3.5-1zM318.7,808.8l-3.5,0.4 3.1-6.9 3.6-2zM322.3,810.5l-3.6-1.7 3.2-8.5 3.6,2.4z"/>
<path fill="#f6ee6c" d="M325.9,814.2l-3.6-3.7 3.2-7.8 3.6-1.9zM329.5,812.6l-3.6,1.6 3.2-13.4 3.5-6.4zM333,811.2l-3.5,1.4 3.1-18.2 3.6,10.6zM336.6,815.8l-3.6-4.6 3.2-6.2 3.6,5.9zM340.2,815.2l-3.6,0.6 3.2-4.9 3.6-5.3zM343.8,807.5l-3.6,7.7 3.2-9.6 3.5-1z"/>
<path fill="#f6ee6c" d="M347.3,800.2l-3.5,7.3 3.1-2.9 3.6-1.3zM350.9,798.4l-3.6,1.8 3.2,3.1 3.6-4.3zM354.5,802.4l-3.6-4 3.2,0.6 3.6,2zM358.1,806l-3.6-3.6 3.2-1.4 3.5,1.8zM361.6,805l-3.5,1 3.1-3.2 3.6,1zM365.2,810.2l-3.6-5.2 3.2-1.2 3.6,13z"/>
<path fill="#f6ee6c" d="M368.8,815.7l-3.6-5.5 3.2,6.6 3.6,5.6zM372.4,813.1l-3.6,2.6 3.2,6.7 3.5-4.7zM375.9,816.3l-3.5-3.2 3.1,4.6 3.6-0.7zM379.5,819.4l-3.6-3.1 3.2,0.7 3.6,1.9zM383.1,818.4l-3.6,1 3.2-0.5 3.6-3.3zM386.7,821.9l-3.6-3.5 3.2-2.8 3.5,1.6z"/>
<path fill="#f6ee6c" d="M390.3,821.6l-3.6,0.3 3.1-4.7 3.6,3.3zM393.8,817.8l-3.5,3.8 3.1-1.1 3.6-1.1zM397.4,818l-3.6-0.2 3.2,1.6 3.6-1.5zM401,823.3l-3.6-5.3 3.2-0.1 3.6,2.4zM404.6,827.7l-3.6-4.4 3.2-3 3.5,6.1zM408.1,823.3l-3.5,4.4 3.1-1.3 3.6-0.7z"/>
<path fill="#f6ee6c" d="M411.7,818.5l-3.6,4.8 3.2,2.4 3.6-7.7zM415.3,823.1l-3.6-4.6 3.2-0.5 3.6,2.8zM418.9,826.3l-3.6-3.2 3.2-2.3 3.5,8zM422.4,822l-3.5,4.3 3.1,2.5 3.6,0zM426,825.8l-3.6-3.8 3.2,6.8 3.6,0zM429.6,833.7l-3.6-7.9 3.2,3 3.6,2.3z"/>
<path fill="#f6ee6c" d="M433.2,833.5l-3.6,0.2 3.2-2.6 3.5-2zM436.7,831l-3.5,2.5 3.1-4.4 3.6-5.8zM440.3,830.5l-3.6,0.5 3.2-7.7 3.6-4.7zM443.9,830.4l-3.6,0.1 3.2-11.9 3.6,0.4zM447.5,829.7l-3.6,0.7 3.2-11.4 3.5,3.6zM451,832.3l-3.5-2.6 3.1-7.1 3.6,3.7z"/>
<path fill="#f6ee6c" d="M454.6,833.3l-3.6-1 3.2-6 3.6-1.4zM458.2,829.5l-3.6,3.8 3.2-8.4 3.6-3.5zM461.8,828.3l-3.6,1.2 3.2-8.1 3.5,0.7zM465.3,834.8l-3.5-6.5 3.1-6.2 3.6,5zM468.9,844.9l-3.6-10.1 3.2-7.7 3.6,9.1zM472.5,846.9l-3.6-2 3.2-8.7 3.6,4.9z"/>
<path fill="#f6ee6c" d="M476.1,845.2l-3.6,1.7 3.2-5.8 3.6,1.4zM479.7,842.9l-3.6,2.3 3.2-2.7 3.5-2.3zM483.2,843.6l-3.5-0.7 3.1-2.7 3.6-4.9zM486.8,848.9l-3.6-5.3 3.2-8.3 3.6,0.7zM490.4,851.5l-3.6-2.6 3.2-12.9 3.6,3.3zM494,850l-3.6,1.5 3.2-12.2 3.5,4.9z"/>
<path fill="#f6ee6c" d="M497.5,842l-3.5,8 3.1-5.8 3.6-1.4zM501.1,839.1l-3.6,2.9 3.2,0.8 3.6-3.5zM504.7,844.5l-3.6-5.4 3.2,0.2 3.6,3zM508.3,843l-3.6,1.5 3.2-2.2 3.5-0.7zM511.8,840.1l-3.5,2.9 3.1-1.4 3.6-0.6zM515.4,843.7l-3.6-3.6 3.2,0.9 3.6,4.9z"/>
<path fill="#f6ee6c" d="M519,845.7l-3.6-2 3.2,2.2 3.6,3.1zM522.6,844.1l-3.6,1.6 3.2,3.3 3.5-1.8zM526.1,845.1l-3.5-1 3.1,3.1 3.6,1.4zM529.7,847.2l-3.6-2.1 3.2,3.5 3.6,3.4zM533.3,854.8l-3.6-7.6 3.2,4.8 3.6,1.3zM536.9,864.6l-3.6-9.8 3.2-1.5 3.5,3.1z"/>
<path fill="#f6ee6c" d="M540.4,866.4l-3.5-1.8 3.1-8.2 3.6,2zM544,859.9l-3.6,6.5 3.2-8 3.6-1.2zM547.6,848.6l-3.6,11.3 3.2-2.7 3.6-6.7zM551.2,846.7l-3.6,1.9 3.2,1.9 3.5-4.1zM554.7,846.4l-3.5,0.3 3.1-0.3 3.6-1.6zM558.3,845.4l-3.6,1 3.2-1.6 3.6-3.3z"/>
<path fill="#f6ee6c" d="M561.9,849.6l-3.6-4.2 3.2-3.9 3.6,4.7zM565.5,854l-3.6-4.4 3.2-3.4 3.6,5.8zM569.1,852.9l-3.6,1.1 3.2-2 3.5-4z"/>
<path fill="#eaec70" d="M572.6,847.6l-3.5,5.3 3.1-4.9 3.6-6.6z"/>
<path fill="#d0e779" d="M576.2,843.3l-3.6,4.3 3.2-6.2 3.6-5.2z"/>
<path fill="#cbe67b" d="M579.8,844.6l-3.6-1.3 3.2-7.1 3.6-0.3z"/>
<path fill="#f6ee6c" d="M86.7,762l-3.6,4.8 3.2-8.4 3.6,1.2zM90.3,754l-3.6,8 3.2-2.4 3.5-1zM93.8,746.9l-3.5,7.1 3.1,4.6 3.6-5.1zM97.4,743.3l-3.6,3.6 3.2,6.6 3.6-7z"/>
<path fill="#f0ed6e" d="M101,747l-3.6-3.7 3.2,3.2 3.6,2.3z"/>
<path fill="#f6ee6c" d="M104.6,757.5l-3.6-10.5 3.2,1.8 3.5,11.8zM108.1,761.6l-3.5-4.1 3.1,3.1 3.6,5zM111.7,761.1l-3.6,0.5 3.2,4 3.6-3.7zM115.3,759.8l-3.6,1.3 3.2,0.8 3.6-3.2zM118.9,756.5l-3.6,3.3 3.2-1.1 3.5,4.1zM122.4,754.7l-3.5,1.8 3.1,6.3 3.6,2.1z"/>
<path fill="#f6ee6c" d="M126,764.4l-3.6-9.7 3.2,10.2 3.6-2.4zM129.6,773.6l-3.6-9.2 3.2-1.9 3.6,2.1zM133.2,778.1l-3.6-4.5 3.2-9 3.6,5zM136.8,778.5l-3.6-0.4 3.2-8.5 3.5,2.8zM140.3,777.5l-3.5,1 3.1-6.1 3.6,2.9zM143.9,778.3l-3.6-0.8 3.2-2.2 3.6,1.3z"/>
<path fill="#f6ee6c" d="M147.5,776.8l-3.6,1.5 3.2-1.7 3.6,0.8zM151.1,770.4l-3.6,6.4 3.2,0.6 3.5-3.4zM154.6,767.2l-3.5,3.2 3.1,3.6 3.6-3zM158.2,769.5l-3.6-2.3 3.2,3.8 3.6,0.8zM161.8,776.4l-3.6-6.9 3.2,2.3 3.6,1.9zM165.4,780.5l-3.6-4.1 3.2-2.7 3.5,4.2z"/>
<path fill="#f6ee6c" d="M168.9,774.4l-3.5,6.1 3.1-2.6 3.6-0.9zM172.5,770.2l-3.6,4.2 3.2,2.6 3.6-3.6zM176.1,781.3l-3.6-11.1 3.2,3.2 3.6,5.2zM179.7,788.8l-3.6-7.5 3.2-2.7 3.5,4.8zM183.2,788.1l-3.5,0.7 3.1-5.4 3.6-0.2zM186.8,785.7l-3.6,2.4 3.2-4.9 3.6-1.8z"/>
<path fill="#f6ee6c" d="M190.4,781.4l-3.6,4.3 3.2-4.3 3.6-5.6zM194,770.5l-3.6,10.9 3.2-5.6 3.5-8zM197.5,769.1l-3.5,1.4 3.1-2.7 3.6,0.7zM201.1,778.6l-3.6-9.5 3.2-0.6 3.6,3.8zM204.7,784.2l-3.6-5.6 3.2-6.3 3.6-0.1zM208.3,782.8l-3.6,1.4 3.2-12 3.5,9.4z"/>
<path fill="#f6ee6c" d="M211.8,784l-3.5-1.2 3.1-1.2 3.6,5.7zM215.4,790l-3.6-6 3.2,3.3 3.6,3.1zM219,794l-3.6-4 3.2,0.4 3.6,0.3zM222.6,792.7l-3.6,1.3 3.2-3.3 3.6-11zM226.2,785l-3.6,7.7 3.2-13 3.5-16.2zM229.7,782.1l-3.5,2.9 3.1-21.5 3.6,4.7z"/>
<path fill="#f6ee6c" d="M233.3,786.2l-3.6-4.1 3.2-13.9 3.6,12.9zM236.9,784.9l-3.6,1.3 3.2-5.1 3.6,7.5zM240.5,785.1l-3.6-0.2 3.2,3.7 3.5,2.3zM244,789.6l-3.5-4.5 3.1,5.8 3.6,1.9zM247.6,789.4l-3.6,0.2 3.2,3.2 3.6-3.7zM251.2,787.3l-3.6,2.1 3.2-0.3 3.6-3.6z"/>
<path fill="#f6ee6c" d="M254.8,791.2l-3.6-3.9 3.2-1.8 3.5,6zM258.3,796.9l-3.5-5.7 3.1,0.3 3.6,8zM261.9,797.4l-3.6-0.5 3.2,2.6 3.6-0.9zM265.5,795.5l-3.6,1.9 3.2,1.2 3.6-7.9zM269.1,793.8l-3.6,1.7 3.2-4.8 3.5-2.2zM272.6,791.6l-3.5,2.2 3.1-5.3 3.6-0.2z"/>
<path fill="#f6ee6c" d="M276.2,791.1l-3.6,0.5 3.2-3.3 3.6-3zM279.8,795.2l-3.6-4.1 3.2-5.8 3.6,0.6zM283.4,799.3l-3.6-4.1 3.2-9.3 3.5,4.6zM286.9,804.3l-3.5-5 3.1-8.8 3.6,6.3zM290.5,809.8l-3.6-5.5 3.2-7.5 3.6,6.6zM294.1,811l-3.6-1.2 3.2-6.4 3.6,5z"/>
<path fill="#f6ee6c" d="M297.7,811.2l-3.6-0.2 3.2-2.6 3.5,1.2zM301.3,811.1l-3.6,0.1 3.1-1.6 3.6-3.8zM304.8,807.5l-3.5,3.6 3.1-5.3 3.6-1.7zM308.4,805.7l-3.6,1.8 3.2-3.4 3.6,3.3zM312,810.5l-3.6-4.8 3.2,1.7 3.6,1.8zM315.6,812l-3.6-1.5 3.2-1.3 3.5-0.4z"/>
<path fill="#f6ee6c" d="M319.1,810.7l-3.5,1.3 3.1-3.2 3.6,1.7zM322.7,814l-3.6-3.3 3.2-0.2 3.6,3.7zM326.3,813.5l-3.6,0.5 3.2,0.2 3.6-1.6zM329.9,814.5l-3.6-1 3.2-0.9 3.5-1.4zM333.4,821.1l-3.5-6.6 3.1-3.3 3.6,4.6zM337,817.6l-3.6,3.5 3.2-5.3 3.6-0.6z"/>
<path fill="#f6ee6c" d="M340.6,804.1l-3.6,13.5 3.2-2.4 3.6-7.7zM344.2,800.5l-3.6,3.6 3.2,3.4 3.5-7.3z"/>
<path fill="#f3ed6d" d="M347.7,802.9l-3.5-2.4 3.1-0.3 3.6-1.8z"/>
<path fill="#f6ee6c" d="M351.3,807l-3.6-4.1 3.2-4.5 3.6,4zM354.9,811l-3.6-4 3.2-4.6 3.6,3.6zM358.5,812.2l-3.6-1.2 3.2-5 3.5-1zM362,812.5l-3.5-0.3 3.1-7.2 3.6,5.2zM365.6,814.3l-3.6-1.8 3.2-2.3 3.6,5.5zM369.2,811.7l-3.6,2.6 3.2,1.4 3.6-2.6z"/>
<path fill="#f6ee6c" d="M372.8,812.6l-3.6-0.9 3.2,1.4 3.5,3.2zM376.3,815.7l-3.5-3.1 3.1,3.7 3.6,3.1zM379.9,817.1l-3.6-1.4 3.2,3.7 3.6-1zM383.5,819.6l-3.6-2.5 3.2,1.3 3.6,3.5zM387.1,818.3l-3.6,1.3 3.2,2.3 3.6-0.3zM390.7,821.1l-3.6-2.8 3.2,3.3 3.5-3.8z"/>
<path fill="#f6ee6c" d="M394.2,828.1l-3.5-7 3.1-3.3 3.6,0.2zM397.8,826.7l-3.6,1.4 3.2-10.1 3.6,5.3zM401.4,822l-3.6,4.7 3.2-3.4 3.6,4.4zM405,819.3l-3.6,2.7 3.2,5.7 3.5-4.4zM408.5,817.5l-3.5,1.8 3.1,4 3.6-4.8zM412.1,819.7l-3.6-2.2 3.2,1 3.6,4.6z"/>
<path fill="#f6ee6c" d="M415.7,821.8l-3.6-2.1 3.2,3.4 3.6,3.2zM419.3,820.2l-3.6,1.6 3.2,4.5 3.5-4.3zM422.8,824.8l-3.5-4.6 3.1,1.8 3.6,3.8zM426.4,834.3l-3.6-9.5 3.2,1 3.6,7.9zM430,834.1l-3.6,0.2 3.2-0.6 3.6-0.2zM433.6,830.2l-3.6,3.9 3.2-0.6 3.5-2.5z"/>
<path fill="#f6ee6c" d="M437.1,831l-3.5-0.8 3.1,0.8 3.6-0.5zM440.7,830.7l-3.6,0.3 3.2-0.5 3.6-0.1zM444.3,828.9l-3.6,1.8 3.2-0.3 3.6-0.7zM447.9,835.2l-3.6-6.3 3.2,0.8 3.5,2.6zM451.4,838.9l-3.5-3.7 3.1-2.9 3.6,1zM455,834.8l-3.6,4.1 3.2-5.6 3.6-3.8z"/>
<path fill="#f6ee6c" d="M458.6,835.4l-3.6-0.6 3.2-5.3 3.6-1.2zM462.2,841.4l-3.6-6 3.2-7.1 3.5,6.5zM465.7,848.5l-3.5-7.1 3.1-6.6 3.6,10.1zM469.3,850.2l-3.6-1.7 3.2-3.6 3.6,2zM472.9,846l-3.6,4.2 3.2-3.3 3.6-1.7zM476.5,844.4l-3.6,1.6 3.2-0.8 3.6-2.3z"/>
<path fill="#f6ee6c" d="M480.1,850.5l-3.6-6.1 3.2-1.5 3.5,0.7zM483.6,853.5l-3.5-3 3.1-6.9 3.6,5.3zM487.2,852l-3.6,1.5 3.2-4.6 3.6,2.6zM490.8,848.5l-3.6,3.5 3.2-0.5 3.6-1.5zM494.4,843.2l-3.6,5.3 3.2,1.5 3.5-8zM497.9,847.2l-3.5-4 3.1-1.2 3.6-2.9z"/>
<path fill="#f6ee6c" d="M501.5,857.6l-3.6-10.4 3.2-8.1 3.6,5.4zM505.1,858.8l-3.6-1.2 3.2-13.1 3.6-1.5zM508.7,855.8l-3.6,3 3.2-15.8 3.5-2.9zM512.2,859.3l-3.5-3.5 3.1-15.7 3.6,3.6zM515.8,861.4l-3.6-2.1 3.2-15.6 3.6,2zM519.4,857.6l-3.6,3.8 3.2-15.7 3.6-1.6z"/>
<path fill="#f6ee6c" d="M523,854.7l-3.6,2.9 3.2-13.5 3.5,1zM526.5,857.6l-3.5-2.9 3.1-9.6 3.6,2.1zM530.1,864.9l-3.6-7.3 3.2-10.4 3.6,7.6zM533.7,869.4l-3.6-4.5 3.2-10.1 3.6,9.8zM537.3,869.3l-3.6,0.1 3.2-4.8 3.5,1.8zM540.8,863.5l-3.5,5.8 3.1-2.9 3.6-6.5z"/>
<path fill="#f6ee6c" d="M544.4,857.1l-3.6,6.4 3.2-3.6 3.6-11.3zM548,853.6l-3.6,3.5 3.2-8.5 3.6-1.9zM551.6,850.6l-3.6,3 3.2-6.9 3.5-0.3zM555.2,854l-3.6-3.4 3.1-4.2 3.6-1zM558.7,858.6l-3.5-4.6 3.1-8.6 3.6,4.2zM562.3,857.5l-3.6,1.1 3.2-9 3.6,4.4z"/>
<path fill="#f6ee6c" d="M565.9,855.6l-3.6,1.9 3.2-3.5 3.6-1.1z"/>
<path fill="#eeed6e" d="M569.5,850.9l-3.6,4.7 3.2-2.7 3.5-5.3z"/>
<path fill="#dde974" d="M573,847.4l-3.5,3.5 3.1-3.3 3.6-4.3zM576.6,850.2l-3.6-2.8 3.2-4.1 3.6,1.3z"/>
<path fill="#f6ee6c" d="M83.5,769.9l-3.6,1.2 3.2-4.3 3.6-4.8zM87.1,759.1l-3.6,10.8 3.2-7.9 3.6-8zM90.7,748.2l-3.6,10.9 3.2-5.1 3.5-7.1zM94.2,748.6l-3.5-0.4 3.1-1.3 3.6-3.6z"/>
<path fill="#f5ee6c" d="M97.8,759l-3.6-10.4 3.2-5.3 3.6,3.7z"/>
<path fill="#f6ee6c" d="M101.4,762.9l-3.6-3.9 3.2-12 3.6,10.5zM105,762l-3.6,0.9 3.2-5.4 3.5,4.1zM108.5,766l-3.5-4 3.1-0.4 3.6-0.5zM112.1,769.3l-3.6-3.3 3.2-4.9 3.6-1.3zM115.7,771.5l-3.6-2.2 3.2-9.5 3.6-3.3zM119.3,774.5l-3.6-3 3.2-15 3.5-1.8z"/>
<path fill="#f6ee6c" d="M122.8,776.6l-3.5-2.1 3.1-19.8 3.6,9.7zM126.4,773.4l-3.6,3.2 3.2-12.2 3.6,9.2zM130,778.4l-3.6-5 3.2,0.2 3.6,4.5zM133.6,782.7l-3.6-4.3 3.2-0.3 3.6,0.4zM137.2,784.2l-3.6-1.5 3.2-4.2 3.5-1zM140.7,782.4l-3.5,1.8 3.1-6.7 3.6,0.8z"/>
<path fill="#f6ee6c" d="M144.3,777.6l-3.6,4.8 3.2-4.1 3.6-1.5zM147.9,770.6l-3.6,7 3.2-0.8 3.6-6.4zM151.5,769.8l-3.6,0.8 3.2-0.2 3.5-3.2zM155,775.1l-3.5-5.3 3.1-2.6 3.6,2.3zM158.6,780.4l-3.6-5.3 3.2-5.6 3.6,6.9zM162.2,781.6l-3.6-1.2 3.2-4 3.6,4.1z"/>
<path fill="#f6ee6c" d="M165.8,776.1l-3.6,5.5 3.2-1.1 3.5-6.1zM169.3,775.8l-3.5,0.3 3.1-1.7 3.6-4.2zM172.9,784l-3.6-8.2 3.2-5.6 3.6,11.1zM176.5,785l-3.6-1 3.2-2.7 3.6,7.5zM180.1,781.5l-3.6,3.5 3.2,3.8 3.5-0.7zM183.6,782l-3.5-0.5 3.1,6.6 3.6-2.4z"/>
<path fill="#f6ee6c" d="M187.2,779.7l-3.6,2.3 3.2,3.7 3.6-4.3zM190.8,773.3l-3.6,6.4 3.2,1.7 3.6-10.9zM194.4,774.7l-3.6-1.4 3.2-2.8 3.5-1.4zM197.9,786.6l-3.5-11.9 3.1-5.6 3.6,9.5zM201.5,788.8l-3.6-2.2 3.2-8 3.6,5.6zM205.1,781.5l-3.6,7.3 3.2-4.6 3.6-1.4z"/>
<path fill="#f6ee6c" d="M208.7,786.8l-3.6-5.3 3.2,1.3 3.5,1.2zM212.2,796l-3.5-9.2 3.1-2.8 3.6,6zM215.8,799.1l-3.6-3.1 3.2-6 3.6,4zM219.4,802.3l-3.6-3.2 3.2-5.1 3.6-1.3zM223,800.3l-3.6,2 3.2-9.6 3.6-7.7zM226.6,795.7l-3.6,4.6 3.2-15.3 3.5-2.9z"/>
<path fill="#f6ee6c" d="M230.1,795.9l-3.5-0.2 3.1-13.6 3.6,4.1zM233.7,790.4l-3.6,5.5 3.2-9.7 3.6-1.3zM237.3,785.8l-3.6,4.6 3.2-5.5 3.6,0.2zM240.9,785.4l-3.6,0.4 3.2-0.7 3.5,4.5zM244.4,780.9l-3.5,4.5 3.1,4.2 3.6-0.2z"/>
<path fill="#ecec6f" d="M248,774l-3.6,6.9 3.2,8.5 3.6-2.1z"/>
<path fill="#cbe67b" d="M251.6,784.4l-3.6-10.4 3.2,13.3 3.6,3.9z"/>
<path fill="#f4ee6d" d="M255.2,790.8l-3.6-6.4 3.2,6.8 3.5,5.7z"/>
<path fill="#f6ee6c" d="M258.7,792.6l-3.5-1.8 3.1,6.1 3.6,0.5zM262.3,798l-3.6-5.4 3.2,4.8 3.6-1.9zM265.9,801.5l-3.6-3.5 3.2-2.5 3.6-1.7zM269.5,803.4l-3.6-1.9 3.2-7.7 3.5-2.2zM273,803.1l-3.5,0.3 3.1-11.8 3.6-0.5zM276.6,802.4l-3.6,0.7 3.2-12 3.6,4.1z"/>
<path fill="#f6ee6c" d="M280.2,802.8l-3.6-0.4 3.2-7.2 3.6,4.1zM283.8,806.8l-3.6-4 3.2-3.5 3.5,5zM287.3,804.8l-3.5,2 3.1-2.5 3.6,5.5zM290.9,795.4l-3.6,9.4 3.2,5 3.6,1.2zM294.5,801.9l-3.6-6.5 3.2,15.6 3.6,0.2zM298.1,814.1l-3.6-12.2 3.2,9.3 3.6-0.1z"/>
<path fill="#f6ee6c" d="M301.7,814.9l-3.6-0.8 3.2-3 3.5-3.6zM305.2,807.4l-3.5,7.5 3.1-7.4 3.6-1.8zM308.8,806l-3.6,1.4 3.2-1.7 3.6,4.8zM312.4,810.3l-3.6-4.3 3.2,4.5 3.6,1.5zM316,816.9l-3.6-6.6 3.2,1.7 3.5-1.3zM319.5,821.6l-3.5-4.7 3.1-6.2 3.6,3.3z"/>
<path fill="#f6ee6c" d="M323.1,820.4l-3.6,1.2 3.2-7.6 3.6-0.5zM326.7,823.8l-3.6-3.4 3.2-6.9 3.6,1zM330.3,825.9l-3.6-2.1 3.2-9.3 3.5,6.6zM333.8,814.2l-3.5,11.7 3.1-4.8 3.6-3.5zM337.4,806.6l-3.6,7.6 3.2,3.4 3.6-13.5zM341,811l-3.6-4.4 3.2-2.5 3.6-3.6z"/>
<path fill="#f6ee6c" d="M344.6,819.8l-3.6-8.8 3.2-10.5 3.5,2.4zM348.1,822.9l-3.5-3.1 3.1-16.9 3.6,4.1zM351.7,822l-3.6,0.9 3.2-15.9 3.6,4zM355.3,822.4l-3.6-0.4 3.2-11 3.6,1.2zM358.9,823.4l-3.6-1 3.2-10.2 3.5,0.3zM362.4,822.1l-3.5,1.3 3.1-10.9 3.6,1.8z"/>
<path fill="#f6ee6c" d="M366,815.4l-3.6,6.7 3.2-7.8 3.6-2.6zM369.6,814.5l-3.6,0.9 3.2-3.7 3.6,0.9zM373.2,817.2l-3.6-2.7 3.2-1.9 3.5,3.1zM376.7,818.2l-3.5-1 3.1-1.5 3.6,1.4zM380.3,819.8l-3.6-1.6 3.2-1.1 3.6,2.5zM383.9,820.1l-3.6-0.3 3.2-0.2 3.6-1.3z"/>
<path fill="#f6ee6c" d="M387.5,828l-3.6-7.9 3.2-1.8 3.6,2.8zM391.1,837l-3.6-9 3.2-6.9 3.5,7zM394.6,828.3l-3.5,8.7 3.1-8.9 3.6-1.4zM398.2,821.1l-3.6,7.2 3.2-1.6 3.6-4.7zM401.8,824.9l-3.6-3.8 3.2,0.9 3.6-2.7zM405.4,822.8l-3.6,2.1 3.2-5.6 3.5-1.8z"/>
<path fill="#f6ee6c" d="M408.9,822.1l-3.5,0.7 3.1-5.3 3.6,2.2zM412.5,824.5l-3.6-2.4 3.2-2.4 3.6,2.1zM416.1,822.3l-3.6,2.2 3.2-2.7 3.6-1.6z"/>
<path fill="#f5ee6c" d="M419.7,827.1l-3.6-4.8 3.2-2.1 3.5,4.6z"/>
<path fill="#f6ee6c" d="M423.2,838.2l-3.5-11.1 3.1-2.3 3.6,9.5zM426.8,835.5l-3.6,2.7 3.2-3.9 3.6-0.2zM430.4,830.4l-3.6,5.1 3.2-1.4 3.6-3.9zM434,832.3l-3.6-1.9 3.2-0.2 3.5,0.8zM437.5,833.2l-3.5-0.9 3.1-1.3 3.6-0.3zM441.1,832.1l-3.6,1.1 3.2-2.5 3.6-1.8z"/>
<path fill="#f6ee6c" d="M444.7,839.3l-3.6-7.2 3.2-3.2 3.6,6.3zM448.3,842.8l-3.6-3.5 3.2-4.1 3.5,3.7zM451.8,839.4l-3.5,3.4 3.1-3.9 3.6-4.1zM455.4,846.6l-3.6-7.2 3.2-4.6 3.6,0.6zM459,854.1l-3.6-7.5 3.2-11.2 3.6,6zM462.6,857.9l-3.6-3.8 3.2-12.7 3.5,7.1z"/>
<path fill="#f6ee6c" d="M466.2,859.5l-3.6-1.6 3.1-9.4 3.6,1.7zM469.7,856.7l-3.5,2.8 3.1-9.3 3.6-4.2zM473.3,854.5l-3.6,2.2 3.2-10.7 3.6-1.6zM476.9,860.6l-3.6-6.1 3.2-10.1 3.6,6.1zM480.5,862.7l-3.6-2.1 3.2-10.1 3.5,3zM484,857.2l-3.5,5.5 3.1-9.2 3.6-1.5z"/>
<path fill="#f6ee6c" d="M487.6,850.6l-3.6,6.6 3.2-5.2 3.6-3.5zM491.2,853.3l-3.6-2.7 3.2-2.1 3.6-5.3zM494.8,861.3l-3.6-8 3.2-10.1 3.5,4zM498.3,866.9l-3.5-5.6 3.1-14.1 3.6,10.4zM501.9,867.7l-3.6-0.8 3.2-9.3 3.6,1.2zM505.5,868.5l-3.6-0.8 3.2-8.9 3.6-3z"/>
<path fill="#f6ee6c" d="M509.1,869.3l-3.6-0.8 3.2-12.7 3.5,3.5zM512.6,869.8l-3.5-0.5 3.1-10 3.6,2.1zM516.2,866.4l-3.6,3.4 3.2-8.4 3.6-3.8zM519.8,861l-3.6,5.4 3.2-8.8 3.6-2.9zM523.4,865l-3.6-4 3.2-6.3 3.5,2.9zM526.9,871.6l-3.5-6.6 3.1-7.4 3.6,7.3z"/>
<path fill="#f6ee6c" d="M530.5,871.6l-3.6,0 3.2-6.7 3.6,4.5zM534.1,869l-3.6,2.6 3.2-2.2 3.6-0.1zM537.7,867.9l-3.6,1.1 3.2,0.3 3.5-5.8zM541.2,869.3l-3.5-1.4 3.1-4.4 3.6-6.4zM544.8,863.9l-3.6,5.4 3.2-12.2 3.6-3.5zM548.4,855.6l-3.6,8.3 3.2-10.3 3.6-3z"/>
<path fill="#f6ee6c" d="M552,859.9l-3.6-4.3 3.2-5 3.6,3.4zM555.6,865.9l-3.6-6 3.2-5.9 3.5,4.6zM559.1,863.4l-3.5,2.5 3.1-7.3 3.6-1.1zM562.7,860.3l-3.6,3.1 3.2-5.9 3.6-1.9z"/>
<path fill="#eeec6f" d="M566.3,854.9l-3.6,5.4 3.2-4.7 3.6-4.7z"/>
<path fill="#d6e876" d="M569.9,850.1l-3.6,4.8 3.2-4 3.5-3.5zM573.4,851l-3.5-0.9 3.1-2.7 3.6,2.8z"/>
</g>
<path d="M76.0,595.4L76.0,830.0 574.0,944.0 637.5,860.0" stroke="#222" stroke-width="1.3" fill="none"/>
<text x="58.0" y="597.9" font-size="15" text-anchor="end" textLength="27.0" lengthAdjust="spacingAndGlyphs" fill="#111" >0.05</text>
<text x="58.0" y="637.0" font-size="15" text-anchor="end" textLength="27.0" lengthAdjust="spacingAndGlyphs" fill="#111" >0.04</text>
<text x="58.0" y="676.1" font-size="15" text-anchor="end" textLength="27.0" lengthAdjust="spacingAndGlyphs" fill="#111" >0.03</text>
<text x="58.0" y="715.2" font-size="15" text-anchor="end" textLength="27.0" lengthAdjust="spacingAndGlyphs" fill="#111" >0.02</text>
<text x="58.0" y="754.3" font-size="15" text-anchor="end" textLength="27.0" lengthAdjust="spacingAndGlyphs" fill="#111" >0.01</text>
<text x="58.0" y="793.4" font-size="15" text-anchor="end" textLength="8.0" lengthAdjust="spacingAndGlyphs" fill="#111" >0</text>
<text x="472.5" y="958.0" font-size="15" text-anchor="middle" textLength="15.5" lengthAdjust="spacingAndGlyphs" fill="#111" >20</text>
<text x="396.8" y="940.7" font-size="15" text-anchor="middle" textLength="15.5" lengthAdjust="spacingAndGlyphs" fill="#111" >40</text>
<text x="321.1" y="923.4" font-size="15" text-anchor="middle" textLength="15.5" lengthAdjust="spacingAndGlyphs" fill="#111" >60</text>
<text x="245.4" y="906.1" font-size="15" text-anchor="middle" textLength="15.5" lengthAdjust="spacingAndGlyphs" fill="#111" >80</text>
<text x="169.7" y="888.7" font-size="15" text-anchor="middle" textLength="23.5" lengthAdjust="spacingAndGlyphs" fill="#111" >100</text>
<text x="94.1" y="871.4" font-size="15" text-anchor="middle" textLength="23.5" lengthAdjust="spacingAndGlyphs" fill="#111" >120</text>
<text x="609.8" y="949.8" font-size="15" text-anchor="middle" textLength="15.5" lengthAdjust="spacingAndGlyphs" fill="#111" >10</text>
<text x="625.7" y="928.8" font-size="15" text-anchor="middle" textLength="15.5" lengthAdjust="spacingAndGlyphs" fill="#111" >20</text>
<text x="641.6" y="907.8" font-size="15" text-anchor="middle" textLength="15.5" lengthAdjust="spacingAndGlyphs" fill="#111" >30</text>
<text x="657.4" y="886.8" font-size="15" text-anchor="middle" textLength="15.5" lengthAdjust="spacingAndGlyphs" fill="#111" >40</text>
<path d="M76.0,595.4L63.8,592.6M76.0,634.5L63.8,631.7M76.0,673.6L63.8,670.8M76.0,712.7L63.8,709.9M76.0,751.8L63.8,749.0M76.0,790.9L63.8,788.1M498.3,926.7L490.5,937.0M422.6,909.3L414.8,919.7M346.9,892.0L339.1,902.4M271.3,874.7L263.4,885.1M195.6,857.4L187.7,867.7M119.9,840.0L112.1,850.4M586.1,928.0L595.8,930.3M601.9,907.0L611.7,909.3M617.8,886.0L627.6,888.3M633.7,865.0L643.4,867.3" stroke="#222" stroke-width="1.1" fill="none"/>
<text x="22.8" y="713.0" font-size="15" text-anchor="middle" font-weight="bold" textLength="144.0" lengthAdjust="spacingAndGlyphs" transform="rotate(-90 22.8 713.0)" fill="#111" >Correlation Factor</text>
<text x="266.0" y="948.5" font-size="15.5" text-anchor="start" font-weight="bold" textLength="129.0" lengthAdjust="spacingAndGlyphs" transform="rotate(12.6 266.0 948.5)" fill="#111" >Along depth(mm)</text>
<text x="621.5" y="985.0" font-size="15.5" text-anchor="start" font-weight="bold" textLength="97.0" lengthAdjust="spacingAndGlyphs" transform="rotate(-52 621.5 985.0)" fill="#111" >Along length</text>
<text x="655.5" y="976.5" font-size="15.5" text-anchor="start" font-weight="bold" textLength="35.0" lengthAdjust="spacingAndGlyphs" transform="rotate(-52 655.5 976.5)" fill="#111" >(mm)</text>
<path d="M440.3,768.5L383.3,836 Q382.5,838 385,838.8L401,844.5 398.1,863.4 412.5,851.5 452,864 Q457,865.2 461,862 L468,857 522.4,801.5" stroke="#e2231a" stroke-width="3" fill="none" stroke-linejoin="round" stroke-linecap="round"/>
<path d="M506,818.2L434,792.5" stroke="#fff" stroke-width="3.6" fill="none"/>
<polygon points="422.6,788.4 437.8,787.3 434,798.5" fill="#fff"/>
<text x="322.9" y="869.9" font-size="25.5" text-anchor="start" font-weight="bold" textLength="130.5" lengthAdjust="spacingAndGlyphs" transform="rotate(12.8 322.9 869.9)" fill="#111" >Crack length</text>
<text x="61.8" y="1495.0" font-size="18.5" text-anchor="end" font-weight="bold" fill="#000" >0</text>
<text x="61.8" y="1422.4" font-size="18.5" text-anchor="end" font-weight="bold" fill="#000" >20</text>
<text x="61.8" y="1349.8" font-size="18.5" text-anchor="end" font-weight="bold" fill="#000" >40</text>
<text x="61.8" y="1277.2" font-size="18.5" text-anchor="end" font-weight="bold" fill="#000" >60</text>
<text x="61.8" y="1204.6" font-size="18.5" text-anchor="end" font-weight="bold" fill="#000" >80</text>
<text x="61.8" y="1132.0" font-size="18.5" text-anchor="end" font-weight="bold" fill="#000" >100</text>
<text x="61.8" y="1059.4" font-size="18.5" text-anchor="end" font-weight="bold" fill="#000" >120</text>
<text x="75.5" y="1517.2" font-size="18.5" text-anchor="middle" font-weight="bold" fill="#000" >0</text>
<text x="206.9" y="1517.2" font-size="18.5" text-anchor="middle" font-weight="bold" fill="#000" >1</text>
<text x="338.3" y="1517.2" font-size="18.5" text-anchor="middle" font-weight="bold" fill="#000" >2</text>
<text x="469.7" y="1517.2" font-size="18.5" text-anchor="middle" font-weight="bold" fill="#000" >3</text>
<text x="601.1" y="1517.2" font-size="18.5" text-anchor="middle" font-weight="bold" fill="#000" >4</text>
<text x="384.6" y="1543.6" font-size="22.5" text-anchor="middle" font-weight="bold" textLength="128.0" lengthAdjust="spacingAndGlyphs" fill="#000" >CMOD (mm)</text>
<text x="25.6" y="1266.2" font-size="22.5" text-anchor="middle" font-weight="bold" textLength="197.6" lengthAdjust="spacingAndGlyphs" transform="rotate(-90 25.6 1266.2)" fill="#000" >Crack length (mm)</text>
<g stroke-linejoin="round">
<polyline points="75.5,1488.6 82.1,1488.6 88.6,1468.6 101.8,1281.7 114.9,1231.2 128.1,1182.6 141.2,1170.6 206.9,1125.6 272.6,1101.3" fill="none" stroke="#000000" stroke-width="1.7"/>
<rect x="71.6" y="1484.7" width="7.8" height="7.8" fill="#000000"/><rect x="78.2" y="1484.7" width="7.8" height="7.8" fill="#000000"/><rect x="84.7" y="1464.7" width="7.8" height="7.8" fill="#000000"/><rect x="97.9" y="1277.8" width="7.8" height="7.8" fill="#000000"/><rect x="111.0" y="1227.3" width="7.8" height="7.8" fill="#000000"/><rect x="124.2" y="1178.7" width="7.8" height="7.8" fill="#000000"/><rect x="137.3" y="1166.7" width="7.8" height="7.8" fill="#000000"/><rect x="203.0" y="1121.7" width="7.8" height="7.8" fill="#000000"/><rect x="268.7" y="1097.4" width="7.8" height="7.8" fill="#000000"/>
<polyline points="75.5,1488.6 82.1,1488.6 88.6,1485.0 101.8,1321.6 114.9,1256.3 128.1,1204.4 141.2,1198.2 206.9,1129.6 272.6,1118.3 404.0,1119.1 601.1,1118.7" fill="none" stroke="#ff0000" stroke-width="1.7"/>
<circle cx="75.5" cy="1488.6" r="4.5" fill="#ff0000"/><circle cx="82.1" cy="1488.6" r="4.5" fill="#ff0000"/><circle cx="88.6" cy="1485.0" r="4.5" fill="#ff0000"/><circle cx="101.8" cy="1321.6" r="4.5" fill="#ff0000"/><circle cx="114.9" cy="1256.3" r="4.5" fill="#ff0000"/><circle cx="128.1" cy="1204.4" r="4.5" fill="#ff0000"/><circle cx="141.2" cy="1198.2" r="4.5" fill="#ff0000"/><circle cx="206.9" cy="1129.6" r="4.5" fill="#ff0000"/><circle cx="272.6" cy="1118.3" r="4.5" fill="#ff0000"/><circle cx="404.0" cy="1119.1" r="4.5" fill="#ff0000"/><circle cx="601.1" cy="1118.7" r="4.5" fill="#ff0000"/>
<polyline points="75.5,1488.6 82.1,1488.6 88.6,1481.3 101.8,1314.4 114.9,1245.4 128.1,1202.2 141.2,1190.2 206.9,1152.5 272.6,1097.3 404.0,1074.1 601.1,1070.1" fill="none" stroke="#0000ff" stroke-width="1.7"/>
<polygon points="75.5,1483.3 80.6,1492.3 70.4,1492.3" fill="#0000ff"/><polygon points="82.1,1483.3 87.1,1492.3 77.0,1492.3" fill="#0000ff"/><polygon points="88.6,1476.0 93.7,1485.0 83.6,1485.0" fill="#0000ff"/><polygon points="101.8,1309.1 106.8,1318.0 96.7,1318.0" fill="#0000ff"/><polygon points="114.9,1240.1 120.0,1249.1 109.9,1249.1" fill="#0000ff"/><polygon points="128.1,1196.9 133.1,1205.9 123.0,1205.9" fill="#0000ff"/><polygon points="141.2,1184.9 146.3,1193.9 136.1,1193.9" fill="#0000ff"/><polygon points="206.9,1147.2 212.0,1156.1 201.8,1156.1" fill="#0000ff"/><polygon points="272.6,1092.0 277.7,1101.0 267.5,1101.0" fill="#0000ff"/><polygon points="404.0,1068.8 409.1,1077.7 398.9,1077.7" fill="#0000ff"/><polygon points="601.1,1064.8 606.2,1073.7 596.0,1073.7" fill="#0000ff"/>
<polyline points="75.5,1488.6 82.1,1488.6 88.6,1455.2 101.8,1273.3 114.9,1198.2 128.1,1180.8 141.2,1149.6 206.9,1124.1 272.6,1100.6 404.0,1084.6 601.1,1073.7" fill="none" stroke="#008000" stroke-width="1.7"/>
<polygon points="75.5,1493.9 80.6,1484.9 70.4,1484.9" fill="#008000"/><polygon points="82.1,1493.9 87.1,1484.9 77.0,1484.9" fill="#008000"/><polygon points="88.6,1460.5 93.7,1451.5 83.6,1451.5" fill="#008000"/><polygon points="101.8,1278.6 106.8,1269.7 96.7,1269.7" fill="#008000"/><polygon points="114.9,1203.5 120.0,1194.5 109.9,1194.5" fill="#008000"/><polygon points="128.1,1186.1 133.1,1177.1 123.0,1177.1" fill="#008000"/><polygon points="141.2,1154.8 146.3,1145.9 136.1,1145.9" fill="#008000"/><polygon points="206.9,1129.4 212.0,1120.5 201.8,1120.5" fill="#008000"/><polygon points="272.6,1105.8 277.7,1096.9 267.5,1096.9" fill="#008000"/><polygon points="404.0,1089.9 409.1,1080.9 398.9,1080.9" fill="#008000"/><polygon points="601.1,1079.0 606.2,1070.0 596.0,1070.0" fill="#008000"/>
<polyline points="75.5,1488.6 82.1,1488.6 88.6,1488.6 101.8,1373.5 114.9,1314.4 128.1,1231.2 141.2,1198.9 206.9,1135.4 272.6,1126.7 404.0,1114.7 601.1,1096.9" fill="none" stroke="#ff00ff" stroke-width="1.7"/>
<polygon points="75.5,1482.8 81.2,1488.6 75.5,1494.3 69.8,1488.6" fill="#ff00ff"/><polygon points="82.1,1482.8 87.8,1488.6 82.1,1494.3 76.3,1488.6" fill="#ff00ff"/><polygon points="88.6,1482.8 94.4,1488.6 88.6,1494.3 82.9,1488.6" fill="#ff00ff"/><polygon points="101.8,1367.8 107.5,1373.5 101.8,1379.3 96.0,1373.5" fill="#ff00ff"/><polygon points="114.9,1308.6 120.7,1314.4 114.9,1320.1 109.2,1314.4" fill="#ff00ff"/><polygon points="128.1,1225.5 133.8,1231.2 128.1,1237.0 122.3,1231.2" fill="#ff00ff"/><polygon points="141.2,1193.2 146.9,1198.9 141.2,1204.7 135.4,1198.9" fill="#ff00ff"/><polygon points="206.9,1129.7 212.7,1135.4 206.9,1141.2 201.2,1135.4" fill="#ff00ff"/><polygon points="272.6,1120.9 278.4,1126.7 272.6,1132.4 266.9,1126.7" fill="#ff00ff"/><polygon points="404.0,1109.0 409.8,1114.7 404.0,1120.5 398.2,1114.7" fill="#ff00ff"/><polygon points="601.1,1091.2 606.9,1096.9 601.1,1102.7 595.4,1096.9" fill="#ff00ff"/>
<polyline points="75.5,1488.6 82.1,1488.6 88.6,1468.3 101.8,1307.1 114.9,1235.2 128.1,1169.5 141.2,1141.9 206.9,1125.6 272.6,1098.4 404.0,1079.1 601.1,1060.3" fill="none" stroke="#800080" stroke-width="1.7"/>
<polygon points="70.2,1488.6 79.2,1483.5 79.2,1493.7" fill="#800080"/><polygon points="76.8,1488.6 85.8,1483.5 85.8,1493.7" fill="#800080"/><polygon points="83.3,1468.3 92.3,1463.2 92.3,1473.3" fill="#800080"/><polygon points="96.5,1307.1 105.5,1302.0 105.5,1312.2" fill="#800080"/><polygon points="109.6,1235.2 118.6,1230.2 118.6,1240.3" fill="#800080"/><polygon points="122.8,1169.5 131.7,1164.5 131.7,1174.6" fill="#800080"/><polygon points="135.9,1141.9 144.9,1136.9 144.9,1147.0" fill="#800080"/><polygon points="201.6,1125.6 210.6,1120.5 210.6,1130.7" fill="#800080"/><polygon points="267.3,1098.4 276.3,1093.3 276.3,1103.4" fill="#800080"/><polygon points="398.7,1079.1 407.7,1074.1 407.7,1084.2" fill="#800080"/><polygon points="595.8,1060.3 604.8,1055.2 604.8,1065.3" fill="#800080"/>
<polyline points="75.5,1488.6 82.1,1488.6 88.6,1485.0 101.8,1306.4 114.9,1241.8 128.1,1224.7 141.2,1209.8 206.9,1144.1 272.6,1139.0 404.0,1091.5 601.1,1079.9" fill="none" stroke="#000080" stroke-width="1.7"/>
<polygon points="80.8,1488.6 71.8,1483.5 71.8,1493.7" fill="#000080"/><polygon points="87.4,1488.6 78.4,1483.5 78.4,1493.7" fill="#000080"/><polygon points="93.9,1485.0 85.0,1479.9 85.0,1490.0" fill="#000080"/><polygon points="107.1,1306.4 98.1,1301.3 98.1,1311.4" fill="#000080"/><polygon points="120.2,1241.8 111.2,1236.7 111.2,1246.8" fill="#000080"/><polygon points="133.3,1224.7 124.4,1219.6 124.4,1229.8" fill="#000080"/><polygon points="146.5,1209.8 137.5,1204.8 137.5,1214.9" fill="#000080"/><polygon points="212.2,1144.1 203.2,1139.1 203.2,1149.2" fill="#000080"/><polygon points="277.9,1139.0 268.9,1134.0 268.9,1144.1" fill="#000080"/><polygon points="409.3,1091.5 400.3,1086.4 400.3,1096.5" fill="#000080"/><polygon points="606.4,1079.9 597.4,1074.8 597.4,1084.9" fill="#000080"/>
<polyline points="75.5,1488.6 82.1,1488.6 88.6,1488.6 101.8,1457.4 114.9,1325.2 128.1,1286.8 141.2,1259.2 206.9,1119.1" fill="none" stroke="#ff8000" stroke-width="1.7"/>
<polygon points="79.9,1491.1 75.5,1493.7 71.1,1491.1 71.1,1486.1 75.5,1483.5 79.9,1486.1" fill="#ff8000"/><polygon points="86.5,1491.1 82.1,1493.7 77.7,1491.1 77.7,1486.1 82.1,1483.5 86.5,1486.1" fill="#ff8000"/><polygon points="93.0,1491.1 88.6,1493.7 84.3,1491.1 84.3,1486.1 88.6,1483.5 93.0,1486.1" fill="#ff8000"/><polygon points="106.2,1459.9 101.8,1462.4 97.4,1459.9 97.4,1454.9 101.8,1452.3 106.2,1454.9" fill="#ff8000"/><polygon points="119.3,1327.8 114.9,1330.3 110.5,1327.8 110.5,1322.7 114.9,1320.2 119.3,1322.7" fill="#ff8000"/><polygon points="132.4,1289.3 128.1,1291.8 123.7,1289.3 123.7,1284.2 128.1,1281.7 132.4,1284.2" fill="#ff8000"/><polygon points="145.6,1261.7 141.2,1264.2 136.8,1261.7 136.8,1256.7 141.2,1254.1 145.6,1256.7" fill="#ff8000"/><polygon points="211.3,1121.6 206.9,1124.1 202.5,1121.6 202.5,1116.5 206.9,1114.0 211.3,1116.5" fill="#ff8000"/>
<polyline points="75.5,1488.6 82.1,1488.6 88.6,1483.5 101.8,1412.0 114.9,1249.0 128.1,1205.5 141.2,1171.7 206.9,1134.3 272.6,1104.9 404.0,1098.4 601.1,1074.1" fill="none" stroke="#8000ff" stroke-width="1.7"/>
<polygon points="75.5,1482.6 76.9,1486.7 81.2,1486.8 77.7,1489.3 79.0,1493.4 75.5,1490.9 72.0,1493.4 73.3,1489.3 69.8,1486.8 74.1,1486.7" fill="#8000ff"/><polygon points="82.1,1482.6 83.4,1486.7 87.8,1486.8 84.3,1489.3 85.6,1493.4 82.1,1490.9 78.6,1493.4 79.9,1489.3 76.4,1486.8 80.7,1486.7" fill="#8000ff"/><polygon points="88.6,1477.5 90.0,1481.7 94.3,1481.7 90.8,1484.2 92.2,1488.4 88.6,1485.8 85.1,1488.4 86.5,1484.2 83.0,1481.7 87.3,1481.7" fill="#8000ff"/><polygon points="101.8,1406.0 103.1,1410.1 107.5,1410.2 104.0,1412.7 105.3,1416.8 101.8,1414.3 98.3,1416.8 99.6,1412.7 96.1,1410.2 100.4,1410.1" fill="#8000ff"/><polygon points="114.9,1243.0 116.3,1247.2 120.6,1247.2 117.1,1249.7 118.4,1253.9 114.9,1251.3 111.4,1253.9 112.7,1249.7 109.2,1247.2 113.6,1247.2" fill="#8000ff"/><polygon points="128.1,1199.5 129.4,1203.6 133.7,1203.6 130.2,1206.2 131.6,1210.3 128.1,1207.8 124.5,1210.3 125.9,1206.2 122.4,1203.6 126.7,1203.6" fill="#8000ff"/><polygon points="141.2,1165.7 142.6,1169.8 146.9,1169.9 143.4,1172.4 144.7,1176.5 141.2,1174.0 137.7,1176.5 139.0,1172.4 135.5,1169.9 139.8,1169.8" fill="#8000ff"/><polygon points="206.9,1128.3 208.3,1132.5 212.6,1132.5 209.1,1135.0 210.4,1139.1 206.9,1136.6 203.4,1139.1 204.7,1135.0 201.2,1132.5 205.5,1132.5" fill="#8000ff"/><polygon points="272.6,1098.9 274.0,1103.0 278.3,1103.1 274.8,1105.6 276.1,1109.7 272.6,1107.2 269.1,1109.7 270.4,1105.6 266.9,1103.1 271.2,1103.0" fill="#8000ff"/><polygon points="404.0,1092.4 405.4,1096.5 409.7,1096.5 406.2,1099.1 407.5,1103.2 404.0,1100.7 400.5,1103.2 401.8,1099.1 398.3,1096.5 402.6,1096.5" fill="#8000ff"/><polygon points="601.1,1068.1 602.5,1072.2 606.8,1072.2 603.3,1074.8 604.6,1078.9 601.1,1076.4 597.6,1078.9 598.9,1074.8 595.4,1072.2 599.7,1072.2" fill="#8000ff"/>
<polyline points="75.5,1488.6 82.1,1488.6 88.6,1488.6 101.8,1321.6 114.9,1262.5 128.1,1259.5 141.2,1234.1 206.9,1127.8 272.6,1097.3 404.0,1070.4 601.1,1069.0" fill="none" stroke="#ff0080" stroke-width="1.7"/>
<polygon points="75.5,1483.3 80.5,1487.0 78.6,1492.9 72.4,1492.9 70.5,1487.0" fill="#ff0080"/><polygon points="82.1,1483.3 87.1,1487.0 85.2,1492.9 79.0,1492.9 77.0,1487.0" fill="#ff0080"/><polygon points="88.6,1483.3 93.7,1487.0 91.7,1492.9 85.5,1492.9 83.6,1487.0" fill="#ff0080"/><polygon points="101.8,1316.3 106.8,1320.0 104.9,1325.9 98.7,1325.9 96.7,1320.0" fill="#ff0080"/><polygon points="114.9,1257.2 120.0,1260.8 118.0,1266.7 111.8,1266.7 109.9,1260.8" fill="#ff0080"/><polygon points="128.1,1254.3 133.1,1257.9 131.2,1263.8 125.0,1263.8 123.0,1257.9" fill="#ff0080"/><polygon points="141.2,1228.8 146.2,1232.5 144.3,1238.4 138.1,1238.4 136.2,1232.5" fill="#ff0080"/><polygon points="206.9,1122.5 211.9,1126.1 210.0,1132.1 203.8,1132.1 201.9,1126.1" fill="#ff0080"/><polygon points="272.6,1092.0 277.6,1095.7 275.7,1101.6 269.5,1101.6 267.6,1095.7" fill="#ff0080"/><polygon points="404.0,1065.1 409.0,1068.8 407.1,1074.7 400.9,1074.7 399.0,1068.8" fill="#ff0080"/><polygon points="601.1,1063.7 606.1,1067.3 604.2,1073.3 598.0,1073.3 596.1,1067.3" fill="#ff0080"/>
</g>
<rect x="75.5" y="1053.0" width="591.7" height="435.6" stroke="#000" stroke-width="1.75" fill="none"/><path d="M75.5,1488.6v8.3M75.5,1053.0v-8.3M141.2,1488.6v4.3M141.2,1053.0v-4.3M206.9,1488.6v8.3M206.9,1053.0v-8.3M272.6,1488.6v4.3M272.6,1053.0v-4.3M338.3,1488.6v8.3M338.3,1053.0v-8.3M404.0,1488.6v4.3M404.0,1053.0v-4.3M469.7,1488.6v8.3M469.7,1053.0v-8.3M535.4,1488.6v4.3M535.4,1053.0v-4.3M601.1,1488.6v8.3M601.1,1053.0v-8.3M667.2,1488.6v4.3M667.2,1053.0v-4.3M75.5,1488.6h-8.3M667.2,1488.6h8.3M75.5,1452.3h-4.3M667.2,1452.3h4.3M75.5,1416.0h-8.3M667.2,1416.0h8.3M75.5,1379.7h-4.3M667.2,1379.7h4.3M75.5,1343.4h-8.3M667.2,1343.4h8.3M75.5,1307.1h-4.3M667.2,1307.1h4.3M75.5,1270.8h-8.3M667.2,1270.8h8.3M75.5,1234.5h-4.3M667.2,1234.5h4.3M75.5,1198.2h-8.3M667.2,1198.2h8.3M75.5,1161.9h-4.3M667.2,1161.9h4.3M75.5,1125.6h-8.3M667.2,1125.6h8.3M75.5,1089.3h-4.3M667.2,1089.3h4.3M75.5,1053.0h-8.3M667.2,1053.0h8.3" stroke="#000" stroke-width="1.75" fill="none"/>
<path d="M605,1089.8 Q613.4,1089.3 613.4,1094 V1105 Q613.4,1108.9 616.6,1108.9 Q613.4,1108.9 613.4,1113 V1123 Q613.4,1127.5 605,1127" fill="none" stroke="#111" stroke-width="1.5"/>
<path d="M616,1108.9 H635.4 V1153 H534" fill="none" stroke="#111" stroke-width="1.3"/>
<polygon points="528.3,1153 536.5,1149.7 536.5,1156.3" fill="#111"/>
<text x="468.3" y="1159.3" font-size="18.6" text-anchor="start" textLength="49.7" lengthAdjust="spacingAndGlyphs" fill="#111" >SFRCs</text>
<rect x="501.5" y="1214.8" width="119" height="238.5" fill="#fff" stroke="#333" stroke-width="1"/>
<path d="M507.6,1230.5H550.6" stroke="#000000" stroke-width="1.7"/><rect x="525.7" y="1226.9" width="7.1" height="7.1" fill="#000000"/>
<text x="556.9" y="1237.0" font-size="18.7" text-anchor="start" fill="#111" >C</text>
<path d="M507.6,1254.2H550.6" stroke="#ff0000" stroke-width="1.7"/><circle cx="529.3" cy="1254.2" r="4.1" fill="#ff0000"/>
<text x="556.9" y="1260.7" font-size="18.7" text-anchor="start" fill="#111" >SF50</text>
<path d="M507.6,1277.8H550.6" stroke="#0000ff" stroke-width="1.7"/><polygon points="529.3,1273.0 533.9,1281.2 524.7,1281.2" fill="#0000ff"/>
<text x="556.9" y="1284.3" font-size="18.7" text-anchor="start" fill="#111" >HB50</text>
<path d="M507.6,1301.5H550.6" stroke="#008000" stroke-width="1.7"/><polygon points="529.3,1306.3 533.9,1298.1 524.7,1298.1" fill="#008000"/>
<text x="556.9" y="1308.0" font-size="18.7" text-anchor="start" fill="#111" >PO50</text>
<path d="M507.6,1325.1H550.6" stroke="#ff00ff" stroke-width="1.7"/><polygon points="529.3,1319.9 534.5,1325.1 529.3,1330.4 524.0,1325.1" fill="#ff00ff"/>
<text x="556.9" y="1331.6" font-size="18.7" text-anchor="start" fill="#111" >SF75</text>
<path d="M507.6,1348.8H550.6" stroke="#800080" stroke-width="1.7"/><polygon points="524.5,1348.8 532.7,1344.2 532.7,1353.4" fill="#800080"/>
<text x="556.9" y="1355.3" font-size="18.7" text-anchor="start" fill="#111" >HB75</text>
<path d="M507.6,1372.5H550.6" stroke="#000080" stroke-width="1.7"/><polygon points="534.1,1372.5 525.9,1367.8 525.9,1377.1" fill="#000080"/>
<text x="556.9" y="1379.0" font-size="18.7" text-anchor="start" fill="#111" >PO75</text>
<path d="M507.6,1396.1H550.6" stroke="#ff8000" stroke-width="1.7"/><polygon points="533.3,1398.4 529.3,1400.7 525.3,1398.4 525.3,1393.8 529.3,1391.5 533.3,1393.8" fill="#ff8000"/>
<text x="556.9" y="1402.6" font-size="18.7" text-anchor="start" fill="#111" >SF100</text>
<path d="M507.6,1419.8H550.6" stroke="#8000ff" stroke-width="1.7"/><polygon points="529.3,1414.3 530.5,1418.1 534.5,1418.1 531.3,1420.4 532.5,1424.2 529.3,1421.9 526.1,1424.2 527.3,1420.4 524.1,1418.1 528.1,1418.1" fill="#8000ff"/>
<text x="556.9" y="1426.3" font-size="18.7" text-anchor="start" fill="#111" >HB100</text>
<path d="M507.6,1443.4H550.6" stroke="#ff0080" stroke-width="1.7"/><polygon points="529.3,1438.6 533.9,1441.9 532.1,1447.3 526.5,1447.3 524.7,1441.9" fill="#ff0080"/>
<text x="556.9" y="1449.9" font-size="18.7" text-anchor="start" fill="#111" >PO100</text>
<circle cx="317.5" cy="1330.5" r="8" fill="#e9b6a4" stroke="#c9694a" stroke-width="1.2"/>
<circle cx="166.4" cy="1448.4" r="8" fill="#e9b6a4" stroke="#c9694a" stroke-width="1.2"/>
<circle cx="468.8" cy="1448" r="8" fill="#e9b6a4" stroke="#c9694a" stroke-width="1.2"/>
<rect x="150.2" y="1340.1" width="335.3" height="100" fill="#afafaf" stroke="#222" stroke-width="1.3"/>
<rect x="315.3" y="1423.6" width="4.5" height="17" fill="#cfcfcf" stroke="#222" stroke-width="1"/>
<path d="M320,1423.6H452" stroke="#222" stroke-width="1.6" stroke-dasharray="10 4.6" fill="none"/>
<path d="M317.5,1304V1333M166.4,1476V1447M468.8,1476V1447" stroke="#111" stroke-width="1.4"/>
<polygon points="317.5,1339.5 314.3,1331 320.7,1331" fill="#111"/>
<polygon points="166.4,1441 163.2,1449.5 169.6,1449.5" fill="#111"/>
<polygon points="468.8,1441 465.6,1449.5 472,1449.5" fill="#111"/>
<text x="222.4" y="1377.5" font-size="23.3" text-anchor="start" font-weight="bold" textLength="147.5" lengthAdjust="spacingAndGlyphs" fill="#111" >Crack Length</text>
<polygon points="381,1358.5 390.3,1378.4 385.3,1378.4 385.3,1423.4 376.7,1423.4 376.7,1378.4 371.7,1378.4" fill="#00b0f0" stroke="#f4f000" stroke-width="1.3"/>
<text x="389.2" y="1420.8" font-size="22.3" text-anchor="start" textLength="71.2" lengthAdjust="spacingAndGlyphs" fill="#111" >0 level</text>
<text x="9.5" y="44" class="ser" font-weight="bold" font-size="49" fill="#000">a</text>
<text x="16" y="493.5" class="ser" font-weight="bold" font-size="49" fill="#000">b</text>
<text x="13" y="977.5" class="ser" font-weight="bold" font-size="49" fill="#000">c</text>
</svg>
</body></html>
